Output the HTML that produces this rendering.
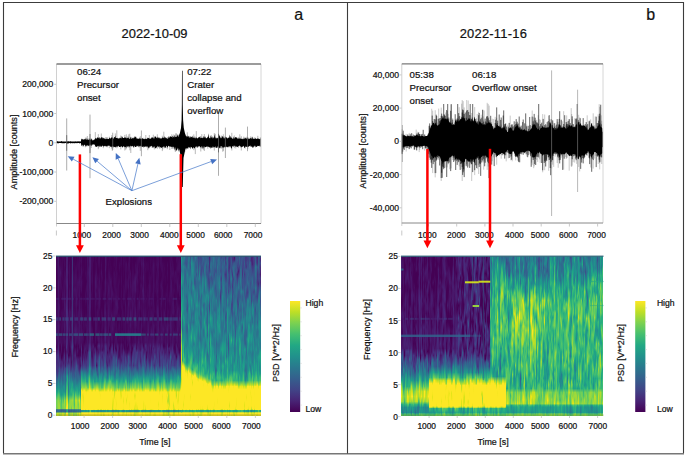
<!DOCTYPE html>
<html><head><meta charset="utf-8"><style>
html,body{margin:0;padding:0;background:#fff;overflow:hidden;width:685px;height:457px;position:relative}
.sp{position:absolute;display:flex}
.sp i{display:block;flex:1 1 0;height:100%}
svg{position:absolute;left:0;top:0;display:block}
text{font-family:"Liberation Sans",sans-serif;stroke:#111;stroke-width:0.22px;paint-order:stroke}
</style></head><body>
<div class="sp" style="left:56px;top:255.5px;width:205px;height:160.0px"><i style="background:linear-gradient(#46075a 0.0px,#450559 5.2px,#46075a 8.6px,#440256 13.2px,#440154 17.3px,#440154 20.9px,#440154 25.1px,#440154 30.4px,#440154 35.4px,#440256 38.4px,#450559 43.8px,#460a5d 47.8px,#460a5d 51.6px,#460a5d 56.6px,#471164 59.7px,#471164 64.4px,#471365 69.0px,#481769 73.8px,#481769 76.9px,#470e61 81.3px,#470e61 87.4px,#440154 90.9px,#471164 96.0px,#482979 99.5px,#472f7d 104.0px,#482878 105.8px,#46337f 109.9px,#46337f 113.2px,#404688 117.9px,#38598c 120.5px,#32648e 123.2px,#2d718e 127.9px,#1f978b 132.5px,#21a585 136.2px,#28ae80 138.9px,#6ece58 144.5px,#73d056 149.2px,#70cf57 152.8px,#34618d 153.7px,#375a8c 156.1px,#86d549 156.9px,#a2da37 160.0px)"></i><i style="background:linear-gradient(#460a5d 0.0px,#450457 4.1px,#46075a 9.0px,#450457 12.0px,#450457 17.0px,#440154 20.7px,#440154 25.8px,#440154 30.6px,#440154 33.6px,#440154 39.7px,#440154 42.4px,#450457 47.1px,#450559 51.7px,#460b5e 55.5px,#46085c 61.1px,#46075a 65.3px,#470d60 69.4px,#460b5e 73.4px,#471164 78.1px,#471164 81.9px,#450559 86.9px,#46075a 91.6px,#481a6c 95.7px,#472e7c 99.5px,#472a7a 102.7px,#472c7a 107.2px,#46337f 109.9px,#453581 113.1px,#453581 117.3px,#404688 120.5px,#2e6d8e 124.7px,#297a8e 127.9px,#238a8d 131.4px,#1fa287 136.0px,#3aba76 138.9px,#7fd34e 144.5px,#86d549 149.6px,#7fd34e 152.8px,#306a8e 153.7px,#2e6e8e 156.1px,#bade28 156.9px,#d2e21b 160.0px)"></i><i style="background:linear-gradient(#460b5e 0.0px,#471164 3.6px,#470d60 7.7px,#470d60 12.6px,#46085c 16.4px,#46085c 22.6px,#470e61 25.5px,#470e61 29.6px,#470e61 34.8px,#460a5d 39.8px,#46085c 44.0px,#470d60 48.3px,#470d60 51.3px,#471164 55.8px,#471063 59.7px,#46085c 65.3px,#470e61 68.9px,#470e61 73.9px,#470e61 76.9px,#471063 82.7px,#470e61 85.8px,#482374 91.8px,#482576 94.7px,#443b84 99.5px,#414287 102.9px,#46327e 107.1px,#46327e 109.9px,#3e4c8a 113.7px,#3e4c8a 116.1px,#31688e 120.5px,#26828e 125.1px,#20928c 127.9px,#1f978b 132.0px,#2eb37c 135.7px,#54c568 138.9px,#90d743 144.5px,#9dd93b 148.7px,#a0da39 152.8px,#2c728e 153.7px,#2f6b8e 156.1px,#b2dd2d 156.9px,#b5de2b 160.0px)"></i><i style="background:linear-gradient(#440154 0.0px,#450457 3.7px,#450457 9.0px,#470e61 12.6px,#471063 18.0px,#470d60 21.3px,#470d60 26.3px,#460a5d 30.4px,#46075a 33.9px,#46085c 39.3px,#46085c 44.2px,#460a5d 46.7px,#471164 52.1px,#460a5d 56.5px,#46085c 61.2px,#46075a 64.5px,#470e61 69.9px,#460b5e 74.0px,#46085c 77.3px,#460b5e 82.7px,#471164 86.4px,#450559 90.3px,#46075a 94.7px,#481467 99.5px,#482374 102.6px,#443983 106.9px,#443a83 109.9px,#3d4d8a 112.7px,#34608d 117.3px,#306a8e 120.5px,#2c728e 124.8px,#287d8e 127.9px,#20928c 131.6px,#24aa83 136.0px,#40bd72 138.9px,#7cd250 144.5px,#9bd93c 149.1px,#a5db36 152.8px,#2d718e 153.7px,#306a8e 156.1px,#b0dd2f 156.9px,#7ad151 160.0px)"></i><i style="background:linear-gradient(#440256 0.0px,#46075a 4.4px,#46085c 9.6px,#470d60 13.1px,#481668 16.6px,#470e61 21.1px,#470e61 26.6px,#460b5e 31.0px,#46075a 34.4px,#46075a 38.7px,#440256 42.7px,#440256 48.3px,#440256 52.9px,#450457 57.1px,#450457 60.5px,#450559 65.7px,#46085c 68.6px,#450457 72.7px,#450559 78.0px,#470d60 81.9px,#470e61 86.5px,#440256 90.0px,#440154 94.5px,#481467 99.5px,#482071 102.9px,#472a7a 106.4px,#482576 109.9px,#433e85 113.9px,#3d4e8a 117.4px,#39558c 120.5px,#31668e 124.0px,#297b8e 127.9px,#25838e 131.5px,#1f948c 134.8px,#1fa287 138.9px,#6ece58 144.5px,#67cc5c 148.0px,#75d054 152.8px,#33628d 153.7px,#2e6d8e 156.1px,#b8de29 156.9px,#a2da37 160.0px)"></i><i style="background:linear-gradient(#450457 0.0px,#450457 4.1px,#46075a 8.8px,#460a5d 14.0px,#460b5e 17.8px,#450559 22.3px,#46075a 26.6px,#460a5d 31.1px,#450559 35.4px,#440154 38.3px,#440154 42.9px,#440154 47.1px,#440154 52.5px,#46085c 56.2px,#450559 61.5px,#46085c 65.0px,#46075a 68.3px,#460a5d 73.0px,#460b5e 77.7px,#460b5e 81.5px,#470e61 86.6px,#481668 89.9px,#471365 94.7px,#440154 99.5px,#440154 102.0px,#482374 105.7px,#482475 109.9px,#424086 113.8px,#3d4e8a 117.0px,#33628d 120.5px,#297b8e 125.1px,#25838e 127.9px,#25848e 130.8px,#20928c 134.6px,#1f978b 138.9px,#3fbc73 144.5px,#4ec36b 147.8px,#58c765 152.8px,#39568c 153.7px,#33638d 156.1px,#9dd93b 156.9px,#b2dd2d 160.0px)"></i><i style="background:linear-gradient(#460b5e 0.0px,#46075a 3.7px,#46075a 8.2px,#46085c 12.8px,#450559 16.8px,#46075a 21.0px,#450457 25.7px,#440256 29.4px,#460a5d 35.3px,#470e61 39.1px,#460a5d 43.3px,#450559 47.5px,#450457 52.0px,#460a5d 57.2px,#460a5d 60.3px,#460a5d 65.0px,#460b5e 68.6px,#460b5e 73.3px,#46085c 77.1px,#460b5e 82.9px,#460b5e 86.9px,#440154 91.4px,#440154 95.7px,#440154 99.5px,#470d60 102.2px,#482677 106.7px,#472f7d 109.9px,#414487 112.7px,#3e4c8a 117.2px,#375a8c 120.5px,#34618d 123.5px,#2a768e 127.9px,#25838e 130.9px,#1f968b 134.5px,#1f9f88 138.9px,#65cb5e 144.5px,#7cd250 148.7px,#75d054 152.8px,#355f8d 153.7px,#2b748e 156.1px,#cde11d 156.9px,#e2e418 160.0px)"></i><i style="background:linear-gradient(#460b5e 0.0px,#450559 3.6px,#440154 8.4px,#440256 12.8px,#440154 18.3px,#450457 22.2px,#450559 26.1px,#46085c 30.7px,#46075a 33.6px,#460b5e 38.7px,#46085c 42.8px,#450457 47.9px,#450457 51.2px,#460b5e 57.1px,#460a5d 60.2px,#460b5e 65.6px,#460a5d 69.9px,#450559 73.5px,#46085c 76.9px,#470e61 81.4px,#460a5d 86.3px,#440256 91.3px,#440154 95.1px,#471063 99.5px,#482071 103.8px,#481a6c 107.2px,#482979 109.9px,#46337f 113.1px,#39558c 117.9px,#31678e 120.5px,#30698e 124.3px,#2a778e 127.9px,#218e8d 130.7px,#228c8d 134.3px,#22a785 138.9px,#4ec36b 144.5px,#7cd250 148.4px,#7cd250 152.8px,#33628d 153.7px,#2e6d8e 156.1px,#b8de29 156.9px,#e7e419 160.0px)"></i><i style="background:linear-gradient(#450559 0.0px,#46085c 4.2px,#460b5e 8.0px,#450559 13.8px,#460b5e 16.9px,#460a5d 22.2px,#470d60 25.4px,#460b5e 30.2px,#470e61 34.4px,#471164 39.5px,#471164 43.0px,#481769 47.0px,#481467 52.6px,#470d60 56.5px,#471063 59.9px,#471063 64.4px,#481668 68.4px,#481769 74.2px,#471063 77.7px,#471063 82.9px,#471365 86.7px,#46085c 91.4px,#481769 95.7px,#472d7b 99.5px,#46337f 102.9px,#482878 105.9px,#453781 109.9px,#3c508b 113.2px,#33638d 117.0px,#2c718e 120.5px,#2a778e 125.2px,#27808e 127.9px,#1f958b 131.1px,#1f998a 135.7px,#34b679 138.9px,#98d83e 144.5px,#a0da39 148.2px,#8bd646 152.8px,#31688e 153.7px,#31678e 156.1px,#a8db34 156.9px,#95d840 160.0px)"></i><i style="background:linear-gradient(#450457 0.0px,#440154 4.6px,#450457 9.1px,#440154 12.0px,#46075a 17.8px,#470d60 22.4px,#470d60 26.8px,#46085c 31.0px,#46075a 34.4px,#450559 38.2px,#46075a 42.9px,#470d60 48.3px,#471063 52.3px,#470e61 56.2px,#470e61 59.6px,#460b5e 64.0px,#470d60 69.3px,#460b5e 74.3px,#46075a 78.1px,#46085c 81.9px,#470e61 85.5px,#46085c 90.3px,#440256 95.4px,#46085c 99.5px,#470e61 102.6px,#481b6d 106.5px,#481a6c 109.9px,#433d84 112.5px,#3f4889 117.0px,#355f8d 120.5px,#32658e 124.1px,#2e6f8e 127.9px,#2a768e 130.6px,#26828e 135.9px,#1e9b8a 138.9px,#67cc5c 144.5px,#70cf57 149.2px,#84d44b 152.8px,#32658e 153.7px,#3a548c 156.1px,#7ad151 156.9px,#c0df25 160.0px)"></i><i style="background:linear-gradient(#481d6f 0.0px,#481b6d 3.6px,#481b6d 8.9px,#482173 13.7px,#481f70 17.3px,#481c6e 22.1px,#481f70 25.2px,#481c6e 29.4px,#48186a 34.1px,#481b6d 39.5px,#482173 42.8px,#482576 48.3px,#482878 51.0px,#472d7b 56.2px,#482878 60.4px,#482878 65.5px,#482173 69.6px,#481d6f 74.0px,#482173 78.1px,#482475 81.5px,#482878 87.0px,#463480 91.3px,#481a6c 95.6px,#482576 99.5px,#482979 102.9px,#46327e 106.3px,#404688 109.9px,#34608d 112.7px,#287c8e 117.6px,#218e8d 120.5px,#228c8d 124.1px,#27ad81 127.9px,#37b878 132.5px,#4cc26c 134.8px,#70cf57 138.9px,#d0e11c 144.5px,#dde318 148.6px,#fbe723 152.8px,#21908d 153.7px,#20938c 156.1px,#fde725 156.9px,#fde725 160.0px)"></i><i style="background:linear-gradient(#481a6c 0.0px,#481c6e 4.0px,#481a6c 8.9px,#481c6e 13.9px,#481f70 16.7px,#481b6d 21.4px,#482071 25.5px,#482475 29.5px,#481f70 33.7px,#482071 39.9px,#482173 42.9px,#481f70 48.0px,#482374 52.5px,#472a7a 56.5px,#472a7a 60.1px,#482677 65.2px,#482979 70.1px,#482878 73.5px,#481d6f 78.7px,#482576 82.9px,#482576 87.1px,#481a6c 91.2px,#48186a 96.1px,#46307e 99.5px,#423f85 103.0px,#46327e 107.3px,#404588 109.9px,#32648e 112.6px,#277e8e 117.4px,#20a486 120.5px,#28ae80 123.4px,#2db27d 127.9px,#42be71 131.3px,#50c46a 135.4px,#67cc5c 138.9px,#dae319 144.5px,#fde725 149.0px,#fde725 152.8px,#22a785 153.7px,#1fa287 156.1px,#fde725 156.9px,#fde725 160.0px)"></i><i style="background:linear-gradient(#440154 0.0px,#440154 4.7px,#440154 8.0px,#440256 12.2px,#450457 16.6px,#440154 21.9px,#440154 25.3px,#440154 31.1px,#440154 35.0px,#440256 38.5px,#440154 43.5px,#440154 46.7px,#440154 52.1px,#450559 55.5px,#470e61 60.8px,#471365 64.4px,#471164 69.3px,#471063 73.9px,#470d60 77.3px,#460a5d 81.3px,#46085c 85.8px,#460b5e 91.5px,#470d60 96.1px,#440154 99.5px,#481a6c 103.1px,#481b6d 105.6px,#423f85 109.9px,#3e4c8a 113.6px,#3c4f8a 116.6px,#31688e 120.5px,#2a768e 123.5px,#2a778e 127.9px,#2b748e 132.1px,#287d8e 136.0px,#228d8d 138.9px,#3bbb75 144.5px,#69cd5b 148.7px,#65cb5e 152.8px,#355f8d 153.7px,#3a548c 156.1px,#7ad151 156.9px,#81d34d 160.0px)"></i><i style="background:linear-gradient(#440154 0.0px,#450457 4.5px,#460a5d 9.5px,#460b5e 12.0px,#460b5e 18.0px,#460b5e 22.5px,#460a5d 26.7px,#450559 30.4px,#470e61 35.4px,#470e61 38.9px,#460b5e 43.0px,#470d60 47.6px,#470d60 51.0px,#481467 55.3px,#471063 60.6px,#471164 65.1px,#470e61 68.4px,#48186a 74.1px,#471365 77.2px,#471164 81.6px,#460a5d 86.5px,#440256 91.4px,#440154 95.2px,#450559 99.5px,#472f7d 103.8px,#472e7c 106.9px,#414487 109.9px,#375a8c 113.6px,#2c728e 117.7px,#277e8e 120.5px,#21918c 123.9px,#20938c 127.9px,#1fa187 131.7px,#1f9e89 135.5px,#28ae80 138.9px,#77d153 144.5px,#89d548 147.8px,#8bd646 152.8px,#31688e 153.7px,#3a548c 156.1px,#7ad151 156.9px,#77d153 160.0px)"></i><i style="background:linear-gradient(#450457 0.0px,#440256 3.9px,#440154 9.6px,#440154 12.6px,#440154 18.1px,#440154 20.7px,#440256 25.5px,#440154 29.7px,#440154 33.6px,#440256 39.4px,#450457 42.7px,#450457 47.8px,#450457 51.1px,#470e61 56.4px,#470d60 60.6px,#46085c 64.8px,#46075a 69.8px,#460a5d 73.2px,#450559 78.3px,#46075a 82.8px,#470e61 86.0px,#470e61 90.4px,#450457 95.4px,#470d60 99.5px,#481f70 102.3px,#482475 105.4px,#472e7c 109.9px,#443983 113.6px,#365d8d 117.4px,#2e6e8e 120.5px,#297a8e 123.4px,#1f968b 127.9px,#1f988b 131.7px,#23a983 135.2px,#28ae80 138.9px,#8ed645 144.5px,#95d840 148.7px,#98d83e 152.8px,#2f6b8e 153.7px,#33628d 156.1px,#9bd93c 156.9px,#aadc32 160.0px)"></i><i style="background:linear-gradient(#460a5d 0.0px,#440256 5.2px,#440256 7.7px,#450457 12.3px,#450457 16.5px,#46075a 21.9px,#460a5d 26.7px,#46085c 30.4px,#460a5d 33.7px,#470e61 38.9px,#470d60 42.5px,#46075a 46.8px,#470d60 51.5px,#471365 56.9px,#481769 61.0px,#471164 65.9px,#481769 69.2px,#471365 72.9px,#471164 77.6px,#460b5e 81.4px,#48186a 86.3px,#482979 91.1px,#481d6f 95.5px,#471164 99.5px,#471365 103.9px,#460a5d 106.2px,#481b6d 109.9px,#46327e 112.6px,#31678e 117.7px,#2d708e 120.5px,#25838e 123.5px,#1f998a 127.9px,#21a585 131.2px,#2cb17e 134.5px,#27ad81 138.9px,#98d83e 144.5px,#8ed645 149.1px,#6ccd5a 152.8px,#365d8d 153.7px,#33638d 156.1px,#9dd93b 156.9px,#b0dd2f 160.0px)"></i><i style="background:linear-gradient(#471063 0.0px,#471365 5.1px,#471164 8.1px,#471063 13.1px,#471063 16.4px,#48186a 22.0px,#481c6e 25.2px,#481d6f 29.9px,#48186a 34.7px,#481668 38.9px,#471063 43.8px,#471063 46.7px,#471164 51.3px,#481467 55.6px,#481c6e 60.3px,#481c6e 65.6px,#48186a 70.1px,#481b6d 74.5px,#48186a 77.2px,#481668 81.6px,#481f70 86.1px,#463480 91.0px,#482071 95.8px,#471063 99.5px,#481769 103.0px,#470e61 105.5px,#482374 109.9px,#3f4788 113.8px,#3a548c 117.2px,#34608d 120.5px,#2a768e 124.0px,#20a486 127.9px,#21a585 131.6px,#27ad81 134.7px,#40bd72 138.9px,#a5db36 144.5px,#95d840 148.2px,#a8db34 152.8px,#2e6f8e 153.7px,#2e6d8e 156.1px,#b8de29 156.9px,#c5e021 160.0px)"></i><i style="background:linear-gradient(#440154 0.0px,#440256 4.5px,#450457 8.4px,#440154 12.7px,#46085c 16.6px,#460a5d 22.4px,#470d60 26.0px,#46085c 31.0px,#470d60 34.8px,#460b5e 38.1px,#460a5d 42.3px,#46085c 46.9px,#46075a 51.7px,#460a5d 55.6px,#470d60 60.3px,#460b5e 65.7px,#46075a 68.3px,#46085c 72.7px,#471063 78.3px,#470d60 82.7px,#471063 86.0px,#481c6e 90.0px,#470e61 94.9px,#481769 99.5px,#48186a 103.4px,#482173 106.0px,#472a7a 109.9px,#423f85 113.4px,#3c508b 116.8px,#32648e 120.5px,#2a778e 125.0px,#25858e 127.9px,#1f958b 131.8px,#27ad81 134.9px,#54c568 138.9px,#7ad151 144.5px,#7fd34e 148.4px,#95d840 152.8px,#2e6e8e 153.7px,#375b8d 156.1px,#89d548 156.9px,#6ccd5a 160.0px)"></i><i style="background:linear-gradient(#440154 0.0px,#440154 3.6px,#450559 9.2px,#450457 12.4px,#450559 16.5px,#460b5e 21.3px,#460b5e 26.3px,#460a5d 30.3px,#471063 33.6px,#460b5e 39.1px,#450559 43.7px,#46075a 48.1px,#450559 51.3px,#46085c 55.4px,#471063 60.3px,#460b5e 64.3px,#470d60 70.1px,#481467 73.9px,#471164 77.5px,#460a5d 82.8px,#460a5d 86.7px,#440154 89.9px,#470d60 94.6px,#482071 99.5px,#481b6d 102.5px,#472a7a 107.3px,#46327e 109.9px,#423f85 113.7px,#3a538b 116.3px,#38588c 120.5px,#297a8e 124.9px,#277f8e 127.9px,#228c8d 131.3px,#21a685 136.2px,#24aa83 138.9px,#50c46a 144.5px,#46c06f 148.8px,#63cb5f 152.8px,#32648e 153.7px,#34608d 156.1px,#98d83e 156.9px,#81d34d 160.0px)"></i><i style="background:linear-gradient(#450457 0.0px,#440256 3.4px,#440256 8.5px,#46085c 13.3px,#460a5d 17.2px,#470e61 22.0px,#470e61 25.1px,#460a5d 29.3px,#471164 33.8px,#470d60 39.2px,#46085c 42.7px,#460b5e 48.2px,#46075a 52.5px,#46075a 55.5px,#46085c 59.7px,#460b5e 65.2px,#471164 69.6px,#481a6c 74.3px,#481769 77.6px,#471365 81.2px,#481467 87.0px,#450559 91.0px,#481c6e 96.1px,#482979 99.5px,#482576 102.6px,#472f7d 105.5px,#424086 109.9px,#3d4e8a 112.5px,#31678e 117.7px,#30698e 120.5px,#29798e 123.9px,#24868e 127.9px,#20938c 130.7px,#1f9f88 134.3px,#5ec962 138.9px,#bade28 144.5px,#a8db34 148.9px,#a2da37 152.8px,#2a768e 153.7px,#34618d 156.1px,#98d83e 156.9px,#93d741 160.0px)"></i><i style="background:linear-gradient(#440154 0.0px,#440154 4.0px,#450559 9.1px,#460a5d 13.2px,#46085c 16.8px,#470d60 21.8px,#460b5e 25.7px,#460b5e 30.6px,#470e61 34.1px,#471063 38.5px,#471365 42.6px,#471365 46.9px,#470e61 51.7px,#470d60 56.5px,#470e61 60.7px,#46075a 64.3px,#471063 69.0px,#481769 73.4px,#481668 77.3px,#471365 82.4px,#470d60 86.2px,#440154 90.0px,#46085c 95.5px,#460a5d 99.5px,#481f70 102.3px,#433d84 106.1px,#39568c 109.9px,#39568c 114.0px,#38588c 116.2px,#34618d 120.5px,#2d708e 124.3px,#277f8e 127.9px,#1f9f88 131.7px,#22a785 134.8px,#44bf70 138.9px,#c0df25 144.5px,#bade28 147.9px,#9bd93c 152.8px,#2c728e 153.7px,#32648e 156.1px,#a0da39 156.9px,#6ece58 160.0px)"></i><i style="background:linear-gradient(#46075a 0.0px,#450457 4.1px,#46075a 8.1px,#450559 12.7px,#440154 16.6px,#450559 21.4px,#470e61 26.8px,#470d60 29.3px,#470d60 34.8px,#46085c 38.8px,#46085c 44.0px,#46085c 48.1px,#440256 51.8px,#46075a 55.8px,#470d60 61.5px,#460b5e 65.5px,#460b5e 70.0px,#471063 72.7px,#471365 77.7px,#471063 82.1px,#460b5e 86.1px,#46085c 90.3px,#481467 94.8px,#46075a 99.5px,#48186a 102.3px,#482677 107.3px,#433d84 109.9px,#3b518b 114.2px,#365c8d 117.2px,#31688e 120.5px,#30698e 124.3px,#27808e 127.9px,#1fa088 132.5px,#27ad81 135.2px,#3aba76 138.9px,#90d743 144.5px,#90d743 149.2px,#9bd93c 152.8px,#2a788e 153.7px,#2c738e 156.1px,#cae11f 156.9px,#b5de2b 160.0px)"></i><i style="background:linear-gradient(#440256 0.0px,#450457 3.4px,#46085c 8.5px,#46085c 12.4px,#450559 16.5px,#46085c 22.3px,#471063 26.4px,#470d60 30.0px,#460a5d 33.9px,#460b5e 39.5px,#450559 43.0px,#46085c 48.2px,#450559 52.1px,#471063 56.7px,#471063 60.8px,#471164 65.8px,#460b5e 68.7px,#471164 74.3px,#481467 78.1px,#471164 82.6px,#470d60 87.5px,#440154 89.9px,#450559 94.7px,#440154 99.5px,#481d6f 103.4px,#481d6f 107.0px,#472a7a 109.9px,#46307e 112.9px,#39568c 116.9px,#31678e 120.5px,#2a778e 124.9px,#23888e 127.9px,#1f988b 132.5px,#20a386 136.2px,#31b57b 138.9px,#9dd93b 144.5px,#73d056 148.1px,#84d44b 152.8px,#2f6c8e 153.7px,#2f6c8e 156.1px,#b5de2b 156.9px,#93d741 160.0px)"></i><i style="background:linear-gradient(#470e61 0.0px,#46085c 4.1px,#460a5d 8.5px,#46085c 12.9px,#460a5d 18.0px,#470d60 21.6px,#471365 25.5px,#470d60 30.5px,#471063 35.2px,#471164 39.1px,#470e61 44.1px,#471164 48.5px,#471365 52.4px,#471164 57.0px,#471063 59.7px,#481467 65.1px,#481668 68.3px,#471365 73.1px,#481668 78.2px,#481769 82.6px,#471365 87.2px,#471164 91.5px,#440154 94.7px,#450559 99.5px,#481467 102.9px,#481769 107.0px,#481b6d 109.9px,#482374 112.9px,#3f4788 117.7px,#33638d 120.5px,#2b748e 123.3px,#21908d 127.9px,#1f9e89 131.3px,#1fa188 134.3px,#4ac16d 138.9px,#dfe318 144.5px,#bddf26 148.2px,#a8db34 152.8px,#297b8e 153.7px,#287c8e 156.1px,#e5e419 156.9px,#dde318 160.0px)"></i><i style="background:linear-gradient(#450457 0.0px,#46075a 5.0px,#440256 9.6px,#450559 12.8px,#450457 16.8px,#470d60 21.3px,#460b5e 26.6px,#470d60 29.7px,#450559 35.1px,#440256 38.6px,#450559 42.8px,#46085c 48.4px,#46085c 51.4px,#470d60 57.1px,#460b5e 60.5px,#450559 65.9px,#470d60 69.7px,#460b5e 74.2px,#471164 78.0px,#471063 83.1px,#470d60 87.0px,#470d60 90.7px,#440154 94.3px,#46075a 99.5px,#482071 102.3px,#48186a 107.2px,#471365 109.9px,#424186 114.3px,#3b518b 116.0px,#355f8d 120.5px,#2c738e 124.0px,#24878e 127.9px,#26828e 131.5px,#20928c 134.6px,#1fa187 138.9px,#6ccd5a 144.5px,#84d44b 147.7px,#8bd646 152.8px,#2e6e8e 153.7px,#31668e 156.1px,#a5db36 156.9px,#bade28 160.0px)"></i><i style="background:linear-gradient(#46085c 0.0px,#470d60 5.0px,#46085c 9.3px,#470e61 13.7px,#471063 16.9px,#460b5e 22.4px,#471164 26.9px,#470e61 30.9px,#470e61 34.3px,#440256 38.7px,#460a5d 43.3px,#460a5d 48.4px,#460b5e 51.9px,#471164 56.1px,#48186a 59.7px,#471164 64.5px,#470e61 68.6px,#471063 73.5px,#471164 77.8px,#471063 81.6px,#470e61 86.5px,#481769 89.0px,#472e7c 93.4px,#482475 96.5px,#482475 100.3px,#424086 105.5px,#443b84 109.5px,#365d8d 112.6px,#25858e 116.2px,#1f998a 118.5px,#27ad81 121.5px,#44bf70 125.5px,#7cd250 131.5px,#fde725 134.5px,#fde725 136.0px,#fde725 141.2px,#fde725 145.2px,#fde725 148.8px,#fde725 153.1px,#fde725 153.5px,#20928c 154.3px,#228c8d 155.9px,#dae319 156.7px,#f1e51d 160.0px)"></i><i style="background:linear-gradient(#440256 0.0px,#440256 4.0px,#440154 8.1px,#450457 13.1px,#450559 16.7px,#440154 21.3px,#450559 25.1px,#440256 30.6px,#440154 34.8px,#440154 39.3px,#440154 43.9px,#440154 47.7px,#440256 51.6px,#450457 55.7px,#46075a 60.6px,#46085c 64.7px,#450457 69.1px,#46075a 73.1px,#470e61 77.2px,#470e61 82.8px,#460a5d 86.5px,#440154 90.8px,#440154 93.5px,#440154 96.5px,#470e61 101.0px,#470e61 104.5px,#472e7c 109.5px,#3f4788 112.4px,#277f8e 116.4px,#21908d 118.5px,#22a785 122.9px,#34b679 125.5px,#95d840 131.5px,#dfe318 134.5px,#fde725 136.0px,#efe51c 139.4px,#fde725 145.2px,#fde725 148.3px,#fde725 153.1px,#f6e620 153.5px,#20928c 154.3px,#1f958b 155.9px,#fde725 156.7px,#f1e51d 160.0px)"></i><i style="background:linear-gradient(#440154 0.0px,#440256 5.2px,#440154 8.1px,#450559 13.5px,#440154 18.2px,#440154 20.7px,#440256 25.0px,#440154 30.3px,#440154 34.5px,#440154 39.8px,#450559 42.8px,#440154 46.6px,#440154 52.6px,#450457 56.4px,#450457 60.6px,#460b5e 65.1px,#460a5d 70.0px,#46075a 73.0px,#460a5d 77.4px,#460a5d 83.2px,#450559 86.5px,#46075a 89.9px,#450559 92.2px,#460b5e 96.5px,#481f70 101.4px,#443983 105.3px,#433e85 109.5px,#3e4c8a 111.6px,#2f6b8e 115.2px,#26828e 118.5px,#1e9d89 122.2px,#31b57b 125.5px,#89d548 131.5px,#f4e61e 134.5px,#fde725 136.0px,#e7e419 141.0px,#ece51b 144.9px,#f8e621 149.1px,#fde725 153.1px,#f8e621 153.5px,#1f948c 154.3px,#1f998a 155.9px,#fde725 156.7px,#efe51c 160.0px)"></i><i style="background:linear-gradient(#440154 0.0px,#440154 4.8px,#440154 8.5px,#440154 13.6px,#440154 17.7px,#440154 20.8px,#440154 26.4px,#440154 31.1px,#440154 35.5px,#440154 38.8px,#440154 42.5px,#440154 47.7px,#440154 51.1px,#440154 56.4px,#440256 61.0px,#46075a 65.1px,#46085c 69.6px,#46075a 74.0px,#440256 77.8px,#440154 81.7px,#440154 86.5px,#471063 90.4px,#48186a 93.2px,#481d6f 96.5px,#481769 101.2px,#482374 104.9px,#433e85 109.5px,#38598c 113.3px,#2e6d8e 115.3px,#218e8d 118.5px,#1f9f88 122.2px,#2fb47c 125.5px,#86d549 131.5px,#fbe723 134.5px,#fde725 136.0px,#fde725 140.5px,#fde725 144.6px,#fde725 149.4px,#fde725 153.1px,#fde725 153.5px,#1fa287 154.3px,#1fa287 155.9px,#fde725 156.7px,#fde725 160.0px)"></i><i style="background:linear-gradient(#440154 0.0px,#450559 3.9px,#450457 7.8px,#440256 12.3px,#46075a 17.2px,#440256 22.0px,#440154 25.3px,#440154 30.1px,#450559 34.9px,#460a5d 38.3px,#460b5e 43.5px,#450559 47.9px,#440154 51.4px,#450457 57.0px,#46075a 61.5px,#46085c 65.7px,#460b5e 68.7px,#450559 73.2px,#440154 77.9px,#440256 82.8px,#460a5d 86.5px,#470e61 88.9px,#48186a 92.7px,#470d60 96.5px,#482071 101.1px,#472a7a 104.6px,#443a83 109.5px,#3e4989 111.9px,#297a8e 116.5px,#228b8d 118.5px,#23a983 122.2px,#38b977 125.5px,#98d83e 131.5px,#dde318 134.5px,#fde725 136.0px,#fde725 140.7px,#fde725 143.7px,#fde725 148.4px,#fde725 153.1px,#efe51c 153.5px,#20928c 154.3px,#1f978b 155.9px,#fde725 156.7px,#fde725 160.0px)"></i><i style="background:linear-gradient(#440256 0.0px,#440154 3.6px,#440154 8.1px,#440256 12.2px,#450457 16.5px,#46075a 22.2px,#440256 25.5px,#460b5e 31.1px,#460b5e 33.6px,#450559 38.6px,#46085c 42.9px,#440256 47.4px,#440154 52.1px,#440154 56.2px,#450559 60.2px,#450559 64.6px,#470d60 69.6px,#460b5e 73.2px,#470d60 78.2px,#460b5e 82.2px,#460a5d 86.5px,#471365 89.3px,#471164 93.7px,#481467 96.5px,#481467 100.9px,#472f7d 105.4px,#463480 109.5px,#424086 111.7px,#33638d 115.4px,#297a8e 118.5px,#21908d 122.0px,#1fa188 125.5px,#93d741 131.5px,#c2df23 134.5px,#f8e621 136.0px,#fde725 140.1px,#fde725 144.3px,#fde725 148.1px,#fde725 153.1px,#fde725 153.5px,#1e9b8a 154.3px,#1e9b8a 155.9px,#fde725 156.7px,#fde725 160.0px)"></i><i style="background:linear-gradient(#46085c 0.0px,#46075a 4.3px,#450457 9.2px,#440256 13.1px,#46075a 16.9px,#450457 21.0px,#450457 25.7px,#46085c 29.9px,#46085c 34.0px,#450559 38.7px,#440256 43.0px,#450559 47.6px,#440256 52.6px,#440154 55.9px,#440256 60.9px,#46075a 64.2px,#440256 68.7px,#46085c 74.2px,#450559 78.3px,#460a5d 82.6px,#460a5d 86.5px,#460a5d 90.5px,#450457 94.0px,#481467 96.5px,#472e7c 101.7px,#443a83 105.6px,#414487 109.5px,#375b8d 113.4px,#365c8d 115.0px,#297b8e 118.5px,#1f978b 122.0px,#1e9b8a 125.5px,#65cb5e 131.5px,#dfe318 134.5px,#fde725 136.0px,#fde725 139.7px,#fde725 143.8px,#fde725 148.6px,#fde725 153.1px,#fde725 153.5px,#22a785 154.3px,#1fa088 155.9px,#fde725 156.7px,#fde725 160.0px)"></i><i style="background:linear-gradient(#460a5d 0.0px,#46085c 4.0px,#46085c 8.9px,#471063 12.8px,#471365 16.6px,#470d60 21.6px,#470e61 25.6px,#460b5e 30.8px,#470d60 35.0px,#460b5e 39.8px,#460a5d 44.2px,#46085c 47.7px,#470e61 51.4px,#460b5e 56.4px,#470d60 60.1px,#460b5e 64.9px,#470d60 69.7px,#470e61 74.0px,#46085c 77.8px,#46085c 81.8px,#470d60 86.5px,#481668 88.9px,#482374 93.9px,#443b84 96.5px,#423f85 101.5px,#414487 105.4px,#3e4a89 109.5px,#31678e 113.1px,#2d718e 114.9px,#20928c 118.5px,#2ab07f 122.3px,#3dbc74 125.5px,#69cd5b 131.5px,#efe51c 134.5px,#fde725 136.0px,#fde725 139.9px,#fde725 145.2px,#fde725 148.6px,#fde725 153.1px,#f4e61e 153.5px,#21908d 154.3px,#218f8d 155.9px,#efe51c 156.7px,#fde725 160.0px)"></i><i style="background:linear-gradient(#48186a 0.0px,#481c6e 4.3px,#48186a 8.4px,#481c6e 12.8px,#482071 18.0px,#481d6f 22.6px,#481c6e 25.5px,#481d6f 30.9px,#481769 35.5px,#481b6d 39.0px,#481a6c 43.4px,#481d6f 48.2px,#481d6f 52.2px,#481f70 56.3px,#481d6f 61.3px,#481d6f 65.0px,#481d6f 69.8px,#481f70 74.4px,#481b6d 77.5px,#48186a 82.8px,#481f70 86.5px,#472e7c 89.2px,#433e85 93.2px,#375a8c 96.5px,#32648e 101.1px,#31688e 105.9px,#277f8e 109.5px,#21908d 112.1px,#1e9c89 116.4px,#24aa83 118.5px,#54c568 122.5px,#75d054 125.5px,#d2e21b 131.5px,#fde725 134.5px,#fde725 136.0px,#fde725 141.1px,#fde725 144.1px,#fde725 148.9px,#fde725 153.1px,#fde725 153.5px,#2fb47c 154.3px,#2db27d 155.9px,#fde725 156.7px,#fde725 160.0px)"></i><i style="background:linear-gradient(#481a6c 0.0px,#481d6f 4.2px,#481c6e 9.6px,#481c6e 13.6px,#481b6d 16.6px,#481a6c 22.4px,#481a6c 25.7px,#481a6c 30.2px,#481a6c 33.7px,#481a6c 38.9px,#481b6d 44.1px,#481c6e 47.5px,#481d6f 51.0px,#481467 56.9px,#48186a 60.5px,#481b6d 64.1px,#481b6d 69.6px,#481b6d 72.9px,#481d6f 78.1px,#482071 82.0px,#481d6f 86.5px,#482878 89.3px,#453781 93.0px,#39568c 96.5px,#39568c 100.4px,#39568c 105.1px,#32648e 109.5px,#24878e 112.7px,#25838e 115.5px,#228b8d 118.5px,#1f9e89 121.1px,#37b878 125.5px,#a0da39 131.5px,#fde725 134.5px,#fde725 136.0px,#fde725 140.4px,#fde725 145.4px,#fde725 149.5px,#fde725 153.1px,#fde725 153.5px,#56c667 154.3px,#58c765 155.9px,#fde725 156.7px,#fde725 160.0px)"></i><i style="background:linear-gradient(#46075a 0.0px,#460a5d 4.2px,#460a5d 9.2px,#46085c 12.3px,#450457 17.7px,#46075a 21.0px,#46075a 25.1px,#440154 30.6px,#440154 34.3px,#46085c 39.0px,#450457 42.3px,#440256 47.0px,#440154 51.1px,#440154 57.1px,#440154 59.8px,#450559 65.7px,#46075a 68.3px,#470d60 72.9px,#470e61 78.3px,#470d60 82.4px,#460b5e 86.5px,#470d60 88.9px,#481668 92.8px,#470d60 96.5px,#481467 100.1px,#472c7a 104.8px,#433e85 109.5px,#375a8c 112.2px,#33628d 115.6px,#2a768e 118.5px,#20928c 122.5px,#25ab82 125.5px,#69cd5b 131.5px,#e2e418 134.5px,#fde725 136.0px,#fde725 139.3px,#fde725 144.9px,#fde725 149.7px,#fde725 153.1px,#fde725 153.5px,#1f998a 154.3px,#1f998a 155.9px,#fde725 156.7px,#fde725 160.0px)"></i><i style="background:linear-gradient(#46075a 0.0px,#46075a 4.0px,#46085c 9.0px,#46075a 12.9px,#46085c 16.9px,#460b5e 21.7px,#460b5e 25.1px,#46075a 30.6px,#46085c 34.7px,#450559 38.5px,#450559 42.3px,#450457 48.4px,#450457 52.2px,#440256 55.3px,#440154 61.1px,#440154 64.1px,#440154 69.1px,#46075a 72.8px,#470e61 78.7px,#471164 82.5px,#460a5d 86.5px,#481769 90.2px,#481668 92.9px,#470e61 96.5px,#470e61 100.5px,#481d6f 104.3px,#472c7a 109.5px,#3a548c 113.3px,#33628d 114.8px,#2e6e8e 118.5px,#21918c 122.2px,#22a785 125.5px,#4ac16d 131.5px,#cde11d 134.5px,#fde725 136.0px,#fde725 139.7px,#fde725 143.7px,#fde725 147.9px,#fde725 153.1px,#fde725 153.5px,#1f968b 154.3px,#1f958b 155.9px,#fde725 156.7px,#fde725 160.0px)"></i><i style="background:linear-gradient(#46075a 0.0px,#46075a 4.0px,#440154 7.9px,#440154 13.7px,#440154 17.5px,#440154 21.0px,#440154 25.0px,#440154 30.2px,#440154 35.3px,#440154 38.4px,#440154 43.4px,#440256 47.1px,#440154 52.8px,#440154 55.7px,#440154 60.0px,#450457 65.1px,#440154 68.8px,#440154 74.3px,#440154 78.4px,#440256 82.6px,#450559 86.5px,#481c6e 90.7px,#471365 93.0px,#48186a 96.5px,#482173 99.9px,#482878 104.8px,#463480 109.5px,#3c508b 112.0px,#2e6f8e 114.9px,#25858e 118.5px,#1f948c 121.8px,#2fb47c 125.5px,#67cc5c 131.5px,#fde725 134.5px,#fde725 136.0px,#fde725 139.4px,#fde725 143.6px,#fde725 148.9px,#fde725 153.1px,#f6e620 153.5px,#1f948c 154.3px,#1e9c89 155.9px,#fde725 156.7px,#fde725 160.0px)"></i><i style="background:linear-gradient(#440154 0.0px,#440154 3.6px,#440154 9.3px,#440154 12.2px,#440154 16.5px,#450457 21.8px,#450559 26.6px,#450457 30.8px,#450559 35.3px,#440256 38.9px,#440256 42.7px,#450457 46.6px,#450457 52.8px,#440154 56.4px,#440154 61.4px,#440256 65.6px,#440154 69.5px,#440154 74.1px,#440154 77.2px,#440154 83.0px,#440256 86.5px,#450559 90.5px,#481c6e 93.1px,#481769 96.5px,#46327e 100.7px,#404588 105.2px,#404588 109.5px,#365c8d 112.6px,#2f6c8e 114.8px,#228b8d 118.5px,#20928c 122.9px,#1e9c89 125.5px,#89d548 131.5px,#f8e621 134.5px,#fde725 136.0px,#fde725 140.0px,#fde725 143.6px,#fde725 149.0px,#fde725 153.1px,#f8e621 153.5px,#1f948c 154.3px,#20928c 155.9px,#f4e61e 156.7px,#e7e419 160.0px)"></i><i style="background:linear-gradient(#46085c 0.0px,#450559 3.6px,#450457 9.6px,#450559 13.8px,#460a5d 17.8px,#471164 20.8px,#48186a 26.6px,#481668 29.6px,#471063 34.9px,#481668 38.3px,#470e61 43.7px,#470e61 48.0px,#460a5d 51.6px,#46085c 55.7px,#46085c 61.2px,#471063 65.8px,#471164 68.5px,#471063 74.5px,#460b5e 78.0px,#470d60 81.8px,#460a5d 86.5px,#440154 89.8px,#481769 92.3px,#46327e 96.5px,#3d4e8a 100.9px,#3b518b 105.4px,#365c8d 109.5px,#2e6d8e 112.5px,#2a768e 114.6px,#228b8d 118.5px,#20928c 122.5px,#1fa187 125.5px,#89d548 131.5px,#e2e418 134.5px,#fde725 136.0px,#fde725 140.3px,#fde725 143.9px,#fde725 149.5px,#fde725 153.1px,#fde725 153.5px,#1fa287 154.3px,#1fa188 155.9px,#fde725 156.7px,#f4e61e 160.0px)"></i><i style="background:linear-gradient(#46085c 0.0px,#440154 4.6px,#46075a 7.7px,#46085c 12.8px,#470e61 17.8px,#470d60 21.9px,#471063 25.7px,#471063 30.9px,#46075a 34.5px,#470e61 38.2px,#460b5e 42.5px,#450559 48.4px,#440256 51.4px,#450559 56.4px,#450559 60.0px,#460b5e 64.5px,#471063 68.8px,#470e61 72.6px,#460b5e 76.9px,#450559 81.4px,#440154 86.5px,#440154 90.3px,#440154 92.7px,#481467 96.5px,#482576 100.7px,#472f7d 105.4px,#471365 109.5px,#414287 112.5px,#2f6b8e 116.3px,#27808e 118.5px,#1fa187 122.6px,#24aa83 125.5px,#a8db34 131.5px,#fde725 134.5px,#fde725 136.0px,#fde725 141.0px,#fde725 144.2px,#fde725 149.8px,#fde725 153.1px,#fde725 153.5px,#1f9a8a 154.3px,#1f998a 155.9px,#fde725 156.7px,#fde725 160.0px)"></i><i style="background:linear-gradient(#440154 0.0px,#440256 5.2px,#440154 9.0px,#440154 13.6px,#440154 16.7px,#460a5d 22.6px,#450559 25.3px,#460a5d 30.9px,#46075a 33.7px,#46085c 39.5px,#440256 43.4px,#46075a 47.4px,#450457 51.4px,#470d60 56.2px,#460b5e 60.1px,#460a5d 64.6px,#46085c 70.2px,#46075a 73.3px,#46085c 78.6px,#470d60 82.1px,#440256 86.5px,#481668 90.6px,#470d60 93.6px,#481a6c 96.5px,#482979 101.6px,#433e85 105.6px,#472e7c 109.5px,#404688 112.7px,#38588c 116.3px,#355e8d 118.5px,#218e8d 122.3px,#1fa287 125.5px,#aadc32 131.5px,#fde725 134.5px,#fde725 136.0px,#fde725 140.9px,#fde725 144.9px,#fde725 148.7px,#fde725 153.1px,#efe51c 153.5px,#218e8d 154.3px,#218e8d 155.9px,#f1e51d 156.7px,#f8e621 160.0px)"></i><i style="background:linear-gradient(#46085c 0.0px,#460a5d 3.9px,#46085c 8.3px,#440154 13.6px,#440154 16.8px,#450559 21.2px,#46075a 26.9px,#460a5d 30.6px,#470e61 34.3px,#460a5d 39.3px,#46085c 43.1px,#470e61 46.7px,#460a5d 52.7px,#460b5e 55.3px,#46075a 61.4px,#450457 64.7px,#450457 69.3px,#46075a 73.5px,#460a5d 77.8px,#481668 82.9px,#471063 86.5px,#482677 89.5px,#48186a 94.1px,#481668 96.5px,#453882 101.0px,#3c508b 105.8px,#38588c 109.5px,#2e6e8e 111.8px,#2d708e 114.9px,#2e6d8e 118.5px,#26818e 121.6px,#1fa188 125.5px,#7fd34e 131.5px,#eae51a 134.5px,#fde725 136.0px,#fde725 141.0px,#fde725 144.4px,#fde725 149.4px,#fde725 153.1px,#dfe318 153.5px,#228b8d 154.3px,#228c8d 155.9px,#efe51c 156.7px,#fde725 160.0px)"></i><i style="background:linear-gradient(#470d60 0.0px,#460b5e 4.7px,#46085c 8.0px,#450457 13.0px,#450559 16.6px,#460a5d 21.6px,#471063 25.3px,#460b5e 30.6px,#471365 34.5px,#481467 39.1px,#471365 43.1px,#471164 47.7px,#470d60 51.7px,#450457 55.8px,#46075a 61.5px,#450457 64.9px,#450457 68.5px,#450559 73.2px,#470d60 78.4px,#471063 82.3px,#471164 86.5px,#482878 89.8px,#481c6e 93.3px,#472a7a 96.5px,#3a538b 101.3px,#32648e 106.1px,#30698e 109.5px,#297a8e 111.8px,#26828e 116.4px,#228c8d 118.5px,#1fa188 121.9px,#22a785 125.5px,#5ec962 131.5px,#bade28 134.5px,#f8e621 136.0px,#fde725 140.5px,#fde725 144.4px,#fde725 148.7px,#fde725 153.1px,#fde725 153.5px,#1e9b8a 154.3px,#1f9f88 155.9px,#fde725 156.7px,#fde725 160.0px)"></i><i style="background:linear-gradient(#440154 0.0px,#440154 4.1px,#440154 9.2px,#440154 12.9px,#450457 17.8px,#440256 20.8px,#440256 25.0px,#46075a 29.8px,#460a5d 34.1px,#46085c 38.4px,#46085c 43.1px,#46075a 47.9px,#440256 52.7px,#440154 57.2px,#440154 60.8px,#46075a 65.7px,#440154 69.2px,#440154 74.0px,#440154 78.6px,#460b5e 82.6px,#460b5e 86.5px,#471164 89.6px,#481467 93.8px,#482374 96.5px,#453781 101.4px,#453581 106.1px,#433d84 109.5px,#3b518b 113.1px,#34618d 115.7px,#26828e 118.5px,#1f988b 121.5px,#29af7f 125.5px,#73d056 131.5px,#bade28 134.5px,#fde725 136.0px,#f8e621 139.3px,#fde725 144.0px,#fde725 149.2px,#fde725 153.1px,#dfe318 153.5px,#23898e 154.3px,#228c8d 155.9px,#efe51c 156.7px,#e5e419 160.0px)"></i><i style="background:linear-gradient(#440154 0.0px,#440256 3.6px,#460a5d 9.1px,#46085c 12.5px,#471063 16.6px,#46085c 22.4px,#46075a 25.2px,#46075a 31.0px,#450559 34.8px,#450559 38.5px,#440256 42.7px,#440154 47.8px,#440154 51.4px,#460a5d 56.4px,#46075a 60.8px,#450559 63.9px,#450457 68.7px,#46085c 74.0px,#450559 77.1px,#471164 82.7px,#481467 86.5px,#481d6f 90.4px,#481c6e 93.8px,#472d7b 96.5px,#46307e 101.6px,#404588 104.9px,#3d4d8a 109.5px,#32648e 113.4px,#30698e 114.6px,#23888e 118.5px,#1f988b 121.1px,#20a486 125.5px,#4ac16d 131.5px,#c8e020 134.5px,#fde725 136.0px,#fde725 140.5px,#fde725 143.7px,#fde725 148.9px,#fbe723 153.1px,#dae319 153.5px,#25858e 154.3px,#24878e 155.9px,#eae51a 156.7px,#cde11d 160.0px)"></i><i style="background:linear-gradient(#450559 0.0px,#440256 3.9px,#440154 9.0px,#440154 12.8px,#440256 17.0px,#46085c 21.9px,#440154 26.9px,#440154 29.7px,#440256 33.7px,#440256 38.2px,#440154 44.1px,#440154 48.0px,#440154 50.9px,#450457 55.6px,#460a5d 61.1px,#460b5e 64.2px,#460b5e 69.2px,#460a5d 72.9px,#450559 77.4px,#46085c 82.1px,#470e61 86.5px,#481a6c 89.8px,#460b5e 93.9px,#482979 96.5px,#482173 100.8px,#423f85 106.1px,#3e4989 109.5px,#32648e 112.5px,#32658e 115.4px,#277f8e 118.5px,#26828e 121.6px,#1f998a 125.5px,#4ec36b 131.5px,#d2e21b 134.5px,#fde725 136.0px,#fde725 140.1px,#fde725 145.5px,#fde725 148.9px,#fde725 153.1px,#fde725 153.5px,#1f968b 154.3px,#20928c 155.9px,#f4e61e 156.7px,#fde725 160.0px)"></i><i style="background:linear-gradient(#440154 0.0px,#440154 3.7px,#440154 7.9px,#440154 13.3px,#440154 17.4px,#440154 21.6px,#440154 26.2px,#440154 29.4px,#440154 33.7px,#46085c 38.5px,#450457 42.8px,#440154 48.0px,#440154 52.6px,#440154 56.4px,#440154 61.1px,#450559 65.5px,#46075a 69.0px,#440256 73.7px,#440154 78.5px,#46075a 83.1px,#46085c 86.5px,#470e61 90.4px,#471063 93.0px,#482576 96.5px,#453581 100.0px,#46327e 104.7px,#443b84 109.5px,#3b528b 112.6px,#30698e 114.9px,#2c718e 118.5px,#1f958b 122.5px,#22a884 125.5px,#73d056 131.5px,#d5e21a 134.5px,#fde725 136.0px,#fde725 139.8px,#fde725 144.4px,#fde725 148.6px,#fde725 153.1px,#f1e51d 153.5px,#218e8d 154.3px,#218e8d 155.9px,#eae51a 156.7px,#c0df25 160.0px)"></i><i style="background:linear-gradient(#440154 0.0px,#440154 5.3px,#440154 8.5px,#440256 13.3px,#440256 18.2px,#440154 22.1px,#46085c 26.4px,#46075a 30.9px,#46085c 34.4px,#470e61 38.4px,#460b5e 42.7px,#46075a 46.8px,#470e61 51.1px,#471365 57.0px,#471063 61.4px,#470d60 65.5px,#460b5e 68.6px,#470e61 72.6px,#471063 78.3px,#481467 82.3px,#471063 86.5px,#482071 90.0px,#481d6f 93.0px,#472a7a 96.5px,#433e85 101.0px,#3e4c8a 105.7px,#355e8d 109.5px,#34618d 112.5px,#2a788e 115.4px,#24868e 118.5px,#22a785 121.9px,#4ac16d 125.5px,#bddf26 131.5px,#f4e61e 134.5px,#fde725 136.0px,#fde725 139.4px,#fde725 144.3px,#fde725 148.6px,#fde725 153.1px,#f8e621 153.5px,#20928c 154.3px,#20928c 155.9px,#f8e621 156.7px,#d0e11c 160.0px)"></i><i style="background:linear-gradient(#471365 0.0px,#481668 3.8px,#471365 9.0px,#481769 13.6px,#471164 17.1px,#471365 22.1px,#481769 26.0px,#481467 29.9px,#471365 33.7px,#471063 38.5px,#450559 44.0px,#470e61 48.2px,#471164 52.8px,#481769 56.8px,#471365 60.8px,#481467 64.0px,#471365 68.3px,#481a6c 74.2px,#481c6e 77.1px,#482071 81.4px,#481b6d 86.5px,#453581 90.7px,#463480 93.0px,#453781 96.5px,#433d84 100.0px,#3d4d8a 104.6px,#355e8d 109.5px,#32658e 112.0px,#287c8e 115.5px,#20928c 118.5px,#1e9c89 121.2px,#46c06f 125.5px,#77d153 131.5px,#d5e21a 134.5px,#fde725 136.0px,#fde725 140.3px,#fde725 144.2px,#fde725 148.0px,#fde725 153.1px,#efe51c 153.5px,#21918c 154.3px,#20938c 155.9px,#fde725 156.7px,#fde725 160.0px)"></i><i style="background:linear-gradient(#460b5e 0.0px,#460a5d 4.2px,#460a5d 8.8px,#450559 12.6px,#440256 17.0px,#450457 21.3px,#460a5d 26.9px,#46075a 31.0px,#46075a 34.2px,#440154 39.4px,#450457 43.9px,#46075a 47.9px,#440256 52.3px,#450559 55.4px,#460a5d 61.2px,#460a5d 64.0px,#460b5e 70.2px,#470d60 72.9px,#460b5e 77.3px,#470d60 82.1px,#470d60 86.5px,#482173 89.6px,#482979 92.4px,#472a7a 96.5px,#482979 100.2px,#482374 106.1px,#453882 109.5px,#3f4889 111.9px,#33638d 114.6px,#26828e 118.5px,#24878e 121.6px,#22a785 125.5px,#73d056 131.5px,#d8e219 134.5px,#fde725 136.0px,#fde725 140.2px,#fde725 143.7px,#fde725 149.2px,#fde725 153.1px,#fde725 153.5px,#21a585 154.3px,#23a983 155.9px,#fde725 156.7px,#fde725 160.0px)"></i><i style="background:linear-gradient(#450457 0.0px,#440154 4.3px,#440154 9.3px,#440154 12.5px,#440154 16.4px,#440256 21.7px,#46085c 26.9px,#46085c 29.3px,#450559 35.1px,#460b5e 38.8px,#46085c 43.7px,#460b5e 47.3px,#46075a 52.6px,#460a5d 56.3px,#46085c 60.2px,#450559 64.5px,#450559 69.5px,#46075a 73.1px,#46085c 77.5px,#470d60 83.1px,#470e61 86.5px,#471365 89.3px,#481769 93.5px,#46085c 96.5px,#482374 100.2px,#472a7a 104.6px,#481d6f 109.5px,#433d84 112.9px,#3e4c8a 115.3px,#32648e 118.5px,#2a778e 121.9px,#22a884 125.5px,#8ed645 131.5px,#f1e51d 134.5px,#fde725 136.0px,#fde725 139.7px,#fde725 145.4px,#fde725 149.3px,#fde725 153.1px,#ece51b 153.5px,#228b8d 154.3px,#21908d 155.9px,#fde725 156.7px,#fde725 160.0px)"></i><i style="background:linear-gradient(#450457 0.0px,#440256 3.8px,#46075a 8.4px,#450559 12.5px,#460a5d 17.9px,#460a5d 21.9px,#46085c 25.6px,#471164 30.4px,#481467 35.1px,#471164 38.4px,#460a5d 43.0px,#470d60 47.4px,#471063 52.0px,#471365 55.3px,#481668 60.2px,#470e61 64.3px,#471063 68.5px,#471063 73.2px,#470e61 77.3px,#471063 82.5px,#48186a 86.5px,#481b6d 89.0px,#481f70 93.8px,#481c6e 96.5px,#482979 101.6px,#472e7c 106.1px,#443b84 109.5px,#39558c 111.7px,#32648e 114.6px,#297b8e 118.5px,#1f9a8a 122.9px,#38b977 125.5px,#bade28 131.5px,#fde725 134.5px,#fde725 136.0px,#fde725 139.5px,#fde725 143.8px,#fde725 148.2px,#fde725 153.1px,#f1e51d 153.5px,#20928c 154.3px,#1f958b 155.9px,#fde725 156.7px,#dfe318 160.0px)"></i><i style="background:linear-gradient(#46075a 0.0px,#450559 4.5px,#440256 9.2px,#450457 12.1px,#460a5d 17.0px,#470e61 21.4px,#470d60 26.8px,#470d60 30.5px,#471063 34.5px,#470d60 38.7px,#470d60 43.0px,#460b5e 47.1px,#470d60 52.3px,#470d60 55.5px,#460b5e 60.6px,#470d60 65.4px,#460b5e 69.2px,#440154 73.4px,#46085c 78.1px,#470e61 81.3px,#471063 86.5px,#481668 89.0px,#440154 92.4px,#481769 96.5px,#472f7d 100.4px,#482071 105.0px,#443a83 109.5px,#365d8d 112.1px,#29798e 115.2px,#1f948c 118.5px,#2eb37c 122.4px,#56c667 125.5px,#9dd93b 131.5px,#dfe318 134.5px,#fde725 136.0px,#fde725 140.9px,#fde725 145.0px,#fde725 149.2px,#fde725 153.1px,#fde725 153.5px,#1fa188 154.3px,#1fa287 155.9px,#fde725 156.7px,#fde725 160.0px)"></i><i style="background:linear-gradient(#450559 0.0px,#440256 3.4px,#450457 8.3px,#450457 12.8px,#450559 17.5px,#460a5d 21.5px,#471365 26.1px,#470d60 30.9px,#46085c 34.7px,#46075a 38.4px,#46085c 44.1px,#46085c 48.3px,#46075a 51.9px,#460b5e 56.7px,#46085c 59.7px,#46085c 65.1px,#460b5e 69.4px,#460a5d 74.4px,#460a5d 78.3px,#46085c 81.2px,#450457 86.5px,#440154 89.8px,#481467 94.1px,#482173 96.5px,#482878 100.1px,#46337f 105.5px,#423f85 109.5px,#3c4f8a 112.2px,#33638d 115.3px,#2a778e 118.5px,#21a585 122.8px,#58c765 125.5px,#7fd34e 131.5px,#eae51a 134.5px,#fde725 136.0px,#fde725 140.9px,#fde725 144.3px,#fde725 149.2px,#fde725 153.1px,#fde725 153.5px,#1fa088 154.3px,#1fa088 155.9px,#fde725 156.7px,#fde725 160.0px)"></i><i style="background:linear-gradient(#440256 0.0px,#440154 3.9px,#440154 8.8px,#450457 12.3px,#440256 17.9px,#450559 20.9px,#470d60 25.1px,#470d60 29.3px,#471063 35.3px,#471063 39.3px,#471063 43.6px,#46085c 48.4px,#450559 52.3px,#46085c 55.3px,#471164 59.7px,#470d60 64.0px,#470e61 68.4px,#470e61 72.7px,#470e61 77.4px,#471063 81.8px,#460a5d 86.5px,#481769 89.9px,#46307e 93.1px,#463480 96.5px,#482374 101.3px,#463480 105.0px,#3e4a89 109.5px,#33628d 113.5px,#297b8e 115.9px,#24868e 118.5px,#1fa188 121.0px,#35b779 125.5px,#98d83e 131.5px,#fde725 134.5px,#fde725 136.0px,#fde725 140.1px,#fde725 144.1px,#fde725 149.4px,#fde725 153.1px,#fbe723 153.5px,#1f948c 154.3px,#20938c 155.9px,#f6e620 156.7px,#eae51a 160.0px)"></i><i style="background:linear-gradient(#440154 0.0px,#440154 3.4px,#440154 9.4px,#440154 13.2px,#440154 18.0px,#450457 21.3px,#440154 26.8px,#440154 29.4px,#470d60 35.0px,#471164 38.1px,#450457 44.1px,#440154 47.2px,#440154 52.1px,#46075a 55.8px,#470d60 60.8px,#470e61 64.8px,#471063 68.7px,#481467 72.7px,#460a5d 78.7px,#470e61 82.1px,#460a5d 86.5px,#482173 89.5px,#472f7d 93.7px,#46337f 96.5px,#46337f 101.2px,#3f4788 105.8px,#3c4f8a 109.5px,#32648e 113.0px,#29798e 116.3px,#25848e 118.5px,#1fa187 122.6px,#22a785 125.5px,#8bd646 131.5px,#c8e020 134.5px,#f6e620 136.0px,#fde725 140.6px,#efe51c 145.1px,#dde318 149.6px,#d0e11c 153.1px,#addc30 153.5px,#287c8e 154.3px,#27808e 155.9px,#d0e11c 156.7px,#b2dd2d 160.0px)"></i><i style="background:linear-gradient(#440154 0.0px,#440154 3.7px,#450457 8.4px,#440256 12.9px,#46075a 17.7px,#450559 21.1px,#46075a 26.1px,#450457 30.0px,#440256 33.9px,#460a5d 38.4px,#460a5d 44.2px,#450457 47.0px,#450559 51.3px,#460a5d 56.0px,#460a5d 59.7px,#471164 64.5px,#470d60 70.0px,#470e61 73.3px,#460a5d 78.0px,#450559 82.2px,#440154 86.5px,#440154 90.5px,#440154 93.6px,#481a6c 96.5px,#3e4a89 101.2px,#3c4f8a 104.9px,#355e8d 109.5px,#2e6f8e 112.5px,#2a788e 114.6px,#277e8e 118.5px,#20938c 121.3px,#21a685 125.5px,#7fd34e 131.5px,#cde11d 134.5px,#fde725 136.0px,#f8e621 140.3px,#e7e419 145.2px,#ece51b 148.6px,#f8e621 153.1px,#d8e219 153.5px,#25848e 154.3px,#26828e 155.9px,#cde11d 156.7px,#e5e419 160.0px)"></i><i style="background:linear-gradient(#460b5e 0.0px,#450457 3.5px,#46075a 9.1px,#440154 12.7px,#460a5d 17.0px,#460b5e 22.4px,#460b5e 26.0px,#460a5d 31.2px,#450559 35.6px,#46075a 38.0px,#460a5d 43.7px,#46075a 47.6px,#46085c 51.0px,#470e61 56.6px,#470d60 60.4px,#460b5e 65.1px,#470d60 68.4px,#46075a 72.8px,#46085c 78.2px,#46075a 82.3px,#460a5d 86.5px,#481668 89.1px,#482979 93.4px,#482878 96.5px,#404688 101.2px,#3c508b 105.3px,#38588c 109.5px,#31688e 112.9px,#306a8e 114.7px,#31688e 118.5px,#24878e 122.9px,#1fa287 125.5px,#60ca60 131.5px,#90d743 134.5px,#c8e020 136.0px,#d2e21b 139.6px,#fde725 143.7px,#fde725 149.0px,#fde725 153.1px,#f1e51d 153.5px,#218f8d 154.3px,#21908d 155.9px,#f6e620 156.7px,#fde725 160.0px)"></i><i style="background:linear-gradient(#450559 0.0px,#450457 5.0px,#450457 9.3px,#46075a 12.9px,#450457 17.1px,#46085c 22.0px,#460a5d 25.2px,#46085c 30.6px,#460b5e 33.7px,#46085c 38.0px,#470e61 43.4px,#471063 47.7px,#470d60 51.7px,#470e61 55.7px,#460b5e 61.2px,#450457 65.1px,#46085c 68.7px,#450559 72.8px,#470d60 78.2px,#470e61 83.1px,#470d60 86.5px,#46075a 90.4px,#450457 92.6px,#482677 96.5px,#46337f 100.1px,#3d4e8a 105.4px,#3d4e8a 109.5px,#375b8d 111.7px,#34618d 116.1px,#2e6e8e 118.5px,#287c8e 121.2px,#1fa287 125.5px,#56c667 131.5px,#aadc32 134.5px,#efe51c 136.0px,#fde725 139.9px,#f8e621 143.7px,#fde725 147.9px,#f8e621 153.1px,#dae319 153.5px,#24878e 154.3px,#238a8d 155.9px,#efe51c 156.7px,#fde725 160.0px)"></i><i style="background:linear-gradient(#470d60 0.0px,#460a5d 3.8px,#460a5d 8.2px,#450559 13.4px,#460a5d 17.3px,#46075a 22.4px,#46075a 25.7px,#450559 30.3px,#460a5d 34.9px,#460b5e 38.9px,#471063 43.0px,#481668 48.1px,#470e61 52.5px,#471063 57.0px,#46085c 60.0px,#46075a 64.8px,#460a5d 69.1px,#460a5d 74.2px,#470e61 77.3px,#471164 81.7px,#470e61 86.5px,#471063 90.3px,#450457 93.9px,#481a6c 96.5px,#3f4889 101.5px,#365d8d 104.3px,#355e8d 109.5px,#2d718e 112.4px,#2a768e 115.2px,#228d8d 118.5px,#1f998a 122.5px,#3dbc74 125.5px,#75d054 131.5px,#c2df23 134.5px,#fde725 136.0px,#fde725 140.1px,#fbe723 144.0px,#f1e51d 147.9px,#fde725 153.1px,#e2e418 153.5px,#228b8d 154.3px,#218f8d 155.9px,#fde725 156.7px,#fde725 160.0px)"></i><i style="background:linear-gradient(#450559 0.0px,#440154 5.2px,#440154 9.4px,#440154 13.1px,#450559 17.6px,#450457 21.7px,#450457 25.7px,#450559 29.9px,#46075a 34.6px,#46075a 38.5px,#470d60 43.4px,#471365 47.5px,#471365 51.8px,#470d60 55.3px,#450559 61.1px,#440154 65.3px,#440154 69.9px,#450457 72.9px,#460a5d 77.8px,#450559 82.4px,#460b5e 86.5px,#481f70 90.3px,#482475 93.1px,#482878 96.5px,#472e7c 100.7px,#453581 106.1px,#424086 109.5px,#355f8d 112.4px,#297a8e 116.4px,#23888e 118.5px,#1f948c 121.9px,#31b57b 125.5px,#6ece58 131.5px,#f1e51d 134.5px,#fde725 136.0px,#fde725 139.8px,#fde725 144.3px,#fde725 149.3px,#fde725 153.1px,#f4e61e 153.5px,#21908d 154.3px,#218e8d 155.9px,#eae51a 156.7px,#fbe723 160.0px)"></i><i style="background:linear-gradient(#440256 0.0px,#440154 4.3px,#440256 9.2px,#440154 13.5px,#440154 17.3px,#450457 22.1px,#46075a 25.5px,#460a5d 29.7px,#46075a 35.2px,#46075a 38.1px,#46085c 42.4px,#440256 46.8px,#46085c 51.7px,#440154 55.4px,#46075a 59.9px,#440154 65.3px,#450559 68.5px,#46085c 73.4px,#440154 78.0px,#46085c 83.1px,#450457 86.5px,#471063 89.5px,#481668 92.4px,#470e61 96.5px,#471164 101.4px,#453781 104.5px,#39558c 109.5px,#2e6d8e 113.0px,#2a788e 114.8px,#26818e 118.5px,#228b8d 121.0px,#21a685 125.5px,#44bf70 131.5px,#c5e021 134.5px,#fde725 136.0px,#fde725 141.0px,#fde725 144.9px,#fde725 148.0px,#fde725 153.1px,#f1e51d 153.5px,#238a8d 154.3px,#26828e 155.9px,#bddf26 156.7px,#f1e51d 160.0px)"></i><i style="background:linear-gradient(#440154 0.0px,#440154 3.8px,#46085c 9.2px,#46085c 12.2px,#440154 18.1px,#450457 20.8px,#46075a 26.0px,#440256 29.6px,#440256 34.7px,#440154 38.3px,#440154 42.5px,#440256 47.3px,#440256 52.3px,#440256 56.3px,#46075a 60.7px,#450457 64.9px,#460b5e 69.3px,#46085c 72.8px,#450559 77.7px,#46085c 81.3px,#450457 86.5px,#46075a 89.0px,#440154 92.6px,#460a5d 96.5px,#460a5d 99.9px,#472f7d 104.5px,#404588 109.5px,#3e4a89 112.3px,#34618d 114.5px,#2e6e8e 118.5px,#218f8d 123.0px,#1f9a8a 125.5px,#67cc5c 131.5px,#e2e418 134.5px,#fde725 136.0px,#fde725 141.0px,#fde725 145.0px,#fde725 148.3px,#fde725 153.1px,#fde725 153.5px,#1e9d89 154.3px,#1f998a 155.9px,#fde725 156.7px,#eae51a 160.0px)"></i><i style="background:linear-gradient(#450457 0.0px,#450559 4.6px,#46075a 8.0px,#440154 14.0px,#440154 17.7px,#440154 21.4px,#440154 25.9px,#440154 30.1px,#440154 35.3px,#440256 39.2px,#440256 42.5px,#450457 46.8px,#440154 52.5px,#440256 55.8px,#440154 60.4px,#440154 65.1px,#440256 68.8px,#450457 74.0px,#440256 78.3px,#460a5d 81.3px,#450457 86.5px,#471063 90.0px,#471365 94.0px,#481467 96.5px,#481a6c 101.2px,#482374 104.6px,#443983 109.5px,#3e4989 112.0px,#355f8d 116.2px,#2d708e 118.5px,#20928c 122.6px,#24aa83 125.5px,#60ca60 131.5px,#aadc32 134.5px,#dfe318 136.0px,#ece51b 139.8px,#fde725 144.6px,#fde725 148.5px,#fde725 153.1px,#fde725 153.5px,#25ac82 154.3px,#28ae80 155.9px,#fde725 156.7px,#fde725 160.0px)"></i><i style="background:linear-gradient(#460a5d 0.0px,#46085c 5.0px,#46085c 7.8px,#450457 12.0px,#450559 18.3px,#46085c 21.1px,#460b5e 25.4px,#450559 31.0px,#460a5d 35.4px,#46085c 39.1px,#46075a 42.6px,#46085c 47.1px,#460a5d 51.3px,#440256 55.2px,#450559 59.6px,#46085c 64.8px,#46075a 69.4px,#450559 72.8px,#46085c 76.9px,#460a5d 81.5px,#460a5d 86.5px,#481769 89.0px,#481467 92.3px,#481a6c 96.5px,#472a7a 100.3px,#482173 104.7px,#3c4f8a 109.5px,#375b8d 111.7px,#2e6d8e 114.7px,#277e8e 118.5px,#228b8d 121.1px,#26ad81 125.5px,#5cc863 131.5px,#b8de29 134.5px,#ece51b 136.0px,#e2e418 140.2px,#fde725 143.7px,#fde725 149.1px,#fde725 153.1px,#fde725 153.5px,#1fa287 154.3px,#1fa287 155.9px,#fde725 156.7px,#fde725 160.0px)"></i><i style="background:linear-gradient(#440154 0.0px,#440154 5.1px,#440154 8.1px,#440154 12.4px,#440154 17.8px,#440154 21.7px,#440154 25.1px,#440256 31.1px,#440154 33.7px,#440154 39.0px,#440154 42.7px,#450559 48.1px,#46085c 51.2px,#460b5e 56.3px,#460a5d 60.5px,#450559 64.7px,#450457 69.1px,#440256 73.4px,#460b5e 77.4px,#46075a 82.1px,#440256 86.5px,#460a5d 89.1px,#46085c 92.4px,#481668 96.5px,#472e7c 101.0px,#453781 105.1px,#404688 109.5px,#3c4f8a 112.7px,#2f6b8e 115.6px,#297b8e 118.5px,#1f988b 122.2px,#22a884 125.5px,#56c667 131.5px,#bade28 134.5px,#fde725 136.0px,#fde725 139.8px,#fde725 145.5px,#fde725 148.3px,#fde725 153.1px,#f1e51d 153.5px,#218f8d 154.3px,#228d8d 155.9px,#eae51a 156.7px,#efe51c 160.0px)"></i><i style="background:linear-gradient(#46075a 0.0px,#46075a 3.8px,#46085c 8.2px,#450457 12.0px,#450559 18.3px,#450457 22.3px,#440256 26.9px,#46075a 30.2px,#46085c 35.3px,#460b5e 39.5px,#460a5d 42.7px,#450559 47.7px,#440154 51.0px,#46075a 56.8px,#46085c 60.3px,#46085c 65.5px,#46085c 69.4px,#46085c 73.7px,#46075a 77.4px,#460a5d 82.7px,#450457 86.5px,#460a5d 89.3px,#481668 92.4px,#472e7c 96.5px,#463480 100.5px,#433e85 105.5px,#3e4989 109.5px,#38588c 112.9px,#34608d 114.7px,#25848e 118.5px,#218e8d 122.8px,#1fa188 125.5px,#6ccd5a 131.5px,#e2e418 134.5px,#fde725 136.0px,#fde725 139.7px,#e7e419 145.3px,#fbe723 148.9px,#f8e621 153.1px,#d8e219 153.5px,#24868e 154.3px,#24868e 155.9px,#d8e219 156.7px,#fde725 160.0px)"></i><i style="background:linear-gradient(#440256 0.0px,#46075a 5.3px,#450559 7.8px,#450457 13.1px,#440154 17.3px,#440154 21.0px,#450457 26.4px,#450559 30.2px,#460b5e 35.3px,#460a5d 39.6px,#46085c 42.7px,#450559 47.2px,#440154 51.4px,#450457 56.7px,#450559 61.2px,#450559 65.5px,#460a5d 68.2px,#46075a 73.7px,#450559 76.9px,#450457 83.2px,#450559 86.5px,#440154 90.6px,#440256 92.9px,#481d6f 96.5px,#482878 100.5px,#472d7b 104.4px,#414287 109.5px,#39568c 112.6px,#2e6e8e 115.8px,#26828e 118.5px,#1f9a8a 122.5px,#22a785 125.5px,#8bd646 131.5px,#fbe723 134.5px,#fde725 136.0px,#fde725 139.6px,#fde725 144.6px,#fde725 149.2px,#fde725 153.1px,#f6e620 153.5px,#218f8d 154.3px,#218e8d 155.9px,#ece51b 156.7px,#fde725 160.0px)"></i><i style="background:linear-gradient(#450559 0.0px,#450559 5.0px,#46085c 7.7px,#460a5d 12.9px,#460a5d 16.9px,#460b5e 21.7px,#470d60 26.0px,#470e61 30.1px,#46085c 35.5px,#450559 39.2px,#450559 42.9px,#471063 48.5px,#470e61 51.6px,#460b5e 56.8px,#460b5e 61.0px,#470e61 64.1px,#460b5e 68.9px,#460b5e 73.0px,#460b5e 78.8px,#46075a 82.0px,#460b5e 86.5px,#460a5d 90.6px,#460a5d 93.4px,#481467 96.5px,#423f85 101.4px,#3f4889 104.6px,#3e4a89 109.5px,#34618d 112.3px,#2a778e 116.1px,#277f8e 118.5px,#1fa287 122.4px,#48c16e 125.5px,#5cc863 131.5px,#bddf26 134.5px,#f6e620 136.0px,#fde725 141.1px,#fde725 145.1px,#fde725 149.2px,#fde725 153.1px,#fde725 153.5px,#26ad81 154.3px,#25ab82 155.9px,#fde725 156.7px,#f4e61e 160.0px)"></i><i style="background:linear-gradient(#440154 0.0px,#450457 4.7px,#470d60 8.2px,#460a5d 12.3px,#450559 17.5px,#46075a 21.8px,#460b5e 26.7px,#460b5e 29.8px,#46075a 34.1px,#440154 39.8px,#440154 43.2px,#440154 47.5px,#450457 52.2px,#450559 55.2px,#450457 59.9px,#460a5d 65.7px,#450559 68.5px,#450559 74.4px,#46075a 78.7px,#46085c 81.3px,#440154 86.5px,#440154 89.9px,#450559 92.8px,#470e61 96.5px,#482374 101.2px,#443b84 106.0px,#433d84 109.5px,#3a538b 112.1px,#32648e 114.8px,#2a788e 118.5px,#1fa187 122.9px,#3dbc74 125.5px,#93d741 131.5px,#d5e21a 134.5px,#fde725 136.0px,#fde725 140.8px,#dfe318 144.3px,#fde725 149.5px,#fde725 153.1px,#fde725 153.5px,#1f958b 154.3px,#228d8d 155.9px,#dfe318 156.7px,#dde318 160.0px)"></i><i style="background:linear-gradient(#440256 0.0px,#440154 4.4px,#440154 7.9px,#450559 12.7px,#450457 17.8px,#440256 21.3px,#460a5d 26.2px,#46085c 29.6px,#440154 35.2px,#440256 38.3px,#450457 42.9px,#450457 48.1px,#46085c 51.3px,#460b5e 56.1px,#471063 61.2px,#471365 65.2px,#46085c 68.4px,#46075a 72.7px,#460b5e 78.4px,#470e61 81.3px,#46085c 86.5px,#470e61 89.1px,#440154 92.3px,#460a5d 96.5px,#482979 100.2px,#46327e 105.4px,#3d4d8a 109.5px,#375b8d 112.1px,#34608d 114.6px,#2a778e 118.5px,#25848e 122.3px,#21918c 125.5px,#56c667 131.5px,#aadc32 134.5px,#fde725 136.0px,#f4e61e 140.4px,#fde725 144.6px,#fde725 149.0px,#fde725 153.1px,#fde725 153.5px,#1e9b8a 154.3px,#1f948c 155.9px,#f8e621 156.7px,#fde725 160.0px)"></i><i style="background:linear-gradient(#450559 0.0px,#450559 4.6px,#470d60 8.0px,#460b5e 12.0px,#46075a 17.1px,#470d60 20.7px,#470d60 25.8px,#471365 30.9px,#460b5e 33.8px,#460a5d 39.3px,#470e61 43.5px,#481668 48.3px,#470e61 52.0px,#471063 56.6px,#471063 61.1px,#470e61 65.1px,#460a5d 68.6px,#470d60 74.4px,#471063 77.8px,#470e61 81.6px,#460b5e 86.5px,#440154 90.5px,#46075a 93.4px,#481a6c 96.5px,#3d4e8a 100.6px,#3a548c 105.6px,#355e8d 109.5px,#2c738e 112.4px,#297b8e 115.8px,#297a8e 118.5px,#1f948c 122.8px,#23a983 125.5px,#65cb5e 131.5px,#b8de29 134.5px,#fde725 136.0px,#fde725 139.3px,#fde725 145.1px,#fde725 149.7px,#fde725 153.1px,#fde725 153.5px,#1f988b 154.3px,#20938c 155.9px,#f6e620 156.7px,#f1e51d 160.0px)"></i><i style="background:linear-gradient(#471063 0.0px,#460b5e 5.0px,#470d60 9.6px,#460b5e 12.8px,#460a5d 16.8px,#460b5e 21.3px,#450559 25.0px,#450457 30.6px,#450559 33.9px,#46085c 39.6px,#470d60 44.2px,#470d60 47.4px,#46085c 52.4px,#46085c 55.8px,#46085c 61.5px,#46075a 65.7px,#460b5e 69.5px,#46085c 73.6px,#470e61 76.9px,#481467 83.1px,#470e61 86.5px,#471164 88.8px,#471164 94.0px,#481f70 96.5px,#443a83 100.8px,#3f4889 106.2px,#433e85 109.5px,#34618d 112.3px,#355f8d 115.2px,#306a8e 118.5px,#26828e 122.3px,#21918c 125.5px,#4ac16d 131.5px,#c2df23 134.5px,#fde725 136.0px,#fde725 140.7px,#fde725 144.7px,#f1e51d 147.9px,#fde725 153.1px,#e7e419 153.5px,#228b8d 154.3px,#228d8d 155.9px,#f8e621 156.7px,#fde725 160.0px)"></i><i style="background:linear-gradient(#450559 0.0px,#450457 3.7px,#440154 8.5px,#440154 12.6px,#470e61 17.6px,#460a5d 22.5px,#470e61 26.2px,#470e61 30.4px,#460a5d 33.7px,#460a5d 38.5px,#470e61 43.9px,#460a5d 48.2px,#460a5d 51.2px,#481467 56.6px,#481668 61.3px,#471063 65.7px,#481668 69.1px,#470d60 73.3px,#470d60 77.0px,#460b5e 81.7px,#46085c 86.5px,#471164 89.0px,#481f70 93.2px,#481b6d 96.5px,#482677 100.3px,#453882 105.9px,#443a83 109.5px,#3b518b 111.8px,#31678e 114.6px,#26828e 118.5px,#20938c 122.8px,#1fa088 125.5px,#86d549 131.5px,#f6e620 134.5px,#fde725 136.0px,#fde725 140.5px,#fde725 144.8px,#fde725 149.1px,#fde725 153.1px,#fde725 153.5px,#218f8d 154.3px,#228b8d 155.9px,#eae51a 156.7px,#f1e51d 160.0px)"></i><i style="background:linear-gradient(#440154 0.0px,#440154 3.4px,#440154 7.8px,#440154 12.6px,#440154 17.2px,#450457 21.6px,#450559 26.4px,#460a5d 30.5px,#460a5d 34.6px,#450559 39.5px,#470e61 43.4px,#460a5d 46.7px,#46075a 51.9px,#470e61 56.0px,#471063 60.3px,#460b5e 64.3px,#460b5e 69.6px,#460a5d 73.0px,#46075a 77.1px,#440154 82.5px,#450457 86.5px,#46085c 90.4px,#46085c 94.0px,#440154 96.5px,#471063 100.3px,#481d6f 104.2px,#46327e 109.5px,#3f4889 112.6px,#32658e 116.5px,#2c718e 118.5px,#25848e 121.5px,#1e9c89 125.5px,#6ece58 131.5px,#d2e21b 134.5px,#fde725 136.0px,#fde725 140.0px,#fde725 145.3px,#fde725 149.1px,#fbe723 153.1px,#dae319 153.5px,#238a8d 154.3px,#218e8d 155.9px,#f6e620 156.7px,#dfe318 160.0px)"></i><i style="background:linear-gradient(#46085c 0.0px,#440256 4.5px,#450457 9.1px,#450559 12.3px,#46085c 17.2px,#460b5e 21.1px,#470e61 26.2px,#471063 30.6px,#471164 34.6px,#470e61 39.4px,#470e61 42.6px,#471063 47.5px,#471063 50.9px,#471063 55.7px,#470e61 59.7px,#470e61 64.5px,#46075a 70.0px,#460b5e 74.3px,#470d60 77.4px,#46075a 82.3px,#450559 86.5px,#471063 89.4px,#440154 92.7px,#481b6d 96.5px,#443b84 100.8px,#3d4d8a 106.0px,#3f4889 109.5px,#39558c 113.3px,#31688e 116.3px,#2b758e 118.5px,#1f968b 122.9px,#2db27d 125.5px,#8ed645 131.5px,#e2e418 134.5px,#fde725 136.0px,#fde725 141.0px,#fde725 143.9px,#fde725 147.9px,#fde725 153.1px,#f1e51d 153.5px,#20928c 154.3px,#20938c 155.9px,#fde725 156.7px,#fde725 160.0px)"></i><i style="background:linear-gradient(#440154 0.0px,#440154 4.0px,#440154 7.8px,#450457 12.4px,#46075a 16.7px,#46085c 21.6px,#471164 26.8px,#471063 30.6px,#470e61 35.0px,#460b5e 38.9px,#46085c 44.0px,#470d60 47.9px,#46085c 52.8px,#46075a 55.3px,#46085c 60.2px,#46085c 65.2px,#46075a 68.9px,#46075a 73.3px,#46085c 77.6px,#450559 82.8px,#460a5d 86.5px,#471365 89.3px,#482677 93.6px,#453581 96.5px,#453882 100.2px,#424086 105.4px,#472d7b 109.5px,#3a548c 112.7px,#32658e 114.9px,#2e6e8e 118.5px,#1f978b 122.2px,#26ad81 125.5px,#7ad151 131.5px,#fde725 134.5px,#fde725 136.0px,#fde725 139.6px,#fde725 144.7px,#fde725 149.2px,#fde725 153.1px,#e5e419 153.5px,#21918c 154.3px,#20928c 155.9px,#f6e620 156.7px,#dfe318 160.0px)"></i><i style="background:linear-gradient(#440154 0.0px,#440154 3.9px,#440154 8.1px,#440256 12.5px,#440154 16.4px,#470e61 21.7px,#481668 26.2px,#471164 31.1px,#471063 33.8px,#460b5e 38.6px,#471164 44.2px,#460b5e 47.7px,#470d60 51.9px,#470d60 56.1px,#471164 60.6px,#471164 65.4px,#471063 68.3px,#460a5d 73.5px,#470e61 77.0px,#460a5d 81.4px,#460a5d 86.5px,#481f70 89.6px,#453581 92.5px,#472f7d 96.5px,#463480 100.2px,#433e85 105.1px,#424186 109.5px,#34618d 113.2px,#2d718e 116.4px,#277f8e 118.5px,#1e9d89 122.0px,#2eb37c 125.5px,#86d549 131.5px,#d8e219 134.5px,#fde725 136.0px,#dfe318 139.8px,#fde725 144.6px,#fbe723 148.5px,#dfe318 153.1px,#bddf26 153.5px,#277f8e 154.3px,#26828e 155.9px,#c8e020 156.7px,#a5db36 160.0px)"></i><i style="background:linear-gradient(#450457 0.0px,#440154 5.0px,#460b5e 9.6px,#460a5d 12.0px,#46075a 16.4px,#481668 22.0px,#481769 26.9px,#481769 29.8px,#481467 34.9px,#460b5e 38.0px,#46085c 43.7px,#46075a 47.6px,#471063 52.9px,#481668 57.1px,#481668 59.8px,#481668 64.3px,#471365 69.4px,#470e61 72.8px,#471164 78.1px,#470d60 82.7px,#471063 86.5px,#482677 89.9px,#472c7a 93.1px,#463480 96.5px,#424086 101.8px,#3c508b 105.9px,#3f4788 109.5px,#31678e 113.0px,#2e6f8e 115.8px,#25838e 118.5px,#1f958b 121.3px,#3fbc73 125.5px,#93d741 131.5px,#c2df23 134.5px,#fde725 136.0px,#e5e419 139.7px,#fde725 144.8px,#eae51a 149.3px,#efe51c 153.1px,#cde11d 153.5px,#25838e 154.3px,#25838e 155.9px,#d0e11c 156.7px,#d8e219 160.0px)"></i><i style="background:linear-gradient(#450559 0.0px,#450457 4.0px,#46075a 8.7px,#460b5e 12.6px,#470e61 18.0px,#471164 21.6px,#460a5d 25.5px,#46075a 30.9px,#46085c 34.4px,#440256 39.4px,#440256 42.7px,#440154 47.8px,#440256 51.7px,#450559 55.6px,#460a5d 60.9px,#470d60 65.4px,#470e61 69.4px,#450559 73.5px,#460b5e 78.3px,#450559 81.4px,#460a5d 86.5px,#460b5e 88.9px,#460b5e 92.6px,#453781 96.5px,#404588 101.3px,#424086 105.3px,#433d84 109.5px,#3e4a89 112.1px,#2d708e 115.9px,#25858e 118.5px,#1e9c89 121.7px,#29af7f 125.5px,#70cf57 131.5px,#d5e21a 134.5px,#fde725 136.0px,#fde725 140.0px,#fde725 145.1px,#f1e51d 149.8px,#efe51c 153.1px,#cde11d 153.5px,#25848e 154.3px,#26828e 155.9px,#c8e020 156.7px,#fbe723 160.0px)"></i><i style="background:linear-gradient(#46075a 0.0px,#46085c 5.3px,#460a5d 8.2px,#470d60 13.2px,#471063 16.7px,#460b5e 21.0px,#470d60 25.4px,#450559 30.7px,#46075a 35.1px,#46075a 38.8px,#450559 42.9px,#46075a 47.2px,#460b5e 51.6px,#460b5e 56.8px,#460b5e 60.3px,#46085c 64.3px,#460a5d 69.9px,#460b5e 72.8px,#450559 78.7px,#450559 82.0px,#460b5e 86.5px,#481a6c 90.4px,#482374 93.2px,#443b84 96.5px,#463480 101.2px,#472f7d 105.5px,#46327e 109.5px,#424186 112.7px,#2c738e 116.4px,#23888e 118.5px,#21a685 122.1px,#28ae80 125.5px,#77d153 131.5px,#ece51b 134.5px,#fde725 136.0px,#fde725 140.4px,#fde725 145.1px,#fbe723 148.7px,#e5e419 153.1px,#c2df23 153.5px,#27808e 154.3px,#26828e 155.9px,#d5e21a 156.7px,#fbe723 160.0px)"></i><i style="background:linear-gradient(#460a5d 0.0px,#460b5e 4.1px,#46075a 8.9px,#440256 12.9px,#450559 16.7px,#440154 21.8px,#450457 25.6px,#440256 30.3px,#450559 35.3px,#440154 39.9px,#460a5d 44.2px,#470d60 46.8px,#470d60 52.7px,#460a5d 57.2px,#46075a 60.4px,#470d60 64.6px,#470d60 69.1px,#470d60 72.7px,#46085c 78.2px,#470e61 81.7px,#48186a 86.5px,#481668 89.2px,#482071 93.1px,#482979 96.5px,#46337f 101.5px,#443b84 104.3px,#3d4d8a 109.5px,#3d4e8a 112.6px,#306a8e 116.4px,#297a8e 118.5px,#1f9f88 122.7px,#31b57b 125.5px,#a5db36 131.5px,#fde725 134.5px,#fde725 136.0px,#fde725 139.6px,#fde725 144.1px,#fde725 147.9px,#fde725 153.1px,#e7e419 153.5px,#238a8d 154.3px,#228b8d 155.9px,#e7e419 156.7px,#fde725 160.0px)"></i><i style="background:linear-gradient(#471365 0.0px,#460a5d 4.9px,#450559 7.8px,#46075a 13.2px,#450457 18.0px,#450457 22.0px,#440154 26.6px,#440154 30.5px,#440154 33.7px,#450559 38.3px,#470e61 44.0px,#481467 46.8px,#471063 51.6px,#46085c 56.1px,#470d60 61.0px,#460b5e 65.9px,#46075a 69.7px,#46085c 72.8px,#46085c 77.0px,#460b5e 82.1px,#471063 86.5px,#481467 89.1px,#48186a 93.0px,#482979 96.5px,#463480 101.1px,#414487 105.2px,#38588c 109.5px,#33628d 112.2px,#2e6d8e 115.3px,#26828e 118.5px,#1f9e89 123.0px,#25ac82 125.5px,#70cf57 131.5px,#d8e219 134.5px,#fde725 136.0px,#fde725 140.8px,#fde725 143.8px,#fde725 148.8px,#fde725 153.1px,#fde725 153.5px,#1f9f88 154.3px,#1fa187 155.9px,#fde725 156.7px,#fde725 160.0px)"></i><i style="background:linear-gradient(#460a5d 0.0px,#46075a 4.8px,#440154 9.6px,#440154 12.6px,#440154 17.9px,#46075a 22.1px,#440256 25.2px,#460a5d 29.3px,#46075a 33.7px,#46075a 38.1px,#450457 43.6px,#450559 46.7px,#46075a 52.4px,#440154 56.4px,#440154 61.4px,#440154 64.5px,#450559 70.0px,#460a5d 74.4px,#460a5d 77.8px,#470e61 82.0px,#46085c 86.5px,#481467 89.9px,#471365 93.8px,#482475 96.5px,#482475 101.6px,#482173 105.4px,#414287 109.5px,#39558c 111.9px,#33638d 114.5px,#2a778e 118.5px,#1f9f88 122.6px,#26ad81 125.5px,#90d743 131.5px,#e5e419 134.5px,#fde725 136.0px,#fde725 140.9px,#fde725 144.2px,#fde725 148.4px,#fde725 153.1px,#fde725 153.5px,#31b57b 154.3px,#32b67a 155.9px,#fde725 156.7px,#fde725 160.0px)"></i><i style="background:linear-gradient(#46085c 0.0px,#470e61 5.0px,#471164 8.4px,#46085c 12.3px,#460b5e 17.6px,#460b5e 22.6px,#46075a 26.2px,#470d60 29.4px,#46075a 34.0px,#46075a 38.6px,#46085c 44.2px,#46075a 47.0px,#460a5d 51.5px,#460b5e 55.3px,#46075a 60.2px,#460b5e 65.6px,#471365 68.8px,#471063 74.0px,#471365 78.8px,#471365 81.4px,#471164 86.5px,#481c6e 89.4px,#482475 92.9px,#453882 96.5px,#423f85 99.9px,#453581 104.2px,#433e85 109.5px,#34618d 113.3px,#2c718e 116.5px,#297b8e 118.5px,#1f968b 121.9px,#20a486 125.5px,#6ece58 131.5px,#e7e419 134.5px,#fde725 136.0px,#fde725 141.1px,#fde725 144.0px,#fde725 148.6px,#fde725 153.1px,#f8e621 153.5px,#20928c 154.3px,#1f958b 155.9px,#fde725 156.7px,#eae51a 160.0px)"></i><i style="background:linear-gradient(#450559 0.0px,#460b5e 4.7px,#470d60 8.2px,#460a5d 13.3px,#450559 17.5px,#46085c 22.6px,#450559 26.6px,#46085c 30.0px,#481668 34.8px,#470e61 38.9px,#460a5d 43.3px,#46075a 47.7px,#46075a 51.8px,#46085c 55.3px,#46085c 59.8px,#450457 64.4px,#46085c 70.1px,#440154 74.4px,#46085c 78.2px,#46085c 83.0px,#460b5e 86.5px,#482071 90.4px,#46337f 93.4px,#463480 96.5px,#453882 100.4px,#3f4889 104.5px,#375a8c 109.5px,#306a8e 111.6px,#29798e 116.4px,#25858e 118.5px,#20928c 121.7px,#1f988b 125.5px,#3fbc73 131.5px,#b0dd2f 134.5px,#fde725 136.0px,#fde725 141.2px,#fde725 143.6px,#fde725 148.9px,#fde725 153.1px,#e7e419 153.5px,#23898e 154.3px,#228c8d 155.9px,#efe51c 156.7px,#eae51a 160.0px)"></i><i style="background:linear-gradient(#460b5e 0.0px,#471164 5.2px,#481668 7.8px,#471063 14.0px,#471063 17.8px,#48186a 21.2px,#471063 26.9px,#471365 30.9px,#48186a 34.2px,#48186a 39.8px,#481467 42.7px,#460a5d 48.3px,#460b5e 52.6px,#471063 56.6px,#471063 60.6px,#470d60 64.5px,#460b5e 68.5px,#450559 73.4px,#460a5d 77.1px,#460b5e 82.2px,#460b5e 86.5px,#440256 90.0px,#482071 93.6px,#482173 96.5px,#46337f 100.6px,#414487 105.0px,#375b8d 109.5px,#2a778e 113.0px,#25858e 115.2px,#1f948c 118.5px,#20a486 121.2px,#48c16e 125.5px,#81d34d 131.5px,#d0e11c 134.5px,#fde725 136.0px,#fde725 141.0px,#fde725 143.9px,#efe51c 147.9px,#ece51b 153.1px,#cae11f 153.5px,#228b8d 154.3px,#1f948c 155.9px,#fde725 156.7px,#fde725 160.0px)"></i><i style="background:linear-gradient(#450559 0.0px,#440256 3.8px,#46085c 9.3px,#450559 13.5px,#46075a 16.5px,#46075a 21.9px,#46075a 26.7px,#450457 31.1px,#450559 34.7px,#460a5d 39.7px,#46085c 43.0px,#460a5d 46.6px,#46075a 51.2px,#460a5d 55.8px,#470d60 59.6px,#470e61 65.8px,#460a5d 70.2px,#46075a 74.3px,#46085c 77.9px,#471063 82.0px,#470e61 86.5px,#481668 89.5px,#481467 93.3px,#482576 96.5px,#3e4989 100.1px,#38598c 105.7px,#3b528b 109.5px,#33638d 112.2px,#2d718e 116.1px,#25858e 118.5px,#1f998a 121.2px,#32b67a 125.5px,#7fd34e 131.5px,#dfe318 134.5px,#fde725 136.0px,#fde725 139.8px,#fde725 145.2px,#f8e621 149.4px,#fde725 153.1px,#e7e419 153.5px,#1f948c 154.3px,#1f978b 155.9px,#fde725 156.7px,#fde725 160.0px)"></i><i style="background:linear-gradient(#440256 0.0px,#450457 4.6px,#450559 8.8px,#46085c 13.9px,#450457 17.6px,#450559 21.3px,#450559 25.3px,#46075a 30.1px,#46075a 35.5px,#450559 38.3px,#460a5d 44.0px,#46075a 48.1px,#46085c 51.2px,#460b5e 55.3px,#470e61 59.7px,#460a5d 64.9px,#46085c 68.7px,#46085c 74.0px,#46085c 78.0px,#481467 81.9px,#471365 86.5px,#472f7d 89.9px,#481d6f 93.6px,#482878 96.5px,#46327e 101.3px,#463480 104.4px,#3a538b 109.5px,#3c4f8a 112.0px,#3a548c 114.9px,#2a768e 118.5px,#1f978b 122.2px,#26ad81 125.5px,#98d83e 131.5px,#fde725 134.5px,#fde725 136.0px,#fde725 141.2px,#fde725 144.5px,#fde725 147.9px,#e5e419 153.1px,#c2df23 153.5px,#25838e 154.3px,#238a8d 155.9px,#efe51c 156.7px,#e5e419 160.0px)"></i><i style="background:linear-gradient(#440154 0.0px,#440154 4.1px,#46075a 8.2px,#450457 12.9px,#440154 18.2px,#440154 22.6px,#440154 26.1px,#440256 30.7px,#450457 33.6px,#440256 39.1px,#46075a 43.5px,#450457 48.3px,#450559 51.8px,#46075a 56.1px,#450559 61.3px,#450457 64.1px,#46075a 70.1px,#46075a 73.9px,#470d60 78.6px,#471164 82.9px,#471164 86.5px,#482173 89.6px,#482374 94.0px,#470d60 96.5px,#46085c 101.3px,#482878 105.4px,#46327e 109.5px,#414487 111.8px,#31678e 115.5px,#2a788e 118.5px,#20a386 122.1px,#2db27d 125.5px,#84d44b 131.5px,#f4e61e 134.5px,#fde725 136.0px,#fde725 139.6px,#fde725 144.2px,#fde725 148.8px,#fde725 153.1px,#f6e620 153.5px,#1f988b 154.3px,#1f9e89 155.9px,#fde725 156.7px,#e2e418 160.0px)"></i><i style="background:linear-gradient(#440154 0.0px,#440154 3.8px,#450559 8.1px,#450559 12.8px,#440154 16.6px,#440154 21.2px,#440154 25.7px,#440154 29.8px,#450559 34.0px,#46085c 38.8px,#450559 43.6px,#46075a 46.7px,#46075a 51.6px,#450457 55.8px,#450559 60.7px,#460b5e 64.1px,#470d60 68.4px,#470e61 74.4px,#471063 77.9px,#471365 82.4px,#471164 86.5px,#471365 89.2px,#48186a 92.2px,#481769 96.5px,#482677 100.0px,#443a83 104.3px,#3b518b 109.5px,#34608d 112.2px,#30698e 115.0px,#24878e 118.5px,#21a585 122.9px,#32b67a 125.5px,#98d83e 131.5px,#f4e61e 134.5px,#fde725 136.0px,#fde725 139.4px,#fde725 143.6px,#fde725 148.0px,#fde725 153.1px,#fde725 153.5px,#1f998a 154.3px,#1f978b 155.9px,#fde725 156.7px,#dde318 160.0px)"></i><i style="background:linear-gradient(#440256 0.0px,#440256 3.3px,#450559 8.6px,#450559 12.8px,#440256 16.9px,#450457 22.5px,#440154 26.4px,#46075a 29.7px,#450559 33.8px,#46085c 39.7px,#460b5e 44.0px,#460b5e 46.7px,#450457 52.6px,#460a5d 56.4px,#460a5d 61.1px,#460b5e 65.3px,#471164 68.8px,#481668 74.2px,#481467 76.9px,#470d60 83.0px,#470e61 86.5px,#481668 88.9px,#482071 93.5px,#482071 96.5px,#482173 100.8px,#46337f 105.4px,#3c4f8a 109.5px,#30698e 113.4px,#2d718e 116.0px,#297b8e 118.5px,#1fa088 122.0px,#37b878 125.5px,#90d743 131.5px,#f6e620 134.5px,#fde725 136.0px,#fde725 140.6px,#fde725 144.3px,#fde725 148.1px,#fde725 153.1px,#fbe723 153.5px,#1f958b 154.3px,#1f998a 155.9px,#fde725 156.7px,#ece51b 160.0px)"></i><i style="background:linear-gradient(#440154 0.0px,#440256 3.6px,#440154 8.2px,#440256 13.8px,#450559 17.2px,#46075a 22.0px,#460a5d 25.6px,#470e61 30.9px,#470e61 34.9px,#470d60 38.4px,#470d60 42.4px,#470d60 48.1px,#46085c 51.3px,#46085c 56.7px,#46075a 59.8px,#460b5e 65.5px,#46085c 69.6px,#46075a 72.9px,#460a5d 77.7px,#470d60 82.5px,#471164 86.5px,#481769 89.2px,#471365 92.6px,#481467 96.5px,#482071 100.2px,#481d6f 104.3px,#453581 109.5px,#3a548c 113.4px,#34618d 114.9px,#24878e 118.5px,#1f988b 122.1px,#22a785 125.5px,#73d056 131.5px,#c5e021 134.5px,#fde725 136.0px,#fde725 139.6px,#fde725 144.1px,#fde725 149.6px,#fde725 153.1px,#f8e621 153.5px,#21908d 154.3px,#218f8d 155.9px,#efe51c 156.7px,#e2e418 160.0px)"></i><i style="background:linear-gradient(#440154 0.0px,#46075a 3.7px,#46075a 7.8px,#450559 13.7px,#440256 17.3px,#46085c 21.5px,#46075a 26.8px,#460a5d 30.0px,#460a5d 35.2px,#46075a 38.7px,#450457 43.1px,#46085c 48.0px,#46075a 51.7px,#460a5d 55.3px,#460b5e 60.1px,#460b5e 65.6px,#450559 68.8px,#460b5e 73.7px,#470d60 78.1px,#470e61 82.8px,#471164 86.5px,#482374 89.6px,#481f70 93.5px,#481a6c 96.5px,#481d6f 100.6px,#482374 104.7px,#443b84 109.5px,#3b528b 111.6px,#2c738e 116.1px,#287d8e 118.5px,#21918c 121.2px,#20938c 125.5px,#52c569 131.5px,#bade28 134.5px,#fde725 136.0px,#fde725 140.0px,#fbe723 144.8px,#fde725 148.4px,#fde725 153.1px,#e7e419 153.5px,#24868e 154.3px,#25838e 155.9px,#d0e11c 156.7px,#eae51a 160.0px)"></i><i style="background:linear-gradient(#450457 0.0px,#450559 4.3px,#440256 9.3px,#450559 13.5px,#450559 17.0px,#46075a 22.4px,#450457 26.7px,#450457 30.9px,#450559 34.0px,#450457 38.7px,#46085c 44.2px,#470d60 47.8px,#450457 51.4px,#470d60 56.1px,#470d60 60.3px,#46075a 65.0px,#450559 68.8px,#471365 74.4px,#48186a 77.8px,#470e61 82.2px,#470e61 86.5px,#471164 88.9px,#46085c 92.6px,#471365 96.5px,#482374 100.2px,#3e4a89 105.0px,#34618d 109.5px,#2e6f8e 111.6px,#2b758e 115.1px,#26828e 118.5px,#1f988b 122.7px,#23a983 125.5px,#75d054 131.5px,#eae51a 134.5px,#fde725 136.0px,#fde725 140.3px,#fde725 145.3px,#fde725 148.6px,#fde725 153.1px,#e2e418 153.5px,#24878e 154.3px,#228b8d 155.9px,#fbe723 156.7px,#fde725 160.0px)"></i><i style="background:linear-gradient(#440154 0.0px,#450559 4.5px,#46075a 9.4px,#460a5d 12.7px,#46075a 17.2px,#450559 21.5px,#440256 26.0px,#450457 29.8px,#450457 35.0px,#460a5d 38.4px,#46085c 42.4px,#46085c 46.8px,#46075a 51.2px,#460b5e 56.2px,#471063 61.1px,#470d60 64.7px,#470d60 68.5px,#470d60 72.7px,#481467 78.4px,#470e61 82.0px,#471365 86.5px,#481769 88.9px,#482878 93.5px,#482173 96.5px,#472c7a 101.5px,#423f85 106.1px,#3e4a89 109.5px,#34618d 113.2px,#31688e 114.6px,#287c8e 118.5px,#1f948c 122.4px,#2fb47c 125.5px,#8ed645 131.5px,#f4e61e 134.5px,#fde725 136.0px,#fde725 140.4px,#fde725 144.3px,#fde725 148.0px,#fde725 153.1px,#efe51c 153.5px,#20938c 154.3px,#1e9b8a 155.9px,#fde725 156.7px,#fde725 160.0px)"></i><i style="background:linear-gradient(#450457 0.0px,#46075a 3.6px,#471164 9.2px,#471063 12.6px,#470d60 17.6px,#470d60 21.8px,#470e61 26.4px,#470e61 30.7px,#470e61 34.4px,#470e61 38.2px,#471063 43.3px,#470e61 47.1px,#460b5e 52.4px,#460a5d 56.3px,#470e61 60.7px,#46085c 65.3px,#471365 69.6px,#481467 73.5px,#481769 78.5px,#471365 82.7px,#481769 86.5px,#482878 90.4px,#481b6d 92.4px,#472a7a 96.5px,#482878 101.4px,#424186 105.3px,#423f85 109.5px,#33638d 112.4px,#2a788e 116.0px,#23898e 118.5px,#21a685 122.8px,#42be71 125.5px,#77d153 131.5px,#cde11d 134.5px,#fde725 136.0px,#fde725 140.9px,#fde725 143.7px,#fde725 149.6px,#fde725 153.1px,#f8e621 153.5px,#20928c 154.3px,#1f948c 155.9px,#fde725 156.7px,#e5e419 160.0px)"></i><i style="background:linear-gradient(#440154 0.0px,#450457 3.7px,#460a5d 8.8px,#46085c 13.8px,#46075a 16.7px,#46075a 22.0px,#46075a 25.6px,#460a5d 29.6px,#450559 35.3px,#440256 39.5px,#440154 44.1px,#440256 46.7px,#46075a 51.3px,#46085c 55.4px,#440154 59.7px,#450559 64.9px,#470d60 69.8px,#46075a 74.2px,#460a5d 76.9px,#460a5d 81.8px,#470d60 86.5px,#481769 89.5px,#472d7b 94.1px,#482979 96.5px,#3f4788 100.4px,#424186 105.7px,#472d7b 109.5px,#443a83 111.8px,#355f8d 114.9px,#2a778e 118.5px,#228b8d 122.3px,#1f9a8a 125.5px,#60ca60 131.5px,#dde318 134.5px,#fde725 136.0px,#fde725 140.4px,#fde725 144.7px,#fde725 148.1px,#fde725 153.1px,#fde725 153.5px,#1f988b 154.3px,#1f958b 155.9px,#f1e51d 156.7px,#cde11d 160.0px)"></i><i style="background:linear-gradient(#440154 0.0px,#450457 5.0px,#450457 9.3px,#450457 12.5px,#440256 17.4px,#440154 21.3px,#440256 25.3px,#450559 31.2px,#46075a 34.7px,#440154 38.1px,#440154 43.1px,#440154 47.1px,#440154 52.9px,#450457 55.8px,#440154 60.5px,#450559 64.5px,#46085c 68.4px,#440256 74.3px,#440256 78.3px,#450457 83.0px,#460a5d 86.5px,#481a6c 90.6px,#482173 93.4px,#482173 96.5px,#433d84 101.0px,#453581 105.6px,#424086 109.5px,#39568c 112.3px,#30698e 116.0px,#297b8e 118.5px,#25848e 121.3px,#24aa83 125.5px,#56c667 131.5px,#a2da37 134.5px,#fde725 136.0px,#fde725 140.4px,#fde725 145.0px,#fde725 148.1px,#fde725 153.1px,#fde725 153.5px,#1f988b 154.3px,#1f948c 155.9px,#f6e620 156.7px,#d5e21a 160.0px)"></i><i style="background:linear-gradient(#46075a 0.0px,#46075a 3.4px,#460a5d 8.5px,#440256 13.5px,#46075a 16.9px,#46085c 21.0px,#470e61 26.4px,#460b5e 30.7px,#460a5d 34.2px,#46085c 38.3px,#440154 43.1px,#46075a 46.9px,#46085c 50.9px,#460b5e 56.9px,#450559 60.6px,#46075a 64.2px,#470d60 68.8px,#460a5d 73.2px,#460b5e 77.7px,#460b5e 83.0px,#471365 86.5px,#481c6e 90.4px,#481d6f 92.4px,#482173 96.5px,#472c7a 101.3px,#404588 105.1px,#3e4c8a 109.5px,#30698e 112.0px,#287c8e 114.6px,#21918c 118.5px,#1f9f88 122.2px,#35b779 125.5px,#7fd34e 131.5px,#c8e020 134.5px,#fde725 136.0px,#fde725 141.2px,#fde725 143.6px,#fde725 149.6px,#fde725 153.1px,#fde725 153.5px,#1e9d89 154.3px,#1e9c89 155.9px,#fde725 156.7px,#fde725 160.0px)"></i><i style="background:linear-gradient(#460a5d 0.0px,#460a5d 5.0px,#470d60 8.3px,#470d60 13.4px,#46085c 17.7px,#460a5d 22.0px,#470d60 26.2px,#460a5d 30.9px,#471063 35.3px,#460b5e 38.4px,#470d60 43.3px,#460a5d 48.4px,#471164 51.1px,#481769 56.3px,#481467 61.1px,#471063 65.7px,#470e61 69.5px,#471164 73.6px,#471365 77.8px,#471164 81.7px,#481769 86.5px,#482173 89.5px,#472e7c 93.5px,#453781 96.5px,#453581 101.6px,#433e85 106.1px,#3c508b 109.5px,#38598c 113.4px,#32648e 115.0px,#228d8d 118.5px,#22a785 121.5px,#46c06f 125.5px,#b0dd2f 131.5px,#eae51a 134.5px,#fde725 136.0px,#fde725 139.4px,#fde725 145.3px,#fde725 148.9px,#fde725 153.1px,#fde725 153.5px,#1f978b 154.3px,#1f998a 155.9px,#fde725 156.7px,#fde725 160.0px)"></i><i style="background:linear-gradient(#46085c 0.0px,#460b5e 4.0px,#471063 8.9px,#460a5d 13.6px,#470d60 17.8px,#460b5e 21.0px,#450559 26.1px,#46085c 29.3px,#46075a 34.2px,#450457 39.1px,#46075a 43.5px,#46075a 47.0px,#470e61 52.3px,#471164 55.9px,#481668 59.7px,#471365 65.8px,#471365 69.3px,#481668 73.7px,#471164 77.2px,#481668 82.7px,#471365 86.5px,#481a6c 89.0px,#472d7b 92.5px,#472d7b 96.5px,#443a83 101.5px,#423f85 105.7px,#3d4d8a 109.5px,#365d8d 112.4px,#31688e 114.8px,#24878e 118.5px,#27ad81 122.0px,#40bd72 125.5px,#bddf26 131.5px,#f6e620 134.5px,#fde725 136.0px,#fde725 139.8px,#fde725 144.3px,#eae51a 148.2px,#fde725 153.1px,#dfe318 153.5px,#228d8d 154.3px,#1f958b 155.9px,#fde725 156.7px,#fde725 160.0px)"></i><i style="background:linear-gradient(#440154 0.0px,#450457 5.1px,#440154 9.3px,#440154 13.9px,#440154 17.0px,#440154 21.5px,#440154 26.3px,#440154 31.1px,#440154 33.9px,#440154 38.2px,#440154 42.4px,#440154 46.7px,#440154 51.3px,#440154 55.8px,#440154 60.4px,#46085c 65.2px,#450457 69.7px,#46085c 74.3px,#470e61 78.4px,#471063 81.8px,#470e61 86.5px,#482475 90.8px,#482576 92.9px,#482071 96.5px,#481a6c 100.1px,#482071 106.0px,#482677 109.5px,#365d8d 113.3px,#33638d 115.4px,#2c728e 118.5px,#218e8d 121.4px,#1e9c89 125.5px,#84d44b 131.5px,#c2df23 134.5px,#efe51c 136.0px,#fde725 139.9px,#fde725 145.4px,#fde725 148.0px,#fde725 153.1px,#fde725 153.5px,#1f958b 154.3px,#1f948c 155.9px,#f6e620 156.7px,#f6e620 160.0px)"></i><i style="background:linear-gradient(#470e61 0.0px,#460a5d 4.8px,#460b5e 7.7px,#440256 13.3px,#450457 17.9px,#440154 21.8px,#440256 25.0px,#460a5d 29.4px,#450559 34.6px,#440256 39.4px,#440154 42.5px,#46085c 47.3px,#46075a 52.8px,#450559 55.2px,#440256 61.5px,#450559 64.3px,#460b5e 68.6px,#460b5e 74.2px,#460b5e 78.8px,#470e61 82.7px,#470e61 86.5px,#470e61 88.8px,#481c6e 92.5px,#472f7d 96.5px,#443b84 101.8px,#453781 105.3px,#443b84 109.5px,#355e8d 113.1px,#31688e 116.1px,#2e6e8e 118.5px,#21908d 122.1px,#1f9e89 125.5px,#5ac864 131.5px,#c0df25 134.5px,#fde725 136.0px,#fde725 139.7px,#fde725 144.2px,#fde725 149.6px,#fde725 153.1px,#fde725 153.5px,#1fa187 154.3px,#20a486 155.9px,#fde725 156.7px,#fde725 160.0px)"></i><i style="background:linear-gradient(#460b5e 0.0px,#46085c 5.3px,#460a5d 8.1px,#46085c 13.3px,#440256 17.9px,#440256 21.0px,#460a5d 26.1px,#471063 30.6px,#460a5d 34.4px,#460b5e 38.7px,#471063 42.9px,#471063 48.1px,#46075a 52.7px,#470d60 56.4px,#470e61 59.7px,#471164 65.3px,#471164 69.0px,#470e61 74.4px,#481467 77.8px,#481769 82.4px,#471365 86.5px,#482374 90.0px,#482979 94.0px,#482979 96.5px,#423f85 101.2px,#424086 105.3px,#3d4d8a 109.5px,#33638d 112.7px,#2d718e 115.7px,#2a788e 118.5px,#1e9c89 122.4px,#2ab07f 125.5px,#a2da37 131.5px,#f1e51d 134.5px,#fde725 136.0px,#fde725 141.1px,#fde725 144.4px,#fde725 148.8px,#fde725 153.1px,#fde725 153.5px,#32b67a 154.3px,#2fb47c 155.9px,#fde725 156.7px,#fde725 160.0px)"></i><i style="background:linear-gradient(#440154 0.0px,#440256 4.8px,#46085c 9.4px,#460a5d 13.6px,#46075a 17.7px,#46075a 21.8px,#46085c 25.2px,#46075a 29.4px,#470e61 33.8px,#470d60 39.4px,#460a5d 42.4px,#450457 47.0px,#450457 52.2px,#450457 56.0px,#450457 59.6px,#46075a 65.8px,#470e61 69.9px,#471164 72.5px,#470e61 78.0px,#471365 83.0px,#471164 86.5px,#481769 89.1px,#482677 93.1px,#481f70 96.5px,#443983 100.6px,#443b84 106.2px,#443983 109.5px,#424186 111.6px,#375b8d 114.6px,#2e6f8e 118.5px,#1e9b8a 121.9px,#2cb17e 125.5px,#69cd5b 131.5px,#c8e020 134.5px,#fde725 136.0px,#efe51c 140.2px,#f8e621 144.3px,#fde725 149.0px,#fde725 153.1px,#fde725 153.5px,#1fa088 154.3px,#1f9e89 155.9px,#fde725 156.7px,#e7e419 160.0px)"></i><i style="background:linear-gradient(#440154 0.0px,#440154 3.9px,#450559 9.1px,#450457 12.8px,#46075a 18.3px,#46075a 20.8px,#440256 26.2px,#440154 29.7px,#450457 34.8px,#450457 39.0px,#46085c 42.8px,#450457 47.4px,#450559 51.9px,#460a5d 56.5px,#460b5e 61.4px,#450559 65.0px,#470d60 70.0px,#481467 73.7px,#470e61 78.0px,#470e61 81.5px,#46085c 86.5px,#440154 90.2px,#482173 94.2px,#472d7b 96.5px,#453781 100.3px,#404688 105.8px,#39558c 109.5px,#2d718e 112.7px,#277f8e 114.7px,#1f988b 118.5px,#25ab82 121.5px,#44bf70 125.5px,#9dd93b 131.5px,#e5e419 134.5px,#fde725 136.0px,#fde725 140.2px,#fde725 143.8px,#fde725 148.0px,#fde725 153.1px,#f8e621 153.5px,#21918c 154.3px,#23898e 155.9px,#c5e021 156.7px,#c0df25 160.0px)"></i><i style="background:linear-gradient(#440154 0.0px,#440154 4.1px,#450457 9.6px,#46075a 12.5px,#450457 18.2px,#450457 21.0px,#440256 25.7px,#440154 31.0px,#440154 34.4px,#450457 39.7px,#440256 43.4px,#450457 47.7px,#450457 52.5px,#471063 56.8px,#471063 59.8px,#470e61 65.0px,#460b5e 70.1px,#470d60 73.1px,#46085c 77.2px,#460a5d 83.0px,#46085c 86.5px,#440256 90.1px,#481769 93.7px,#481b6d 96.5px,#472d7b 101.1px,#423f85 104.4px,#3d4d8a 109.5px,#2d708e 113.3px,#2b758e 114.9px,#1f958b 118.5px,#2ab07f 122.7px,#52c569 125.5px,#a0da39 131.5px,#f8e621 134.5px,#fde725 136.0px,#fde725 140.3px,#fde725 144.3px,#fde725 148.3px,#fde725 153.1px,#fde725 153.5px,#20928c 154.3px,#218e8d 155.9px,#dfe318 156.7px,#cde11d 160.0px)"></i><i style="background:linear-gradient(#440154 0.0px,#440154 5.1px,#440256 9.3px,#440256 12.3px,#440154 18.2px,#450559 21.0px,#450457 26.9px,#440154 30.5px,#440256 34.6px,#450559 39.4px,#46085c 43.9px,#470d60 47.4px,#460a5d 52.6px,#450559 57.0px,#46085c 60.4px,#460a5d 65.4px,#470e61 69.5px,#460b5e 73.7px,#460a5d 78.0px,#470d60 81.5px,#471063 86.5px,#470e61 90.5px,#481a6c 93.5px,#481a6c 96.5px,#463480 100.0px,#414287 105.2px,#3f4788 109.5px,#375b8d 111.9px,#2e6e8e 115.4px,#277f8e 118.5px,#1f958b 122.5px,#28ae80 125.5px,#7ad151 131.5px,#ece51b 134.5px,#fde725 136.0px,#fde725 139.4px,#fde725 145.0px,#fde725 148.6px,#fde725 153.1px,#fde725 153.5px,#1e9b8a 154.3px,#1f948c 155.9px,#efe51c 156.7px,#e5e419 160.0px)"></i><i style="background:linear-gradient(#440154 0.0px,#440154 3.5px,#440154 7.9px,#440154 13.9px,#440256 17.1px,#440154 21.2px,#440154 26.5px,#440154 29.3px,#450559 35.5px,#46085c 39.0px,#450559 42.4px,#440154 47.7px,#440154 52.6px,#440154 56.3px,#440154 59.6px,#440154 64.6px,#460a5d 68.5px,#471063 72.5px,#470d60 78.3px,#460a5d 82.6px,#460b5e 86.5px,#470d60 89.0px,#471365 93.0px,#481f70 96.5px,#472f7d 101.3px,#472f7d 104.6px,#3e4a89 109.5px,#404688 112.6px,#3c508b 114.8px,#297b8e 118.5px,#24878e 121.2px,#218f8d 125.5px,#5ec962 131.5px,#c5e021 134.5px,#fde725 136.0px,#f6e620 140.7px,#fde725 144.2px,#fde725 149.1px,#fde725 153.1px,#e7e419 153.5px,#228b8d 154.3px,#23898e 155.9px,#d8e219 156.7px,#d8e219 160.0px)"></i><i style="background:linear-gradient(#440154 0.0px,#440154 4.6px,#460a5d 9.3px,#450559 12.2px,#460a5d 17.3px,#46075a 20.7px,#440256 26.5px,#46085c 30.2px,#46075a 35.0px,#46085c 39.7px,#46085c 43.6px,#450559 46.9px,#450559 51.6px,#46085c 56.8px,#460b5e 60.2px,#470d60 65.1px,#471365 69.1px,#481a6c 73.9px,#471365 78.4px,#471063 82.5px,#471365 86.5px,#482677 90.6px,#472d7b 92.5px,#482979 96.5px,#472d7b 101.5px,#423f85 104.6px,#365d8d 109.5px,#31688e 112.7px,#2c738e 116.2px,#297a8e 118.5px,#20928c 122.4px,#21a585 125.5px,#4ac16d 131.5px,#89d548 134.5px,#dfe318 136.0px,#fbe723 139.4px,#bddf26 145.2px,#f4e61e 148.5px,#fde725 153.1px,#e2e418 153.5px,#25858e 154.3px,#26828e 155.9px,#d2e21b 156.7px,#d2e21b 160.0px)"></i><i style="background:linear-gradient(#440154 0.0px,#440154 3.6px,#440154 9.6px,#440154 12.7px,#440154 16.6px,#440154 22.3px,#440154 26.2px,#440154 29.5px,#440154 33.7px,#440256 39.8px,#46075a 44.2px,#440256 48.4px,#440256 52.5px,#46085c 55.3px,#450457 61.4px,#450457 64.5px,#471063 69.0px,#470d60 72.9px,#460b5e 77.4px,#460a5d 81.2px,#460a5d 86.5px,#450559 90.7px,#481769 92.3px,#48186a 96.5px,#472d7b 101.8px,#443a83 104.3px,#453882 109.5px,#423f85 112.0px,#39558c 114.7px,#2e6d8e 118.5px,#25858e 122.9px,#1f988b 125.5px,#5ac864 131.5px,#90d743 134.5px,#d8e219 136.0px,#bade28 139.6px,#b0dd2f 145.0px,#f4e61e 149.4px,#dde318 153.1px,#bade28 153.5px,#297a8e 154.3px,#2b758e 155.9px,#9dd93b 156.7px,#b8de29 160.0px)"></i><i style="background:linear-gradient(#440154 0.0px,#450457 4.8px,#440256 8.0px,#440154 13.6px,#440154 16.9px,#440154 22.4px,#440154 25.1px,#440154 29.4px,#440256 33.8px,#46085c 38.3px,#470d60 44.1px,#46085c 47.1px,#450457 50.9px,#450457 56.3px,#450457 60.6px,#46075a 64.3px,#470d60 69.6px,#46085c 73.4px,#450559 76.9px,#460b5e 81.9px,#46075a 86.5px,#450457 89.6px,#482173 92.7px,#470d60 96.5px,#482475 100.2px,#414287 105.1px,#3e4989 109.5px,#39558c 113.3px,#33638d 114.9px,#2b758e 118.5px,#24878e 122.8px,#1e9b8a 125.5px,#6ccd5a 131.5px,#c5e021 134.5px,#f6e620 136.0px,#e7e419 139.4px,#dae319 144.8px,#c8e020 148.1px,#fde725 153.1px,#eae51a 153.5px,#218e8d 154.3px,#238a8d 155.9px,#d5e21a 156.7px,#d8e219 160.0px)"></i><i style="background:linear-gradient(#46085c 0.0px,#46085c 4.6px,#470d60 8.2px,#470d60 13.4px,#460b5e 18.0px,#470e61 21.2px,#460b5e 26.6px,#470e61 29.7px,#470d60 34.5px,#470d60 38.1px,#460a5d 43.1px,#46075a 48.5px,#450457 51.2px,#46085c 56.2px,#460b5e 59.7px,#481769 65.3px,#481a6c 68.7px,#481668 74.0px,#471365 78.1px,#471164 83.1px,#470e61 86.5px,#471365 89.3px,#482071 93.6px,#46337f 96.5px,#34608d 101.1px,#39558c 104.3px,#3f4788 109.5px,#3e4a89 112.5px,#2b748e 116.4px,#26828e 118.5px,#1fa187 122.7px,#40bd72 125.5px,#98d83e 131.5px,#f8e621 134.5px,#fde725 136.0px,#fde725 140.0px,#fde725 144.8px,#fde725 148.5px,#fde725 153.1px,#fde725 153.5px,#1f9f88 154.3px,#1e9d89 155.9px,#fde725 156.7px,#e7e419 160.0px)"></i><i style="background:linear-gradient(#460b5e 0.0px,#46085c 4.9px,#450559 9.1px,#460b5e 12.3px,#470d60 17.9px,#460a5d 22.5px,#471164 26.2px,#471164 30.9px,#471164 34.3px,#470d60 38.1px,#460a5d 43.7px,#46085c 48.1px,#460a5d 52.1px,#460b5e 57.0px,#470e61 59.9px,#471063 64.9px,#471063 68.4px,#481467 74.1px,#471063 77.3px,#460a5d 81.4px,#460b5e 86.5px,#481668 90.5px,#481d6f 93.2px,#472e7c 96.5px,#424086 101.2px,#472d7b 105.8px,#423f85 109.5px,#365d8d 113.0px,#2b758e 116.5px,#23888e 118.5px,#1fa287 122.6px,#42be71 125.5px,#8ed645 131.5px,#d0e11c 134.5px,#fde725 136.0px,#fde725 141.1px,#fde725 143.9px,#fde725 148.0px,#fde725 153.1px,#f4e61e 153.5px,#1f958b 154.3px,#1f988b 155.9px,#fde725 156.7px,#fde725 160.0px)"></i><i style="background:linear-gradient(#440256 0.0px,#46075a 5.1px,#460a5d 8.5px,#460a5d 13.7px,#470e61 18.0px,#46085c 22.1px,#450457 25.8px,#46075a 30.6px,#46085c 34.7px,#460a5d 39.3px,#46085c 42.4px,#471063 47.2px,#470d60 52.0px,#471063 56.5px,#46075a 60.2px,#470d60 64.5px,#460b5e 68.4px,#460a5d 74.3px,#470d60 78.7px,#471063 81.7px,#471365 86.5px,#481a6c 89.4px,#482878 92.4px,#46307e 96.5px,#472a7a 101.2px,#424186 105.5px,#414487 109.5px,#31668e 112.3px,#306a8e 116.1px,#2a788e 118.5px,#20928c 122.6px,#28ae80 125.5px,#63cb5f 131.5px,#d0e11c 134.5px,#fde725 136.0px,#fde725 139.4px,#fde725 143.7px,#fde725 149.2px,#fde725 153.1px,#fde725 153.5px,#1fa187 154.3px,#1fa187 155.9px,#fde725 156.7px,#ece51b 160.0px)"></i><i style="background:linear-gradient(#440154 0.0px,#440154 4.0px,#450559 9.4px,#46085c 12.3px,#470d60 16.9px,#46085c 20.9px,#450457 26.7px,#450559 31.0px,#460a5d 34.9px,#46075a 39.9px,#470d60 43.6px,#471164 47.0px,#471164 51.6px,#471164 56.9px,#460a5d 60.2px,#460a5d 64.5px,#460a5d 69.6px,#460b5e 74.2px,#481769 78.7px,#471063 82.5px,#470e61 86.5px,#471164 89.1px,#470d60 92.6px,#482374 96.5px,#472f7d 101.5px,#443a83 104.8px,#424086 109.5px,#2f6b8e 113.0px,#2b748e 114.7px,#2a778e 118.5px,#228d8d 121.8px,#22a785 125.5px,#89d548 131.5px,#f8e621 134.5px,#fde725 136.0px,#fde725 140.8px,#fde725 144.9px,#d2e21b 149.4px,#e2e418 153.1px,#c0df25 153.5px,#287d8e 154.3px,#287c8e 155.9px,#c0df25 156.7px,#cae11f 160.0px)"></i><i style="background:linear-gradient(#440154 0.0px,#440154 4.8px,#440154 8.9px,#440154 13.9px,#46075a 17.6px,#460a5d 21.2px,#46085c 26.3px,#450559 30.1px,#46085c 34.3px,#440154 39.4px,#440154 43.6px,#440154 46.7px,#46075a 52.8px,#460b5e 55.4px,#450457 61.0px,#440256 64.4px,#46075a 69.4px,#450457 73.7px,#471164 77.7px,#460a5d 82.6px,#460a5d 86.5px,#440154 90.6px,#450457 93.3px,#470d60 96.5px,#46327e 100.1px,#46307e 105.3px,#453581 109.5px,#31668e 113.4px,#2c718e 115.3px,#24878e 118.5px,#20928c 121.0px,#25ac82 125.5px,#70cf57 131.5px,#cae11f 134.5px,#fde725 136.0px,#fde725 140.1px,#fde725 144.1px,#fde725 148.9px,#e2e418 153.1px,#c0df25 153.5px,#277f8e 154.3px,#277f8e 155.9px,#cae11f 156.7px,#d8e219 160.0px)"></i><i style="background:linear-gradient(#440154 0.0px,#440154 3.6px,#440256 9.6px,#440256 13.7px,#470d60 16.4px,#46085c 22.5px,#460a5d 25.1px,#440256 29.3px,#450457 35.3px,#450457 38.0px,#440256 43.6px,#440256 47.5px,#46075a 51.4px,#440256 55.9px,#46085c 59.9px,#450457 64.1px,#440154 69.0px,#46075a 73.4px,#460b5e 77.2px,#460b5e 81.2px,#450559 86.5px,#46085c 89.1px,#450559 93.6px,#460a5d 96.5px,#482475 101.7px,#46337f 106.1px,#443b84 109.5px,#3b518b 111.9px,#2a778e 115.4px,#25858e 118.5px,#1f998a 122.9px,#24aa83 125.5px,#4ec36b 131.5px,#b8de29 134.5px,#f1e51d 136.0px,#f6e620 139.6px,#fde725 145.3px,#fde725 148.0px,#fde725 153.1px,#e7e419 153.5px,#228d8d 154.3px,#218e8d 155.9px,#f8e621 156.7px,#fde725 160.0px)"></i><i style="background:linear-gradient(#46085c 0.0px,#460b5e 4.2px,#450457 8.3px,#46085c 13.5px,#460a5d 18.3px,#460a5d 21.6px,#460a5d 26.8px,#450457 31.1px,#450559 35.2px,#450559 38.6px,#46085c 42.3px,#460b5e 48.1px,#46075a 51.2px,#460a5d 56.2px,#470d60 60.9px,#46085c 64.0px,#46085c 69.4px,#46075a 74.4px,#471063 78.2px,#471063 83.1px,#460b5e 86.5px,#481d6f 90.4px,#481c6e 92.8px,#481c6e 96.5px,#450559 100.7px,#463480 105.4px,#424186 109.5px,#3d4d8a 112.4px,#30698e 116.3px,#277f8e 118.5px,#1f9f88 122.9px,#20a486 125.5px,#7cd250 131.5px,#a8db34 134.5px,#d0e11c 136.0px,#c2df23 139.8px,#fde725 143.6px,#fde725 149.2px,#fde725 153.1px,#fde725 153.5px,#1f958b 154.3px,#20928c 155.9px,#f8e621 156.7px,#fde725 160.0px)"></i><i style="background:linear-gradient(#470d60 0.0px,#46085c 4.7px,#460a5d 9.3px,#470d60 12.7px,#46075a 18.0px,#46085c 21.4px,#471063 26.5px,#471365 30.7px,#460b5e 35.2px,#450457 39.1px,#450457 43.4px,#460b5e 48.3px,#470e61 51.8px,#481467 56.0px,#471063 59.9px,#471164 64.1px,#471164 69.7px,#481668 73.9px,#470e61 77.2px,#471164 81.8px,#470e61 86.5px,#46075a 90.1px,#48186a 92.8px,#482071 96.5px,#482979 100.7px,#3e4c8a 105.1px,#38588c 109.5px,#33638d 112.4px,#29798e 114.9px,#228d8d 118.5px,#22a785 121.7px,#31b57b 125.5px,#6ccd5a 131.5px,#b8de29 134.5px,#fde725 136.0px,#fde725 140.8px,#eae51a 145.1px,#fde725 149.6px,#fde725 153.1px,#fde725 153.5px,#1f968b 154.3px,#1f998a 155.9px,#fde725 156.7px,#fde725 160.0px)"></i><i style="background:linear-gradient(#450559 0.0px,#460a5d 4.7px,#470d60 9.5px,#470d60 13.8px,#450559 18.2px,#460a5d 21.6px,#46085c 26.6px,#460a5d 30.6px,#460a5d 34.4px,#440154 38.6px,#440256 43.2px,#450457 47.9px,#470d60 52.4px,#460a5d 55.8px,#46075a 59.9px,#471063 64.7px,#470e61 69.0px,#470e61 73.3px,#46085c 78.6px,#460b5e 82.9px,#46085c 86.5px,#470d60 88.9px,#460a5d 92.9px,#481668 96.5px,#443983 100.4px,#3e4989 106.0px,#3d4e8a 109.5px,#31678e 113.5px,#2d708e 115.6px,#24878e 118.5px,#29af7f 121.2px,#2cb17e 125.5px,#65cb5e 131.5px,#aadc32 134.5px,#eae51a 136.0px,#e5e419 139.4px,#e7e419 144.5px,#fde725 149.0px,#f8e621 153.1px,#d8e219 153.5px,#24878e 154.3px,#25848e 155.9px,#d2e21b 156.7px,#fde725 160.0px)"></i><i style="background:linear-gradient(#460b5e 0.0px,#460b5e 3.5px,#470e61 9.0px,#470e61 12.0px,#46075a 17.9px,#450559 20.7px,#450457 26.4px,#470e61 30.8px,#460b5e 34.1px,#470e61 38.4px,#440256 43.3px,#440154 46.7px,#460a5d 51.8px,#470d60 56.7px,#481467 61.3px,#471063 64.7px,#471164 68.5px,#460b5e 72.8px,#460b5e 77.3px,#470d60 81.7px,#460b5e 86.5px,#460a5d 90.8px,#440154 94.1px,#46075a 96.5px,#482677 100.8px,#453581 106.0px,#414287 109.5px,#31668e 113.4px,#2e6e8e 114.9px,#27808e 118.5px,#1e9b8a 121.4px,#2eb37c 125.5px,#58c765 131.5px,#bade28 134.5px,#f6e620 136.0px,#fde725 140.9px,#fde725 144.1px,#fde725 148.4px,#fde725 153.1px,#fde725 153.5px,#1fa187 154.3px,#21a585 155.9px,#fde725 156.7px,#fde725 160.0px)"></i><i style="background:linear-gradient(#46085c 0.0px,#450559 4.2px,#46085c 8.3px,#460a5d 12.5px,#450559 16.4px,#450457 21.9px,#46085c 26.2px,#470d60 30.2px,#460b5e 34.5px,#460a5d 38.6px,#440154 44.1px,#440154 46.9px,#450457 51.2px,#46085c 57.1px,#460b5e 60.1px,#470d60 64.5px,#460b5e 69.0px,#470e61 74.0px,#470d60 78.3px,#481467 83.0px,#471365 86.5px,#481769 89.2px,#471063 93.8px,#481f70 96.5px,#482475 99.9px,#482374 106.1px,#424086 109.5px,#365c8d 113.1px,#2c718e 116.3px,#26828e 118.5px,#1e9d89 121.7px,#32b67a 125.5px,#9dd93b 131.5px,#f4e61e 134.5px,#fde725 136.0px,#fde725 139.8px,#fde725 144.1px,#fde725 148.4px,#fde725 153.1px,#fde725 153.5px,#1f9e89 154.3px,#1fa287 155.9px,#fde725 156.7px,#fde725 160.0px)"></i><i style="background:linear-gradient(#1fa088 0.0px,#1f9a8a 4.9px,#228c8d 8.9px,#2a778e 14.1px,#21908d 17.4px,#1fa188 21.3px,#25ac82 25.8px,#1f968b 31.8px,#1f9f88 35.8px,#1fa188 40.8px,#1fa088 44.5px,#25ac82 48.3px,#22a785 53.1px,#40bd72 58.3px,#35b779 62.3px,#34b679 67.1px,#32b67a 71.8px,#56c667 75.0px,#81d34d 79.3px,#70cf57 84.5px,#a8db34 89.6px,#b2dd2d 93.2px,#c2df23 98.2px,#d5e21a 103.1px,#bddf26 106.5px,#bddf26 110.0px,#d8e219 114.6px,#d8e219 120.3px,#c5e021 123.3px,#eae51a 128.7px,#fde725 132.4px,#fde725 136.7px,#fde725 139.8px,#fde725 144.1px,#fde725 149.7px,#fbe723 153.5px,#1fa187 154.3px,#2ab07f 156.1px,#fde725 156.9px,#fde725 160.0px)"></i><i style="background:linear-gradient(#2e6d8e 0.0px,#27808e 4.2px,#287c8e 7.0px,#277e8e 11.5px,#287c8e 15.6px,#26828e 18.5px,#238a8d 22.1px,#228d8d 27.1px,#2c718e 32.4px,#287d8e 35.2px,#277f8e 40.0px,#1f978b 45.1px,#1f988b 49.8px,#1fa187 54.0px,#1f958b 56.8px,#24868e 62.0px,#2c718e 66.5px,#2b758e 69.8px,#31668e 73.6px,#25858e 78.2px,#228d8d 82.1px,#1f9f88 86.9px,#24aa83 90.4px,#24aa83 94.3px,#25ab82 97.2px,#23a983 101.1px,#1fa287 104.3px,#d2e21b 108.8px,#fde725 110.3px,#fde725 113.3px,#fde725 117.4px,#fde725 121.8px,#fde725 127.0px,#fde725 130.3px,#fde725 134.5px,#fde725 138.8px,#fde725 143.9px,#fde725 148.6px,#fbe723 153.1px,#d5e21a 153.5px,#1f998a 154.3px,#1fa088 155.9px,#f8e621 156.7px,#fde725 160.0px)"></i><i style="background:linear-gradient(#2a788e 0.0px,#297b8e 4.7px,#2c718e 8.3px,#25838e 10.4px,#297b8e 15.2px,#25858e 18.5px,#20928c 21.9px,#277f8e 27.6px,#25858e 32.6px,#24878e 36.2px,#21908d 40.7px,#218f8d 45.0px,#238a8d 48.1px,#21908d 53.0px,#228b8d 57.7px,#1fa188 62.2px,#20928c 66.5px,#24878e 70.8px,#25848e 75.2px,#23888e 78.9px,#1f958b 82.7px,#24aa83 87.8px,#2db27d 90.6px,#32b67a 95.7px,#48c16e 98.2px,#4ac16d 102.3px,#52c569 105.7px,#f4e61e 110.2px,#fde725 111.7px,#fde725 114.7px,#fde725 118.7px,#fde725 122.8px,#fde725 127.1px,#fde725 132.4px,#fde725 136.3px,#fde725 139.3px,#fbe723 144.1px,#e5e419 148.7px,#fde725 153.1px,#f6e620 153.5px,#25ab82 154.3px,#27ad81 155.9px,#fde725 156.7px,#fde725 160.0px)"></i><i style="background:linear-gradient(#24868e 0.0px,#29798e 3.2px,#34618d 7.2px,#29798e 11.1px,#306a8e 14.0px,#306a8e 18.5px,#31688e 22.6px,#31688e 27.2px,#2b758e 31.5px,#29798e 36.2px,#2b748e 40.0px,#277f8e 44.4px,#27808e 48.9px,#25838e 54.0px,#27808e 58.6px,#21918c 62.2px,#1e9d89 66.5px,#24878e 71.4px,#23888e 75.1px,#21908d 79.9px,#1f958b 83.8px,#21918c 88.2px,#26818e 92.9px,#20928c 96.9px,#21a585 101.0px,#3fbc73 103.2px,#35b779 106.9px,#e7e419 111.4px,#fde725 112.9px,#fde725 115.9px,#fde725 120.9px,#fde725 124.3px,#fde725 127.3px,#fde725 132.3px,#fde725 137.5px,#f6e620 140.1px,#fde725 145.3px,#fde725 149.6px,#fde725 153.1px,#fde725 153.5px,#2fb47c 154.3px,#32b67a 155.9px,#fde725 156.7px,#fde725 160.0px)"></i><i style="background:linear-gradient(#33638d 0.0px,#365d8d 4.0px,#39568c 7.5px,#2c738e 12.0px,#2f6b8e 13.9px,#33638d 18.5px,#31678e 22.6px,#2b758e 28.2px,#297a8e 32.5px,#287d8e 35.0px,#2b758e 40.2px,#277e8e 44.7px,#2a778e 48.3px,#26828e 52.6px,#287d8e 57.0px,#26828e 61.3px,#277f8e 66.5px,#297b8e 70.3px,#287c8e 75.0px,#24878e 80.6px,#228c8d 83.8px,#25848e 89.3px,#1e9c89 94.0px,#1f9f88 97.9px,#25ac82 102.1px,#29af7f 104.0px,#2db27d 107.9px,#98d83e 112.4px,#c5e021 113.9px,#f6e620 116.9px,#fde725 121.2px,#fde725 124.1px,#fde725 128.2px,#fde725 133.6px,#fde725 137.7px,#fde725 142.0px,#fde725 146.0px,#fde725 148.7px,#fde725 153.1px,#f8e621 153.5px,#1fa287 154.3px,#23a983 155.9px,#fde725 156.7px,#e5e419 160.0px)"></i><i style="background:linear-gradient(#34608d 0.0px,#375b8d 3.8px,#3b528b 8.4px,#34608d 11.5px,#2d718e 14.3px,#2a788e 18.5px,#2b758e 22.3px,#31668e 27.2px,#2b748e 31.4px,#29798e 36.7px,#33628d 40.5px,#2b758e 44.8px,#2e6d8e 48.6px,#32648e 53.6px,#277e8e 57.8px,#2a788e 62.0px,#2a788e 66.5px,#31668e 70.3px,#31668e 74.7px,#2a778e 78.6px,#27808e 81.7px,#23898e 86.1px,#27808e 89.9px,#20928c 94.7px,#20928c 98.8px,#1f948c 103.1px,#1f968b 106.4px,#26ad81 108.8px,#8ed645 113.3px,#dae319 114.8px,#fde725 117.8px,#fde725 122.1px,#fde725 127.6px,#fde725 130.5px,#fde725 135.2px,#fde725 140.7px,#fde725 144.3px,#fde725 148.2px,#fde725 153.1px,#f1e51d 153.5px,#22a785 154.3px,#26ad81 155.9px,#fde725 156.7px,#f8e621 160.0px)"></i><i style="background:linear-gradient(#39568c 0.0px,#355e8d 3.9px,#365d8d 6.8px,#31688e 11.2px,#2e6e8e 14.5px,#25848e 18.5px,#287c8e 22.4px,#26828e 26.5px,#297a8e 31.7px,#2a778e 36.4px,#2e6e8e 40.8px,#355f8d 44.1px,#355e8d 48.7px,#3b518b 52.9px,#2f6c8e 58.2px,#2c728e 63.1px,#29798e 66.5px,#33628d 71.0px,#355f8d 75.2px,#2d718e 78.3px,#2b748e 83.0px,#277f8e 87.1px,#20938c 91.9px,#20928c 94.6px,#23888e 99.7px,#238a8d 103.2px,#21918c 106.4px,#2ab07f 109.7px,#8ed645 114.2px,#d5e21a 115.7px,#efe51c 118.7px,#fde725 123.4px,#fde725 127.8px,#fde725 130.9px,#fde725 135.8px,#fde725 140.8px,#fde725 144.3px,#fde725 147.8px,#fde725 153.1px,#fde725 153.5px,#27ad81 154.3px,#25ab82 155.9px,#fde725 156.7px,#f8e621 160.0px)"></i><i style="background:linear-gradient(#2f6c8e 0.0px,#29798e 4.6px,#2b758e 6.8px,#287d8e 11.2px,#2e6d8e 14.0px,#2d718e 18.5px,#297a8e 23.5px,#2a788e 26.8px,#30698e 30.7px,#26818e 36.0px,#26828e 39.8px,#228c8d 44.6px,#2a788e 50.0px,#26828e 52.6px,#26828e 57.0px,#26828e 62.0px,#228c8d 66.5px,#20a386 70.2px,#238a8d 75.8px,#228b8d 78.4px,#228c8d 84.3px,#228b8d 86.9px,#218f8d 91.5px,#1fa187 95.3px,#25ab82 100.5px,#1fa287 103.1px,#27ad81 107.0px,#52c569 110.5px,#fde725 115.0px,#fde725 116.5px,#fde725 119.5px,#fde725 123.5px,#fde725 127.2px,#fde725 131.5px,#fde725 136.1px,#fde725 139.6px,#fde725 145.6px,#fde725 149.5px,#fde725 153.1px,#fde725 153.5px,#2cb17e 154.3px,#26ad81 155.9px,#f8e621 156.7px,#f8e621 160.0px)"></i><i style="background:linear-gradient(#306a8e 0.0px,#2b758e 2.8px,#32658e 7.0px,#306a8e 10.6px,#2f6b8e 15.2px,#306a8e 18.5px,#25838e 23.4px,#26828e 26.3px,#24868e 31.9px,#297a8e 35.0px,#228c8d 39.5px,#228d8d 44.7px,#23898e 48.3px,#1f988b 52.7px,#24868e 58.5px,#26828e 62.6px,#29798e 66.5px,#228b8d 71.4px,#24878e 74.4px,#218f8d 79.6px,#1e9c89 82.9px,#1f978b 89.0px,#20928c 92.8px,#1f9a8a 96.9px,#24aa83 101.3px,#25ab82 104.3px,#3bbb75 108.2px,#69cd5b 111.3px,#cde11d 115.8px,#fde725 117.3px,#fde725 120.3px,#fde725 123.6px,#fde725 129.1px,#fde725 133.5px,#fde725 137.3px,#fde725 139.8px,#fde725 145.5px,#fde725 149.9px,#fde725 153.1px,#e2e418 153.5px,#1f9f88 154.3px,#1fa187 155.9px,#f1e51d 156.7px,#eae51a 160.0px)"></i><i style="background:linear-gradient(#404688 0.0px,#38598c 4.6px,#34608d 6.5px,#39558c 10.4px,#32658e 14.7px,#2e6e8e 18.5px,#26818e 22.5px,#26828e 26.6px,#2b758e 32.0px,#29798e 35.5px,#24878e 40.2px,#25838e 45.1px,#297a8e 49.6px,#277e8e 54.3px,#25848e 56.9px,#25858e 61.7px,#2e6f8e 66.5px,#2e6d8e 71.7px,#277f8e 74.7px,#1f998a 80.4px,#1f978b 83.9px,#228d8d 89.5px,#1f958b 93.1px,#1fa188 98.4px,#2db27d 102.1px,#4ac16d 105.8px,#52c569 107.9px,#58c765 112.1px,#d5e21a 116.6px,#fde725 118.1px,#fde725 121.1px,#fde725 124.7px,#fde725 128.7px,#fde725 133.1px,#fde725 137.1px,#ece51b 140.6px,#fde725 145.3px,#fde725 148.4px,#fde725 153.1px,#f8e621 153.5px,#21a685 154.3px,#23a983 155.9px,#fde725 156.7px,#b8de29 160.0px)"></i><i style="background:linear-gradient(#2f6c8e 0.0px,#25858e 4.5px,#20928c 7.8px,#228b8d 10.6px,#25848e 14.1px,#27808e 18.5px,#2a778e 23.2px,#32658e 27.2px,#2e6e8e 32.2px,#31668e 36.8px,#29798e 39.5px,#1f9a8a 44.1px,#1f948c 49.0px,#287d8e 53.1px,#30698e 58.8px,#2f6c8e 61.9px,#2b758e 66.5px,#228c8d 70.8px,#228c8d 73.6px,#27ad81 79.4px,#2fb47c 81.8px,#1f978b 87.0px,#228d8d 90.4px,#1f998a 94.2px,#2ab07f 99.3px,#3fbc73 102.8px,#4cc26c 106.9px,#38b977 109.1px,#32b67a 112.8px,#a5db36 117.3px,#d8e219 118.8px,#f4e61e 121.8px,#fde725 125.9px,#fde725 130.1px,#fde725 134.9px,#fde725 139.7px,#fde725 144.1px,#fde725 147.9px,#fde725 153.1px,#fde725 153.5px,#24aa83 154.3px,#23a983 155.9px,#fde725 156.7px,#ece51b 160.0px)"></i><i style="background:linear-gradient(#32648e 0.0px,#2c738e 3.0px,#24878e 7.6px,#24878e 10.4px,#21908d 15.6px,#23888e 18.5px,#25848e 23.5px,#297b8e 27.3px,#23888e 31.0px,#2a778e 36.3px,#2a768e 40.4px,#25858e 44.5px,#26818e 49.5px,#277e8e 53.0px,#2e6f8e 58.0px,#25858e 62.9px,#2a768e 66.5px,#228b8d 70.1px,#1f9e89 73.7px,#20928c 79.0px,#218f8d 82.4px,#23898e 86.2px,#25838e 90.8px,#20928c 95.2px,#22a785 99.0px,#24aa83 103.5px,#20a386 106.7px,#28ae80 111.0px,#20a486 113.5px,#9dd93b 118.0px,#f4e61e 119.5px,#fde725 122.5px,#dfe318 126.6px,#fde725 130.7px,#fde725 134.8px,#fde725 139.0px,#fde725 145.1px,#fde725 149.2px,#fde725 153.1px,#efe51c 153.5px,#1f9e89 154.3px,#1e9c89 155.9px,#dde318 156.7px,#e2e418 160.0px)"></i><i style="background:linear-gradient(#3e4c8a 0.0px,#355f8d 3.2px,#287c8e 7.2px,#25858e 12.0px,#25858e 14.5px,#26818e 18.5px,#26828e 22.2px,#25848e 27.5px,#1f988b 32.6px,#287c8e 35.8px,#2a788e 41.0px,#2b748e 45.1px,#27808e 49.3px,#24878e 52.8px,#30698e 57.0px,#2a778e 62.5px,#306a8e 66.5px,#26828e 71.0px,#228c8d 75.7px,#218f8d 78.4px,#21908d 82.7px,#2a778e 88.3px,#228c8d 91.3px,#25858e 96.2px,#228b8d 100.8px,#297b8e 104.2px,#1fa088 107.6px,#2fb47c 109.8px,#40bd72 114.2px,#bade28 118.7px,#fde725 120.2px,#fde725 123.2px,#fde725 128.1px,#fde725 132.6px,#fde725 136.4px,#fde725 139.9px,#fde725 144.4px,#fde725 148.5px,#fde725 153.1px,#fde725 153.5px,#26ad81 154.3px,#1fa187 155.9px,#d0e11c 156.7px,#d0e11c 160.0px)"></i><i style="background:linear-gradient(#32648e 0.0px,#32648e 3.1px,#2c728e 7.5px,#2d708e 11.8px,#2d708e 14.9px,#2c728e 18.5px,#38598c 23.5px,#3a548c 27.2px,#2a778e 30.8px,#25848e 35.2px,#218e8d 39.5px,#26828e 45.2px,#2d718e 48.9px,#2e6d8e 53.1px,#297a8e 58.6px,#297a8e 62.3px,#29798e 66.5px,#24868e 70.8px,#23898e 74.2px,#1f9e89 79.9px,#22a884 82.8px,#26828e 88.1px,#21908d 91.7px,#1f978b 96.1px,#228b8d 101.0px,#218f8d 104.8px,#24aa83 108.8px,#32b67a 110.7px,#63cb5f 114.8px,#fde725 119.3px,#fde725 120.8px,#fde725 123.8px,#fde725 128.3px,#fde725 132.3px,#fde725 136.5px,#fde725 140.1px,#fde725 145.2px,#fde725 149.7px,#fde725 153.1px,#fde725 153.5px,#2db27d 154.3px,#22a785 155.9px,#eae51a 156.7px,#f1e51d 160.0px)"></i><i style="background:linear-gradient(#23888e 0.0px,#2e6f8e 3.8px,#34618d 6.5px,#34618d 12.0px,#31678e 15.3px,#2e6f8e 18.5px,#33628d 22.2px,#38588c 27.0px,#31668e 32.1px,#26818e 36.2px,#25848e 40.0px,#25838e 44.6px,#25848e 49.9px,#287d8e 53.8px,#21918c 58.1px,#1f958b 62.0px,#23898e 66.5px,#24868e 69.9px,#228b8d 74.6px,#218f8d 79.5px,#1f9a8a 83.2px,#20928c 88.3px,#228b8d 93.4px,#1f948c 97.0px,#218e8d 101.2px,#1f9f88 105.4px,#2ab07f 109.0px,#4ac16d 112.0px,#69cd5b 115.4px,#fde725 119.9px,#fde725 121.4px,#fde725 124.4px,#fde725 128.2px,#fde725 133.0px,#fde725 136.6px,#fde725 140.0px,#fde725 144.2px,#fde725 148.8px,#fde725 153.1px,#fde725 153.5px,#31b57b 154.3px,#3bbb75 155.9px,#fde725 156.7px,#fde725 160.0px)"></i><i style="background:linear-gradient(#2c718e 0.0px,#34608d 4.2px,#32648e 6.5px,#375a8c 11.4px,#31688e 15.5px,#3a538b 18.5px,#2d718e 22.1px,#30698e 27.8px,#2e6d8e 31.9px,#297a8e 36.5px,#29798e 39.4px,#25838e 44.4px,#1f9a8a 49.5px,#27808e 52.8px,#228c8d 57.8px,#25848e 62.4px,#20938c 66.5px,#23888e 70.8px,#1f948c 75.3px,#20938c 78.7px,#24878e 83.3px,#27808e 88.3px,#24868e 92.5px,#26828e 97.2px,#228c8d 101.9px,#1e9c89 106.0px,#2db27d 109.9px,#4ec36b 112.2px,#3dbc74 116.0px,#c0df25 120.5px,#fde725 122.0px,#fde725 125.0px,#fde725 129.6px,#fde725 134.0px,#fde725 136.3px,#fde725 141.7px,#fde725 144.5px,#fde725 148.1px,#fde725 153.1px,#e5e419 153.5px,#1fa187 154.3px,#21a585 155.9px,#fde725 156.7px,#fde725 160.0px)"></i><i style="background:linear-gradient(#375a8c 0.0px,#365d8d 3.6px,#31688e 8.3px,#2e6f8e 11.9px,#2a778e 14.6px,#2e6f8e 18.5px,#2f6c8e 22.2px,#31688e 27.0px,#2c718e 32.1px,#297a8e 35.1px,#228d8d 40.2px,#25858e 44.0px,#20938c 49.4px,#26828e 53.6px,#218e8d 58.3px,#218f8d 61.6px,#228c8d 66.5px,#228b8d 70.9px,#238a8d 74.5px,#297b8e 80.3px,#26828e 84.1px,#297a8e 88.2px,#228c8d 92.9px,#23888e 98.5px,#218e8d 101.5px,#1f948c 106.6px,#3fbc73 110.0px,#3fbc73 112.7px,#3bbb75 116.6px,#95d840 121.1px,#eae51a 122.6px,#fde725 125.6px,#fde725 130.5px,#fde725 132.7px,#fde725 136.4px,#fde725 140.6px,#fde725 146.2px,#fde725 148.9px,#fde725 153.1px,#f8e621 153.5px,#22a884 154.3px,#21a585 155.9px,#eae51a 156.7px,#ece51b 160.0px)"></i><i style="background:linear-gradient(#443b84 0.0px,#3c4f8a 4.3px,#3d4d8a 6.6px,#3c4f8a 10.6px,#375a8c 15.5px,#375a8c 18.5px,#2a788e 22.7px,#30698e 26.5px,#30698e 32.1px,#31668e 36.6px,#32648e 40.8px,#31678e 44.3px,#25858e 49.8px,#2a788e 52.5px,#26818e 58.2px,#297a8e 62.4px,#218f8d 66.5px,#26818e 70.5px,#2a788e 74.6px,#2d708e 79.0px,#2c738e 83.4px,#277e8e 87.2px,#26828e 91.8px,#2a788e 95.7px,#287d8e 99.7px,#26828e 104.0px,#20928c 107.2px,#1f9a8a 109.7px,#23a983 114.4px,#31b57b 117.2px,#7ad151 121.7px,#e7e419 123.2px,#fde725 126.2px,#fde725 130.8px,#fde725 136.1px,#fde725 139.2px,#fde725 144.5px,#fde725 148.8px,#fde725 153.1px,#dae319 153.5px,#20a486 154.3px,#25ab82 155.9px,#fde725 156.7px,#d5e21a 160.0px)"></i><i style="background:linear-gradient(#3c4f8a 0.0px,#3c4f8a 3.4px,#365d8d 8.0px,#2e6d8e 11.8px,#2a788e 15.3px,#228b8d 18.5px,#26818e 23.2px,#2f6b8e 26.4px,#297b8e 31.5px,#2c728e 36.3px,#31668e 40.8px,#297a8e 45.5px,#24878e 48.1px,#23888e 53.2px,#24868e 58.5px,#2c728e 62.1px,#287c8e 66.5px,#228c8d 69.9px,#1f958b 73.9px,#25838e 79.2px,#2a768e 82.3px,#1f948c 87.0px,#1f978b 91.1px,#25838e 95.2px,#218e8d 99.4px,#1e9c89 103.8px,#26ad81 107.8px,#28ae80 111.6px,#38b977 115.2px,#5ec962 117.8px,#cae11f 122.3px,#fde725 123.8px,#fde725 126.8px,#fde725 131.2px,#fde725 136.4px,#fde725 139.0px,#fde725 143.5px,#fde725 147.8px,#fde725 153.1px,#fde725 153.5px,#23a983 154.3px,#24aa83 155.9px,#fde725 156.7px,#d5e21a 160.0px)"></i><i style="background:linear-gradient(#424186 0.0px,#3e4c8a 3.2px,#3a538b 7.4px,#33628d 12.0px,#365c8d 14.4px,#3a548c 18.5px,#2f6c8e 22.1px,#2d708e 26.6px,#277f8e 30.8px,#25858e 35.3px,#26818e 39.8px,#30698e 44.1px,#2e6f8e 49.0px,#2f6b8e 52.5px,#31678e 57.2px,#2a768e 61.1px,#32648e 66.5px,#2c718e 71.1px,#2d718e 75.4px,#306a8e 80.0px,#31688e 83.9px,#26828e 88.1px,#24878e 91.1px,#21908d 96.5px,#24878e 99.6px,#21918c 104.5px,#1f988b 108.3px,#1fa187 111.5px,#23a983 115.1px,#40bd72 118.3px,#d8e219 122.8px,#fde725 124.3px,#fde725 127.3px,#fde725 132.3px,#fde725 135.2px,#fde725 141.0px,#fde725 144.7px,#fde725 148.0px,#f8e621 153.1px,#d2e21b 153.5px,#1f998a 154.3px,#1f998a 155.9px,#d2e21b 156.7px,#cde11d 160.0px)"></i><i style="background:linear-gradient(#3d4d8a 0.0px,#3e4a89 3.7px,#3a548c 8.3px,#3c4f8a 10.3px,#404688 13.8px,#3b528b 18.5px,#365d8d 22.0px,#306a8e 27.8px,#2a768e 31.1px,#27808e 35.8px,#33628d 40.3px,#2f6b8e 44.4px,#2e6f8e 48.4px,#287d8e 53.4px,#31688e 58.0px,#2d708e 61.7px,#2e6f8e 66.5px,#2f6c8e 71.4px,#26828e 75.0px,#26828e 78.5px,#2b758e 83.8px,#297a8e 87.4px,#24868e 92.2px,#1f9a8a 96.7px,#1e9b8a 99.5px,#25ac82 104.5px,#2fb47c 108.9px,#26ad81 112.0px,#35b779 115.0px,#5ac864 118.9px,#eae51a 123.4px,#fde725 124.9px,#fde725 127.9px,#fde725 131.5px,#fde725 135.9px,#fde725 139.8px,#fde725 143.8px,#fde725 148.4px,#fde725 153.1px,#d8e219 153.5px,#1f998a 154.3px,#1f958b 155.9px,#c2df23 156.7px,#d5e21a 160.0px)"></i><i style="background:linear-gradient(#33628d 0.0px,#365c8d 3.3px,#355f8d 7.7px,#3e4c8a 11.4px,#38588c 14.5px,#32658e 18.5px,#277f8e 23.1px,#23898e 26.7px,#23888e 31.5px,#228c8d 35.6px,#287c8e 39.5px,#25838e 44.4px,#27808e 49.7px,#1f998a 53.8px,#228c8d 57.1px,#25858e 62.9px,#24878e 66.5px,#23898e 71.2px,#277e8e 76.0px,#27808e 78.8px,#27808e 83.8px,#228c8d 88.3px,#21918c 91.3px,#24aa83 96.4px,#28ae80 101.4px,#42be71 105.8px,#1fa188 109.4px,#2ab07f 111.9px,#2eb37c 115.7px,#4ac16d 119.4px,#cae11f 123.9px,#fde725 125.4px,#fde725 128.4px,#fde725 131.9px,#fde725 136.8px,#fde725 140.1px,#fde725 145.5px,#fde725 149.2px,#f4e61e 153.1px,#cae11f 153.5px,#1f978b 154.3px,#1e9b8a 155.9px,#e7e419 156.7px,#f6e620 160.0px)"></i><i style="background:linear-gradient(#33638d 0.0px,#31688e 3.1px,#3c508b 7.9px,#39568c 10.4px,#3c4f8a 15.4px,#32648e 18.5px,#287c8e 22.3px,#277e8e 27.2px,#26818e 30.6px,#2a778e 35.6px,#277f8e 39.8px,#27808e 45.6px,#32648e 49.5px,#297a8e 54.1px,#297b8e 58.3px,#25838e 61.3px,#24878e 66.5px,#24868e 71.0px,#2e6d8e 74.8px,#2c718e 79.3px,#23898e 83.1px,#23898e 88.7px,#1f948c 92.2px,#1f968b 96.3px,#1f968b 100.3px,#22a785 106.1px,#1fa287 109.9px,#38b977 114.0px,#3dbc74 115.8px,#3fbc73 119.9px,#e7e419 124.4px,#fde725 125.9px,#f8e621 128.9px,#fde725 132.5px,#fde725 137.0px,#fde725 141.4px,#fde725 145.0px,#fde725 149.6px,#fde725 153.1px,#dfe318 153.5px,#1e9b8a 154.3px,#1f9f88 155.9px,#f8e621 156.7px,#fbe723 160.0px)"></i><i style="background:linear-gradient(#3a548c 0.0px,#375b8d 4.3px,#365d8d 7.3px,#2d708e 11.5px,#297a8e 15.3px,#306a8e 18.5px,#2c718e 22.1px,#2b748e 27.3px,#31678e 31.2px,#31688e 35.5px,#26828e 41.1px,#26828e 45.5px,#306a8e 48.3px,#2c728e 54.1px,#2b748e 58.3px,#228c8d 61.9px,#21a585 66.5px,#20938c 70.6px,#26818e 75.0px,#287c8e 80.5px,#238a8d 83.9px,#277f8e 88.5px,#277e8e 93.1px,#27808e 96.5px,#21918c 100.7px,#23a983 106.5px,#1fa187 110.4px,#23a983 113.6px,#25ac82 117.7px,#46c06f 120.4px,#f8e621 124.9px,#fde725 126.4px,#fde725 129.4px,#fde725 134.1px,#fde725 136.5px,#fde725 140.8px,#fde725 144.9px,#fde725 149.9px,#fde725 153.1px,#fde725 153.5px,#26ad81 154.3px,#29af7f 155.9px,#fde725 156.7px,#f1e51d 160.0px)"></i><i style="background:linear-gradient(#31668e 0.0px,#375b8d 3.2px,#2f6c8e 7.3px,#2d708e 11.4px,#31688e 15.7px,#2d718e 18.5px,#26828e 22.6px,#21918c 28.2px,#238a8d 32.2px,#2a788e 36.6px,#27808e 40.2px,#21908d 45.1px,#26818e 48.2px,#25848e 53.7px,#218e8d 57.5px,#228d8d 61.6px,#23898e 66.5px,#1fa287 71.7px,#20a386 74.5px,#1f9a8a 79.6px,#26818e 84.3px,#2d718e 89.7px,#24868e 93.4px,#1f958b 96.9px,#32b67a 102.2px,#2ab07f 107.1px,#28ae80 110.9px,#20a386 114.7px,#1fa287 117.7px,#3fbc73 120.9px,#f4e61e 125.4px,#fde725 126.9px,#fde725 129.9px,#fde725 133.4px,#fde725 137.5px,#fde725 142.3px,#fde725 144.5px,#fde725 149.3px,#fde725 153.1px,#fde725 153.5px,#23a983 154.3px,#24aa83 155.9px,#fde725 156.7px,#f4e61e 160.0px)"></i><i style="background:linear-gradient(#355f8d 0.0px,#33628d 3.2px,#31668e 6.8px,#3d4d8a 10.5px,#38598c 14.2px,#3a538b 18.5px,#2c728e 23.6px,#297a8e 28.2px,#277e8e 32.2px,#297b8e 36.9px,#21918c 39.6px,#26818e 45.6px,#277f8e 48.5px,#2c728e 52.8px,#23888e 57.4px,#2a788e 62.0px,#2f6b8e 66.5px,#238a8d 71.7px,#20938c 76.1px,#238a8d 79.3px,#21908d 85.1px,#25838e 89.2px,#21908d 94.4px,#24878e 98.3px,#218e8d 102.3px,#1f9f88 106.9px,#20a386 111.4px,#1fa287 115.6px,#21a685 117.2px,#4ec36b 121.4px,#c0df25 125.9px,#fde725 127.4px,#fde725 130.4px,#fde725 135.1px,#fde725 137.9px,#fde725 141.0px,#fde725 146.3px,#fde725 150.0px,#fde725 153.1px,#e2e418 153.5px,#1fa187 154.3px,#21a685 155.9px,#fde725 156.7px,#fde725 160.0px)"></i><i style="background:linear-gradient(#3d4d8a 0.0px,#365c8d 3.3px,#34618d 7.3px,#355e8d 10.7px,#365c8d 14.5px,#3c508b 18.5px,#39558c 23.2px,#34608d 27.9px,#31688e 31.0px,#277e8e 35.3px,#24878e 39.7px,#29798e 45.3px,#2c718e 48.3px,#31678e 53.3px,#355f8d 57.1px,#355e8d 61.8px,#32658e 66.5px,#355f8d 69.8px,#2f6c8e 74.2px,#34608d 79.5px,#25848e 83.3px,#1f948c 87.4px,#228d8d 91.0px,#287c8e 95.0px,#31688e 98.6px,#2a778e 103.4px,#228d8d 108.5px,#23898e 111.9px,#1f988b 114.8px,#2cb17e 118.0px,#65cb5e 121.9px,#b2dd2d 126.4px,#f1e51d 127.9px,#fde725 130.9px,#fde725 134.4px,#fde725 140.3px,#fde725 143.5px,#fde725 148.0px,#e2e418 153.1px,#bade28 153.5px,#20928c 154.3px,#1f978b 155.9px,#dae319 156.7px,#eae51a 160.0px)"></i><i style="background:linear-gradient(#3a538b 0.0px,#3a548c 2.8px,#31688e 7.6px,#38588c 10.4px,#3b518b 15.1px,#3b518b 18.5px,#414487 23.1px,#3e4c8a 28.1px,#365d8d 31.3px,#2c718e 36.0px,#20928c 41.2px,#218e8d 44.9px,#2a788e 49.5px,#25848e 52.7px,#23888e 58.6px,#21908d 62.0px,#218e8d 66.5px,#25ab82 71.0px,#1fa188 75.4px,#1f9a8a 78.7px,#1fa287 84.2px,#20a486 87.3px,#1fa188 92.1px,#20a386 95.6px,#297a8e 99.9px,#25838e 104.2px,#228c8d 108.0px,#1f9f88 112.4px,#2cb17e 115.6px,#26ad81 118.2px,#38b977 122.4px,#d0e11c 126.9px,#fde725 128.4px,#fde725 131.4px,#fde725 136.3px,#fde725 140.8px,#fde725 145.3px,#fde725 147.8px,#fde725 153.1px,#e2e418 153.5px,#1e9b8a 154.3px,#1f958b 155.9px,#bddf26 156.7px,#efe51c 160.0px)"></i><i style="background:linear-gradient(#482475 0.0px,#472f7d 4.0px,#46307e 6.5px,#46337f 11.4px,#404588 15.7px,#365d8d 18.5px,#3c508b 22.9px,#3f4788 26.5px,#3c508b 31.8px,#2d718e 36.7px,#2d718e 40.5px,#33638d 44.9px,#3e4c8a 49.0px,#404688 52.8px,#2f6c8e 57.7px,#25838e 62.5px,#297b8e 66.5px,#238a8d 69.7px,#287d8e 74.2px,#2b748e 79.8px,#27808e 82.9px,#2f6c8e 87.3px,#297a8e 91.0px,#287c8e 95.3px,#25838e 100.4px,#287d8e 104.5px,#26818e 108.5px,#21908d 112.9px,#20928c 116.4px,#20a386 118.8px,#35b779 122.9px,#f6e620 127.4px,#fde725 128.9px,#fde725 131.9px,#fde725 136.2px,#fde725 139.6px,#fde725 144.1px,#fde725 148.6px,#fde725 153.1px,#fde725 153.5px,#27ad81 154.3px,#21a585 155.9px,#eae51a 156.7px,#d2e21b 160.0px)"></i><i style="background:linear-gradient(#3f4788 0.0px,#3f4889 3.2px,#32658e 7.1px,#2d708e 11.0px,#38598c 15.1px,#2c718e 18.5px,#38598c 22.1px,#31668e 27.5px,#2d708e 31.3px,#23898e 35.4px,#287d8e 39.6px,#297a8e 44.6px,#24868e 48.1px,#24878e 52.8px,#21918c 57.4px,#21a685 63.1px,#1f968b 66.5px,#24868e 70.7px,#25838e 75.0px,#1fa088 80.0px,#25ac82 83.7px,#28ae80 88.1px,#22a884 91.8px,#1fa287 95.6px,#20a486 100.0px,#35b779 104.0px,#1f9e89 109.2px,#22a785 113.4px,#23a983 115.9px,#58c765 119.9px,#63cb5f 123.4px,#fde725 127.9px,#fde725 129.4px,#fde725 132.4px,#fde725 136.0px,#fde725 139.7px,#fde725 145.2px,#fde725 148.0px,#fde725 153.1px,#ece51b 153.5px,#1f9e89 154.3px,#1e9c89 155.9px,#d8e219 156.7px,#cde11d 160.0px)"></i><i style="background:linear-gradient(#34618d 0.0px,#34618d 3.8px,#2e6e8e 7.2px,#2e6f8e 11.8px,#31688e 14.6px,#33628d 18.5px,#3d4e8a 22.1px,#34618d 27.0px,#306a8e 31.5px,#26828e 35.1px,#297a8e 39.8px,#2e6e8e 44.1px,#2c728e 48.5px,#2a778e 54.0px,#287d8e 57.4px,#1f9a8a 62.5px,#1f948c 66.5px,#20938c 69.8px,#2c718e 76.1px,#24868e 80.1px,#218e8d 83.6px,#23888e 87.2px,#1fa187 92.3px,#20a386 97.0px,#1fa188 100.5px,#1fa088 104.2px,#1fa088 109.1px,#21a585 113.8px,#26ad81 117.4px,#31b57b 119.7px,#35b779 123.8px,#a0da39 128.3px,#e2e418 129.8px,#fde725 132.8px,#fde725 136.9px,#fde725 141.5px,#fde725 145.3px,#fde725 149.6px,#fde725 153.1px,#fde725 153.5px,#27ad81 154.3px,#25ac82 155.9px,#fde725 156.7px,#f8e621 160.0px)"></i><i style="background:linear-gradient(#32658e 0.0px,#33628d 4.2px,#30698e 8.1px,#33628d 10.9px,#34618d 15.1px,#31678e 18.5px,#39558c 23.8px,#38598c 27.6px,#26828e 32.6px,#297b8e 36.9px,#2c728e 40.0px,#27808e 44.0px,#277e8e 48.6px,#26818e 52.6px,#2b748e 57.0px,#228c8d 62.0px,#228c8d 66.5px,#23888e 71.7px,#2b748e 76.1px,#2c728e 79.8px,#25838e 84.8px,#277e8e 87.8px,#20938c 91.9px,#20928c 97.7px,#1f9a8a 102.0px,#1fa287 105.2px,#1f9e89 110.4px,#22a785 114.3px,#2cb17e 116.9px,#4ac16d 121.8px,#2ab07f 124.3px,#67cc5c 128.8px,#b2dd2d 130.3px,#eae51a 133.3px,#fde725 136.8px,#fde725 140.6px,#fde725 146.1px,#fde725 148.2px,#fde725 153.1px,#f8e621 153.5px,#23a983 154.3px,#24aa83 155.9px,#fde725 156.7px,#f4e61e 160.0px)"></i><i style="background:linear-gradient(#2e6f8e 0.0px,#29798e 3.2px,#2e6e8e 8.4px,#31688e 11.0px,#33638d 14.6px,#375b8d 18.5px,#355e8d 23.1px,#31688e 26.3px,#2c738e 30.6px,#29798e 35.7px,#26828e 41.1px,#297a8e 45.5px,#2c728e 49.7px,#2d708e 54.1px,#2a788e 57.7px,#2c738e 62.7px,#2a778e 66.5px,#26828e 71.1px,#2b758e 74.6px,#27808e 78.7px,#297b8e 84.4px,#297b8e 88.2px,#228d8d 93.5px,#1e9b8a 98.0px,#1f9e89 101.4px,#1f998a 105.0px,#1e9b8a 109.8px,#1e9c89 114.5px,#35b779 117.8px,#2db27d 120.7px,#2fb47c 124.5px,#7ad151 129.0px,#b8de29 130.5px,#f6e620 133.5px,#fde725 137.2px,#fde725 141.7px,#fde725 145.7px,#fde725 149.6px,#f4e61e 153.1px,#cde11d 153.5px,#1f988b 154.3px,#1e9c89 155.9px,#e5e419 156.7px,#fde725 160.0px)"></i><i style="background:linear-gradient(#32658e 0.0px,#2f6b8e 3.0px,#33638d 8.3px,#33628d 11.0px,#39568c 13.8px,#3c4f8a 18.5px,#32648e 23.5px,#2a778e 26.8px,#31668e 32.6px,#32658e 35.3px,#2a788e 41.1px,#29798e 45.2px,#2a788e 48.2px,#31678e 53.8px,#277f8e 56.9px,#25838e 61.4px,#25858e 66.5px,#25848e 70.5px,#2a778e 75.7px,#24878e 79.5px,#29798e 83.1px,#2a768e 89.1px,#277e8e 92.4px,#297a8e 96.2px,#228c8d 101.2px,#218e8d 106.5px,#25858e 110.2px,#1f988b 114.5px,#28ae80 118.5px,#2db27d 121.9px,#42be71 124.5px,#b5de2b 129.0px,#fbe723 130.5px,#fde725 133.5px,#fde725 137.8px,#fde725 140.6px,#fde725 144.8px,#f8e621 148.5px,#fde725 153.1px,#dfe318 153.5px,#1f9e89 154.3px,#1fa187 155.9px,#fde725 156.7px,#fde725 160.0px)"></i><i style="background:linear-gradient(#38598c 0.0px,#365d8d 3.8px,#31678e 6.8px,#306a8e 10.5px,#3d4e8a 14.9px,#31678e 18.5px,#33638d 22.8px,#31668e 27.3px,#3a538b 31.9px,#33628d 36.6px,#32658e 39.6px,#2a778e 44.7px,#2d718e 48.5px,#31688e 54.3px,#277e8e 58.6px,#287c8e 61.8px,#287d8e 66.5px,#228b8d 71.8px,#228c8d 76.0px,#238a8d 80.2px,#26828e 83.1px,#27808e 87.8px,#287d8e 93.0px,#26828e 96.6px,#228b8d 100.9px,#24878e 104.8px,#277e8e 109.3px,#30698e 114.5px,#287c8e 118.7px,#20928c 120.7px,#26ad81 124.5px,#90d743 129.0px,#dfe318 130.5px,#fde725 133.5px,#fde725 136.8px,#fde725 141.3px,#fde725 145.6px,#fde725 149.6px,#fde725 153.1px,#fde725 153.5px,#2db27d 154.3px,#2ab07f 155.9px,#fde725 156.7px,#fde725 160.0px)"></i><i style="background:linear-gradient(#32648e 0.0px,#375a8c 4.3px,#39568c 7.2px,#3a548c 12.1px,#3b528b 15.2px,#355e8d 18.5px,#31678e 22.2px,#306a8e 27.7px,#32658e 32.0px,#365c8d 36.3px,#365d8d 40.0px,#25848e 44.5px,#2a778e 49.1px,#2e6d8e 53.2px,#2d718e 58.5px,#2c728e 61.3px,#297b8e 66.5px,#29798e 70.1px,#277f8e 76.0px,#287c8e 80.5px,#2a768e 83.0px,#32648e 87.9px,#2e6f8e 93.1px,#2c718e 97.3px,#34608d 100.8px,#29798e 106.1px,#25848e 110.3px,#2e6e8e 114.5px,#228c8d 117.2px,#25ab82 121.6px,#21a585 124.5px,#d0e11c 129.0px,#fde725 130.5px,#fde725 133.5px,#fde725 138.2px,#fde725 142.1px,#fde725 145.7px,#fde725 149.4px,#fde725 153.1px,#fde725 153.5px,#2eb37c 154.3px,#2ab07f 155.9px,#fde725 156.7px,#fde725 160.0px)"></i><i style="background:linear-gradient(#3a538b 0.0px,#33638d 4.7px,#33638d 6.8px,#2a788e 11.3px,#306a8e 14.7px,#30698e 18.5px,#2b748e 21.9px,#2c718e 26.6px,#2c718e 31.8px,#306a8e 35.2px,#2c728e 40.6px,#32658e 43.7px,#2c738e 49.7px,#26818e 53.0px,#24878e 58.3px,#23898e 62.4px,#1e9c89 66.5px,#1f958b 70.5px,#238a8d 74.7px,#25858e 80.4px,#24878e 83.2px,#2c738e 88.6px,#287c8e 92.0px,#25858e 97.3px,#1f948c 101.4px,#25838e 105.7px,#1e9c89 111.1px,#1e9d89 114.5px,#32b67a 117.1px,#3dbc74 122.0px,#32b67a 124.5px,#b2dd2d 129.0px,#fde725 130.5px,#fde725 133.5px,#fde725 136.5px,#fde725 140.4px,#f6e620 146.0px,#fde725 148.9px,#fde725 153.1px,#fde725 153.5px,#23a983 154.3px,#23a983 155.9px,#fbe723 156.7px,#e7e419 160.0px)"></i><i style="background:linear-gradient(#365d8d 0.0px,#2c718e 3.7px,#2e6e8e 6.6px,#31678e 11.4px,#33638d 13.9px,#31668e 18.5px,#2c718e 22.7px,#287d8e 26.7px,#2c738e 32.5px,#31688e 36.8px,#31688e 40.4px,#2e6d8e 44.5px,#2c728e 50.0px,#228d8d 54.2px,#25838e 57.9px,#21908d 61.2px,#20938c 66.5px,#1f9a8a 70.4px,#21918c 75.6px,#25858e 80.2px,#277e8e 84.6px,#2d718e 89.2px,#2a788e 92.1px,#26828e 97.8px,#218e8d 101.2px,#228d8d 105.8px,#1f978b 109.2px,#21a685 114.5px,#23a983 117.8px,#3aba76 121.3px,#37b878 124.5px,#75d054 129.0px,#bddf26 130.5px,#fde725 133.5px,#fde725 137.7px,#fde725 141.3px,#fde725 144.6px,#fde725 150.0px,#fde725 153.1px,#fde725 153.5px,#25ac82 154.3px,#27ad81 155.9px,#fde725 156.7px,#fde725 160.0px)"></i><i style="background:linear-gradient(#34618d 0.0px,#30698e 3.0px,#2f6c8e 8.3px,#32658e 10.7px,#31678e 15.3px,#31668e 18.5px,#287d8e 22.4px,#26828e 27.8px,#23888e 31.4px,#2a788e 35.2px,#2f6b8e 40.4px,#2a768e 43.8px,#228b8d 49.6px,#21908d 52.8px,#20938c 58.6px,#1f958b 61.6px,#21918c 66.5px,#1f9e89 70.1px,#1f988b 75.6px,#297b8e 79.1px,#2a778e 84.1px,#2b748e 89.2px,#287d8e 92.6px,#238a8d 98.0px,#1f948c 101.7px,#23a983 106.1px,#1fa188 109.2px,#21a685 114.5px,#31b57b 118.6px,#3dbc74 121.9px,#3fbc73 124.5px,#b5de2b 129.0px,#fde725 130.5px,#fde725 133.5px,#fde725 136.5px,#fde725 141.7px,#fde725 144.5px,#fde725 150.0px,#fde725 153.1px,#fde725 153.5px,#27ad81 154.3px,#26ad81 155.9px,#fde725 156.7px,#fde725 160.0px)"></i><i style="background:linear-gradient(#3d4d8a 0.0px,#39558c 4.2px,#355f8d 6.4px,#375b8d 11.7px,#3b518b 15.0px,#31678e 18.5px,#39568c 23.1px,#32658e 26.5px,#31678e 32.5px,#3f4788 36.1px,#453581 40.8px,#3e4989 44.6px,#32648e 49.2px,#2c718e 53.3px,#2f6c8e 56.8px,#2a778e 61.8px,#25838e 66.5px,#26818e 71.8px,#20928c 75.5px,#24878e 78.6px,#2a778e 84.9px,#26828e 88.8px,#1f958b 93.0px,#218f8d 96.4px,#297a8e 102.2px,#25858e 105.1px,#228d8d 111.1px,#218f8d 114.5px,#1f978b 116.9px,#37b878 121.5px,#2eb37c 124.5px,#d2e21b 129.0px,#fde725 130.5px,#fde725 133.5px,#fde725 137.0px,#fde725 141.7px,#fde725 146.0px,#fde725 149.2px,#fde725 153.1px,#f1e51d 153.5px,#1fa187 154.3px,#1fa287 155.9px,#f8e621 156.7px,#f4e61e 160.0px)"></i><i style="background:linear-gradient(#453882 0.0px,#365d8d 4.1px,#3a538b 6.9px,#38588c 11.8px,#3b528b 13.9px,#39558c 18.5px,#433e85 22.9px,#3b528b 26.6px,#3e4989 31.0px,#3b518b 35.2px,#34618d 39.9px,#31678e 44.0px,#306a8e 48.3px,#2b748e 54.1px,#2b748e 57.7px,#287c8e 62.9px,#2e6f8e 66.5px,#2e6f8e 71.4px,#2c738e 74.6px,#2a788e 80.1px,#297a8e 84.6px,#25858e 87.5px,#1fa187 93.6px,#228b8d 96.2px,#27808e 101.9px,#25848e 106.4px,#20938c 110.4px,#26818e 114.5px,#1f978b 118.1px,#22a785 121.5px,#21a685 124.5px,#89d548 129.0px,#e2e418 130.5px,#fde725 133.5px,#fde725 138.2px,#fde725 141.3px,#fde725 144.8px,#fde725 148.8px,#fbe723 153.1px,#d2e21b 153.5px,#1f978b 154.3px,#1f968b 155.9px,#cde11d 156.7px,#cde11d 160.0px)"></i><i style="background:linear-gradient(#3d4e8a 0.0px,#375b8d 2.9px,#355f8d 6.5px,#30698e 10.6px,#33628d 14.8px,#31678e 18.5px,#2a778e 23.7px,#2c738e 27.5px,#2b748e 32.2px,#2c718e 36.4px,#23898e 40.4px,#24878e 44.4px,#26818e 48.3px,#297b8e 52.8px,#24878e 57.6px,#228b8d 62.5px,#2a778e 66.5px,#2e6f8e 71.9px,#2e6f8e 75.4px,#2b758e 78.8px,#23888e 84.8px,#1e9b8a 88.0px,#20a386 92.1px,#21a685 96.2px,#21918c 102.1px,#20938c 105.7px,#26ad81 109.6px,#22a884 114.5px,#27ad81 117.4px,#32b67a 121.8px,#28ae80 124.5px,#aadc32 129.0px,#f8e621 130.5px,#fde725 133.5px,#fde725 138.1px,#fde725 142.2px,#fde725 145.0px,#fde725 149.0px,#fbe723 153.1px,#d2e21b 153.5px,#1f958b 154.3px,#21918c 155.9px,#b8de29 156.7px,#e2e418 160.0px)"></i><i style="background:linear-gradient(#3a548c 0.0px,#3e4c8a 2.9px,#365d8d 7.0px,#33638d 11.9px,#33628d 15.5px,#2f6c8e 18.5px,#2e6e8e 23.5px,#2a778e 27.9px,#27808e 31.6px,#277f8e 35.6px,#297b8e 39.4px,#2a778e 45.2px,#29798e 49.4px,#34608d 54.0px,#2d718e 58.0px,#29798e 63.0px,#2d718e 66.5px,#2c738e 71.7px,#26818e 74.7px,#25858e 80.5px,#228c8d 84.3px,#1f978b 88.3px,#1fa088 93.4px,#1f968b 97.6px,#26828e 101.7px,#218e8d 105.9px,#25ac82 110.4px,#1f9e89 114.5px,#1e9b8a 118.0px,#25ab82 120.3px,#3bbb75 124.5px,#98d83e 129.0px,#cae11f 130.5px,#fbe723 133.5px,#fde725 137.3px,#fde725 141.9px,#fde725 144.3px,#fde725 148.6px,#fde725 153.1px,#fde725 153.5px,#22a884 154.3px,#20a386 155.9px,#f6e620 156.7px,#fde725 160.0px)"></i><i style="background:linear-gradient(#3e4a89 0.0px,#33638d 4.4px,#2e6e8e 6.8px,#365c8d 10.2px,#34608d 14.5px,#3e4c8a 18.5px,#34608d 22.1px,#2e6e8e 26.4px,#2d708e 32.5px,#2c728e 36.2px,#2b758e 41.0px,#2e6d8e 43.8px,#2c738e 49.4px,#2d708e 52.5px,#2b758e 56.8px,#25848e 61.2px,#26828e 66.5px,#218e8d 70.4px,#2e6d8e 75.8px,#277f8e 79.2px,#25838e 84.3px,#1f978b 87.8px,#1e9d89 92.1px,#21908d 96.5px,#228c8d 101.0px,#23888e 106.3px,#218f8d 110.8px,#228b8d 114.5px,#1f968b 117.3px,#20a386 121.8px,#2db27d 124.5px,#98d83e 129.0px,#d8e219 130.5px,#fde725 133.5px,#fde725 136.8px,#fde725 142.2px,#fde725 144.6px,#fde725 149.9px,#fde725 153.1px,#efe51c 153.5px,#22a785 154.3px,#26ad81 155.9px,#fde725 156.7px,#f8e621 160.0px)"></i><i style="background:linear-gradient(#463480 0.0px,#424186 4.6px,#424086 6.8px,#39558c 11.1px,#3e4989 15.1px,#463480 18.5px,#3f4788 22.8px,#355f8d 28.2px,#38598c 30.6px,#365c8d 35.8px,#30698e 41.2px,#2c728e 44.4px,#2c738e 49.5px,#2e6e8e 52.4px,#32648e 57.8px,#3c508b 61.3px,#32658e 66.5px,#306a8e 70.8px,#31688e 74.5px,#238a8d 79.6px,#218e8d 83.3px,#1f978b 88.8px,#1f9a8a 92.7px,#1e9c89 97.4px,#1fa187 101.8px,#2db27d 105.6px,#1e9c89 109.2px,#20928c 114.5px,#20938c 118.3px,#1f9e89 120.9px,#42be71 124.5px,#84d44b 129.0px,#cde11d 130.5px,#fde725 133.5px,#fde725 137.4px,#fde725 141.5px,#fde725 146.2px,#fde725 149.8px,#fde725 153.1px,#fbe723 153.5px,#23a983 154.3px,#24aa83 155.9px,#fde725 156.7px,#eae51a 160.0px)"></i><i style="background:linear-gradient(#3e4989 0.0px,#33638d 4.4px,#3d4e8a 7.4px,#375b8d 11.3px,#3e4989 14.5px,#443b84 18.5px,#414487 22.7px,#34608d 27.7px,#365c8d 31.5px,#3c508b 36.6px,#365c8d 40.5px,#355f8d 45.2px,#33638d 49.3px,#287d8e 53.7px,#375a8c 57.7px,#32648e 62.7px,#2d718e 66.5px,#30698e 70.3px,#2e6e8e 76.0px,#287d8e 79.0px,#2e6d8e 83.8px,#2a778e 88.5px,#277f8e 92.2px,#2b748e 97.9px,#2f6b8e 100.4px,#1e9d89 105.4px,#21908d 110.3px,#1f988b 114.5px,#1f9f88 117.7px,#21a685 121.2px,#44bf70 124.5px,#b8de29 129.0px,#fde725 130.5px,#fde725 133.5px,#fde725 138.4px,#fde725 140.9px,#fde725 144.8px,#fde725 148.8px,#fde725 153.1px,#fde725 153.5px,#2eb37c 154.3px,#31b57b 155.9px,#fde725 156.7px,#fde725 160.0px)"></i><i style="background:linear-gradient(#38598c 0.0px,#33638d 3.2px,#2f6c8e 7.2px,#2e6d8e 10.9px,#31678e 15.2px,#2f6b8e 18.5px,#33628d 23.3px,#32658e 26.8px,#2f6b8e 32.6px,#2b748e 35.5px,#2e6f8e 41.0px,#20928c 44.7px,#277f8e 49.8px,#238a8d 52.9px,#1e9d89 57.5px,#1e9b8a 61.7px,#1e9b8a 66.5px,#1f9a8a 71.5px,#21918c 76.0px,#228b8d 79.0px,#238a8d 84.1px,#287c8e 87.4px,#218f8d 93.2px,#21908d 96.6px,#20938c 100.6px,#2cb17e 106.8px,#25ab82 110.6px,#35b779 114.5px,#2fb47c 117.3px,#48c16e 121.8px,#56c667 124.5px,#e2e418 129.0px,#fde725 130.5px,#fde725 133.5px,#fde725 136.5px,#fde725 141.1px,#fde725 144.6px,#fde725 149.3px,#fde725 153.1px,#e2e418 153.5px,#1fa088 154.3px,#1fa188 155.9px,#e7e419 156.7px,#e5e419 160.0px)"></i><i style="background:linear-gradient(#3d4d8a 0.0px,#423f85 3.8px,#404588 7.9px,#443b84 12.0px,#443a83 14.5px,#3b528b 18.5px,#39568c 22.0px,#3f4889 27.1px,#3b528b 32.0px,#3e4989 35.9px,#2f6c8e 39.8px,#2b758e 44.9px,#2f6b8e 49.1px,#25858e 53.6px,#25848e 58.7px,#277e8e 62.9px,#287d8e 66.5px,#277e8e 70.1px,#26828e 75.7px,#2f6b8e 79.3px,#365d8d 84.2px,#3a548c 88.1px,#375a8c 93.6px,#31688e 97.6px,#27808e 101.8px,#218f8d 105.3px,#1f978b 109.4px,#1f978b 114.5px,#1fa088 117.1px,#21a585 121.3px,#42be71 124.5px,#c2df23 129.0px,#f6e620 130.5px,#f6e620 133.5px,#fde725 137.2px,#fde725 142.3px,#fde725 145.1px,#fde725 148.6px,#fde725 153.1px,#fde725 153.5px,#27ad81 154.3px,#26ad81 155.9px,#fde725 156.7px,#fde725 160.0px)"></i><i style="background:linear-gradient(#463480 0.0px,#453781 4.6px,#46337f 7.4px,#472e7c 11.7px,#443b84 14.3px,#3f4788 18.5px,#433d84 23.0px,#414487 27.7px,#375b8d 32.6px,#365d8d 35.1px,#2d718e 40.4px,#306a8e 45.3px,#2f6c8e 48.6px,#287d8e 53.2px,#26828e 57.3px,#2e6f8e 61.5px,#287d8e 66.5px,#27808e 70.5px,#26828e 75.6px,#1f9f88 79.0px,#1f948c 84.6px,#228c8d 87.7px,#25848e 92.5px,#23898e 97.9px,#1f9a8a 102.0px,#1f988b 106.6px,#1e9b8a 109.2px,#228c8d 114.5px,#1e9b8a 117.5px,#32b67a 120.6px,#65cb5e 124.5px,#c2df23 129.0px,#efe51c 130.5px,#fde725 133.5px,#fde725 138.1px,#fde725 140.4px,#fde725 144.8px,#dde318 149.8px,#fde725 153.1px,#ece51b 153.5px,#1fa287 154.3px,#1fa188 155.9px,#dde318 156.7px,#e2e418 160.0px)"></i><i style="background:linear-gradient(#3f4889 0.0px,#404688 3.4px,#404588 7.0px,#3d4d8a 10.7px,#33638d 14.5px,#32648e 18.5px,#2f6c8e 23.2px,#355e8d 26.9px,#3c4f8a 31.3px,#2f6b8e 36.6px,#287c8e 40.3px,#2b758e 45.4px,#297a8e 48.7px,#2b748e 52.8px,#2f6c8e 58.4px,#2f6c8e 61.8px,#26828e 66.5px,#2c718e 70.5px,#297a8e 74.5px,#20938c 80.3px,#1fa088 84.8px,#1f9a8a 88.4px,#238a8d 91.8px,#20928c 96.3px,#1f968b 102.3px,#20928c 105.6px,#228c8d 110.2px,#1f948c 114.5px,#22a785 117.9px,#4ec36b 121.5px,#50c46a 124.5px,#e5e419 129.0px,#fde725 130.5px,#fde725 133.5px,#fde725 137.4px,#fde725 142.3px,#fde725 145.7px,#fde725 148.7px,#fde725 153.1px,#fde725 153.5px,#22a884 154.3px,#22a884 155.9px,#fde725 156.7px,#fbe723 160.0px)"></i><i style="background:linear-gradient(#423f85 0.0px,#375a8c 4.2px,#375b8d 7.1px,#3b528b 10.2px,#3e4a89 14.9px,#33628d 18.5px,#277e8e 23.0px,#33628d 28.2px,#31668e 30.6px,#2d718e 35.6px,#26828e 40.8px,#2e6e8e 44.2px,#3f4889 48.4px,#3e4989 53.1px,#31688e 58.7px,#277f8e 62.2px,#26828e 66.5px,#26828e 71.8px,#23898e 76.2px,#1f978b 79.7px,#34b679 84.5px,#1f978b 88.3px,#228b8d 92.8px,#21908d 97.9px,#22a785 102.1px,#20a386 106.3px,#228c8d 109.5px,#1f978b 114.5px,#22a785 117.1px,#4cc26c 121.6px,#6ccd5a 124.5px,#e5e419 129.0px,#fde725 130.5px,#fde725 133.5px,#fde725 136.7px,#fde725 140.8px,#fde725 145.1px,#fde725 148.8px,#fde725 153.1px,#fde725 153.5px,#2fb47c 154.3px,#2fb47c 155.9px,#fde725 156.7px,#e5e419 160.0px)"></i><i style="background:linear-gradient(#46307e 0.0px,#46307e 3.5px,#3e4a89 7.9px,#34608d 11.7px,#3d4e8a 15.1px,#453581 18.5px,#3c4f8a 23.0px,#3f4788 26.5px,#443983 30.7px,#3b518b 35.0px,#3e4a89 40.0px,#3d4d8a 44.8px,#414487 48.6px,#3a548c 53.9px,#3b528b 57.5px,#32648e 62.4px,#2e6f8e 66.5px,#2a778e 71.5px,#2b748e 75.4px,#2a778e 78.9px,#218e8d 84.6px,#24868e 88.0px,#228d8d 93.6px,#1f958b 97.3px,#23898e 102.3px,#23888e 106.2px,#26828e 110.0px,#26828e 114.5px,#1f988b 117.4px,#38b977 121.7px,#46c06f 124.5px,#c8e020 129.0px,#fde725 130.5px,#fde725 133.5px,#fde725 137.2px,#fde725 141.0px,#fde725 145.5px,#fde725 148.2px,#fde725 153.1px,#fde725 153.5px,#26ad81 154.3px,#23a983 155.9px,#f8e621 156.7px,#f4e61e 160.0px)"></i><i style="background:linear-gradient(#46337f 0.0px,#472a7a 3.7px,#39568c 7.6px,#306a8e 11.7px,#2f6c8e 14.5px,#2f6c8e 18.5px,#414487 23.3px,#3a548c 26.9px,#355e8d 30.6px,#3a548c 36.2px,#306a8e 40.1px,#32658e 44.7px,#2e6d8e 48.7px,#297a8e 53.9px,#31668e 57.2px,#2a768e 62.6px,#2a778e 66.5px,#218e8d 70.9px,#287d8e 75.9px,#277e8e 79.1px,#1f998a 83.4px,#1f9e89 87.3px,#24878e 92.0px,#1f988b 97.8px,#228b8d 102.4px,#23888e 105.0px,#1f958b 109.7px,#1f988b 114.5px,#31b57b 117.8px,#37b878 121.2px,#2eb37c 124.5px,#c2df23 129.0px,#f6e620 130.5px,#fde725 133.5px,#fde725 137.9px,#fde725 141.3px,#fde725 144.3px,#fde725 149.3px,#fde725 153.1px,#fde725 153.5px,#20a486 154.3px,#1f9a8a 155.9px,#cde11d 156.7px,#dfe318 160.0px)"></i><i style="background:linear-gradient(#471365 0.0px,#48186a 3.0px,#38598c 7.0px,#32658e 10.7px,#34608d 15.2px,#2f6c8e 18.5px,#33628d 23.0px,#2e6d8e 27.7px,#32658e 32.2px,#31688e 36.0px,#33628d 39.9px,#306a8e 44.8px,#297b8e 50.0px,#2e6e8e 54.0px,#355f8d 56.9px,#306a8e 62.9px,#33628d 66.5px,#2e6f8e 70.6px,#287d8e 76.0px,#277f8e 80.0px,#25838e 83.2px,#2a768e 88.6px,#2c728e 92.9px,#2c738e 96.6px,#26828e 101.7px,#297b8e 104.8px,#21a685 110.1px,#20a386 114.5px,#3fbc73 118.1px,#35b779 120.4px,#2eb37c 124.5px,#e7e419 129.0px,#fde725 130.5px,#fde725 133.5px,#fde725 138.0px,#fde725 141.9px,#fde725 146.1px,#fde725 150.1px,#fde725 153.1px,#f6e620 153.5px,#1fa287 154.3px,#1fa187 155.9px,#e2e418 156.7px,#a0da39 160.0px)"></i><i style="background:linear-gradient(#414287 0.0px,#404588 3.3px,#39558c 6.5px,#355e8d 10.3px,#3b528b 14.0px,#38598c 18.5px,#31668e 22.4px,#38588c 27.1px,#34618d 31.3px,#2e6d8e 36.8px,#31678e 40.9px,#2b748e 43.9px,#287c8e 48.1px,#2a778e 53.5px,#297b8e 58.4px,#31668e 61.4px,#365d8d 66.5px,#34618d 71.4px,#39558c 74.9px,#34618d 80.1px,#2e6e8e 83.0px,#27808e 87.8px,#2a788e 93.2px,#277e8e 96.3px,#228b8d 102.4px,#1f988b 104.9px,#1f9a8a 109.3px,#1f968b 114.5px,#24aa83 117.7px,#28ae80 122.0px,#34b679 124.5px,#c2df23 129.0px,#fde725 130.5px,#fde725 133.5px,#fde725 137.1px,#fde725 140.6px,#fde725 144.5px,#fde725 149.3px,#ece51b 153.1px,#c5e021 153.5px,#1e9b8a 154.3px,#1fa188 155.9px,#efe51c 156.7px,#fbe723 160.0px)"></i><i style="background:linear-gradient(#39558c 0.0px,#39558c 2.9px,#39568c 8.1px,#38598c 11.7px,#365c8d 15.4px,#414487 18.5px,#3c508b 22.5px,#365d8d 27.0px,#2e6e8e 32.1px,#2a768e 36.4px,#2e6e8e 40.1px,#2e6f8e 45.2px,#277e8e 49.9px,#24878e 54.0px,#297a8e 58.4px,#2f6c8e 62.4px,#297a8e 66.5px,#31688e 70.6px,#26828e 75.6px,#228b8d 78.9px,#1fa088 84.8px,#1f9e89 88.7px,#20928c 92.1px,#1e9b8a 96.2px,#1fa188 100.7px,#1f9f88 106.7px,#1f978b 110.7px,#1e9b8a 114.5px,#38b977 118.6px,#42be71 120.9px,#31b57b 124.5px,#b5de2b 129.0px,#fde725 130.5px,#fde725 133.5px,#fde725 137.0px,#fde725 140.7px,#f8e621 144.9px,#f4e61e 148.2px,#fde725 153.1px,#d8e219 153.5px,#1f9a8a 154.3px,#1f998a 155.9px,#d5e21a 156.7px,#fde725 160.0px)"></i><i style="background:linear-gradient(#3e4a89 0.0px,#365d8d 3.9px,#3d4e8a 7.2px,#433e85 11.7px,#414487 14.6px,#482374 18.5px,#433d84 22.9px,#3e4c8a 26.8px,#31688e 32.0px,#31678e 35.6px,#375a8c 40.2px,#414287 45.3px,#3a538b 49.6px,#38588c 54.0px,#365d8d 57.9px,#2c728e 61.4px,#297a8e 66.5px,#2a788e 70.0px,#25848e 76.0px,#24878e 80.5px,#228b8d 84.2px,#27808e 87.8px,#27808e 92.1px,#24878e 96.5px,#24878e 102.2px,#277e8e 105.5px,#228d8d 110.6px,#1f988b 114.5px,#27ad81 118.7px,#2db27d 122.0px,#2eb37c 124.5px,#c2df23 129.0px,#f6e620 130.5px,#fde725 133.5px,#fde725 138.2px,#fde725 141.0px,#fde725 144.8px,#fde725 149.6px,#fde725 153.1px,#fde725 153.5px,#22a884 154.3px,#20a486 155.9px,#f4e61e 156.7px,#fde725 160.0px)"></i><i style="background:linear-gradient(#3c4f8a 0.0px,#3c508b 2.9px,#3f4889 7.0px,#3e4989 10.7px,#481f70 15.5px,#453581 18.5px,#33628d 23.9px,#2c738e 27.6px,#297a8e 31.9px,#375a8c 35.4px,#3b528b 40.1px,#3a538b 44.8px,#404588 48.4px,#33628d 54.0px,#30698e 57.8px,#375b8d 62.9px,#2e6f8e 66.5px,#23888e 71.8px,#228d8d 74.6px,#228c8d 79.8px,#228c8d 84.4px,#23888e 87.7px,#27808e 92.6px,#26818e 97.4px,#26828e 100.7px,#218e8d 105.0px,#1f968b 110.1px,#20928c 114.5px,#20a386 117.7px,#1f968b 121.8px,#21a585 124.5px,#77d153 129.0px,#b5de2b 130.5px,#fde725 133.5px,#fde725 136.7px,#fde725 140.8px,#fde725 145.3px,#fde725 149.8px,#fde725 153.1px,#fde725 153.5px,#37b878 154.3px,#31b57b 155.9px,#fde725 156.7px,#fde725 160.0px)"></i><i style="background:linear-gradient(#2e6d8e 0.0px,#33638d 3.7px,#365d8d 7.7px,#414287 10.6px,#443a83 14.8px,#3d4d8a 18.5px,#31668e 22.6px,#33628d 28.1px,#306a8e 31.8px,#38598c 36.0px,#375b8d 41.2px,#31668e 44.0px,#297a8e 48.8px,#32658e 54.3px,#2b748e 58.7px,#297b8e 61.8px,#287c8e 66.5px,#1f978b 71.5px,#25848e 76.2px,#228b8d 79.3px,#21a685 83.1px,#1fa088 87.8px,#29af7f 93.7px,#22a785 97.7px,#20928c 100.6px,#24878e 106.5px,#25848e 109.7px,#218f8d 114.5px,#1f998a 117.4px,#32b67a 121.5px,#32b67a 124.5px,#7fd34e 129.0px,#cde11d 130.5px,#fde725 133.5px,#fde725 136.9px,#fde725 141.2px,#fde725 144.5px,#fde725 148.7px,#fde725 153.1px,#fde725 153.5px,#37b878 154.3px,#31b57b 155.9px,#fde725 156.7px,#fde725 160.0px)"></i><i style="background:linear-gradient(#3e4a89 0.0px,#3c4f8a 3.4px,#3c508b 8.2px,#365c8d 10.5px,#2f6c8e 13.8px,#2f6c8e 18.5px,#287c8e 23.8px,#297a8e 26.7px,#31668e 31.4px,#2e6f8e 35.7px,#365d8d 40.6px,#2e6f8e 45.5px,#30698e 49.1px,#34608d 54.1px,#2e6e8e 57.3px,#32658e 62.2px,#2a768e 66.5px,#25838e 71.0px,#26828e 74.6px,#238a8d 80.5px,#218f8d 83.1px,#23a983 88.2px,#23a983 92.7px,#1fa287 98.0px,#20a486 102.0px,#20a486 105.4px,#1f9f88 109.6px,#1f9a8a 114.5px,#1f9a8a 117.9px,#20a486 121.2px,#26ad81 124.5px,#a5db36 129.0px,#eae51a 130.5px,#fde725 133.5px,#fde725 138.2px,#fde725 140.6px,#fde725 146.1px,#fde725 149.2px,#fde725 153.1px,#fde725 153.5px,#2eb37c 154.3px,#2cb17e 155.9px,#fde725 156.7px,#fde725 160.0px)"></i><i style="background:linear-gradient(#3e4a89 0.0px,#39558c 3.3px,#34608d 6.7px,#375a8c 10.5px,#33638d 14.4px,#2f6b8e 18.5px,#32658e 23.6px,#31678e 27.6px,#2d718e 31.7px,#26828e 35.8px,#306a8e 39.7px,#31688e 44.1px,#2d708e 48.2px,#33638d 53.4px,#306a8e 57.8px,#31668e 61.4px,#24878e 66.5px,#2c718e 70.1px,#2f6c8e 74.7px,#228b8d 79.7px,#277f8e 84.4px,#26828e 88.4px,#277f8e 92.4px,#26828e 96.8px,#25858e 102.0px,#20928c 105.8px,#21908d 110.5px,#1e9b8a 114.5px,#1f9a8a 117.2px,#1e9c89 120.8px,#24aa83 124.5px,#b5de2b 129.0px,#e5e419 130.5px,#fde725 133.5px,#fde725 137.0px,#fde725 140.8px,#fde725 146.2px,#fde725 148.8px,#fde725 153.1px,#fde725 153.5px,#40bd72 154.3px,#44bf70 155.9px,#fde725 156.7px,#fde725 160.0px)"></i><i style="background:linear-gradient(#34608d 0.0px,#3c508b 4.4px,#3d4e8a 6.6px,#3f4889 10.3px,#453882 15.6px,#46337f 18.5px,#3c4f8a 23.7px,#3c508b 27.7px,#3e4989 31.9px,#2d718e 35.3px,#375b8d 40.6px,#365d8d 44.1px,#25838e 49.2px,#297a8e 53.9px,#26818e 57.1px,#26828e 62.4px,#26828e 66.5px,#355e8d 71.3px,#2e6f8e 74.9px,#26828e 79.2px,#2a788e 84.1px,#25848e 88.7px,#238a8d 93.7px,#238a8d 97.4px,#2a768e 100.9px,#24868e 106.3px,#1f988b 109.1px,#20938c 114.5px,#1fa088 117.1px,#26ad81 121.4px,#32b67a 124.5px,#addc30 129.0px,#ece51b 130.5px,#fde725 133.5px,#fde725 138.1px,#fde725 140.6px,#fde725 144.9px,#fde725 148.4px,#fde725 153.1px,#fde725 153.5px,#3fbc73 154.3px,#44bf70 155.9px,#fde725 156.7px,#fde725 160.0px)"></i><i style="background:linear-gradient(#39568c 0.0px,#3d4e8a 3.1px,#404588 6.9px,#3f4889 11.7px,#3a538b 15.2px,#355f8d 18.5px,#3a538b 22.9px,#3a548c 27.6px,#375b8d 32.1px,#2c718e 36.3px,#2f6b8e 39.9px,#31688e 44.0px,#30698e 50.0px,#34608d 52.7px,#2f6b8e 58.7px,#2d708e 61.8px,#20938c 66.5px,#1f948c 69.9px,#1f958b 75.0px,#25838e 79.0px,#287d8e 84.4px,#26828e 89.0px,#24878e 92.7px,#228d8d 96.7px,#23888e 102.0px,#1f998a 105.3px,#1fa188 110.0px,#20a386 114.5px,#31b57b 118.6px,#46c06f 121.9px,#46c06f 124.5px,#98d83e 129.0px,#c8e020 130.5px,#fde725 133.5px,#fde725 138.4px,#fde725 141.8px,#fde725 144.8px,#fde725 150.1px,#fde725 153.1px,#fbe723 153.5px,#24aa83 154.3px,#2eb37c 155.9px,#fde725 156.7px,#fde725 160.0px)"></i><i style="background:linear-gradient(#3e4c8a 0.0px,#3b518b 3.5px,#34618d 7.8px,#3b528b 11.5px,#3c508b 14.3px,#443983 18.5px,#3e4c8a 22.6px,#3d4e8a 27.0px,#39558c 32.0px,#39568c 36.9px,#34618d 40.3px,#2c728e 43.7px,#2c728e 49.1px,#31668e 52.5px,#2e6d8e 58.1px,#26818e 62.9px,#26818e 66.5px,#25858e 71.0px,#2c738e 75.4px,#34608d 80.3px,#33628d 84.1px,#2e6d8e 87.7px,#1e9b8a 93.5px,#218f8d 96.5px,#1f968b 101.9px,#20928c 105.0px,#1f988b 110.3px,#27808e 114.5px,#1f948c 117.2px,#1f9a8a 121.2px,#23a983 124.5px,#93d741 129.0px,#dfe318 130.5px,#fde725 133.5px,#fde725 137.4px,#fde725 141.8px,#fde725 144.6px,#e2e418 149.8px,#f4e61e 153.1px,#cae11f 153.5px,#1f948c 154.3px,#1f948c 155.9px,#d0e11c 156.7px,#fde725 160.0px)"></i><i style="background:linear-gradient(#463480 0.0px,#443a83 3.4px,#433e85 8.1px,#414487 11.6px,#38598c 13.9px,#3d4e8a 18.5px,#3a538b 23.8px,#3b518b 27.9px,#30698e 31.4px,#31678e 35.8px,#3c4f8a 41.0px,#3a548c 44.0px,#31688e 48.1px,#2d708e 53.9px,#34618d 58.7px,#2c738e 61.6px,#2a768e 66.5px,#2e6f8e 70.1px,#32658e 75.8px,#33638d 78.8px,#32658e 83.2px,#365d8d 87.9px,#20928c 93.3px,#238a8d 97.3px,#29798e 102.1px,#23888e 105.9px,#29798e 109.6px,#2e6e8e 114.5px,#26828e 118.1px,#297a8e 121.1px,#25838e 124.5px,#75d054 129.0px,#bade28 130.5px,#fde725 133.5px,#fde725 136.7px,#fde725 142.1px,#fde725 146.0px,#fde725 149.5px,#fde725 153.1px,#fde725 153.5px,#29af7f 154.3px,#24aa83 155.9px,#f4e61e 156.7px,#f1e51d 160.0px)"></i><i style="background:linear-gradient(#453781 0.0px,#433d84 3.8px,#404588 7.2px,#453581 11.0px,#365d8d 14.1px,#38588c 18.5px,#375b8d 23.6px,#355f8d 27.8px,#33638d 31.1px,#3f4788 36.3px,#3f4788 39.4px,#365d8d 44.6px,#306a8e 49.5px,#277e8e 54.1px,#25838e 58.4px,#20928c 61.9px,#25838e 66.5px,#287c8e 71.6px,#31678e 75.0px,#33628d 79.4px,#29798e 83.1px,#2e6d8e 87.7px,#2d708e 92.7px,#2f6c8e 97.1px,#2a778e 102.1px,#23888e 106.3px,#287c8e 109.5px,#2c728e 114.5px,#2b758e 118.8px,#287c8e 120.3px,#1e9d89 124.5px,#81d34d 129.0px,#c2df23 130.5px,#fde725 133.5px,#fde725 137.3px,#f1e51d 141.4px,#fde725 145.3px,#fde725 148.4px,#fde725 153.1px,#fde725 153.5px,#22a785 154.3px,#1fa287 155.9px,#e2e418 156.7px,#fde725 160.0px)"></i><i style="background:linear-gradient(#404688 0.0px,#433e85 3.1px,#3b518b 6.5px,#3c4f8a 10.2px,#365d8d 15.0px,#365d8d 18.5px,#31668e 22.6px,#2f6c8e 26.7px,#3c508b 30.7px,#433e85 36.9px,#3b518b 41.0px,#25838e 44.1px,#26828e 48.2px,#24868e 52.5px,#23888e 57.2px,#24878e 62.0px,#26828e 66.5px,#2b758e 71.4px,#277e8e 75.4px,#26818e 80.1px,#1f9a8a 83.1px,#228c8d 88.1px,#1f9a8a 92.8px,#228d8d 98.0px,#26828e 102.0px,#24868e 106.7px,#25858e 110.4px,#24878e 114.5px,#20928c 117.9px,#21908d 121.6px,#1fa187 124.5px,#c5e021 129.0px,#fde725 130.5px,#fde725 133.5px,#fde725 137.8px,#fde725 140.7px,#fde725 145.4px,#fde725 149.1px,#fde725 153.1px,#dfe318 153.5px,#1e9d89 154.3px,#1f9a8a 155.9px,#d0e11c 156.7px,#f4e61e 160.0px)"></i><i style="background:linear-gradient(#3e4c8a 0.0px,#404688 3.0px,#3e4a89 7.5px,#3a548c 12.0px,#38588c 14.2px,#34618d 18.5px,#3a548c 23.0px,#2f6b8e 27.6px,#34608d 31.6px,#3a538b 36.4px,#32648e 40.6px,#24878e 45.0px,#287c8e 48.6px,#25848e 54.0px,#297b8e 57.4px,#228b8d 62.9px,#26828e 66.5px,#1e9b8a 69.9px,#1f968b 75.7px,#1f9e89 80.3px,#26ad81 84.9px,#1f9e89 88.0px,#228d8d 93.4px,#26828e 97.5px,#1f948c 101.9px,#21908d 106.6px,#1f958b 110.4px,#20928c 114.5px,#26ad81 118.0px,#32b67a 121.8px,#38b977 124.5px,#cae11f 129.0px,#fde725 130.5px,#fde725 133.5px,#fde725 137.9px,#fde725 140.5px,#fde725 146.2px,#fde725 150.1px,#ece51b 153.1px,#c2df23 153.5px,#21908d 154.3px,#21918c 155.9px,#c8e020 156.7px,#f4e61e 160.0px)"></i><i style="background:linear-gradient(#365d8d 0.0px,#3b518b 3.0px,#32658e 8.2px,#34618d 11.0px,#39558c 14.4px,#39558c 18.5px,#375b8d 23.8px,#355f8d 27.7px,#355f8d 31.9px,#2e6e8e 35.8px,#297b8e 41.1px,#2b748e 45.0px,#2c718e 49.0px,#24878e 53.6px,#228b8d 56.9px,#228d8d 61.9px,#25838e 66.5px,#1f978b 71.4px,#21908d 74.3px,#20a386 79.9px,#1f988b 83.3px,#24868e 88.7px,#26828e 93.6px,#26818e 96.9px,#238a8d 102.2px,#238a8d 106.6px,#27808e 109.4px,#22a884 114.5px,#38b977 117.2px,#35b779 120.3px,#4ec36b 124.5px,#b0dd2f 129.0px,#f6e620 130.5px,#fde725 133.5px,#fde725 138.2px,#fde725 140.8px,#fde725 145.3px,#fde725 148.7px,#fde725 153.1px,#fde725 153.5px,#32b67a 154.3px,#32b67a 155.9px,#fde725 156.7px,#fde725 160.0px)"></i><i style="background:linear-gradient(#3c508b 0.0px,#433e85 4.6px,#375a8c 6.5px,#365c8d 11.8px,#3a548c 14.7px,#38588c 18.5px,#365c8d 23.4px,#3c508b 27.3px,#39558c 31.1px,#32648e 36.6px,#2f6c8e 39.8px,#2b758e 43.8px,#2a768e 48.6px,#26818e 53.1px,#25848e 56.9px,#218e8d 61.9px,#2b748e 66.5px,#2c738e 69.9px,#25858e 76.1px,#20938c 79.2px,#20928c 83.9px,#26828e 88.9px,#228c8d 93.4px,#277e8e 96.2px,#23898e 101.1px,#1f998a 106.6px,#297a8e 110.7px,#26828e 114.5px,#27ad81 118.7px,#2db27d 120.2px,#44bf70 124.5px,#cae11f 129.0px,#fde725 130.5px,#fde725 133.5px,#f4e61e 136.6px,#fde725 142.1px,#fde725 145.9px,#fde725 148.9px,#fde725 153.1px,#ece51b 153.5px,#1f9e89 154.3px,#1f9f88 155.9px,#f6e620 156.7px,#fde725 160.0px)"></i><i style="background:linear-gradient(#46307e 0.0px,#482071 2.7px,#46337f 7.1px,#404588 11.3px,#3b518b 14.2px,#3b528b 18.5px,#355f8d 22.4px,#38598c 27.3px,#33628d 30.7px,#39558c 36.2px,#3e4989 41.0px,#3e4989 45.3px,#31678e 49.7px,#29798e 53.1px,#2a768e 58.7px,#2b748e 63.1px,#2a778e 66.5px,#277e8e 70.5px,#26828e 75.1px,#1f978b 79.6px,#1e9b8a 84.2px,#23888e 88.1px,#1f948c 93.4px,#287c8e 98.0px,#277e8e 101.0px,#238a8d 106.7px,#218e8d 111.1px,#228b8d 114.5px,#25858e 117.8px,#1fa287 121.2px,#42be71 124.5px,#b0dd2f 129.0px,#e7e419 130.5px,#fde725 133.5px,#fde725 138.2px,#f4e61e 141.4px,#fbe723 146.0px,#fbe723 150.0px,#c5e021 153.1px,#9dd93b 153.5px,#25838e 154.3px,#23898e 155.9px,#bddf26 156.7px,#e5e419 160.0px)"></i><i style="background:linear-gradient(#482576 0.0px,#482979 2.8px,#482374 8.3px,#453581 10.6px,#423f85 14.0px,#3a538b 18.5px,#31678e 23.1px,#2c728e 26.4px,#34618d 31.3px,#39558c 36.4px,#375b8d 40.2px,#34618d 44.3px,#23898e 48.5px,#228d8d 54.0px,#20928c 57.6px,#2f6b8e 62.2px,#2e6d8e 66.5px,#1f978b 70.1px,#228c8d 74.6px,#1f958b 78.8px,#238a8d 84.7px,#27808e 88.8px,#277f8e 93.3px,#2b748e 98.0px,#287d8e 101.9px,#287c8e 106.4px,#1f968b 110.8px,#24aa83 114.5px,#2ab07f 118.4px,#56c667 122.1px,#58c765 124.5px,#bade28 129.0px,#fde725 130.5px,#fde725 133.5px,#fde725 138.2px,#fde725 141.2px,#fde725 146.2px,#fde725 150.0px,#fde725 153.1px,#d5e21a 153.5px,#1e9c89 154.3px,#1f9f88 155.9px,#efe51c 156.7px,#cde11d 160.0px)"></i><i style="background:linear-gradient(#453882 0.0px,#443b84 3.7px,#463480 7.9px,#423f85 11.8px,#3e4a89 15.6px,#3b528b 18.5px,#39558c 22.7px,#39558c 26.5px,#34618d 31.9px,#3f4788 36.2px,#32658e 40.4px,#355e8d 45.0px,#2e6e8e 49.2px,#218e8d 53.6px,#24868e 58.1px,#25858e 62.9px,#277f8e 66.5px,#23888e 69.9px,#25848e 74.4px,#297a8e 79.1px,#218f8d 83.6px,#21918c 87.6px,#21918c 92.3px,#297a8e 96.8px,#25838e 101.7px,#24868e 105.7px,#228d8d 110.5px,#20928c 114.5px,#1f998a 117.4px,#26ad81 120.7px,#29af7f 124.5px,#95d840 129.0px,#d8e219 130.5px,#fde725 133.5px,#fde725 136.7px,#fde725 141.0px,#fde725 146.2px,#fde725 148.8px,#fde725 153.1px,#fde725 153.5px,#20a386 154.3px,#1fa088 155.9px,#e5e419 156.7px,#ece51b 160.0px)"></i><i style="background:linear-gradient(#3a538b 0.0px,#423f85 4.2px,#424086 7.3px,#3b518b 11.6px,#3a548c 14.4px,#39568c 18.5px,#3c508b 22.7px,#3b518b 26.2px,#365c8d 31.8px,#404688 35.2px,#355e8d 40.2px,#365d8d 43.9px,#2d708e 49.5px,#32648e 54.0px,#31678e 58.6px,#2e6d8e 62.7px,#2e6d8e 66.5px,#2d718e 69.9px,#277e8e 75.8px,#287c8e 79.2px,#2c738e 83.5px,#297b8e 87.7px,#26828e 92.4px,#218f8d 96.6px,#20928c 100.6px,#21a585 106.1px,#1fa188 110.5px,#1f998a 114.5px,#1fa187 118.4px,#29af7f 120.9px,#46c06f 124.5px,#d8e219 129.0px,#fde725 130.5px,#fde725 133.5px,#fbe723 137.2px,#fde725 142.0px,#fde725 146.1px,#fde725 148.4px,#f4e61e 153.1px,#cde11d 153.5px,#20928c 154.3px,#21908d 155.9px,#c2df23 156.7px,#fde725 160.0px)"></i><i style="background:linear-gradient(#38588c 0.0px,#365c8d 4.2px,#31678e 8.1px,#2a788e 11.2px,#2f6b8e 15.3px,#2c718e 18.5px,#34618d 23.4px,#32648e 28.1px,#297b8e 32.3px,#32658e 36.7px,#39558c 40.7px,#355f8d 44.4px,#2e6d8e 48.3px,#3a538b 53.3px,#365d8d 57.2px,#2e6e8e 61.7px,#2b758e 66.5px,#277e8e 70.4px,#297b8e 74.2px,#27808e 79.3px,#25838e 84.5px,#297b8e 88.2px,#238a8d 93.1px,#25848e 97.4px,#25838e 101.9px,#23888e 104.9px,#1f948c 110.1px,#1f998a 114.5px,#2ab07f 118.4px,#3dbc74 121.6px,#50c46a 124.5px,#b2dd2d 129.0px,#fde725 130.5px,#fde725 133.5px,#fde725 137.9px,#fde725 142.3px,#fde725 144.4px,#fde725 149.1px,#fde725 153.1px,#fde725 153.5px,#26ad81 154.3px,#26ad81 155.9px,#fde725 156.7px,#fde725 160.0px)"></i><i style="background:linear-gradient(#46337f 0.0px,#433e85 3.5px,#424086 6.8px,#2f6b8e 10.5px,#32658e 14.1px,#34608d 18.5px,#365d8d 22.5px,#3d4d8a 26.3px,#31688e 32.0px,#38598c 36.8px,#3e4a89 40.3px,#365c8d 44.1px,#2c718e 48.8px,#297a8e 53.1px,#2e6d8e 57.3px,#287d8e 62.9px,#287c8e 66.5px,#228b8d 71.7px,#2a768e 76.1px,#2b748e 79.1px,#24868e 84.6px,#25838e 88.7px,#1f968b 93.6px,#25848e 96.5px,#218e8d 100.9px,#228d8d 105.5px,#1f9e89 109.2px,#21a585 114.5px,#35b779 118.5px,#56c667 121.4px,#52c569 124.5px,#e5e419 129.0px,#fde725 130.5px,#fde725 133.5px,#fde725 136.9px,#fde725 141.4px,#fde725 144.9px,#fde725 149.4px,#fde725 153.1px,#fde725 153.5px,#23a983 154.3px,#25ab82 155.9px,#fde725 156.7px,#e2e418 160.0px)"></i><i style="background:linear-gradient(#482475 0.0px,#472e7c 4.0px,#46307e 6.9px,#3a538b 11.2px,#414287 14.7px,#453781 18.5px,#443a83 22.9px,#463480 26.6px,#414487 31.1px,#3f4788 36.5px,#424086 40.9px,#3b528b 44.3px,#2c718e 48.6px,#2c728e 52.6px,#30698e 58.2px,#2f6c8e 62.7px,#33638d 66.5px,#29798e 70.8px,#2e6f8e 75.0px,#2d718e 78.8px,#26818e 83.6px,#277e8e 88.4px,#277f8e 93.5px,#26828e 98.0px,#21918c 101.5px,#23898e 105.8px,#228c8d 110.1px,#20928c 114.5px,#1f968b 116.9px,#23a983 120.9px,#3bbb75 124.5px,#f8e621 129.0px,#fde725 130.5px,#fde725 133.5px,#fde725 137.4px,#fde725 140.7px,#fde725 145.0px,#fde725 148.8px,#fde725 153.1px,#fde725 153.5px,#29af7f 154.3px,#23a983 155.9px,#f4e61e 156.7px,#dae319 160.0px)"></i><i style="background:linear-gradient(#33638d 0.0px,#365d8d 2.7px,#34608d 8.4px,#31678e 11.2px,#3a538b 15.0px,#3f4788 18.5px,#3e4a89 22.9px,#472a7a 28.0px,#404588 31.8px,#3c4f8a 35.7px,#2e6d8e 39.9px,#26818e 44.1px,#277f8e 49.3px,#2a778e 54.2px,#277e8e 58.4px,#287c8e 61.3px,#25848e 66.5px,#228d8d 71.8px,#29798e 75.6px,#287d8e 79.2px,#24878e 83.7px,#21918c 88.6px,#26828e 93.1px,#26828e 96.4px,#1f9e89 100.8px,#1e9d89 106.2px,#1fa187 109.6px,#1fa187 114.5px,#22a785 117.6px,#22a785 121.0px,#2db27d 124.5px,#90d743 129.0px,#e5e419 130.5px,#fde725 133.5px,#fde725 138.1px,#fde725 141.4px,#fde725 145.3px,#fde725 148.8px,#fde725 153.1px,#fde725 153.5px,#5ec962 154.3px,#52c569 155.9px,#fde725 156.7px,#fde725 160.0px)"></i><i style="background:linear-gradient(#375b8d 0.0px,#3d4d8a 3.9px,#3a548c 7.8px,#3e4989 11.0px,#3b518b 14.8px,#414287 18.5px,#3d4e8a 22.7px,#404588 26.7px,#365c8d 32.5px,#2a768e 36.4px,#287d8e 41.0px,#25848e 44.9px,#29798e 48.6px,#287d8e 52.4px,#238a8d 58.7px,#24878e 63.1px,#1f958b 66.5px,#1f978b 70.3px,#228d8d 75.4px,#21908d 79.0px,#26818e 83.8px,#25838e 88.3px,#238a8d 92.8px,#1f978b 96.7px,#20a486 100.6px,#21908d 106.4px,#23888e 111.1px,#228b8d 114.5px,#1e9d89 118.2px,#31b57b 121.2px,#42be71 124.5px,#b2dd2d 129.0px,#fde725 130.5px,#fde725 133.5px,#fde725 136.9px,#fde725 141.9px,#fde725 145.3px,#fde725 149.4px,#fde725 153.1px,#fde725 153.5px,#2eb37c 154.3px,#2fb47c 155.9px,#fde725 156.7px,#fde725 160.0px)"></i><i style="background:linear-gradient(#414287 0.0px,#482979 2.9px,#3f4889 7.4px,#472d7b 11.5px,#482979 15.2px,#481c6e 18.5px,#453882 22.1px,#472a7a 26.7px,#3e4c8a 31.6px,#32648e 36.4px,#355e8d 40.5px,#3a548c 45.7px,#355f8d 49.1px,#2e6f8e 54.4px,#30698e 57.2px,#277f8e 62.5px,#23888e 66.5px,#218f8d 70.2px,#25858e 74.6px,#23888e 80.4px,#26828e 84.7px,#297a8e 87.4px,#277e8e 92.1px,#1fa287 96.4px,#22a785 100.6px,#1f9e89 106.6px,#1f968b 110.4px,#20938c 114.5px,#1f998a 117.5px,#3bbb75 121.4px,#48c16e 124.5px,#d0e11c 129.0px,#fde725 130.5px,#fde725 133.5px,#fde725 138.4px,#fde725 141.9px,#fde725 145.8px,#fde725 148.3px,#fde725 153.1px,#f6e620 153.5px,#21a585 154.3px,#21a685 155.9px,#fde725 156.7px,#fde725 160.0px)"></i></div><div class="sp" style="left:401px;top:255.5px;width:202.5px;height:160.3px"><i style="background:linear-gradient(#481769 0.0px,#481a6c 4.7px,#482071 9.0px,#481f70 13.5px,#482071 17.8px,#481f70 22.7px,#481a6c 27.1px,#471365 30.4px,#481467 36.2px,#470d60 40.0px,#440256 43.1px,#440256 48.3px,#46085c 53.1px,#48186a 57.8px,#481668 61.2px,#460b5e 65.8px,#471365 69.8px,#470e61 74.3px,#470e61 79.9px,#481467 83.4px,#481467 88.6px,#481c6e 92.5px,#472c7a 96.9px,#3a548c 99.5px,#3b528b 104.2px,#3a538b 107.7px,#31678e 110.5px,#365c8d 113.6px,#2c728e 118.5px,#1fa287 124.5px,#a2da37 130.5px,#d0e11c 135.5px,#ece51b 140.5px,#b2dd2d 145.5px,#22a785 148.5px,#228c8d 151.5px,#1f978b 157.0px,#52c569 157.8px,#5ec962 160.3px)"></i><i style="background:linear-gradient(#46075a 0.0px,#470e61 4.9px,#471164 9.7px,#46075a 13.8px,#46075a 18.0px,#46075a 21.8px,#450559 26.2px,#440154 30.4px,#46075a 35.7px,#440154 38.7px,#440154 43.1px,#440154 48.4px,#460a5d 52.4px,#481a6c 57.0px,#481467 61.9px,#470d60 65.6px,#471164 70.4px,#450559 74.9px,#440154 78.4px,#471063 84.6px,#471365 88.7px,#481b6d 92.5px,#414287 95.2px,#365d8d 99.5px,#2f6b8e 102.9px,#3f4788 107.3px,#3d4d8a 110.5px,#38598c 114.8px,#2d708e 118.5px,#20a486 124.5px,#4ec36b 130.5px,#a2da37 135.5px,#a5db36 140.5px,#93d741 145.5px,#26ad81 148.5px,#24868e 151.5px,#2a788e 157.0px,#22a884 157.8px,#3fbc73 160.3px)"></i><i style="background:linear-gradient(#470d60 0.0px,#460a5d 3.5px,#470e61 8.0px,#470d60 13.3px,#471365 16.7px,#471164 22.3px,#481467 27.1px,#470d60 31.6px,#460a5d 35.8px,#460a5d 38.7px,#460a5d 43.5px,#471063 48.2px,#471063 53.7px,#481769 57.8px,#482173 61.7px,#481f70 65.4px,#481b6d 70.6px,#481a6c 74.5px,#481668 79.0px,#481b6d 84.6px,#481d6f 87.7px,#481a6c 92.5px,#472f7d 95.9px,#453581 99.5px,#443b84 102.9px,#375a8c 106.2px,#2e6e8e 110.5px,#20928c 113.6px,#27808e 118.5px,#1f9a8a 124.5px,#1e9c89 130.5px,#3dbc74 135.5px,#7fd34e 140.5px,#84d44b 145.5px,#31b57b 148.5px,#1e9b8a 151.5px,#287d8e 157.0px,#26ad81 157.8px,#25ac82 160.3px)"></i><i style="background:linear-gradient(#470e61 0.0px,#450457 3.9px,#440154 8.2px,#440154 12.6px,#460a5d 17.0px,#440154 22.4px,#450457 26.2px,#440154 30.6px,#440256 34.3px,#450457 38.7px,#460b5e 45.0px,#471164 49.2px,#450457 53.6px,#481467 57.2px,#470d60 62.3px,#471164 66.4px,#481a6c 69.8px,#481769 75.0px,#481668 79.4px,#481d6f 83.2px,#482374 88.3px,#481b6d 92.5px,#440154 96.2px,#440154 99.5px,#482475 102.5px,#3e4a89 106.1px,#355e8d 110.5px,#297a8e 114.8px,#277e8e 118.5px,#23898e 124.5px,#1fa187 130.5px,#58c765 135.5px,#6ccd5a 140.5px,#38b977 145.5px,#27ad81 148.5px,#25848e 151.5px,#20928c 157.0px,#46c06f 157.8px,#42be71 160.3px)"></i><i style="background:linear-gradient(#470e61 0.0px,#471063 4.9px,#450457 9.1px,#450559 13.4px,#470d60 17.9px,#481467 22.1px,#481769 26.2px,#450559 30.1px,#46075a 35.3px,#481668 40.6px,#481c6e 44.5px,#481c6e 47.7px,#481467 53.1px,#481b6d 56.6px,#481c6e 61.9px,#481c6e 67.0px,#481c6e 71.4px,#482071 74.8px,#481668 78.4px,#482173 83.3px,#481f70 87.8px,#481d6f 92.5px,#472d7b 95.9px,#472d7b 99.5px,#3b518b 102.8px,#2e6d8e 107.6px,#32648e 110.5px,#2e6d8e 114.8px,#21918c 118.5px,#2db27d 124.5px,#50c46a 130.5px,#7ad151 135.5px,#8bd646 140.5px,#6ccd5a 145.5px,#31b57b 148.5px,#218e8d 151.5px,#1f958b 157.0px,#50c46a 157.8px,#2db27d 160.3px)"></i><i style="background:linear-gradient(#481467 0.0px,#460a5d 5.4px,#470d60 8.8px,#470d60 12.8px,#471365 18.0px,#48186a 22.1px,#470d60 27.0px,#46085c 30.2px,#46085c 35.2px,#471164 40.6px,#471164 43.3px,#470e61 47.8px,#460b5e 52.3px,#470d60 57.5px,#470e61 62.1px,#460a5d 66.2px,#471365 70.1px,#482878 75.7px,#482173 78.5px,#481668 83.3px,#482374 87.7px,#481b6d 92.5px,#433e85 95.5px,#453581 99.5px,#3e4a89 102.5px,#3c508b 107.8px,#2e6e8e 110.5px,#297a8e 115.4px,#1f988b 118.5px,#21a585 124.5px,#25ac82 130.5px,#7fd34e 135.5px,#98d83e 140.5px,#9bd93c 145.5px,#31b57b 148.5px,#228b8d 151.5px,#277e8e 157.0px,#27ad81 157.8px,#34b679 160.3px)"></i><i style="background:linear-gradient(#471063 0.0px,#450559 4.6px,#460b5e 9.6px,#471063 12.8px,#481c6e 18.4px,#481467 22.5px,#46085c 27.0px,#46075a 31.2px,#440256 34.3px,#471164 40.1px,#471063 43.8px,#48186a 48.7px,#481668 52.3px,#481467 58.1px,#481467 62.5px,#481b6d 66.5px,#470e61 71.3px,#470e61 75.1px,#48186a 79.1px,#481f70 84.5px,#482173 88.8px,#481c6e 92.5px,#443b84 95.4px,#472f7d 99.5px,#443983 103.3px,#3e4a89 105.9px,#365d8d 110.5px,#306a8e 113.5px,#2b758e 118.5px,#1e9b8a 124.5px,#28ae80 130.5px,#c5e021 135.5px,#f1e51d 140.5px,#dde318 145.5px,#50c46a 148.5px,#21a585 151.5px,#218e8d 157.0px,#3fbc73 157.8px,#3bbb75 160.3px)"></i><i style="background:linear-gradient(#46075a 0.0px,#470d60 3.7px,#460a5d 9.5px,#470d60 12.6px,#471164 16.8px,#481668 22.8px,#471365 25.6px,#46085c 30.8px,#460a5d 35.1px,#471063 39.7px,#460a5d 43.3px,#460b5e 48.4px,#471063 52.1px,#440256 57.0px,#46085c 62.1px,#471365 65.4px,#471365 69.5px,#460b5e 75.2px,#481668 80.0px,#481b6d 83.0px,#481b6d 87.2px,#482677 92.5px,#424186 95.4px,#46337f 99.5px,#463480 102.4px,#404588 106.9px,#38588c 110.5px,#277f8e 115.5px,#23888e 118.5px,#22a884 124.5px,#2eb37c 130.5px,#6ccd5a 135.5px,#dae319 140.5px,#d0e11c 145.5px,#56c667 148.5px,#1f968b 151.5px,#218e8d 157.0px,#3fbc73 157.8px,#25ab82 160.3px)"></i><i style="background:linear-gradient(#450457 0.0px,#460a5d 4.5px,#440154 8.0px,#46085c 12.7px,#46075a 18.2px,#46085c 22.1px,#471365 26.4px,#460b5e 31.4px,#440154 35.0px,#440154 39.0px,#440154 43.3px,#440154 48.5px,#470e61 53.8px,#460a5d 57.5px,#481467 62.2px,#471365 66.5px,#460a5d 70.9px,#471164 74.0px,#471164 79.1px,#481a6c 84.1px,#481f70 87.2px,#481b6d 92.5px,#482979 95.0px,#453882 99.5px,#306a8e 103.3px,#3d4d8a 106.2px,#38588c 110.5px,#2c718e 114.6px,#297b8e 118.5px,#27ad81 124.5px,#29af7f 130.5px,#addc30 135.5px,#c5e021 140.5px,#93d741 145.5px,#1fa187 148.5px,#228d8d 151.5px,#20928c 157.0px,#48c16e 157.8px,#27ad81 160.3px)"></i><i style="background:linear-gradient(#471164 0.0px,#481769 3.4px,#460b5e 7.9px,#471365 12.2px,#481668 17.8px,#471365 22.3px,#470e61 26.5px,#460a5d 31.6px,#440154 34.8px,#440154 39.2px,#440256 44.7px,#440256 48.6px,#481769 52.5px,#481668 57.0px,#46075a 61.3px,#470d60 66.1px,#48186a 70.1px,#481467 74.6px,#471063 79.6px,#470e61 83.8px,#481c6e 88.1px,#481f70 92.5px,#443983 95.0px,#3c4f8a 99.5px,#38588c 103.3px,#3b518b 106.6px,#365d8d 110.5px,#34608d 114.0px,#34618d 118.5px,#1e9c89 124.5px,#56c667 130.5px,#b5de2b 135.5px,#d0e11c 140.5px,#aadc32 145.5px,#26ad81 148.5px,#1fa088 151.5px,#23898e 157.0px,#38b977 157.8px,#3aba76 160.3px)"></i><i style="background:linear-gradient(#440154 0.0px,#46085c 5.0px,#470d60 9.2px,#470d60 14.0px,#450559 16.8px,#481769 21.8px,#481467 26.9px,#481668 30.2px,#471365 34.6px,#481d6f 39.3px,#481a6c 43.1px,#471365 48.8px,#471365 53.4px,#481a6c 56.6px,#481769 60.9px,#482071 66.4px,#482374 71.3px,#481f70 75.8px,#481d6f 79.4px,#481769 83.8px,#481b6d 89.1px,#472a7a 92.5px,#404588 95.1px,#3c508b 99.5px,#365d8d 102.9px,#424186 107.2px,#32648e 110.5px,#2d718e 115.2px,#287d8e 118.5px,#1fa188 124.5px,#b0dd2f 130.5px,#dae319 135.5px,#f8e621 140.5px,#95d840 145.5px,#38b977 148.5px,#20938c 151.5px,#2d708e 157.0px,#1fa088 157.8px,#1f998a 160.3px)"></i><i style="background:linear-gradient(#440256 0.0px,#440154 4.8px,#470d60 8.8px,#460b5e 13.2px,#46085c 18.4px,#46075a 22.5px,#460b5e 25.8px,#470d60 31.7px,#48186a 35.9px,#481a6c 39.9px,#481a6c 44.7px,#471063 48.9px,#460a5d 52.5px,#470e61 57.7px,#460a5d 61.4px,#471063 65.1px,#471063 70.2px,#471365 75.0px,#471365 79.8px,#470e61 83.8px,#471063 87.3px,#481668 92.5px,#481a6c 95.8px,#472d7b 99.5px,#472f7d 103.7px,#3e4a89 106.5px,#38588c 110.5px,#34608d 114.9px,#2c718e 118.5px,#1f9a8a 124.5px,#63cb5f 130.5px,#c5e021 135.5px,#fde725 140.5px,#aadc32 145.5px,#37b878 148.5px,#1fa188 151.5px,#1e9c89 157.0px,#5cc863 157.8px,#20a386 160.3px)"></i><i style="background:linear-gradient(#440154 0.0px,#440154 4.0px,#440154 8.2px,#450457 14.0px,#440256 16.8px,#440154 22.6px,#450457 26.7px,#46075a 29.9px,#450559 34.3px,#481467 39.1px,#460a5d 44.4px,#440154 49.0px,#440154 52.6px,#440256 58.0px,#440154 60.9px,#440154 66.6px,#440154 70.9px,#46075a 74.6px,#450559 80.3px,#46085c 83.4px,#440154 87.6px,#46075a 92.5px,#471164 96.3px,#453781 99.5px,#453882 103.3px,#463480 106.2px,#463480 110.5px,#34608d 114.2px,#2f6c8e 118.5px,#1f998a 124.5px,#44bf70 130.5px,#65cb5e 135.5px,#95d840 140.5px,#8ed645 145.5px,#48c16e 148.5px,#1f958b 151.5px,#228c8d 157.0px,#3dbc74 157.8px,#2ab07f 160.3px)"></i><i style="background:linear-gradient(#450559 0.0px,#440154 5.0px,#46085c 8.5px,#440154 13.8px,#440256 17.8px,#440154 22.6px,#440154 25.9px,#470d60 31.6px,#46085c 34.5px,#471063 39.8px,#471365 45.0px,#460a5d 47.7px,#481467 52.1px,#470e61 56.7px,#471063 60.7px,#46075a 66.4px,#440154 70.5px,#471063 74.4px,#460a5d 79.7px,#450559 83.7px,#450457 87.7px,#460b5e 92.5px,#471063 95.4px,#472d7b 99.5px,#482173 102.8px,#453882 107.5px,#46337f 110.5px,#404688 115.5px,#33638d 118.5px,#26828e 124.5px,#38b977 130.5px,#7cd250 135.5px,#b5de2b 140.5px,#93d741 145.5px,#2ab07f 148.5px,#218f8d 151.5px,#26818e 157.0px,#2ab07f 157.8px,#29af7f 160.3px)"></i><i style="background:linear-gradient(#440154 0.0px,#440154 4.1px,#450559 9.0px,#46085c 13.7px,#440154 17.1px,#440154 22.4px,#440154 26.3px,#440154 31.7px,#450457 34.6px,#450457 38.8px,#46085c 43.1px,#460a5d 48.3px,#471365 52.7px,#471365 56.6px,#460b5e 62.3px,#46075a 66.6px,#470e61 70.8px,#440154 75.2px,#450559 79.7px,#460b5e 84.2px,#440154 88.0px,#46085c 92.5px,#481668 95.5px,#482173 99.5px,#46337f 102.5px,#463480 106.5px,#3e4a89 110.5px,#424086 114.6px,#32648e 118.5px,#228d8d 124.5px,#35b779 130.5px,#95d840 135.5px,#c0df25 140.5px,#bade28 145.5px,#2eb37c 148.5px,#24878e 151.5px,#31668e 157.0px,#1f968b 157.8px,#20a386 160.3px)"></i><i style="background:linear-gradient(#471164 0.0px,#470d60 5.3px,#471063 9.5px,#481467 13.3px,#440154 16.8px,#440154 21.3px,#440154 25.9px,#440154 30.1px,#46085c 35.0px,#471063 40.0px,#471164 43.1px,#471365 47.9px,#481668 53.7px,#481668 57.2px,#471365 61.7px,#460a5d 66.2px,#481a6c 70.8px,#481d6f 74.3px,#481467 79.6px,#481467 82.9px,#481769 88.7px,#470d60 92.5px,#481467 96.6px,#471365 99.5px,#46327e 102.8px,#39568c 107.4px,#2d708e 110.5px,#2a788e 113.8px,#25838e 118.5px,#22a785 124.5px,#81d34d 130.5px,#b8de29 135.5px,#ece51b 140.5px,#c8e020 145.5px,#31b57b 148.5px,#20928c 151.5px,#25838e 157.0px,#2eb37c 157.8px,#54c568 160.3px)"></i><i style="background:linear-gradient(#481467 0.0px,#440256 5.1px,#440256 8.8px,#46075a 13.2px,#440154 17.0px,#440154 22.6px,#450559 26.4px,#440154 30.4px,#450559 34.7px,#46085c 39.8px,#46085c 43.1px,#46085c 48.2px,#450457 52.0px,#470d60 58.0px,#450559 61.4px,#471063 65.2px,#471063 70.5px,#481769 74.3px,#481b6d 79.5px,#48186a 84.3px,#481f70 88.2px,#482374 92.5px,#433d84 96.7px,#414287 99.5px,#33628d 103.4px,#34618d 107.4px,#3a538b 110.5px,#30698e 114.3px,#26828e 118.5px,#218f8d 124.5px,#5cc863 130.5px,#b0dd2f 135.5px,#c8e020 140.5px,#bade28 145.5px,#26ad81 148.5px,#2a788e 151.5px,#29798e 157.0px,#23a983 157.8px,#3fbc73 160.3px)"></i><i style="background:linear-gradient(#46075a 0.0px,#46085c 4.8px,#471164 8.5px,#460b5e 13.7px,#450457 18.4px,#470d60 21.6px,#470d60 26.4px,#46085c 30.7px,#481467 34.5px,#48186a 39.3px,#481d6f 43.8px,#471164 49.2px,#471365 53.3px,#470d60 56.5px,#46075a 61.0px,#460a5d 65.6px,#460a5d 70.7px,#460a5d 74.3px,#470d60 78.6px,#460a5d 84.0px,#46085c 87.8px,#460b5e 92.5px,#471063 96.0px,#482173 99.5px,#3a538b 103.8px,#38598c 107.7px,#32658e 110.5px,#355f8d 114.9px,#24878e 118.5px,#1e9d89 124.5px,#5cc863 130.5px,#b2dd2d 135.5px,#a0da39 140.5px,#46c06f 145.5px,#20928c 148.5px,#2a788e 151.5px,#287c8e 157.0px,#25ac82 157.8px,#23a983 160.3px)"></i><i style="background:linear-gradient(#48186a 0.0px,#481b6d 4.8px,#481b6d 9.0px,#481d6f 13.3px,#481d6f 16.9px,#481d6f 22.1px,#481769 25.8px,#481b6d 30.2px,#481d6f 34.9px,#482576 39.6px,#482878 44.8px,#472c7a 47.7px,#482677 52.6px,#482475 56.6px,#481f70 62.3px,#48186a 65.5px,#481d6f 70.4px,#481d6f 74.7px,#472c7a 79.5px,#472a7a 82.9px,#482071 88.4px,#481d6f 92.5px,#482475 96.4px,#463480 99.5px,#31668e 102.7px,#2c718e 107.8px,#25848e 110.5px,#20938c 114.9px,#20a486 118.5px,#56c667 124.5px,#c2df23 130.5px,#e2e418 135.5px,#c8e020 140.5px,#63cb5f 145.5px,#25ab82 148.5px,#24868e 151.5px,#1fa187 157.0px,#6ccd5a 157.8px,#34b679 160.3px)"></i><i style="background:linear-gradient(#470e61 0.0px,#460a5d 3.7px,#471365 8.5px,#471365 12.5px,#470d60 17.4px,#46085c 21.1px,#440154 26.8px,#450457 31.8px,#470e61 36.1px,#470e61 39.0px,#481d6f 44.0px,#481c6e 48.7px,#481b6d 52.9px,#48186a 57.4px,#481a6c 60.8px,#481668 66.1px,#481b6d 70.6px,#482576 75.0px,#482374 80.2px,#481b6d 83.8px,#481668 88.2px,#471063 92.5px,#471063 96.2px,#440154 99.5px,#440154 102.3px,#3e4c8a 107.0px,#32648e 110.5px,#297b8e 114.7px,#20938c 118.5px,#40bd72 124.5px,#73d056 130.5px,#aadc32 135.5px,#cde11d 140.5px,#c2df23 145.5px,#4cc26c 148.5px,#1fa187 151.5px,#1f958b 157.0px,#4ec36b 157.8px,#3bbb75 160.3px)"></i><i style="background:linear-gradient(#482071 0.0px,#481c6e 5.0px,#481a6c 8.6px,#471365 13.7px,#481b6d 17.4px,#481467 21.3px,#48186a 26.1px,#481668 31.8px,#482071 35.3px,#482576 39.9px,#482475 43.1px,#481f70 49.2px,#481769 53.0px,#481b6d 56.9px,#482374 62.4px,#482878 66.5px,#481a6c 69.5px,#472c7a 74.6px,#482475 79.5px,#482979 83.1px,#482374 88.5px,#482878 92.5px,#433e85 95.2px,#482979 99.5px,#414287 103.6px,#30698e 107.5px,#30698e 110.5px,#277f8e 114.4px,#23898e 118.5px,#22a785 124.5px,#5ec962 130.5px,#d0e11c 135.5px,#efe51c 140.5px,#7ad151 145.5px,#2ab07f 148.5px,#20928c 151.5px,#1e9b8a 157.0px,#5ac864 157.8px,#63cb5f 160.3px)"></i><i style="background:linear-gradient(#471063 0.0px,#470d60 3.7px,#440154 8.9px,#46075a 13.5px,#450457 17.6px,#46075a 22.6px,#440154 27.4px,#440154 30.9px,#46085c 35.8px,#471164 40.6px,#46075a 44.9px,#471164 47.6px,#46085c 53.2px,#46075a 57.4px,#440154 61.1px,#450457 66.5px,#471365 70.1px,#471164 74.0px,#471365 79.8px,#440154 84.0px,#440256 87.3px,#471365 92.5px,#482979 95.6px,#472a7a 99.5px,#404688 102.8px,#39558c 106.6px,#38598c 110.5px,#33628d 113.6px,#287c8e 118.5px,#23898e 124.5px,#37b878 130.5px,#b2dd2d 135.5px,#c0df25 140.5px,#8ed645 145.5px,#4ec36b 148.5px,#1e9b8a 151.5px,#20938c 157.0px,#4ac16d 157.8px,#58c765 160.3px)"></i><i style="background:linear-gradient(#470d60 0.0px,#471063 3.8px,#460b5e 9.8px,#481769 13.7px,#471164 18.3px,#481a6c 22.9px,#470e61 26.3px,#481769 30.6px,#471164 35.5px,#471164 38.9px,#471365 44.0px,#460b5e 49.2px,#450559 52.7px,#460b5e 56.3px,#46085c 61.0px,#460a5d 66.5px,#482173 71.4px,#481c6e 74.5px,#481c6e 79.6px,#481c6e 84.7px,#48186a 88.6px,#481b6d 92.5px,#471164 95.0px,#472d7b 99.5px,#46337f 102.3px,#2d708e 107.1px,#297a8e 110.5px,#2a788e 114.6px,#2a788e 118.5px,#1f948c 124.5px,#7ad151 130.5px,#c5e021 135.5px,#d0e11c 140.5px,#c0df25 145.5px,#3aba76 148.5px,#23888e 151.5px,#20928c 157.0px,#4ac16d 157.8px,#37b878 160.3px)"></i><i style="background:linear-gradient(#440154 0.0px,#440154 4.6px,#440154 7.9px,#450559 13.1px,#471164 17.7px,#470d60 21.6px,#450559 26.4px,#450457 30.8px,#440154 35.1px,#450457 39.0px,#481467 44.9px,#46085c 49.3px,#460a5d 52.7px,#46075a 57.0px,#440154 62.1px,#460a5d 66.5px,#481b6d 71.1px,#471365 74.2px,#470d60 79.0px,#481769 84.4px,#470e61 88.0px,#470d60 92.5px,#440154 95.7px,#460b5e 99.5px,#472a7a 103.5px,#3d4d8a 107.2px,#375a8c 110.5px,#26818e 113.9px,#24868e 118.5px,#20a486 124.5px,#4cc26c 130.5px,#fde725 135.5px,#fde725 140.5px,#93d741 145.5px,#20a486 148.5px,#218f8d 151.5px,#20928c 157.0px,#4ac16d 157.8px,#25ab82 160.3px)"></i><i style="background:linear-gradient(#450457 0.0px,#460a5d 3.7px,#450559 8.0px,#471063 12.4px,#481b6d 16.9px,#470d60 22.0px,#46085c 25.7px,#481668 30.0px,#470e61 36.1px,#470e61 39.2px,#481769 43.7px,#48186a 47.6px,#481668 52.8px,#471063 57.5px,#482576 62.2px,#481b6d 66.8px,#481d6f 71.1px,#482071 74.0px,#481d6f 78.5px,#481b6d 83.5px,#481a6c 88.4px,#481c6e 92.5px,#481a6c 96.9px,#470e61 99.5px,#3d4e8a 104.1px,#39568c 107.7px,#32648e 110.5px,#26818e 115.1px,#23888e 118.5px,#2eb37c 124.5px,#69cd5b 130.5px,#d0e11c 135.5px,#cae11f 140.5px,#90d743 145.5px,#1fa187 148.5px,#26818e 151.5px,#23888e 157.0px,#35b779 157.8px,#25ac82 160.3px)"></i><i style="background:linear-gradient(#46085c 0.0px,#440256 4.5px,#46075a 8.0px,#481769 13.9px,#481769 16.7px,#471164 22.3px,#46075a 26.9px,#450457 30.9px,#471365 35.3px,#470d60 40.2px,#450457 43.5px,#481769 49.2px,#481668 53.3px,#450559 57.6px,#471365 62.6px,#481c6e 66.5px,#471365 71.1px,#481d6f 74.6px,#481a6c 78.7px,#481769 82.8px,#470e61 88.8px,#471365 92.5px,#481467 96.8px,#453781 99.5px,#3a538b 103.2px,#3e4a89 107.7px,#39558c 110.5px,#34608d 114.1px,#2a778e 118.5px,#1e9c89 124.5px,#54c568 130.5px,#a0da39 135.5px,#c0df25 140.5px,#b2dd2d 145.5px,#27ad81 148.5px,#228b8d 151.5px,#23898e 157.0px,#37b878 157.8px,#37b878 160.3px)"></i><i style="background:linear-gradient(#481467 0.0px,#481467 5.3px,#481b6d 8.7px,#481a6c 13.2px,#481668 16.8px,#481467 21.2px,#46085c 27.1px,#481467 30.3px,#482071 34.4px,#481769 38.9px,#48186a 44.9px,#481a6c 48.9px,#481c6e 52.4px,#471063 57.1px,#470e61 61.4px,#481d6f 66.7px,#481b6d 71.4px,#481d6f 74.2px,#482173 78.5px,#481a6c 83.3px,#48186a 88.9px,#471164 92.5px,#440154 95.5px,#463480 99.5px,#3a538b 102.9px,#2d708e 107.2px,#2c718e 110.5px,#33638d 115.3px,#277e8e 118.5px,#1f998a 124.5px,#52c569 130.5px,#cae11f 135.5px,#dfe318 140.5px,#c0df25 145.5px,#38b977 148.5px,#23888e 151.5px,#228d8d 157.0px,#3dbc74 157.8px,#58c765 160.3px)"></i><i style="background:linear-gradient(#440154 0.0px,#440154 3.8px,#450457 8.3px,#440256 13.6px,#460a5d 18.5px,#460b5e 22.3px,#481b6d 26.1px,#481467 31.5px,#460b5e 35.8px,#440154 39.0px,#470e61 43.9px,#460b5e 47.7px,#471063 53.0px,#440256 57.3px,#46085c 61.9px,#460a5d 67.0px,#471365 70.2px,#481668 75.5px,#471365 78.6px,#450457 82.9px,#460a5d 89.0px,#46075a 92.5px,#440154 95.0px,#481467 99.5px,#482475 103.4px,#424086 107.8px,#3f4788 110.5px,#433e85 114.3px,#2c728e 118.5px,#22a884 124.5px,#63cb5f 130.5px,#d8e219 135.5px,#fde725 140.5px,#a2da37 145.5px,#3dbc74 148.5px,#20928c 151.5px,#228d8d 157.0px,#3dbc74 157.8px,#28ae80 160.3px)"></i><i style="background:linear-gradient(#450457 0.0px,#450559 3.8px,#450559 7.9px,#440154 12.6px,#46085c 17.3px,#460b5e 22.3px,#481467 26.4px,#460a5d 29.8px,#440154 34.7px,#440154 40.3px,#450559 44.6px,#470e61 48.4px,#471365 52.2px,#481668 56.3px,#460b5e 61.1px,#48186a 66.1px,#481769 70.3px,#481668 74.1px,#471365 79.5px,#46075a 84.1px,#440256 88.2px,#460b5e 92.5px,#460b5e 96.4px,#481d6f 99.5px,#472f7d 102.7px,#424086 107.0px,#3b518b 110.5px,#277e8e 116.5px,#29af7f 121.5px,#bade28 124.5px,#fde725 127.5px,#fde725 129.5px,#fde725 134.3px,#fde725 136.9px,#fde725 142.4px,#fde725 145.0px,#fde725 150.0px,#fde725 151.1px,#46c06f 152.5px,#1f948c 157.0px,#32b67a 157.8px,#37b878 160.3px)"></i><i style="background:linear-gradient(#46085c 0.0px,#470e61 3.5px,#481467 8.9px,#470d60 13.3px,#470d60 17.4px,#471365 22.6px,#46085c 26.2px,#471365 30.4px,#470e61 34.8px,#470e61 38.7px,#471164 44.2px,#481668 48.9px,#471164 53.0px,#470e61 57.1px,#470e61 62.1px,#471063 65.8px,#481467 71.4px,#48186a 74.7px,#48186a 78.6px,#481d6f 84.5px,#471365 88.6px,#481668 92.5px,#481a6c 96.1px,#481769 99.5px,#482979 102.4px,#482475 107.5px,#3f4788 110.5px,#218f8d 116.5px,#3dbc74 121.5px,#9dd93b 124.5px,#fbe723 127.5px,#fde725 129.5px,#fde725 133.3px,#fde725 137.2px,#fde725 142.3px,#fde725 146.7px,#fde725 150.0px,#fde725 151.1px,#38b977 152.5px,#20938c 157.0px,#31b57b 157.8px,#31b57b 160.3px)"></i><i style="background:linear-gradient(#460a5d 0.0px,#46085c 5.2px,#470e61 8.4px,#481467 14.2px,#450457 18.3px,#440154 21.5px,#440154 27.4px,#440154 30.3px,#471164 35.9px,#481c6e 39.6px,#481b6d 43.6px,#481c6e 48.3px,#481668 51.9px,#471164 58.1px,#470e61 61.0px,#440154 65.6px,#450559 70.8px,#470e61 75.2px,#471365 80.1px,#481668 83.9px,#470e61 88.7px,#470d60 92.5px,#470d60 96.0px,#46327e 99.5px,#423f85 102.4px,#30698e 107.5px,#2f6c8e 110.5px,#1e9b8a 116.5px,#27ad81 121.5px,#81d34d 124.5px,#fde725 127.5px,#fde725 129.5px,#fde725 133.0px,#fde725 138.2px,#fde725 141.6px,#fde725 145.1px,#fde725 150.0px,#f8e621 151.1px,#28ae80 152.5px,#1f948c 157.0px,#32b67a 157.8px,#38b977 160.3px)"></i><i style="background:linear-gradient(#46075a 0.0px,#440256 4.6px,#440154 8.6px,#440154 12.9px,#440154 17.5px,#440154 22.5px,#460a5d 26.7px,#440154 31.3px,#471063 35.2px,#481668 39.6px,#481b6d 44.4px,#471365 49.2px,#471063 52.7px,#471365 58.2px,#471063 60.9px,#481668 66.4px,#470d60 70.9px,#481b6d 74.6px,#481769 78.3px,#471365 83.8px,#481467 87.8px,#481c6e 92.5px,#482374 96.6px,#472e7c 99.5px,#31668e 103.4px,#297a8e 107.0px,#287d8e 110.5px,#1fa287 116.5px,#3dbc74 121.5px,#67cc5c 124.5px,#e5e419 127.5px,#fde725 129.5px,#fde725 132.9px,#f6e620 138.1px,#e5e419 141.2px,#fde725 146.2px,#fde725 150.0px,#d5e21a 151.1px,#27ad81 152.5px,#1f998a 157.0px,#3aba76 157.8px,#38b977 160.3px)"></i><i style="background:linear-gradient(#440256 0.0px,#440154 4.5px,#440154 8.0px,#440154 14.1px,#440154 18.2px,#440154 22.0px,#470e61 26.3px,#440154 30.6px,#440154 34.4px,#460b5e 39.1px,#460a5d 43.6px,#471063 49.4px,#450457 52.6px,#471063 56.9px,#471365 62.1px,#481769 65.2px,#481467 70.6px,#481b6d 75.2px,#481668 79.8px,#481467 83.2px,#471365 87.8px,#482173 92.5px,#46307e 96.3px,#481a6c 99.5px,#3b528b 103.4px,#31668e 107.2px,#2c718e 110.5px,#27ad81 116.5px,#77d153 121.5px,#dae319 124.5px,#fde725 127.5px,#fde725 129.5px,#fde725 133.8px,#fde725 136.9px,#fde725 141.8px,#fde725 145.0px,#fde725 150.0px,#a2da37 151.1px,#1f968b 152.5px,#1f948c 157.0px,#32b67a 157.8px,#2db27d 160.3px)"></i><i style="background:linear-gradient(#440154 0.0px,#440154 3.8px,#450559 9.6px,#440154 13.0px,#450457 17.3px,#460a5d 23.0px,#440154 26.8px,#440154 30.3px,#450457 34.9px,#460a5d 40.0px,#450559 43.3px,#450457 49.4px,#440154 53.5px,#440154 56.8px,#460b5e 60.9px,#481467 67.1px,#481a6c 70.9px,#482173 75.5px,#482173 78.6px,#481b6d 84.4px,#481c6e 87.5px,#471365 92.5px,#482979 96.4px,#472c7a 99.5px,#433e85 103.9px,#38598c 106.5px,#365d8d 110.5px,#1fa088 116.5px,#70cf57 121.5px,#fde725 124.5px,#fde725 127.5px,#fde725 129.5px,#fde725 134.5px,#fde725 137.5px,#fde725 141.4px,#fde725 146.5px,#fde725 150.0px,#e7e419 151.1px,#2ab07f 152.5px,#228d8d 157.0px,#28ae80 157.8px,#26ad81 160.3px)"></i><i style="background:linear-gradient(#481467 0.0px,#450457 4.6px,#470d60 8.8px,#440154 12.5px,#440154 18.5px,#46075a 22.5px,#460b5e 25.5px,#46075a 30.8px,#46085c 35.0px,#46075a 39.8px,#46075a 43.5px,#470d60 48.3px,#470d60 53.0px,#470e61 58.1px,#48186a 61.8px,#481769 65.6px,#481d6f 71.4px,#481a6c 74.1px,#481c6e 78.3px,#471164 83.6px,#470d60 88.1px,#481769 92.5px,#472c7a 96.5px,#443b84 99.5px,#414287 102.5px,#38588c 106.8px,#375a8c 110.5px,#21918c 116.5px,#5cc863 121.5px,#e2e418 124.5px,#fde725 127.5px,#fde725 129.5px,#fde725 134.2px,#fde725 137.2px,#fde725 142.4px,#fde725 146.8px,#fde725 150.0px,#eae51a 151.1px,#38b977 152.5px,#1f988b 157.0px,#38b977 157.8px,#65cb5e 160.3px)"></i><i style="background:linear-gradient(#470e61 0.0px,#440154 5.2px,#440154 9.0px,#440154 13.9px,#440154 17.3px,#440154 22.9px,#440154 27.3px,#440154 29.9px,#440154 34.8px,#450457 39.3px,#440256 44.3px,#460b5e 49.4px,#471164 53.8px,#481769 56.6px,#471365 62.2px,#46075a 65.4px,#450457 70.9px,#470d60 75.3px,#481467 78.7px,#471164 83.7px,#481a6c 88.5px,#481c6e 92.5px,#482475 96.6px,#481a6c 99.5px,#3c508b 104.0px,#3a548c 106.7px,#3b528b 110.5px,#21918c 116.5px,#4ac16d 121.5px,#cae11f 124.5px,#fde725 127.5px,#fde725 129.5px,#fde725 134.6px,#fde725 138.7px,#fde725 141.7px,#fde725 146.0px,#f4e61e 150.0px,#9dd93b 151.1px,#1f9a8a 152.5px,#25ac82 157.0px,#60ca60 157.8px,#73d056 160.3px)"></i><i style="background:linear-gradient(#481668 0.0px,#46085c 4.3px,#440154 8.0px,#46085c 13.1px,#450559 17.3px,#440154 21.1px,#450559 25.6px,#470e61 30.8px,#481769 36.0px,#481467 39.9px,#481c6e 44.1px,#48186a 47.7px,#482475 53.7px,#481f70 56.5px,#472e7c 62.5px,#482071 66.7px,#481c6e 70.9px,#482071 74.5px,#482475 80.2px,#472c7a 83.8px,#482878 88.5px,#482374 92.5px,#433d84 95.6px,#3a538b 99.5px,#2d718e 103.2px,#2d708e 106.3px,#2a778e 110.5px,#1f988b 116.5px,#56c667 121.5px,#b8de29 124.5px,#f8e621 127.5px,#fde725 129.5px,#fde725 133.0px,#fde725 137.8px,#fde725 141.7px,#fde725 145.5px,#fde725 150.0px,#c5e021 151.1px,#22a785 152.5px,#1fa187 157.0px,#4ac16d 157.8px,#4cc26c 160.3px)"></i><i style="background:linear-gradient(#481668 0.0px,#470d60 3.4px,#46075a 8.5px,#481b6d 13.6px,#481769 16.8px,#481d6f 21.9px,#481a6c 26.6px,#481467 30.7px,#481b6d 34.3px,#482576 40.2px,#481d6f 44.2px,#481769 49.2px,#482677 53.6px,#472a7a 58.2px,#482979 60.8px,#471164 66.3px,#460a5d 71.4px,#471365 74.5px,#481b6d 80.1px,#482374 83.3px,#482173 88.0px,#482374 92.5px,#443983 96.4px,#3e4c8a 99.5px,#39558c 103.8px,#38598c 107.3px,#34618d 110.5px,#21a685 116.5px,#50c46a 121.5px,#bddf26 124.5px,#fde725 127.5px,#fde725 129.5px,#fde725 132.7px,#fde725 138.0px,#fde725 142.4px,#fde725 145.5px,#fde725 150.0px,#fde725 151.1px,#35b779 152.5px,#1fa088 157.0px,#46c06f 157.8px,#54c568 160.3px)"></i><i style="background:linear-gradient(#481467 0.0px,#460b5e 3.9px,#440256 9.8px,#46075a 14.1px,#450559 18.0px,#46085c 22.6px,#481467 27.3px,#460b5e 29.8px,#481668 36.1px,#470e61 40.2px,#470d60 43.8px,#440154 47.6px,#470d60 53.0px,#470e61 57.3px,#481467 62.1px,#450559 66.6px,#460b5e 71.4px,#460a5d 74.4px,#471365 78.5px,#460b5e 83.0px,#481b6d 88.5px,#481668 92.5px,#414287 96.9px,#453781 99.5px,#46327e 103.4px,#3a548c 106.0px,#3b528b 110.5px,#20938c 116.5px,#29af7f 121.5px,#a8db34 124.5px,#d0e11c 127.5px,#fde725 129.5px,#fde725 133.6px,#fde725 138.0px,#fde725 141.4px,#fde725 145.7px,#fde725 150.0px,#fde725 151.1px,#40bd72 152.5px,#1e9d89 157.0px,#40bd72 157.8px,#6ece58 160.3px)"></i><i style="background:linear-gradient(#460b5e 0.0px,#440154 5.0px,#440154 8.3px,#450559 12.7px,#46085c 16.7px,#440154 21.1px,#481769 26.4px,#471063 29.9px,#481467 34.8px,#460b5e 40.2px,#450559 45.0px,#481668 48.9px,#471063 51.9px,#46075a 58.0px,#46075a 62.4px,#471365 65.7px,#471063 70.8px,#481467 75.0px,#481769 78.7px,#481d6f 83.3px,#472c7a 87.7px,#481769 92.5px,#482173 96.9px,#481467 99.5px,#482173 103.1px,#443983 107.6px,#3c4f8a 110.5px,#25838e 116.5px,#3dbc74 121.5px,#c5e021 124.5px,#ece51b 127.5px,#fde725 129.5px,#fde725 134.6px,#fde725 137.0px,#fde725 141.9px,#fde725 146.5px,#fde725 150.0px,#f1e51d 151.1px,#31b57b 152.5px,#21a585 157.0px,#52c569 157.8px,#58c765 160.3px)"></i><i style="background:linear-gradient(#440154 0.0px,#440154 4.6px,#440256 8.2px,#440154 13.7px,#440256 18.1px,#440154 21.9px,#450457 25.6px,#471164 30.0px,#460a5d 34.5px,#450457 39.1px,#46075a 44.7px,#470e61 49.0px,#46085c 52.3px,#440256 57.9px,#440154 61.9px,#470e61 66.5px,#481769 70.6px,#481b6d 75.2px,#48186a 79.1px,#481c6e 83.6px,#481a6c 88.9px,#481b6d 92.5px,#463480 96.7px,#481b6d 99.5px,#472a7a 103.1px,#424186 107.7px,#34608d 110.5px,#21918c 116.5px,#2fb47c 121.5px,#bade28 124.5px,#ece51b 127.5px,#fde725 129.5px,#fde725 133.7px,#fde725 138.3px,#fde725 140.8px,#ece51b 145.4px,#fde725 150.0px,#cde11d 151.1px,#28ae80 152.5px,#21908d 157.0px,#2ab07f 157.8px,#31b57b 160.3px)"></i><i style="background:linear-gradient(#450559 0.0px,#481668 4.1px,#471063 8.9px,#471063 13.8px,#471365 16.8px,#460b5e 21.9px,#471063 25.7px,#481c6e 31.0px,#470e61 34.3px,#481b6d 39.7px,#481668 43.7px,#481d6f 48.2px,#471365 53.3px,#481668 57.1px,#481769 61.1px,#481f70 65.7px,#481f70 70.1px,#481f70 75.4px,#471164 78.8px,#460a5d 84.6px,#470d60 88.3px,#46075a 92.5px,#482878 96.8px,#472c7a 99.5px,#443b84 103.1px,#424086 106.7px,#2e6e8e 110.5px,#1f9e89 116.5px,#3bbb75 121.5px,#b8de29 124.5px,#fde725 127.5px,#fde725 129.5px,#fde725 133.9px,#fde725 138.5px,#fde725 142.5px,#fde725 145.5px,#fde725 150.0px,#fde725 151.1px,#77d153 152.5px,#29af7f 157.0px,#69cd5b 157.8px,#35b779 160.3px)"></i><i style="background:linear-gradient(#481c6e 0.0px,#481668 3.6px,#481d6f 8.3px,#481769 12.2px,#470e61 18.4px,#471063 23.0px,#481668 27.2px,#482071 31.8px,#481a6c 35.2px,#482173 39.9px,#481b6d 45.0px,#482173 48.4px,#482475 53.8px,#482173 57.1px,#481d6f 61.5px,#472c7a 65.2px,#471365 70.1px,#450457 74.1px,#470d60 80.1px,#450559 83.1px,#481a6c 88.2px,#46075a 92.5px,#471164 95.8px,#46337f 99.5px,#38598c 103.5px,#38598c 107.1px,#31678e 110.5px,#20938c 116.5px,#34b679 121.5px,#d8e219 124.5px,#fde725 127.5px,#fde725 129.5px,#fde725 133.3px,#fde725 136.8px,#fde725 141.1px,#fde725 145.0px,#fde725 150.0px,#fde725 151.1px,#58c765 152.5px,#2fb47c 157.0px,#75d054 157.8px,#7fd34e 160.3px)"></i><i style="background:linear-gradient(#482173 0.0px,#481c6e 3.7px,#481d6f 8.3px,#482173 12.7px,#481b6d 18.2px,#481769 22.5px,#48186a 26.1px,#481b6d 31.0px,#482173 34.3px,#482878 40.1px,#482374 44.8px,#481769 47.8px,#482374 53.1px,#472a7a 57.0px,#482677 62.1px,#481f70 65.4px,#471365 71.1px,#471164 75.3px,#481b6d 80.2px,#482576 83.6px,#482173 87.9px,#481b6d 92.5px,#482979 95.5px,#404688 99.5px,#3b528b 103.1px,#34608d 106.2px,#297a8e 110.5px,#2ab07f 116.5px,#4ac16d 121.5px,#bddf26 124.5px,#fde725 127.5px,#fde725 129.5px,#fde725 134.1px,#fde725 138.6px,#fde725 142.3px,#fde725 145.8px,#fde725 150.0px,#fde725 151.1px,#4ec36b 152.5px,#48c16e 157.0px,#98d83e 157.8px,#77d153 160.3px)"></i><i style="background:linear-gradient(#481a6c 0.0px,#470d60 4.5px,#481467 9.1px,#481769 12.9px,#482374 17.6px,#471063 22.7px,#46085c 26.2px,#470e61 30.0px,#481c6e 35.5px,#481c6e 39.0px,#481f70 44.0px,#470d60 48.6px,#470d60 52.0px,#481d6f 57.9px,#481f70 61.2px,#481668 67.0px,#481769 69.5px,#48186a 74.3px,#48186a 79.4px,#481f70 83.8px,#481f70 87.1px,#481d6f 92.5px,#3d4e8a 96.1px,#34608d 99.5px,#30698e 103.6px,#30698e 107.0px,#2a788e 110.5px,#1f9e89 116.5px,#44bf70 121.5px,#90d743 124.5px,#bddf26 127.5px,#fde725 129.5px,#f8e621 133.2px,#fde725 137.3px,#ece51b 140.9px,#fde725 145.5px,#fde725 150.0px,#fde725 151.1px,#58c765 152.5px,#20a386 157.0px,#4ec36b 157.8px,#63cb5f 160.3px)"></i><i style="background:linear-gradient(#460a5d 0.0px,#46085c 3.9px,#460b5e 9.5px,#46075a 12.8px,#481467 18.2px,#46075a 21.9px,#470d60 26.4px,#46085c 30.8px,#440256 34.7px,#440154 39.0px,#440154 44.0px,#440154 48.0px,#440154 53.8px,#440154 56.6px,#460a5d 61.7px,#440154 66.4px,#46085c 70.8px,#471365 75.5px,#481b6d 78.6px,#471164 83.6px,#440154 87.6px,#440256 92.5px,#440154 95.0px,#472a7a 99.5px,#3a538b 103.9px,#375a8c 107.7px,#2e6d8e 110.5px,#24868e 116.5px,#1f978b 121.5px,#69cd5b 124.5px,#8bd646 127.5px,#efe51c 129.5px,#fde725 134.5px,#fde725 137.6px,#fde725 141.3px,#fde725 146.4px,#fde725 150.0px,#fde725 151.1px,#50c46a 152.5px,#1f968b 157.0px,#35b779 157.8px,#3fbc73 160.3px)"></i><i style="background:linear-gradient(#460b5e 0.0px,#440154 4.0px,#46075a 9.5px,#46085c 14.1px,#471365 16.8px,#470d60 21.7px,#46075a 27.0px,#440154 31.1px,#440154 34.9px,#440154 40.3px,#440256 43.1px,#481a6c 49.4px,#460a5d 53.1px,#450457 56.5px,#440154 61.9px,#440154 65.3px,#460b5e 71.1px,#471365 75.2px,#481a6c 79.8px,#470e61 84.0px,#481769 89.1px,#481769 92.5px,#482173 95.8px,#414287 99.5px,#443b84 103.9px,#3b518b 106.5px,#32658e 110.5px,#20928c 116.5px,#34b679 121.5px,#dae319 124.5px,#fde725 127.5px,#fde725 129.5px,#fde725 133.4px,#fde725 137.5px,#f8e621 141.4px,#fde725 145.7px,#fde725 150.0px,#f8e621 151.1px,#40bd72 152.5px,#1e9d89 157.0px,#40bd72 157.8px,#44bf70 160.3px)"></i><i style="background:linear-gradient(#450559 0.0px,#440154 4.5px,#440154 8.8px,#471063 14.2px,#471164 17.7px,#471164 22.7px,#46085c 26.0px,#450559 30.4px,#440256 34.6px,#46075a 39.7px,#470d60 44.6px,#471365 48.4px,#46085c 53.3px,#440154 56.4px,#440154 61.3px,#440256 67.0px,#470e61 71.1px,#481b6d 74.5px,#481769 80.0px,#481f70 84.2px,#481d6f 88.9px,#482071 92.5px,#443983 96.0px,#423f85 99.5px,#404588 103.4px,#38588c 106.0px,#365d8d 110.5px,#1f948c 116.5px,#65cb5e 121.5px,#ece51b 124.5px,#fde725 127.5px,#fde725 129.5px,#fde725 133.0px,#f1e51d 138.2px,#f1e51d 142.3px,#eae51a 145.1px,#f6e620 150.0px,#b5de2b 151.1px,#22a884 152.5px,#1fa088 157.0px,#46c06f 157.8px,#48c16e 160.3px)"></i><i style="background:linear-gradient(#46085c 0.0px,#450457 3.5px,#440154 8.9px,#460b5e 13.1px,#481769 18.0px,#48186a 21.1px,#481c6e 25.9px,#470e61 30.2px,#481668 35.2px,#471063 40.0px,#481668 44.8px,#481668 47.7px,#481668 51.9px,#450559 58.1px,#440256 60.7px,#440154 66.5px,#450457 69.6px,#481c6e 75.4px,#481b6d 79.8px,#482475 83.9px,#481467 88.0px,#482071 92.5px,#471365 96.2px,#471164 99.5px,#443a83 102.3px,#38588c 106.8px,#32648e 110.5px,#1fa187 116.5px,#56c667 121.5px,#e2e418 124.5px,#fde725 127.5px,#fde725 129.5px,#fde725 134.5px,#ece51b 137.7px,#fde725 141.5px,#fbe723 146.0px,#f8e621 150.0px,#a8db34 151.1px,#1fa188 152.5px,#1f988b 157.0px,#37b878 157.8px,#44bf70 160.3px)"></i><i style="background:linear-gradient(#450559 0.0px,#440154 3.6px,#440154 8.2px,#440154 13.3px,#46085c 17.9px,#471365 21.7px,#48186a 26.7px,#471063 31.2px,#481467 35.2px,#481467 39.2px,#481769 43.5px,#46085c 47.7px,#46085c 52.1px,#440154 56.8px,#440154 62.5px,#440154 66.3px,#440154 70.6px,#460a5d 74.9px,#440154 78.4px,#440256 82.7px,#460b5e 87.8px,#450559 92.5px,#440154 96.0px,#481f70 99.5px,#472e7c 103.1px,#3e4a89 107.5px,#3a548c 110.5px,#1f988b 116.5px,#4ac16d 121.5px,#d2e21b 124.5px,#fde725 127.5px,#fde725 129.5px,#fde725 134.6px,#fde725 137.6px,#fde725 141.4px,#fde725 146.5px,#fde725 150.0px,#efe51c 151.1px,#29af7f 152.5px,#21908d 157.0px,#2ab07f 157.8px,#3dbc74 160.3px)"></i><i style="background:linear-gradient(#440154 0.0px,#440154 4.3px,#440154 8.3px,#440154 12.4px,#440154 16.7px,#46075a 22.6px,#471365 27.0px,#460b5e 31.5px,#460b5e 35.3px,#471365 40.2px,#460a5d 43.8px,#481467 48.8px,#460b5e 52.6px,#470e61 58.2px,#450457 61.0px,#450457 65.3px,#440256 71.2px,#460a5d 75.5px,#440154 79.1px,#440154 83.9px,#440154 87.6px,#470d60 92.5px,#440154 95.3px,#481d6f 99.5px,#472a7a 103.0px,#453581 107.3px,#414487 110.5px,#2a778e 116.5px,#25ac82 121.5px,#7ad151 124.5px,#c8e020 127.5px,#fde725 129.5px,#fde725 134.2px,#e2e418 137.0px,#efe51c 142.8px,#fde725 145.2px,#fde725 150.0px,#ece51b 151.1px,#38b977 152.5px,#1f958b 157.0px,#34b679 157.8px,#24aa83 160.3px)"></i><i style="background:linear-gradient(#440154 0.0px,#440154 3.5px,#450457 9.5px,#470d60 13.4px,#471365 18.0px,#481f70 22.1px,#481a6c 25.7px,#481d6f 31.7px,#481467 34.4px,#481769 39.6px,#481d6f 43.6px,#481c6e 47.5px,#460a5d 52.6px,#460b5e 58.0px,#470d60 62.6px,#46085c 66.9px,#440154 70.0px,#470e61 75.3px,#470e61 80.2px,#481769 83.5px,#481b6d 88.4px,#482173 92.5px,#463480 95.8px,#424086 99.5px,#472f7d 103.2px,#414487 106.5px,#2e6d8e 110.5px,#1f968b 116.5px,#44bf70 121.5px,#77d153 124.5px,#e7e419 127.5px,#fde725 129.5px,#fde725 134.5px,#fde725 137.5px,#f8e621 142.1px,#fde725 146.1px,#fde725 150.0px,#b8de29 151.1px,#1e9d89 152.5px,#277f8e 157.0px,#1fa188 157.8px,#1f958b 160.3px)"></i><i style="background:linear-gradient(#46075a 0.0px,#481769 3.7px,#471365 8.4px,#481f70 13.0px,#482475 17.1px,#482475 22.6px,#48186a 26.4px,#481f70 31.1px,#48186a 36.1px,#48186a 40.4px,#48186a 43.2px,#482173 49.4px,#482979 52.8px,#481f70 57.1px,#482677 62.3px,#482173 66.6px,#48186a 70.6px,#482071 75.3px,#481d6f 78.4px,#482475 84.4px,#472e7c 87.9px,#481d6f 92.5px,#453882 95.6px,#443983 99.5px,#424086 102.3px,#355f8d 106.4px,#20938c 110.5px,#1fa287 116.5px,#77d153 121.5px,#fde725 124.5px,#fde725 127.5px,#fde725 129.5px,#fde725 133.1px,#fde725 138.4px,#fde725 142.3px,#fde725 146.7px,#fde725 150.0px,#98d83e 151.1px,#20938c 152.5px,#218f8d 157.0px,#2ab07f 157.8px,#1fa187 160.3px)"></i><i style="background:linear-gradient(#440154 0.0px,#440154 4.6px,#440154 9.8px,#440256 13.8px,#46075a 17.0px,#46085c 21.5px,#46075a 27.1px,#470e61 29.9px,#481769 35.5px,#471164 39.5px,#471063 44.7px,#46075a 49.1px,#460a5d 52.2px,#471164 58.2px,#481b6d 61.9px,#481668 65.5px,#481467 70.0px,#471063 74.0px,#481467 79.3px,#481b6d 84.7px,#481a6c 89.0px,#481a6c 92.5px,#482677 96.6px,#443983 99.5px,#3c4f8a 104.0px,#365d8d 106.4px,#2b758e 110.5px,#1e9b8a 116.5px,#86d549 121.5px,#efe51c 124.5px,#fde725 127.5px,#fde725 129.5px,#fde725 134.0px,#fde725 137.5px,#fde725 142.7px,#fde725 144.9px,#fde725 150.0px,#fde725 151.1px,#42be71 152.5px,#1f9a8a 157.0px,#3bbb75 157.8px,#2ab07f 160.3px)"></i><i style="background:linear-gradient(#481467 0.0px,#440154 4.5px,#46075a 8.0px,#460a5d 12.5px,#450559 16.7px,#471365 22.3px,#471164 25.8px,#481769 30.0px,#481b6d 35.2px,#481c6e 40.4px,#481769 43.9px,#481467 47.9px,#470d60 52.9px,#471164 56.3px,#481a6c 62.0px,#481a6c 66.4px,#481d6f 70.4px,#481f70 75.3px,#481b6d 79.4px,#481a6c 84.3px,#481b6d 88.5px,#481a6c 92.5px,#482374 97.0px,#414487 99.5px,#32648e 104.0px,#2c728e 106.3px,#228c8d 110.5px,#27ad81 116.5px,#54c568 121.5px,#63cb5f 124.5px,#a2da37 127.5px,#dae319 129.5px,#f6e620 134.0px,#fde725 137.3px,#fde725 141.4px,#fde725 146.2px,#fde725 150.0px,#fde725 151.1px,#84d44b 152.5px,#1fa187 157.0px,#4ac16d 157.8px,#5ac864 160.3px)"></i><i style="background:linear-gradient(#471365 0.0px,#482374 5.3px,#481a6c 9.6px,#470e61 12.8px,#440154 18.0px,#460b5e 22.5px,#481769 27.0px,#481f70 30.9px,#481d6f 35.9px,#482173 39.2px,#481c6e 44.7px,#46085c 49.3px,#46085c 52.5px,#470d60 56.4px,#482475 62.1px,#481c6e 65.2px,#481b6d 70.5px,#472d7b 75.7px,#472c7a 79.8px,#482374 84.7px,#482979 87.3px,#482576 92.5px,#46307e 96.1px,#443a83 99.5px,#375a8c 103.6px,#32648e 106.1px,#297a8e 110.5px,#25ab82 116.5px,#4cc26c 121.5px,#73d056 124.5px,#a0da39 127.5px,#f1e51d 129.5px,#fde725 133.0px,#fde725 138.2px,#fde725 141.4px,#fde725 145.2px,#fde725 150.0px,#fde725 151.1px,#52c569 152.5px,#27ad81 157.0px,#65cb5e 157.8px,#58c765 160.3px)"></i><i style="background:linear-gradient(#471164 0.0px,#481668 4.9px,#481b6d 8.0px,#471365 12.5px,#470d60 16.7px,#481769 22.9px,#470e61 26.0px,#471365 30.1px,#460b5e 35.8px,#48186a 40.2px,#481769 43.1px,#450559 47.6px,#440154 53.6px,#470e61 56.3px,#481c6e 62.5px,#481668 66.8px,#482374 70.3px,#482878 74.1px,#482173 79.2px,#482677 83.9px,#472a7a 88.6px,#482173 92.5px,#482979 95.5px,#481c6e 99.5px,#453581 104.0px,#3b528b 107.8px,#2b758e 110.5px,#1e9d89 116.5px,#58c765 121.5px,#addc30 124.5px,#fde725 127.5px,#fde725 129.5px,#fde725 134.0px,#fde725 137.8px,#fde725 141.7px,#fde725 146.6px,#fde725 150.0px,#fde725 151.1px,#56c667 152.5px,#25ac82 157.0px,#60ca60 157.8px,#4cc26c 160.3px)"></i><i style="background:linear-gradient(#482878 0.0px,#482979 5.2px,#482878 8.3px,#481c6e 12.5px,#481769 16.8px,#482374 21.8px,#481b6d 26.2px,#482374 31.0px,#440256 35.0px,#470e61 39.9px,#46337f 43.6px,#440154 49.3px,#471164 53.0px,#481c6e 57.5px,#3f4889 62.3px,#482173 66.4px,#433e85 70.2px,#482576 74.3px,#453581 78.4px,#433e85 83.3px,#423f85 87.2px,#443a83 92.5px,#472e7c 96.1px,#472f7d 99.5px,#482475 102.4px,#414487 107.6px,#2b748e 110.5px,#228c8d 116.5px,#5cc863 121.5px,#b5de2b 124.5px,#f6e620 127.5px,#fde725 129.5px,#fde725 132.7px,#fde725 138.5px,#fde725 141.3px,#fde725 146.4px,#fde725 150.0px,#eae51a 151.1px,#35b779 152.5px,#21a585 157.0px,#52c569 157.8px,#4cc26c 160.3px)"></i><i style="background:linear-gradient(#482173 0.0px,#481668 4.0px,#472f7d 9.2px,#472c7a 13.4px,#482071 16.7px,#482576 22.5px,#46085c 26.8px,#46075a 31.1px,#482475 35.1px,#482677 40.1px,#481c6e 44.8px,#46075a 49.0px,#470e61 52.3px,#450457 57.5px,#481d6f 61.5px,#482677 65.2px,#472a7a 70.0px,#481d6f 74.1px,#433e85 79.7px,#414287 83.0px,#46307e 88.3px,#481a6c 92.5px,#471365 95.4px,#481a6c 99.5px,#3f4889 103.0px,#365c8d 107.6px,#297a8e 110.5px,#218e8d 116.5px,#37b878 121.5px,#77d153 124.5px,#f8e621 127.5px,#fde725 129.5px,#fde725 134.5px,#fde725 138.3px,#fde725 142.5px,#fde725 145.8px,#fde725 150.0px,#c8e020 151.1px,#1fa088 152.5px,#24aa83 157.0px,#5cc863 157.8px,#5ac864 160.3px)"></i><i style="background:linear-gradient(#481d6f 0.0px,#482677 4.4px,#472e7c 9.4px,#482071 13.7px,#46307e 17.6px,#440154 21.8px,#470d60 26.2px,#481769 31.8px,#472e7c 35.7px,#482576 38.9px,#482475 43.5px,#481467 47.6px,#482677 53.6px,#482475 58.2px,#471063 61.8px,#482878 65.6px,#482374 70.0px,#472a7a 74.8px,#482173 78.3px,#453781 83.5px,#481b6d 88.8px,#481467 92.5px,#470e61 95.5px,#450457 99.5px,#46307e 102.4px,#3a538b 106.2px,#33628d 110.5px,#2a778e 116.5px,#20a486 121.5px,#4cc26c 124.5px,#a5db36 127.5px,#fde725 129.5px,#fde725 132.7px,#fde725 137.2px,#fde725 141.7px,#fde725 146.4px,#fde725 150.0px,#bddf26 151.1px,#21a585 152.5px,#1f998a 157.0px,#3aba76 157.8px,#4cc26c 160.3px)"></i><i style="background:linear-gradient(#481769 0.0px,#482173 4.3px,#481a6c 8.0px,#481769 13.9px,#481769 18.4px,#481668 22.3px,#471063 26.8px,#450457 30.7px,#46075a 35.9px,#470e61 39.5px,#481a6c 43.7px,#470d60 47.7px,#460a5d 52.4px,#471164 56.4px,#440154 61.8px,#472e7c 66.5px,#453581 71.0px,#481d6f 74.1px,#471365 78.8px,#46327e 84.4px,#48186a 88.9px,#482374 92.5px,#482071 96.7px,#472e7c 99.5px,#365d8d 102.9px,#39558c 106.6px,#2a768e 110.5px,#218e8d 116.5px,#21a585 121.5px,#56c667 124.5px,#98d83e 127.5px,#b0dd2f 129.5px,#cae11f 133.3px,#fde725 137.4px,#fde725 141.6px,#e2e418 145.0px,#d2e21b 150.0px,#7fd34e 151.1px,#21918c 152.5px,#1f9a8a 157.0px,#3bbb75 157.8px,#46c06f 160.3px)"></i><i style="background:linear-gradient(#440154 0.0px,#470e61 4.2px,#471063 8.8px,#450457 13.8px,#440154 18.1px,#481467 21.7px,#440154 26.6px,#440256 31.1px,#481f70 36.2px,#471164 39.5px,#450559 44.3px,#450457 48.8px,#46075a 53.1px,#46075a 56.7px,#482475 61.9px,#481c6e 66.5px,#440154 70.4px,#440154 74.4px,#440154 80.1px,#440154 83.7px,#481769 87.6px,#453581 92.5px,#375a8c 96.5px,#3a538b 99.5px,#46307e 103.1px,#3e4a89 107.8px,#3b528b 110.5px,#2d708e 116.5px,#228d8d 121.5px,#48c16e 124.5px,#a8db34 127.5px,#f1e51d 129.5px,#f8e621 132.8px,#fbe723 137.6px,#fde725 142.2px,#fde725 146.9px,#fde725 150.0px,#eae51a 151.1px,#31b57b 152.5px,#20928c 157.0px,#2fb47c 157.8px,#2cb17e 160.3px)"></i><i style="background:linear-gradient(#481668 0.0px,#482677 4.5px,#481d6f 8.9px,#481b6d 13.6px,#470e61 16.7px,#440154 21.0px,#440154 26.1px,#440154 30.5px,#450457 34.5px,#471365 40.3px,#460a5d 44.8px,#440154 48.3px,#440256 52.6px,#470d60 57.2px,#482173 62.3px,#46327e 65.7px,#440154 70.6px,#440154 75.5px,#440154 79.7px,#440256 82.9px,#481668 88.1px,#471164 92.5px,#453581 96.8px,#463480 99.5px,#433d84 103.9px,#3e4c8a 106.0px,#31668e 110.5px,#287c8e 116.5px,#28ae80 121.5px,#56c667 124.5px,#bddf26 127.5px,#fde725 129.5px,#fde725 133.7px,#f6e620 138.3px,#e7e419 141.6px,#dfe318 146.2px,#e7e419 150.0px,#90d743 151.1px,#20938c 152.5px,#24868e 157.0px,#22a884 157.8px,#31b57b 160.3px)"></i><i style="background:linear-gradient(#482677 0.0px,#482576 4.7px,#472d7b 7.9px,#472e7c 13.7px,#482677 17.7px,#48186a 21.9px,#482173 25.9px,#482878 31.0px,#453581 36.0px,#424186 38.7px,#482374 44.3px,#481668 48.4px,#481f70 52.2px,#463480 56.8px,#46337f 60.7px,#471164 66.4px,#482576 71.0px,#482374 75.5px,#481f70 78.9px,#481b6d 83.8px,#481d6f 88.3px,#470e61 92.5px,#450559 95.5px,#481769 99.5px,#423f85 103.5px,#375a8c 106.9px,#2c718e 110.5px,#1f988b 116.5px,#3aba76 121.5px,#a5db36 124.5px,#c0df25 127.5px,#fde725 129.5px,#fde725 134.3px,#eae51a 138.5px,#d5e21a 140.9px,#d5e21a 146.1px,#fde725 150.0px,#a8db34 151.1px,#1e9d89 152.5px,#21908d 157.0px,#2cb17e 157.8px,#4cc26c 160.3px)"></i><i style="background:linear-gradient(#482071 0.0px,#471063 5.1px,#482374 8.0px,#482576 12.8px,#482374 16.7px,#482374 22.1px,#482475 25.6px,#482677 30.9px,#482475 34.3px,#463480 39.0px,#482071 43.8px,#482576 48.5px,#472f7d 52.9px,#482475 57.2px,#460a5d 61.1px,#440154 66.7px,#482173 70.4px,#482071 74.5px,#424186 79.0px,#482979 84.7px,#48186a 88.7px,#460a5d 92.5px,#481f70 96.7px,#472d7b 99.5px,#423f85 103.8px,#34618d 105.8px,#2a778e 110.5px,#1f958b 116.5px,#23a983 121.5px,#6ece58 124.5px,#a8db34 127.5px,#efe51c 129.5px,#fde725 133.0px,#fde725 137.9px,#fde725 140.9px,#fde725 145.2px,#fde725 150.0px,#fde725 151.1px,#3bbb75 152.5px,#1fa187 157.0px,#4ac16d 157.8px,#4ec36b 160.3px)"></i><i style="background:linear-gradient(#460a5d 0.0px,#481769 3.9px,#482677 8.9px,#481b6d 12.7px,#482576 16.8px,#482173 22.3px,#46327e 26.6px,#443983 31.1px,#472d7b 34.5px,#481f70 39.6px,#482979 44.3px,#472a7a 48.0px,#482576 52.2px,#453581 56.4px,#470d60 61.8px,#460b5e 66.2px,#470e61 70.4px,#440154 75.8px,#460a5d 78.6px,#472a7a 83.8px,#472a7a 87.7px,#471063 92.5px,#481769 96.3px,#471164 99.5px,#482071 102.4px,#38598c 106.7px,#2d718e 110.5px,#1e9c89 116.5px,#5ec962 121.5px,#a8db34 124.5px,#d8e219 127.5px,#fde725 129.5px,#fde725 134.5px,#fde725 137.6px,#fde725 142.1px,#fde725 146.7px,#fde725 150.0px,#fde725 151.1px,#3aba76 152.5px,#20a486 157.0px,#50c46a 157.8px,#35b779 160.3px)"></i><i style="background:linear-gradient(#481668 0.0px,#482374 4.1px,#481a6c 9.6px,#460b5e 13.7px,#482173 18.0px,#46327e 21.5px,#424086 26.5px,#46327e 31.4px,#46337f 34.4px,#481f70 39.2px,#472c7a 44.4px,#424186 48.9px,#424086 52.5px,#482878 56.7px,#481c6e 62.0px,#453882 65.3px,#482979 71.2px,#472f7d 75.4px,#482475 79.9px,#433e85 84.3px,#433e85 88.4px,#3d4d8a 92.5px,#443a83 95.7px,#46327e 99.5px,#3d4e8a 102.3px,#31668e 107.1px,#2e6f8e 110.5px,#1e9b8a 116.5px,#77d153 121.5px,#b5de2b 124.5px,#fde725 127.5px,#fde725 129.5px,#fde725 134.4px,#fde725 136.8px,#fde725 142.8px,#f1e51d 146.2px,#fde725 150.0px,#b2dd2d 151.1px,#1f9f88 152.5px,#218f8d 157.0px,#29af7f 157.8px,#3fbc73 160.3px)"></i><i style="background:linear-gradient(#481b6d 0.0px,#481467 3.4px,#460b5e 8.0px,#471063 12.5px,#440154 17.5px,#46085c 22.4px,#481f70 26.6px,#481c6e 30.2px,#481668 34.9px,#471365 40.5px,#481668 43.4px,#453781 48.5px,#482979 52.2px,#482475 57.0px,#482071 60.8px,#3a548c 67.0px,#3d4e8a 69.7px,#482878 74.3px,#481b6d 79.9px,#472c7a 82.8px,#482878 88.4px,#481668 92.5px,#424086 96.4px,#433d84 99.5px,#453882 102.3px,#34608d 107.5px,#306a8e 110.5px,#25838e 116.5px,#50c46a 121.5px,#70cf57 124.5px,#b5de2b 127.5px,#f1e51d 129.5px,#fde725 133.9px,#fde725 137.2px,#fde725 142.7px,#e2e418 145.9px,#fde725 150.0px,#a0da39 151.1px,#1f9a8a 152.5px,#1f9e89 157.0px,#42be71 157.8px,#4cc26c 160.3px)"></i><i style="background:linear-gradient(#482576 0.0px,#46075a 3.7px,#470e61 8.8px,#440154 12.4px,#440154 17.7px,#440154 22.2px,#440154 26.9px,#46085c 30.9px,#481f70 35.7px,#48186a 39.4px,#482071 43.1px,#482071 48.1px,#453882 52.8px,#481b6d 56.3px,#482475 61.4px,#481b6d 66.5px,#48186a 71.2px,#482475 74.9px,#472a7a 79.2px,#481a6c 84.3px,#440154 87.4px,#482576 92.5px,#472e7c 96.0px,#443983 99.5px,#3c4f8a 103.7px,#30698e 106.6px,#31678e 110.5px,#218e8d 116.5px,#63cb5f 121.5px,#a2da37 124.5px,#c0df25 127.5px,#e7e419 129.5px,#fde725 133.9px,#f6e620 137.6px,#fde725 142.7px,#fde725 146.1px,#fde725 150.0px,#e2e418 151.1px,#3dbc74 152.5px,#35b779 157.0px,#7fd34e 157.8px,#65cb5e 160.3px)"></i><i style="background:linear-gradient(#472d7b 0.0px,#482677 3.7px,#470d60 9.4px,#471063 12.5px,#440154 17.5px,#440154 22.4px,#46075a 26.2px,#440154 31.6px,#471164 34.7px,#481769 39.7px,#482677 44.9px,#482878 49.2px,#48186a 52.1px,#450457 57.6px,#440154 61.8px,#440154 66.3px,#440154 70.7px,#471365 75.5px,#470e61 79.3px,#440154 82.9px,#481769 87.6px,#472f7d 92.5px,#46337f 96.9px,#46337f 99.5px,#414487 102.3px,#38598c 105.9px,#30698e 110.5px,#1fa088 116.5px,#6ccd5a 121.5px,#fde725 124.5px,#fde725 127.5px,#fde725 129.5px,#fde725 133.4px,#fde725 137.9px,#fde725 142.3px,#fde725 146.5px,#fde725 150.0px,#ece51b 151.1px,#2db27d 152.5px,#20a486 157.0px,#50c46a 157.8px,#67cc5c 160.3px)"></i><i style="background:linear-gradient(#472e7c 0.0px,#472f7d 4.9px,#482576 9.7px,#471063 13.9px,#481769 17.4px,#440154 21.3px,#440154 26.1px,#440256 30.0px,#472d7b 35.5px,#424086 40.1px,#424186 44.4px,#482173 48.7px,#481a6c 52.6px,#482475 57.8px,#471365 62.3px,#440154 65.9px,#481c6e 69.6px,#482878 74.8px,#470e61 79.4px,#46075a 84.6px,#481668 87.1px,#472f7d 92.5px,#482677 96.4px,#3d4d8a 99.5px,#355f8d 102.4px,#2e6d8e 106.7px,#2f6c8e 110.5px,#20928c 116.5px,#60ca60 121.5px,#c2df23 124.5px,#fde725 127.5px,#fde725 129.5px,#fde725 133.1px,#fde725 136.9px,#fde725 142.6px,#fde725 146.3px,#fde725 150.0px,#d5e21a 151.1px,#28ae80 152.5px,#20a486 157.0px,#50c46a 157.8px,#4ec36b 160.3px)"></i><i style="background:linear-gradient(#48186a 0.0px,#481f70 4.9px,#472f7d 8.0px,#481668 13.4px,#450559 17.5px,#450559 21.8px,#471164 26.6px,#482576 30.0px,#470e61 35.3px,#481467 40.2px,#481c6e 44.0px,#481769 48.3px,#460b5e 53.8px,#472a7a 57.4px,#460a5d 62.2px,#440154 65.3px,#450457 70.4px,#481b6d 74.7px,#440154 78.7px,#481d6f 83.4px,#482071 88.4px,#482475 92.5px,#481d6f 96.5px,#472f7d 99.5px,#414287 102.7px,#375b8d 106.1px,#365d8d 110.5px,#2e6d8e 116.5px,#25ac82 121.5px,#93d741 124.5px,#fde725 127.5px,#fde725 129.5px,#fde725 133.4px,#fde725 138.5px,#fde725 141.8px,#fde725 146.7px,#e7e419 150.0px,#8ed645 151.1px,#1f958b 152.5px,#21918c 157.0px,#2db27d 157.8px,#40bd72 160.3px)"></i><i style="background:linear-gradient(#46085c 0.0px,#440154 3.7px,#471164 9.5px,#471365 12.5px,#482677 18.2px,#481b6d 21.2px,#481769 26.8px,#482475 30.9px,#472d7b 34.4px,#481a6c 39.9px,#470e61 43.4px,#460a5d 49.0px,#440154 52.9px,#46085c 57.7px,#481769 62.5px,#440256 65.8px,#471164 70.0px,#440154 75.6px,#482475 79.1px,#481b6d 82.7px,#471164 88.6px,#440154 92.5px,#450457 95.2px,#453882 99.5px,#3b528b 103.2px,#375a8c 106.7px,#2a768e 110.5px,#1f968b 116.5px,#31b57b 121.5px,#c2df23 124.5px,#efe51c 127.5px,#fde725 129.5px,#f8e621 133.2px,#fde725 138.2px,#fde725 141.0px,#fde725 146.0px,#fde725 150.0px,#fde725 151.1px,#63cb5f 152.5px,#26ad81 157.0px,#63cb5f 157.8px,#35b779 160.3px)"></i><i style="background:linear-gradient(#481769 0.0px,#482576 5.1px,#482071 9.3px,#453882 13.6px,#443a83 16.9px,#3f4889 21.1px,#443983 26.9px,#433d84 31.6px,#46327e 34.4px,#460b5e 39.2px,#450457 45.0px,#481769 47.8px,#482475 52.4px,#481f70 56.9px,#482576 61.4px,#482071 66.8px,#481f70 70.7px,#472d7b 74.2px,#423f85 79.1px,#472e7c 84.4px,#453882 87.9px,#481769 92.5px,#443a83 96.0px,#3c4f8a 99.5px,#375a8c 103.4px,#2a768e 107.5px,#2a768e 110.5px,#1fa088 116.5px,#50c46a 121.5px,#a5db36 124.5px,#eae51a 127.5px,#fde725 129.5px,#fde725 133.7px,#fde725 138.0px,#fde725 141.7px,#fde725 145.7px,#fde725 150.0px,#fde725 151.1px,#38b977 152.5px,#27ad81 157.0px,#65cb5e 157.8px,#44bf70 160.3px)"></i><i style="background:linear-gradient(#3f4788 0.0px,#3f4788 4.6px,#453581 8.6px,#46327e 12.5px,#481c6e 17.7px,#48186a 21.7px,#453581 27.0px,#453882 30.9px,#433d84 35.5px,#481f70 39.0px,#48186a 44.2px,#46337f 49.0px,#472a7a 52.7px,#482374 57.0px,#472d7b 61.2px,#481f70 66.1px,#440154 70.1px,#460a5d 73.9px,#3c508b 79.0px,#443983 84.4px,#3e4c8a 88.5px,#46307e 92.5px,#46327e 95.8px,#3e4c8a 99.5px,#3a548c 102.5px,#2c728e 107.5px,#228d8d 110.5px,#20928c 116.5px,#7fd34e 121.5px,#98d83e 124.5px,#c5e021 127.5px,#fde725 129.5px,#fde725 134.1px,#fde725 138.2px,#fde725 142.6px,#fde725 145.7px,#fde725 150.0px,#fde725 151.1px,#52c569 152.5px,#3aba76 157.0px,#84d44b 157.8px,#9bd93c 160.3px)"></i><i style="background:linear-gradient(#3f4889 0.0px,#443983 3.4px,#482576 9.8px,#481769 13.2px,#440154 17.5px,#48186a 22.3px,#481f70 25.8px,#46327e 31.3px,#3d4e8a 35.7px,#453581 39.9px,#443983 44.5px,#3f4788 48.6px,#433d84 52.2px,#48186a 58.2px,#472f7d 61.9px,#3f4889 66.1px,#472a7a 71.4px,#472a7a 75.1px,#46307e 78.4px,#443a83 84.3px,#463480 87.1px,#481c6e 92.5px,#472f7d 95.2px,#472a7a 99.5px,#443b84 102.7px,#414287 106.3px,#38588c 110.5px,#297a8e 116.5px,#48c16e 121.5px,#63cb5f 124.5px,#98d83e 127.5px,#fde725 129.5px,#fde725 134.0px,#fde725 138.6px,#fde725 142.1px,#fde725 146.2px,#fde725 150.0px,#fde725 151.1px,#48c16e 152.5px,#42be71 157.0px,#93d741 157.8px,#b8de29 160.3px)"></i><i style="background:linear-gradient(#46075a 0.0px,#440154 4.5px,#440256 8.3px,#481668 13.3px,#450559 16.8px,#46085c 21.9px,#481769 26.3px,#472d7b 31.4px,#46327e 35.6px,#453882 38.7px,#414287 43.6px,#443a83 48.6px,#48186a 52.8px,#471365 56.5px,#481467 60.7px,#481b6d 66.4px,#472c7a 70.4px,#472a7a 74.5px,#481c6e 79.4px,#470d60 83.6px,#450457 88.6px,#470d60 92.5px,#472c7a 96.1px,#482071 99.5px,#414487 102.6px,#453882 107.0px,#453581 110.5px,#228c8d 116.5px,#63cb5f 121.5px,#d5e21a 124.5px,#fde725 127.5px,#fde725 129.5px,#fde725 133.1px,#fde725 138.2px,#fde725 141.0px,#fde725 146.6px,#fde725 150.0px,#ece51b 151.1px,#2eb37c 152.5px,#20a386 157.0px,#4ec36b 157.8px,#3bbb75 160.3px)"></i><i style="background:linear-gradient(#443b84 0.0px,#481467 5.0px,#482374 9.5px,#481a6c 12.2px,#481f70 18.3px,#472a7a 22.7px,#453882 26.0px,#453882 31.3px,#46337f 36.1px,#472e7c 39.8px,#472d7b 45.0px,#481d6f 47.6px,#46327e 52.8px,#440154 57.7px,#440154 62.0px,#440154 65.6px,#471164 69.9px,#470e61 75.2px,#460b5e 79.3px,#472f7d 83.0px,#463480 87.8px,#482475 92.5px,#481c6e 95.8px,#471365 99.5px,#433e85 102.3px,#433e85 107.0px,#433d84 110.5px,#34608d 116.5px,#4ec36b 121.5px,#d8e219 124.5px,#fde725 127.5px,#fde725 129.5px,#fde725 132.7px,#fde725 138.0px,#fde725 140.8px,#fde725 145.5px,#fde725 150.0px,#cde11d 151.1px,#24aa83 152.5px,#26ad81 157.0px,#63cb5f 157.8px,#98d83e 160.3px)"></i><i style="background:linear-gradient(#481a6c 0.0px,#482374 3.7px,#433e85 8.7px,#46307e 13.1px,#472a7a 17.2px,#471164 22.0px,#481d6f 26.0px,#482475 31.6px,#472e7c 35.1px,#482878 38.8px,#3b528b 43.9px,#424186 48.4px,#481467 52.7px,#471365 57.2px,#471063 61.8px,#48186a 66.0px,#440154 71.4px,#440154 74.1px,#453882 80.2px,#433e85 82.8px,#482677 87.9px,#46085c 92.5px,#46075a 96.3px,#482677 99.5px,#443a83 102.3px,#39558c 106.5px,#31688e 110.5px,#228c8d 116.5px,#54c568 121.5px,#9bd93c 124.5px,#f6e620 127.5px,#fde725 129.5px,#fde725 132.7px,#fde725 136.9px,#fde725 141.0px,#fde725 146.6px,#fde725 150.0px,#f4e61e 151.1px,#35b779 152.5px,#1f968b 157.0px,#35b779 157.8px,#3fbc73 160.3px)"></i><i style="background:linear-gradient(#482878 0.0px,#453882 5.4px,#482878 8.3px,#482173 13.5px,#440154 18.1px,#440154 22.4px,#440154 26.4px,#471365 30.8px,#471063 35.4px,#481668 40.3px,#460a5d 43.7px,#440154 49.3px,#482576 53.1px,#46327e 58.2px,#482475 62.5px,#472a7a 66.9px,#481467 70.8px,#470e61 74.3px,#440154 80.0px,#440154 83.5px,#440154 89.0px,#482173 92.5px,#463480 96.6px,#424186 99.5px,#3c508b 102.7px,#39568c 107.7px,#32648e 110.5px,#1f948c 116.5px,#42be71 121.5px,#c5e021 124.5px,#fde725 127.5px,#fde725 129.5px,#fde725 132.8px,#fde725 138.1px,#fde725 141.8px,#fde725 145.4px,#fde725 150.0px,#dfe318 151.1px,#2eb37c 152.5px,#2db27d 157.0px,#6ece58 157.8px,#67cc5c 160.3px)"></i><i style="background:linear-gradient(#481f70 0.0px,#482475 4.6px,#481668 9.5px,#450457 12.7px,#471164 17.4px,#482173 21.8px,#460a5d 26.7px,#471063 31.8px,#470d60 34.8px,#440154 38.9px,#440154 43.3px,#440154 49.3px,#481c6e 53.5px,#443a83 58.0px,#424186 61.3px,#443a83 65.3px,#471164 70.5px,#440154 74.9px,#471164 79.3px,#48186a 83.1px,#453581 88.9px,#482677 92.5px,#460b5e 95.8px,#453781 99.5px,#355e8d 103.5px,#306a8e 107.1px,#2b748e 110.5px,#21908d 116.5px,#5ec962 121.5px,#cae11f 124.5px,#fde725 127.5px,#fde725 129.5px,#fde725 134.4px,#d2e21b 138.4px,#f6e620 141.0px,#fde725 145.3px,#fde725 150.0px,#dfe318 151.1px,#2fb47c 152.5px,#38b977 157.0px,#84d44b 157.8px,#5ac864 160.3px)"></i><i style="background:linear-gradient(#470e61 0.0px,#481467 4.7px,#440154 8.8px,#482071 14.0px,#46337f 17.0px,#414287 21.8px,#46337f 26.9px,#482374 30.2px,#470d60 35.4px,#471365 38.8px,#440154 44.0px,#450559 48.6px,#440154 52.7px,#440154 56.7px,#460b5e 62.5px,#482475 67.0px,#48186a 69.8px,#481668 74.3px,#46075a 78.8px,#470d60 83.6px,#46337f 88.5px,#482071 92.5px,#481b6d 95.9px,#481d6f 99.5px,#3e4c8a 103.5px,#3f4889 106.2px,#33638d 110.5px,#1e9d89 116.5px,#2eb37c 121.5px,#9bd93c 124.5px,#e2e418 127.5px,#fde725 129.5px,#fde725 134.4px,#dde318 137.5px,#a2da37 142.5px,#bade28 146.5px,#efe51c 150.0px,#a2da37 151.1px,#1f998a 152.5px,#1e9b8a 157.0px,#3dbc74 157.8px,#35b779 160.3px)"></i><i style="background:linear-gradient(#450559 0.0px,#470d60 4.2px,#481c6e 9.4px,#482979 13.6px,#482878 17.5px,#482677 21.2px,#471365 25.9px,#481c6e 30.1px,#481a6c 35.4px,#460b5e 39.6px,#440154 44.5px,#46075a 49.3px,#440154 52.4px,#440154 56.5px,#440154 62.2px,#440154 65.4px,#440154 69.8px,#481b6d 75.6px,#440154 79.1px,#450559 83.7px,#440154 88.3px,#460b5e 92.5px,#482173 96.7px,#472c7a 99.5px,#453882 102.9px,#3e4c8a 107.7px,#3a548c 110.5px,#277f8e 116.5px,#21a685 121.5px,#6ece58 124.5px,#e5e419 127.5px,#fde725 129.5px,#fde725 133.6px,#fde725 137.8px,#fbe723 141.8px,#fde725 145.7px,#e2e418 150.0px,#8bd646 151.1px,#20938c 152.5px,#228b8d 157.0px,#26ad81 157.8px,#2fb47c 160.3px)"></i><i style="background:linear-gradient(#460b5e 0.0px,#482475 4.6px,#481d6f 8.3px,#482979 12.4px,#470e61 17.5px,#481668 22.7px,#440154 26.8px,#46085c 30.4px,#460a5d 34.5px,#482071 39.2px,#481a6c 43.6px,#450457 47.6px,#440154 52.7px,#481f70 57.5px,#48186a 61.6px,#472a7a 65.1px,#472d7b 69.8px,#440154 74.7px,#481467 79.3px,#450559 83.5px,#471365 87.8px,#482576 92.5px,#472e7c 96.5px,#471365 99.5px,#481a6c 103.2px,#3b528b 107.5px,#2c718e 110.5px,#1e9d89 116.5px,#2ab07f 121.5px,#84d44b 124.5px,#e2e418 127.5px,#fde725 129.5px,#fde725 134.6px,#fde725 137.7px,#fde725 142.1px,#fde725 146.6px,#d5e21a 150.0px,#75d054 151.1px,#238a8d 152.5px,#228d8d 157.0px,#28ae80 157.8px,#2db27d 160.3px)"></i><i style="background:linear-gradient(#472a7a 0.0px,#481f70 4.9px,#482173 8.1px,#481f70 12.9px,#440256 17.6px,#481668 21.6px,#46075a 26.3px,#450559 31.7px,#440154 35.7px,#470d60 39.4px,#482979 43.9px,#460b5e 49.2px,#440154 52.3px,#440154 57.7px,#440154 62.1px,#440154 65.5px,#3e4989 70.2px,#46327e 74.9px,#433d84 78.9px,#472e7c 84.5px,#46337f 88.3px,#48186a 92.5px,#482374 95.2px,#440154 99.5px,#440154 103.0px,#424086 106.1px,#355e8d 110.5px,#1f988b 116.5px,#34b679 121.5px,#4ec36b 124.5px,#d0e11c 127.5px,#fde725 129.5px,#fde725 133.5px,#fde725 138.2px,#fde725 141.6px,#fde725 146.2px,#fde725 150.0px,#f1e51d 151.1px,#31b57b 152.5px,#1f998a 157.0px,#3aba76 157.8px,#58c765 160.3px)"></i><i style="background:linear-gradient(#440154 0.0px,#440154 4.0px,#481b6d 8.1px,#481a6c 12.8px,#440154 18.2px,#471063 21.4px,#481f70 26.3px,#482173 31.2px,#481668 35.3px,#460b5e 39.0px,#440154 44.0px,#440256 49.3px,#471063 52.7px,#482475 56.6px,#481f70 61.8px,#482071 66.2px,#482878 71.1px,#482576 75.3px,#482173 79.8px,#472c7a 83.8px,#481f70 87.9px,#470d60 92.5px,#471063 96.4px,#481769 99.5px,#414487 104.0px,#33628d 106.2px,#306a8e 110.5px,#21908d 116.5px,#26ad81 121.5px,#3dbc74 124.5px,#90d743 127.5px,#f8e621 129.5px,#fde725 134.6px,#fde725 138.2px,#fde725 142.6px,#fbe723 145.9px,#fde725 150.0px,#fde725 151.1px,#3aba76 152.5px,#1f958b 157.0px,#34b679 157.8px,#34b679 160.3px)"></i><i style="background:linear-gradient(#471365 0.0px,#481a6c 3.7px,#482475 8.3px,#482374 13.4px,#482576 17.0px,#470e61 22.8px,#482677 25.9px,#481668 31.2px,#481c6e 35.5px,#470e61 39.2px,#470e61 43.4px,#482576 47.5px,#472c7a 52.6px,#481467 58.1px,#440154 61.8px,#440154 65.8px,#482173 70.8px,#424186 75.2px,#472f7d 79.8px,#443b84 83.9px,#482071 88.8px,#472e7c 92.5px,#472e7c 95.7px,#472a7a 99.5px,#472f7d 102.6px,#31688e 106.7px,#2d718e 110.5px,#1e9c89 116.5px,#40bd72 121.5px,#5ec962 124.5px,#e7e419 127.5px,#fde725 129.5px,#fde725 134.6px,#fde725 138.0px,#fde725 142.1px,#fde725 145.1px,#fde725 150.0px,#ece51b 151.1px,#35b779 152.5px,#29af7f 157.0px,#67cc5c 157.8px,#46c06f 160.3px)"></i><i style="background:linear-gradient(#472d7b 0.0px,#481b6d 4.2px,#481467 9.1px,#460b5e 12.8px,#482475 17.1px,#46085c 22.7px,#481467 26.3px,#481769 30.5px,#453781 35.4px,#481b6d 39.4px,#481467 44.9px,#481d6f 47.9px,#482576 53.3px,#481b6d 57.0px,#440154 61.2px,#440154 65.7px,#440154 70.6px,#472a7a 75.4px,#472a7a 79.0px,#472e7c 84.1px,#471164 89.1px,#482576 92.5px,#482475 96.3px,#481c6e 99.5px,#482878 103.7px,#355e8d 107.5px,#355e8d 110.5px,#1e9d89 116.5px,#32b67a 121.5px,#9bd93c 124.5px,#fde725 127.5px,#fde725 129.5px,#fde725 133.5px,#fde725 137.2px,#fde725 142.7px,#fde725 145.3px,#fde725 150.0px,#fde725 151.1px,#63cb5f 152.5px,#2eb37c 157.0px,#73d056 157.8px,#73d056 160.3px)"></i><i style="background:linear-gradient(#48186a 0.0px,#472a7a 5.1px,#481b6d 8.5px,#440154 12.6px,#440154 18.2px,#440154 22.9px,#440154 25.8px,#471164 30.2px,#482173 34.9px,#482979 39.1px,#471063 44.3px,#471164 47.5px,#440154 52.6px,#440154 57.2px,#440154 62.2px,#440154 66.2px,#482071 70.4px,#481a6c 75.7px,#482576 80.0px,#471365 83.9px,#481467 88.3px,#423f85 92.5px,#46327e 95.8px,#481b6d 99.5px,#463480 104.0px,#453882 107.0px,#433e85 110.5px,#1f9a8a 116.5px,#42be71 121.5px,#c8e020 124.5px,#efe51c 127.5px,#fde725 129.5px,#fde725 133.0px,#fde725 137.4px,#fde725 142.6px,#fde725 146.5px,#fde725 150.0px,#f8e621 151.1px,#4ac16d 152.5px,#28ae80 157.0px,#65cb5e 157.8px,#5ec962 160.3px)"></i><i style="background:linear-gradient(#228c8d 0.0px,#27808e 4.5px,#228c8d 8.7px,#25858e 13.0px,#26828e 15.4px,#27808e 20.8px,#25838e 24.5px,#21908d 28.8px,#23a983 33.0px,#3aba76 36.2px,#34b679 39.9px,#21a685 44.5px,#21a685 49.0px,#48c16e 53.9px,#54c568 58.2px,#58c765 60.7px,#21a685 65.6px,#24aa83 70.9px,#22a785 74.5px,#2eb37c 78.0px,#21908d 83.6px,#22a884 88.2px,#228c8d 92.1px,#23888e 96.7px,#2a768e 99.2px,#218e8d 104.5px,#25838e 107.6px,#1fa187 113.1px,#24aa83 116.4px,#38b977 120.5px,#c2df23 125.0px,#f4e61e 127.5px,#fde725 129.5px,#fde725 133.8px,#fde725 137.5px,#fde725 140.9px,#fde725 145.1px,#fde725 150.0px,#c8e020 151.1px,#20a486 152.5px,#20a386 157.0px,#42be71 157.8px,#5ac864 160.3px)"></i><i style="background:linear-gradient(#24868e 0.0px,#287d8e 3.7px,#33628d 7.2px,#29798e 11.4px,#238a8d 15.6px,#287d8e 20.0px,#26828e 24.5px,#25838e 29.4px,#2c738e 33.5px,#26828e 36.5px,#24878e 39.9px,#21908d 44.5px,#20938c 49.0px,#2db27d 52.2px,#25ac82 58.2px,#24aa83 60.7px,#32b67a 66.2px,#3bbb75 69.3px,#54c568 74.5px,#4cc26c 78.0px,#26ad81 83.2px,#28ae80 87.7px,#26ad81 91.2px,#42be71 95.0px,#1fa187 100.2px,#25ab82 104.5px,#24aa83 108.6px,#1fa188 112.0px,#32b67a 117.3px,#5cc863 120.5px,#f4e61e 125.0px,#fde725 127.5px,#fde725 129.5px,#fde725 132.9px,#fde725 137.4px,#fde725 142.6px,#fde725 145.8px,#fde725 150.0px,#d5e21a 151.1px,#24aa83 152.5px,#20a486 157.0px,#46c06f 157.8px,#5cc863 160.3px)"></i><i style="background:linear-gradient(#21a685 0.0px,#25ab82 3.9px,#1f968b 8.5px,#20928c 12.4px,#25ac82 17.2px,#2cb17e 20.7px,#2eb37c 24.5px,#25ac82 29.0px,#1fa088 31.9px,#1fa287 36.8px,#35b779 40.4px,#5cc863 44.5px,#42be71 49.5px,#29af7f 53.3px,#28ae80 57.0px,#34b679 61.1px,#29af7f 66.3px,#2eb37c 69.7px,#32b67a 74.5px,#3dbc74 79.0px,#48c16e 83.9px,#42be71 88.2px,#42be71 90.9px,#7ad151 95.1px,#60ca60 100.5px,#70cf57 104.5px,#50c46a 108.8px,#20a486 112.3px,#1f9e89 116.7px,#2db27d 120.5px,#efe51c 125.0px,#fde725 127.5px,#fde725 129.5px,#fde725 133.7px,#fde725 138.5px,#fde725 141.2px,#fde725 146.4px,#fde725 150.0px,#f1e51d 151.1px,#37b878 152.5px,#28ae80 157.0px,#5ac864 157.8px,#58c765 160.3px)"></i><i style="background:linear-gradient(#287c8e 0.0px,#238a8d 4.3px,#26828e 7.8px,#238a8d 11.7px,#228c8d 16.3px,#218e8d 20.9px,#20a386 24.5px,#21a585 28.9px,#3bbb75 32.2px,#2fb47c 37.5px,#2eb37c 41.4px,#38b977 44.5px,#29af7f 49.7px,#21a685 52.5px,#2ab07f 57.5px,#29af7f 61.5px,#2cb17e 65.3px,#2fb47c 70.8px,#34b679 74.5px,#5ac864 79.7px,#a0da39 82.5px,#75d054 87.5px,#44bf70 92.1px,#67cc5c 96.9px,#5ac864 100.8px,#32b67a 104.5px,#1e9c89 109.0px,#1e9b8a 111.7px,#228d8d 116.9px,#1f9f88 120.5px,#efe51c 125.0px,#fde725 127.5px,#fde725 129.5px,#fde725 134.5px,#fde725 137.2px,#fde725 141.4px,#fde725 145.3px,#fde725 150.0px,#eae51a 151.1px,#32b67a 152.5px,#1f978b 157.0px,#2eb37c 157.8px,#29af7f 160.3px)"></i><i style="background:linear-gradient(#23898e 0.0px,#27808e 3.3px,#277f8e 8.1px,#218f8d 12.8px,#26828e 16.8px,#1f9a8a 20.2px,#1fa088 24.5px,#1f9f88 28.7px,#21a685 32.1px,#21918c 36.1px,#20938c 40.2px,#24aa83 44.5px,#22a884 49.2px,#25ab82 53.8px,#25ab82 57.1px,#26ad81 62.3px,#38b977 66.5px,#1f9f88 70.9px,#2cb17e 74.5px,#25ab82 79.1px,#3bbb75 82.8px,#2cb17e 88.2px,#2cb17e 91.5px,#40bd72 96.2px,#3aba76 99.3px,#29af7f 104.5px,#37b878 108.0px,#24868e 112.2px,#1e9c89 117.2px,#1fa287 120.5px,#8ed645 125.0px,#f6e620 127.5px,#fde725 129.5px,#fde725 134.6px,#fde725 136.9px,#fde725 141.2px,#fde725 146.5px,#fde725 150.0px,#fde725 151.1px,#37b878 152.5px,#29af7f 157.0px,#5cc863 157.8px,#58c765 160.3px)"></i><i style="background:linear-gradient(#297b8e 0.0px,#23888e 4.4px,#1e9b8a 7.6px,#1f9a8a 11.8px,#27ad81 15.5px,#2cb17e 21.4px,#34b679 24.5px,#56c667 29.0px,#3bbb75 31.6px,#35b779 37.4px,#26ad81 40.1px,#5ec962 44.5px,#4ac16d 48.5px,#3dbc74 53.3px,#4ac16d 58.1px,#60ca60 61.1px,#46c06f 66.3px,#24aa83 69.3px,#2cb17e 74.5px,#1fa188 79.4px,#3fbc73 83.6px,#58c765 86.4px,#34b679 90.7px,#4ac16d 96.2px,#35b779 100.2px,#20a486 104.5px,#1f978b 109.5px,#23a983 113.3px,#1e9c89 116.1px,#1fa187 120.5px,#addc30 125.0px,#e7e419 127.5px,#fde725 129.5px,#fde725 133.5px,#fde725 137.3px,#fde725 141.6px,#fde725 146.5px,#fde725 150.0px,#d8e219 151.1px,#28ae80 152.5px,#1f9f88 157.0px,#3bbb75 157.8px,#4cc26c 160.3px)"></i><i style="background:linear-gradient(#31688e 0.0px,#20928c 4.3px,#238a8d 8.4px,#1f948c 11.5px,#1fa287 16.2px,#2ab07f 19.4px,#54c568 24.5px,#5cc863 28.1px,#26ad81 32.8px,#28ae80 36.7px,#31b57b 39.8px,#42be71 44.5px,#58c765 48.7px,#40bd72 52.4px,#42be71 57.1px,#35b779 62.3px,#65cb5e 66.9px,#56c667 70.4px,#52c569 74.5px,#35b779 79.8px,#42be71 82.9px,#48c16e 86.8px,#22a884 90.8px,#1fa287 96.0px,#25ac82 99.3px,#1fa287 104.5px,#21a685 107.8px,#22a785 113.4px,#23898e 117.0px,#238a8d 120.5px,#6ccd5a 125.0px,#9dd93b 127.5px,#cde11d 129.5px,#fde725 133.3px,#fde725 137.9px,#fde725 142.0px,#fde725 145.2px,#fde725 150.0px,#d0e11c 151.1px,#22a785 152.5px,#21908d 157.0px,#26ad81 157.8px,#32b67a 160.3px)"></i><i style="background:linear-gradient(#228d8d 0.0px,#21a685 4.8px,#42be71 9.1px,#37b878 12.0px,#21a685 17.0px,#1f998a 21.4px,#1fa287 24.5px,#34b679 28.7px,#2ab07f 33.3px,#4cc26c 36.4px,#81d34d 41.0px,#75d054 44.5px,#31b57b 48.8px,#5ec962 52.1px,#9bd93c 56.9px,#a8db34 61.6px,#b2dd2d 65.4px,#58c765 70.9px,#9bd93c 74.5px,#67cc5c 79.7px,#70cf57 82.5px,#7ad151 86.9px,#54c568 91.6px,#58c765 96.6px,#56c667 99.8px,#3bbb75 104.5px,#28ae80 108.7px,#27ad81 111.7px,#24868e 115.7px,#23888e 120.5px,#b8de29 125.0px,#fde725 127.5px,#fde725 129.5px,#fde725 133.2px,#f8e621 136.9px,#fde725 142.3px,#fde725 146.8px,#fde725 150.0px,#fde725 151.1px,#42be71 152.5px,#22a884 157.0px,#4ec36b 157.8px,#54c568 160.3px)"></i><i style="background:linear-gradient(#21918c 0.0px,#228c8d 3.8px,#1e9b8a 8.9px,#1fa287 12.4px,#1fa187 15.6px,#1fa187 20.6px,#20a386 24.5px,#1f9f88 29.2px,#1e9c89 32.0px,#1f978b 36.4px,#1e9c89 40.1px,#26ad81 44.5px,#20a486 49.1px,#1fa088 52.7px,#31b57b 57.2px,#2fb47c 61.6px,#4ec36b 66.3px,#3bbb75 71.1px,#4ac16d 74.5px,#50c46a 79.6px,#60ca60 82.8px,#48c16e 87.3px,#31b57b 90.7px,#35b779 95.7px,#31b57b 100.0px,#1f9f88 104.5px,#1f9f88 109.0px,#4ac16d 113.0px,#46c06f 117.3px,#25ab82 120.5px,#a5db36 125.0px,#e7e419 127.5px,#fde725 129.5px,#fde725 134.2px,#fde725 137.0px,#fde725 141.8px,#fde725 146.1px,#fde725 150.0px,#fde725 151.1px,#52c569 152.5px,#44bf70 157.0px,#86d549 157.8px,#73d056 160.3px)"></i><i style="background:linear-gradient(#31678e 0.0px,#2e6f8e 3.5px,#238a8d 8.7px,#228c8d 12.9px,#238a8d 16.9px,#228c8d 20.1px,#218f8d 24.5px,#21918c 28.0px,#20928c 31.7px,#287c8e 35.5px,#1e9c89 39.7px,#22a785 44.5px,#24aa83 47.9px,#20938c 53.9px,#1e9b8a 57.7px,#21a585 62.0px,#21a685 66.7px,#1f9a8a 69.5px,#1e9d89 74.5px,#28ae80 79.6px,#5ac864 83.9px,#35b779 86.7px,#4ac16d 90.9px,#2db27d 96.4px,#1fa287 100.3px,#25848e 104.5px,#228c8d 107.9px,#26828e 112.9px,#218f8d 115.7px,#1e9c89 120.5px,#7cd250 125.0px,#c2df23 127.5px,#f4e61e 129.5px,#fde725 134.5px,#fde725 137.1px,#fde725 141.2px,#fde725 146.1px,#fde725 150.0px,#f1e51d 151.1px,#35b779 152.5px,#23a983 157.0px,#50c46a 157.8px,#3fbc73 160.3px)"></i><i style="background:linear-gradient(#2c738e 0.0px,#27808e 4.3px,#238a8d 8.4px,#20928c 12.5px,#21908d 16.2px,#27ad81 20.4px,#38b977 24.5px,#2db27d 29.2px,#4cc26c 32.0px,#3dbc74 36.2px,#73d056 40.4px,#70cf57 44.5px,#98d83e 48.1px,#86d549 52.8px,#69cd5b 57.6px,#44bf70 61.9px,#69cd5b 66.9px,#6ccd5a 70.0px,#84d44b 74.5px,#4ec36b 78.9px,#73d056 83.5px,#38b977 88.0px,#1f978b 92.5px,#1fa287 95.4px,#29798e 99.3px,#287d8e 104.5px,#2f6b8e 109.5px,#32648e 112.3px,#25858e 115.8px,#1f9f88 120.5px,#86d549 125.0px,#c2df23 127.5px,#fde725 129.5px,#fde725 134.0px,#fde725 138.3px,#fde725 141.5px,#fde725 146.5px,#fde725 150.0px,#e2e418 151.1px,#2ab07f 152.5px,#1f978b 157.0px,#2fb47c 157.8px,#2fb47c 160.3px)"></i><i style="background:linear-gradient(#34608d 0.0px,#2c728e 3.7px,#24868e 7.7px,#32b67a 12.9px,#40bd72 16.8px,#42be71 20.6px,#48c16e 24.5px,#4ac16d 27.9px,#84d44b 32.2px,#c0df25 37.0px,#addc30 40.9px,#9bd93c 44.5px,#65cb5e 49.2px,#5cc863 53.3px,#42be71 56.7px,#3bbb75 61.2px,#60ca60 65.1px,#bddf26 71.0px,#8ed645 74.5px,#48c16e 79.2px,#46c06f 82.8px,#4ac16d 86.6px,#1f978b 92.6px,#26ad81 95.1px,#1fa188 100.2px,#2cb17e 104.5px,#26ad81 109.3px,#20a386 112.3px,#2db27d 115.8px,#1fa188 120.5px,#73d056 125.0px,#bade28 127.5px,#fde725 129.5px,#fde725 133.0px,#fde725 136.8px,#fde725 141.7px,#fde725 146.1px,#fde725 150.0px,#b5de2b 151.1px,#1fa287 152.5px,#1fa187 157.0px,#40bd72 157.8px,#2db27d 160.3px)"></i><i style="background:linear-gradient(#375b8d 0.0px,#2c718e 3.7px,#20938c 8.1px,#25ab82 12.4px,#40bd72 16.5px,#42be71 20.3px,#40bd72 24.5px,#70cf57 29.0px,#7cd250 32.0px,#c0df25 37.3px,#a2da37 40.7px,#6ece58 44.5px,#35b779 48.1px,#5ac864 52.9px,#56c667 56.9px,#35b779 61.5px,#25ac82 65.2px,#56c667 69.8px,#54c568 74.5px,#42be71 78.0px,#20a386 83.2px,#20a486 87.8px,#46c06f 91.0px,#3bbb75 96.9px,#37b878 99.8px,#32b67a 104.5px,#1f9f88 109.2px,#2eb37c 112.0px,#46c06f 115.6px,#27ad81 120.5px,#d0e11c 125.0px,#fde725 127.5px,#fde725 129.5px,#fde725 132.7px,#fde725 136.8px,#fde725 142.6px,#fde725 145.9px,#fde725 150.0px,#d5e21a 151.1px,#23a983 152.5px,#23a983 157.0px,#50c46a 157.8px,#27ad81 160.3px)"></i><i style="background:linear-gradient(#2a778e 0.0px,#2a788e 4.7px,#25858e 8.3px,#228d8d 11.3px,#228d8d 16.6px,#20a486 21.0px,#32b67a 24.5px,#5ec962 28.4px,#63cb5f 33.0px,#5ac864 35.9px,#73d056 41.4px,#3fbc73 44.5px,#5ec962 49.7px,#65cb5e 54.0px,#4cc26c 57.1px,#89d548 62.3px,#5ec962 66.2px,#52c569 69.8px,#5cc863 74.5px,#58c765 78.4px,#52c569 82.2px,#35b779 88.2px,#2ab07f 91.1px,#34b679 96.9px,#2cb17e 99.9px,#20928c 104.5px,#20a386 108.1px,#2db27d 113.2px,#25ac82 117.0px,#1fa088 120.5px,#d0e11c 125.0px,#fde725 127.5px,#fde725 129.5px,#fde725 132.7px,#fde725 137.7px,#fde725 141.6px,#fde725 145.2px,#fde725 150.0px,#eae51a 151.1px,#32b67a 152.5px,#21a685 157.0px,#48c16e 157.8px,#40bd72 160.3px)"></i><i style="background:linear-gradient(#34618d 0.0px,#297b8e 4.1px,#1fa088 9.1px,#1f998a 12.7px,#21918c 16.9px,#1f948c 20.4px,#1fa188 24.5px,#37b878 27.7px,#2db27d 31.6px,#35b779 35.6px,#1f948c 41.3px,#21918c 44.5px,#22a884 49.4px,#2ab07f 52.9px,#46c06f 56.8px,#77d153 62.3px,#60ca60 66.0px,#3dbc74 70.3px,#3fbc73 74.5px,#37b878 79.8px,#1fa188 82.8px,#27ad81 86.4px,#2ab07f 92.6px,#21a685 96.4px,#20a386 99.5px,#228b8d 104.5px,#1e9c89 108.5px,#29af7f 111.8px,#1fa187 116.8px,#21a585 120.5px,#a2da37 125.0px,#ece51b 127.5px,#fde725 129.5px,#fde725 134.3px,#fde725 138.2px,#fde725 141.5px,#fde725 145.0px,#fde725 150.0px,#f6e620 151.1px,#32b67a 152.5px,#21a585 157.0px,#46c06f 157.8px,#3aba76 160.3px)"></i><i style="background:linear-gradient(#34618d 0.0px,#2b758e 3.9px,#287c8e 8.5px,#2a788e 12.6px,#1f9f88 17.3px,#35b779 20.3px,#52c569 24.5px,#4ac16d 29.1px,#28ae80 32.8px,#38b977 37.0px,#1f968b 40.4px,#27ad81 44.5px,#1f998a 49.7px,#20a486 52.3px,#3dbc74 57.3px,#56c667 61.8px,#56c667 66.7px,#2cb17e 70.6px,#67cc5c 74.5px,#58c765 78.6px,#46c06f 82.6px,#3bbb75 87.5px,#5ec962 92.5px,#38b977 96.2px,#23a983 99.6px,#1f998a 104.5px,#2eb37c 109.1px,#44bf70 112.0px,#3bbb75 115.9px,#35b779 120.5px,#addc30 125.0px,#f8e621 127.5px,#fde725 129.5px,#fde725 133.5px,#fde725 138.0px,#fde725 142.5px,#fde725 145.2px,#fde725 150.0px,#cae11f 151.1px,#24aa83 152.5px,#1fa188 157.0px,#3fbc73 157.8px,#31b57b 160.3px)"></i><i style="background:linear-gradient(#2d718e 0.0px,#3b528b 3.5px,#3e4a89 7.0px,#34618d 11.0px,#30698e 16.5px,#2c738e 19.5px,#1fa188 23.9px,#20a486 27.1px,#2db27d 32.7px,#31b57b 35.3px,#25ab82 39.4px,#29af7f 44.5px,#2cb17e 49.5px,#32b67a 53.3px,#2fb47c 57.7px,#4ac16d 61.5px,#27ad81 65.0px,#58c765 69.6px,#5ac864 74.5px,#40bd72 79.5px,#20a486 82.3px,#40bd72 87.3px,#4cc26c 92.4px,#60ca60 95.5px,#3aba76 100.2px,#25ac82 105.2px,#2cb17e 110.2px,#50c46a 113.6px,#69cd5b 118.5px,#70cf57 122.5px,#69cd5b 125.9px,#40bd72 129.6px,#22a884 132.5px,#77d153 136.5px,#a2da37 140.1px,#b0dd2f 143.9px,#b5de2b 147.5px,#3fbc73 149.5px,#21a685 151.0px,#1f9f88 157.0px,#70cf57 157.8px,#6ece58 160.3px)"></i><i style="background:linear-gradient(#2c728e 0.0px,#355f8d 4.3px,#3c508b 7.3px,#2e6f8e 12.7px,#2c738e 14.7px,#1f978b 19.5px,#1fa188 23.6px,#2eb37c 27.1px,#34b679 32.3px,#5ec962 35.5px,#73d056 40.7px,#4ec36b 44.5px,#3bbb75 47.9px,#1f9e89 52.3px,#1fa188 56.5px,#2eb37c 61.8px,#5ac864 65.6px,#50c46a 69.3px,#70cf57 74.5px,#32b67a 78.8px,#22a884 83.4px,#21a685 87.6px,#1fa188 92.3px,#3fbc73 96.8px,#3aba76 101.2px,#54c568 105.6px,#32b67a 110.0px,#58c765 112.8px,#4ec36b 117.8px,#58c765 122.5px,#44bf70 126.1px,#31b57b 128.9px,#22a884 132.5px,#addc30 136.5px,#c0df25 140.5px,#c5e021 144.6px,#e7e419 147.5px,#46c06f 149.5px,#1fa188 151.0px,#1f948c 157.0px,#56c667 157.8px,#4cc26c 160.3px)"></i><i style="background:linear-gradient(#2f6b8e 0.0px,#33638d 4.9px,#39568c 7.1px,#355e8d 12.4px,#355e8d 16.4px,#34608d 19.5px,#238a8d 23.5px,#23888e 27.3px,#1f9f88 33.0px,#46c06f 35.4px,#2cb17e 41.0px,#1f9f88 44.5px,#1f9f88 48.4px,#1f998a 53.9px,#26828e 58.0px,#297a8e 62.2px,#21918c 66.3px,#1f988b 70.7px,#1fa187 74.5px,#3dbc74 78.6px,#22a884 84.0px,#26ad81 87.5px,#238a8d 91.4px,#228b8d 96.1px,#1f998a 99.7px,#25ab82 104.8px,#44bf70 108.7px,#4cc26c 113.9px,#50c46a 118.6px,#4ec36b 122.5px,#4ac16d 125.1px,#5cc863 130.0px,#50c46a 132.5px,#89d548 136.5px,#90d743 139.9px,#addc30 143.0px,#c5e021 147.5px,#48c16e 149.5px,#24aa83 151.0px,#20928c 157.0px,#54c568 157.8px,#65cb5e 160.3px)"></i><i style="background:linear-gradient(#2d718e 0.0px,#277e8e 3.2px,#355e8d 8.5px,#38588c 12.6px,#39558c 15.1px,#3b528b 19.5px,#26828e 23.3px,#1f988b 26.8px,#21a685 32.0px,#2eb37c 35.9px,#56c667 39.7px,#37b878 44.5px,#1f9f88 49.2px,#21a685 52.4px,#1f988b 56.7px,#1e9c89 61.7px,#1fa088 65.7px,#2fb47c 69.4px,#35b779 74.5px,#21a685 78.8px,#1e9b8a 82.4px,#2eb37c 87.8px,#2cb17e 91.6px,#1f988b 95.5px,#1e9d89 99.8px,#1f9e89 106.0px,#1fa287 109.2px,#26ad81 112.9px,#52c569 118.9px,#54c568 122.5px,#3bbb75 125.8px,#40bd72 129.5px,#42be71 132.5px,#63cb5f 136.5px,#7ad151 140.2px,#89d548 143.3px,#86d549 147.5px,#40bd72 149.5px,#2cb17e 151.0px,#1fa188 157.0px,#73d056 157.8px,#77d153 160.3px)"></i><i style="background:linear-gradient(#2c718e 0.0px,#297a8e 4.1px,#2a768e 7.9px,#287d8e 10.9px,#2e6f8e 14.7px,#20928c 19.5px,#1f9f88 23.3px,#26ad81 26.9px,#1e9c89 32.2px,#27ad81 36.2px,#20a486 40.6px,#20a486 44.5px,#20a486 48.4px,#22a884 53.7px,#2ab07f 58.0px,#1e9c89 61.6px,#2eb37c 66.2px,#40bd72 70.5px,#35b779 74.5px,#1e9c89 79.2px,#28ae80 83.5px,#44bf70 87.2px,#37b878 91.8px,#6ece58 95.5px,#23a983 101.3px,#22a884 104.4px,#22a884 109.7px,#50c46a 113.2px,#38b977 118.0px,#1fa187 122.5px,#1f958b 126.8px,#1e9c89 128.5px,#25ac82 132.5px,#5ec962 136.5px,#32b67a 139.2px,#5ec962 144.3px,#67cc5c 147.5px,#23a983 149.5px,#1fa187 151.0px,#1fa187 157.0px,#75d054 157.8px,#7fd34e 160.3px)"></i><i style="background:linear-gradient(#25848e 0.0px,#2c738e 3.2px,#25858e 7.1px,#26828e 11.0px,#228d8d 16.2px,#22a785 19.5px,#3aba76 24.2px,#20a486 28.6px,#20928c 31.2px,#44bf70 36.5px,#4ac16d 40.0px,#52c569 44.5px,#34b679 48.2px,#1f9e89 53.6px,#1e9b8a 57.8px,#37b878 62.0px,#4cc26c 65.9px,#63cb5f 70.5px,#6ece58 74.5px,#52c569 78.2px,#84d44b 84.1px,#90d743 88.1px,#5ac864 91.7px,#63cb5f 95.9px,#54c568 100.3px,#38b977 105.8px,#48c16e 109.3px,#24aa83 114.6px,#1fa188 118.4px,#1f9f88 122.5px,#1fa188 125.3px,#26ad81 128.7px,#34b679 132.5px,#98d83e 136.5px,#7ad151 140.8px,#9dd93b 143.9px,#a8db34 147.5px,#1e9c89 149.5px,#228d8d 151.0px,#1e9b8a 157.0px,#65cb5e 157.8px,#73d056 160.3px)"></i><i style="background:linear-gradient(#2f6c8e 0.0px,#33628d 3.5px,#2e6d8e 7.6px,#31668e 11.9px,#306a8e 15.8px,#2a778e 19.5px,#21918c 24.7px,#21918c 27.0px,#228c8d 32.9px,#24aa83 37.0px,#63cb5f 40.6px,#95d840 44.5px,#42be71 48.4px,#28ae80 53.4px,#25ab82 57.8px,#3dbc74 60.9px,#bddf26 66.8px,#a5db36 70.3px,#70cf57 74.5px,#aadc32 78.4px,#7fd34e 83.9px,#b8de29 87.3px,#69cd5b 92.6px,#69cd5b 96.0px,#5ec962 99.7px,#67cc5c 105.1px,#38b977 109.4px,#29af7f 112.9px,#89d548 118.7px,#4cc26c 122.5px,#52c569 125.6px,#2eb37c 129.4px,#3bbb75 132.5px,#8bd646 136.5px,#86d549 140.5px,#75d054 143.6px,#a2da37 147.5px,#26ad81 149.5px,#1fa088 151.0px,#1f958b 157.0px,#58c765 157.8px,#54c568 160.3px)"></i><i style="background:linear-gradient(#3e4989 0.0px,#32648e 3.1px,#2f6b8e 8.4px,#2a778e 12.2px,#27808e 15.2px,#306a8e 19.5px,#26818e 23.6px,#277e8e 28.0px,#24868e 31.8px,#32b67a 37.1px,#5ec962 40.6px,#7fd34e 44.5px,#90d743 48.0px,#9dd93b 52.2px,#aadc32 57.4px,#5ac864 62.2px,#84d44b 65.5px,#aadc32 70.2px,#5ac864 74.5px,#9dd93b 79.6px,#69cd5b 82.7px,#3fbc73 88.0px,#35b779 92.6px,#48c16e 95.9px,#26ad81 100.6px,#40bd72 105.5px,#27ad81 110.3px,#22a785 113.7px,#31b57b 118.1px,#1e9d89 122.5px,#1fa188 125.1px,#21a585 130.0px,#38b977 132.5px,#56c667 136.5px,#58c765 139.9px,#5ac864 143.7px,#9dd93b 147.5px,#2eb37c 149.5px,#1f9f88 151.0px,#24878e 157.0px,#3bbb75 157.8px,#3fbc73 160.3px)"></i><i style="background:linear-gradient(#2e6e8e 0.0px,#287d8e 4.4px,#27808e 7.9px,#24878e 12.6px,#26828e 16.3px,#24878e 19.5px,#20938c 24.2px,#21908d 27.1px,#1fa188 32.0px,#6ece58 37.0px,#4ac16d 39.8px,#67cc5c 44.5px,#5cc863 49.2px,#8ed645 53.1px,#e5e419 58.1px,#9bd93c 60.7px,#44bf70 66.9px,#69cd5b 70.1px,#34b679 74.5px,#44bf70 78.2px,#54c568 82.9px,#35b779 87.2px,#1fa287 91.0px,#1fa188 95.7px,#2eb37c 101.3px,#2fb47c 105.6px,#1e9c89 109.4px,#20928c 114.2px,#1f978b 118.0px,#228c8d 122.5px,#21908d 125.3px,#1f978b 128.8px,#29af7f 132.5px,#5cc863 136.5px,#67cc5c 140.0px,#81d34d 144.6px,#90d743 147.5px,#31b57b 149.5px,#20a386 151.0px,#20938c 157.0px,#54c568 157.8px,#67cc5c 160.3px)"></i><i style="background:linear-gradient(#1f948c 0.0px,#25858e 3.2px,#1f948c 8.1px,#24aa83 11.9px,#218f8d 15.1px,#21918c 19.5px,#2fb47c 24.6px,#2cb17e 28.7px,#27ad81 32.7px,#4ac16d 37.0px,#4ec36b 39.8px,#8ed645 44.5px,#69cd5b 49.6px,#a0da39 53.0px,#aadc32 56.7px,#e2e418 60.9px,#e5e419 65.6px,#b8de29 69.8px,#c5e021 74.5px,#a8db34 78.5px,#8bd646 84.0px,#8bd646 87.1px,#60ca60 91.5px,#40bd72 96.5px,#35b779 101.6px,#3fbc73 105.5px,#8bd646 109.4px,#3aba76 113.3px,#3fbc73 118.8px,#1e9b8a 122.5px,#1f998a 125.8px,#1f9e89 128.2px,#21a685 132.5px,#81d34d 136.5px,#90d743 139.3px,#89d548 143.2px,#cae11f 147.5px,#3bbb75 149.5px,#24aa83 151.0px,#1e9b8a 157.0px,#67cc5c 157.8px,#84d44b 160.3px)"></i><i style="background:linear-gradient(#2b758e 0.0px,#31678e 3.9px,#34618d 7.5px,#2e6e8e 11.0px,#31688e 15.7px,#297a8e 19.5px,#277e8e 23.7px,#1f988b 27.5px,#37b878 31.6px,#28ae80 35.8px,#2cb17e 40.7px,#3dbc74 44.5px,#3bbb75 48.1px,#6ccd5a 52.7px,#48c16e 57.5px,#77d153 61.8px,#d8e219 66.5px,#cde11d 70.1px,#cae11f 74.5px,#90d743 78.7px,#86d549 82.7px,#90d743 87.2px,#67cc5c 91.4px,#4ec36b 97.0px,#35b779 100.2px,#37b878 105.7px,#2db27d 109.8px,#22a884 114.4px,#20938c 118.6px,#24aa83 122.5px,#26ad81 124.8px,#31b57b 128.8px,#3aba76 132.5px,#54c568 136.5px,#70cf57 140.9px,#6ece58 142.9px,#86d549 147.5px,#2db27d 149.5px,#1fa088 151.0px,#1f958b 157.0px,#5ac864 157.8px,#6ece58 160.3px)"></i><i style="background:linear-gradient(#228d8d 0.0px,#218f8d 3.0px,#277f8e 7.7px,#2a778e 12.3px,#2f6b8e 15.0px,#26828e 19.5px,#1f968b 23.9px,#2ab07f 27.7px,#3dbc74 32.0px,#5ec962 36.5px,#65cb5e 39.7px,#48c16e 44.5px,#38b977 49.6px,#60ca60 53.0px,#5ac864 56.6px,#dfe318 61.3px,#d2e21b 66.6px,#cae11f 69.8px,#addc30 74.5px,#73d056 78.0px,#46c06f 82.5px,#56c667 87.7px,#42be71 92.6px,#23a983 96.9px,#1f9f88 101.6px,#1fa188 105.5px,#21a585 109.1px,#1f988b 114.3px,#1f9f88 117.5px,#37b878 122.5px,#3aba76 125.4px,#4ac16d 128.7px,#44bf70 132.5px,#98d83e 136.5px,#a2da37 140.4px,#b0dd2f 143.7px,#e2e418 147.5px,#52c569 149.5px,#29af7f 151.0px,#1fa187 157.0px,#75d054 157.8px,#86d549 160.3px)"></i><i style="background:linear-gradient(#23888e 0.0px,#228d8d 3.5px,#218f8d 8.8px,#23898e 11.0px,#30698e 15.7px,#277f8e 19.5px,#23898e 24.4px,#228c8d 27.2px,#20a486 32.8px,#54c568 36.9px,#63cb5f 40.7px,#54c568 44.5px,#54c568 48.4px,#38b977 53.4px,#63cb5f 56.4px,#95d840 61.3px,#95d840 65.8px,#84d44b 70.8px,#60ca60 74.5px,#a0da39 78.4px,#26ad81 84.1px,#3dbc74 87.5px,#5cc863 91.0px,#22a785 95.7px,#24aa83 101.4px,#44bf70 104.3px,#4ec36b 108.5px,#5ac864 113.4px,#1f9e89 118.3px,#22a785 122.5px,#28ae80 125.0px,#32b67a 129.6px,#25ab82 132.5px,#75d054 136.5px,#90d743 140.0px,#95d840 143.3px,#b0dd2f 147.5px,#3fbc73 149.5px,#34b679 151.0px,#21a585 157.0px,#7fd34e 157.8px,#89d548 160.3px)"></i><i style="background:linear-gradient(#1f9a8a 0.0px,#25ab82 3.3px,#1f998a 7.9px,#1e9d89 11.5px,#1e9c89 16.2px,#21a685 19.5px,#25ab82 24.4px,#1fa088 27.0px,#32b67a 32.9px,#60ca60 36.9px,#70cf57 41.1px,#75d054 44.5px,#86d549 49.5px,#addc30 53.4px,#fde725 58.1px,#f8e621 62.0px,#b8de29 66.2px,#75d054 69.5px,#5ec962 74.5px,#86d549 79.3px,#67cc5c 83.4px,#60ca60 86.8px,#52c569 91.1px,#42be71 97.3px,#4ec36b 99.8px,#48c16e 105.6px,#60ca60 109.6px,#5cc863 113.2px,#21a685 117.5px,#1f958b 122.5px,#1e9d89 126.7px,#1f998a 129.5px,#26ad81 132.5px,#7ad151 136.5px,#b0dd2f 140.9px,#bade28 144.3px,#cde11d 147.5px,#32b67a 149.5px,#2ab07f 151.0px,#1f9f88 157.0px,#6ece58 157.8px,#7cd250 160.3px)"></i><i style="background:linear-gradient(#297a8e 0.0px,#2e6e8e 3.8px,#306a8e 7.1px,#2a788e 12.7px,#297a8e 15.2px,#20928c 19.5px,#2c718e 24.1px,#2c718e 27.4px,#24aa83 32.5px,#3dbc74 35.2px,#6ece58 40.6px,#81d34d 44.5px,#89d548 48.4px,#86d549 53.8px,#bade28 57.1px,#b2dd2d 62.6px,#52c569 66.8px,#35b779 69.4px,#44bf70 74.5px,#44bf70 78.0px,#50c46a 83.1px,#37b878 88.0px,#32b67a 91.0px,#2eb37c 97.1px,#1f998a 101.5px,#1f978b 104.0px,#38b977 108.7px,#2fb47c 113.0px,#2e6f8e 118.5px,#365c8d 122.5px,#32648e 125.2px,#2a768e 129.7px,#238a8d 132.5px,#69cd5b 136.5px,#6ece58 139.3px,#6ece58 143.6px,#95d840 147.5px,#2db27d 149.5px,#1e9d89 151.0px,#1e9b8a 157.0px,#65cb5e 157.8px,#7ad151 160.3px)"></i><i style="background:linear-gradient(#2c718e 0.0px,#2c728e 3.8px,#30698e 8.5px,#2e6e8e 10.8px,#30698e 15.5px,#238a8d 19.5px,#1e9d89 23.5px,#20a486 27.4px,#3aba76 31.7px,#3aba76 35.9px,#7cd250 39.8px,#8bd646 44.5px,#b0dd2f 49.3px,#90d743 53.1px,#b0dd2f 58.1px,#bddf26 62.5px,#86d549 65.0px,#40bd72 69.2px,#6ece58 74.5px,#67cc5c 79.2px,#9bd93c 83.4px,#90d743 87.0px,#67cc5c 91.0px,#60ca60 97.1px,#44bf70 100.7px,#5ec962 104.5px,#8ed645 109.1px,#52c569 113.0px,#28ae80 117.9px,#1e9b8a 122.5px,#26ad81 125.7px,#1fa088 128.3px,#1fa287 132.5px,#60ca60 136.5px,#69cd5b 140.9px,#70cf57 143.1px,#a0da39 147.5px,#3aba76 149.5px,#1fa088 151.0px,#21a585 157.0px,#7fd34e 157.8px,#6ece58 160.3px)"></i><i style="background:linear-gradient(#20928c 0.0px,#25848e 3.9px,#31678e 7.1px,#2e6d8e 12.1px,#25848e 15.2px,#23888e 19.5px,#1f958b 23.0px,#21a585 28.6px,#1fa188 32.7px,#2ab07f 37.0px,#44bf70 40.2px,#dde318 44.5px,#addc30 48.2px,#90d743 53.8px,#8ed645 56.7px,#95d840 62.4px,#63cb5f 66.4px,#98d83e 70.3px,#86d549 74.5px,#bade28 78.2px,#aadc32 83.9px,#b5de2b 88.4px,#5ac864 92.3px,#6ece58 95.4px,#3bbb75 100.1px,#2fb47c 105.2px,#73d056 110.4px,#42be71 113.1px,#4ac16d 117.2px,#44bf70 122.5px,#38b977 125.5px,#25ac82 129.0px,#35b779 132.5px,#9bd93c 136.5px,#a8db34 139.9px,#cde11d 143.8px,#a5db36 147.5px,#2db27d 149.5px,#1fa188 151.0px,#28ae80 157.0px,#98d83e 157.8px,#95d840 160.3px)"></i><i style="background:linear-gradient(#2c738e 0.0px,#26828e 3.5px,#25848e 7.3px,#1fa287 10.9px,#25858e 16.5px,#287d8e 19.5px,#20a386 24.0px,#1e9d89 28.2px,#20928c 31.3px,#24aa83 35.8px,#73d056 40.6px,#b0dd2f 44.5px,#e7e419 48.4px,#d5e21a 53.1px,#a5db36 58.1px,#5ac864 61.9px,#90d743 65.5px,#bddf26 70.3px,#8ed645 74.5px,#a2da37 79.7px,#addc30 82.5px,#95d840 86.8px,#28ae80 92.3px,#2fb47c 96.6px,#4cc26c 100.6px,#34b679 105.4px,#3bbb75 108.7px,#40bd72 113.3px,#37b878 118.6px,#25ac82 122.5px,#44bf70 126.6px,#69cd5b 129.4px,#4ac16d 132.5px,#9bd93c 136.5px,#dde318 140.4px,#e5e419 144.6px,#d5e21a 147.5px,#3fbc73 149.5px,#24aa83 151.0px,#22a785 157.0px,#84d44b 157.8px,#69cd5b 160.3px)"></i><i style="background:linear-gradient(#32648e 0.0px,#2d718e 3.0px,#29798e 7.2px,#2f6c8e 12.2px,#375b8d 16.0px,#2e6d8e 19.5px,#228c8d 22.7px,#20938c 28.1px,#228c8d 31.4px,#1f988b 35.9px,#32b67a 40.0px,#2cb17e 44.5px,#6ccd5a 49.1px,#addc30 54.0px,#84d44b 57.2px,#90d743 61.6px,#58c765 66.8px,#8ed645 70.4px,#73d056 74.5px,#70cf57 78.3px,#77d153 83.9px,#40bd72 87.1px,#4ec36b 91.0px,#48c16e 96.0px,#3fbc73 100.4px,#4ac16d 105.6px,#4ac16d 109.0px,#52c569 114.0px,#69cd5b 117.8px,#84d44b 122.5px,#9dd93b 125.8px,#a2da37 128.5px,#8bd646 132.5px,#a0da39 136.5px,#aadc32 139.6px,#cde11d 143.7px,#b2dd2d 147.5px,#3dbc74 149.5px,#23a983 151.0px,#1f948c 157.0px,#56c667 157.8px,#58c765 160.3px)"></i><i style="background:linear-gradient(#375a8c 0.0px,#365d8d 4.6px,#32648e 7.3px,#32658e 10.9px,#355e8d 14.8px,#2f6b8e 19.5px,#24878e 24.3px,#2a768e 27.5px,#2e6d8e 31.8px,#2e6f8e 35.4px,#25848e 40.3px,#24aa83 44.5px,#5cc863 48.5px,#38b977 52.3px,#58c765 57.6px,#7cd250 61.5px,#6ece58 65.6px,#5ec962 69.5px,#a2da37 74.5px,#7cd250 78.8px,#5ac864 82.4px,#40bd72 87.2px,#4ac16d 91.6px,#35b779 95.4px,#5ac864 100.8px,#3aba76 105.6px,#42be71 108.5px,#4ac16d 114.3px,#35b779 117.7px,#1e9d89 122.5px,#20a486 126.8px,#1f978b 129.6px,#20a386 132.5px,#63cb5f 136.5px,#70cf57 139.2px,#95d840 144.0px,#a0da39 147.5px,#2db27d 149.5px,#1f9a8a 151.0px,#1f968b 157.0px,#5cc863 157.8px,#5cc863 160.3px)"></i><i style="background:linear-gradient(#2c718e 0.0px,#29798e 3.1px,#38588c 7.8px,#365c8d 10.8px,#33638d 16.1px,#34608d 19.5px,#2c738e 24.1px,#2a768e 27.7px,#20928c 31.3px,#228b8d 35.3px,#1f948c 40.3px,#1fa088 44.5px,#35b779 48.9px,#27ad81 52.2px,#42be71 57.4px,#40bd72 60.9px,#5ec962 66.3px,#4cc26c 69.7px,#86d549 74.5px,#40bd72 79.8px,#44bf70 83.9px,#63cb5f 87.7px,#4ac16d 92.5px,#50c46a 95.4px,#42be71 100.5px,#3aba76 104.4px,#93d741 109.0px,#70cf57 113.6px,#89d548 117.6px,#35b779 122.5px,#1fa287 126.1px,#1f998a 130.0px,#2ab07f 132.5px,#3fbc73 136.5px,#3dbc74 139.4px,#70cf57 144.0px,#60ca60 147.5px,#26ad81 149.5px,#1fa088 151.0px,#1f9f88 157.0px,#70cf57 157.8px,#81d34d 160.3px)"></i><i style="background:linear-gradient(#2f6b8e 0.0px,#31668e 3.2px,#2b748e 8.6px,#26828e 11.0px,#31678e 16.3px,#2e6e8e 19.5px,#25838e 23.6px,#23898e 27.8px,#20938c 31.4px,#21908d 35.5px,#37b878 40.1px,#4cc26c 44.5px,#5ec962 48.9px,#32b67a 52.7px,#3bbb75 58.3px,#38b977 62.1px,#69cd5b 65.5px,#5cc863 69.9px,#89d548 74.5px,#5ec962 78.8px,#50c46a 84.1px,#4cc26c 87.6px,#2db27d 91.5px,#2cb17e 96.6px,#1f9f88 100.1px,#3aba76 105.5px,#5ac864 110.4px,#69cd5b 112.9px,#6ccd5a 117.4px,#4cc26c 122.5px,#31b57b 126.6px,#35b779 128.4px,#32b67a 132.5px,#54c568 136.5px,#7ad151 141.0px,#65cb5e 144.5px,#56c667 147.5px,#20a486 149.5px,#21a585 151.0px,#1f958b 157.0px,#58c765 157.8px,#73d056 160.3px)"></i><i style="background:linear-gradient(#218e8d 0.0px,#2b758e 4.3px,#228b8d 8.5px,#287d8e 12.3px,#26818e 14.9px,#218e8d 19.5px,#40bd72 24.1px,#3fbc73 28.3px,#42be71 31.7px,#50c46a 37.0px,#67cc5c 40.2px,#8ed645 44.5px,#65cb5e 48.3px,#2fb47c 52.1px,#5cc863 57.2px,#73d056 61.0px,#90d743 65.6px,#8ed645 69.7px,#cae11f 74.5px,#95d840 78.3px,#56c667 83.5px,#69cd5b 88.4px,#44bf70 91.3px,#5ac864 97.0px,#2db27d 101.4px,#38b977 105.0px,#2cb17e 108.8px,#34b679 114.0px,#25ac82 118.6px,#29af7f 122.5px,#31b57b 126.5px,#3dbc74 128.3px,#35b779 132.5px,#77d153 136.5px,#a2da37 141.1px,#bddf26 144.3px,#c5e021 147.5px,#46c06f 149.5px,#26ad81 151.0px,#1f9f88 157.0px,#70cf57 157.8px,#86d549 160.3px)"></i><i style="background:linear-gradient(#33628d 0.0px,#31678e 3.7px,#297b8e 7.3px,#2a768e 11.2px,#25858e 15.0px,#25848e 19.5px,#228b8d 23.4px,#1fa187 26.9px,#21918c 31.8px,#238a8d 35.6px,#228c8d 40.6px,#1e9c89 44.5px,#1f978b 48.8px,#20a386 52.2px,#1fa188 58.2px,#24aa83 60.8px,#3aba76 66.0px,#2db27d 70.0px,#34b679 74.5px,#42be71 79.6px,#32b67a 83.0px,#23a983 87.2px,#2fb47c 92.6px,#54c568 95.6px,#3bbb75 100.0px,#27ad81 104.6px,#3bbb75 110.3px,#31b57b 113.3px,#1e9d89 119.0px,#32b67a 122.5px,#32b67a 126.0px,#35b779 128.6px,#34b679 132.5px,#58c765 136.5px,#56c667 140.0px,#8bd646 144.2px,#93d741 147.5px,#4cc26c 149.5px,#26ad81 151.0px,#1fa287 157.0px,#77d153 157.8px,#73d056 160.3px)"></i><i style="background:linear-gradient(#25838e 0.0px,#25848e 3.2px,#25838e 7.7px,#228d8d 11.0px,#20928c 15.6px,#228d8d 19.5px,#1f9f88 23.8px,#21918c 27.2px,#20a386 31.8px,#44bf70 35.7px,#5cc863 40.7px,#a0da39 44.5px,#6ece58 49.1px,#8bd646 52.4px,#bade28 57.4px,#cde11d 61.4px,#c8e020 65.5px,#65cb5e 70.1px,#5ac864 74.5px,#60ca60 77.9px,#84d44b 83.1px,#73d056 87.2px,#93d741 92.1px,#b5de2b 96.7px,#9dd93b 101.6px,#b8de29 104.9px,#8bd646 109.2px,#67cc5c 114.4px,#31b57b 117.4px,#42be71 122.5px,#44bf70 125.1px,#28ae80 129.4px,#25ac82 132.5px,#9dd93b 136.5px,#dae319 139.5px,#e7e419 144.4px,#f4e61e 147.5px,#4cc26c 149.5px,#22a884 151.0px,#1e9d89 157.0px,#69cd5b 157.8px,#69cd5b 160.3px)"></i><i style="background:linear-gradient(#25858e 0.0px,#277f8e 4.4px,#21908d 7.5px,#1f948c 11.9px,#25858e 15.6px,#1f9f88 19.5px,#20928c 24.6px,#26828e 27.0px,#1f9f88 32.4px,#7ad151 36.4px,#aadc32 40.7px,#d8e219 44.5px,#cde11d 48.4px,#d2e21b 52.6px,#d0e11c 58.3px,#fde725 62.0px,#fde725 65.6px,#d0e11c 71.0px,#a8db34 74.5px,#b5de2b 78.7px,#93d741 82.9px,#4ec36b 86.6px,#6ccd5a 92.8px,#a2da37 96.5px,#7fd34e 99.8px,#73d056 105.6px,#58c765 110.2px,#4ec36b 114.5px,#48c16e 119.1px,#42be71 122.5px,#4cc26c 125.1px,#37b878 128.6px,#1fa088 132.5px,#a2da37 136.5px,#efe51c 140.7px,#d2e21b 144.0px,#dfe318 147.5px,#3dbc74 149.5px,#20a486 151.0px,#228d8d 157.0px,#46c06f 157.8px,#56c667 160.3px)"></i><i style="background:linear-gradient(#218e8d 0.0px,#228b8d 4.8px,#20928c 8.2px,#287c8e 11.4px,#2c728e 15.9px,#297b8e 19.5px,#25848e 23.4px,#228d8d 27.8px,#2ab07f 31.8px,#69cd5b 35.7px,#84d44b 39.7px,#c2df23 44.5px,#b2dd2d 49.3px,#84d44b 53.0px,#81d34d 57.6px,#95d840 61.7px,#6ccd5a 65.8px,#addc30 69.5px,#fde725 74.5px,#fde725 77.9px,#d0e11c 83.2px,#8bd646 87.0px,#7fd34e 92.8px,#98d83e 95.7px,#4ec36b 100.9px,#52c569 104.2px,#38b977 108.9px,#3fbc73 112.8px,#86d549 118.8px,#50c46a 122.5px,#26ad81 125.1px,#2fb47c 130.0px,#58c765 132.5px,#cde11d 136.5px,#d2e21b 140.9px,#b2dd2d 144.0px,#a5db36 147.5px,#2db27d 149.5px,#1f998a 151.0px,#1f948c 157.0px,#56c667 157.8px,#77d153 160.3px)"></i><i style="background:linear-gradient(#31688e 0.0px,#2d708e 3.7px,#238a8d 7.7px,#26828e 10.8px,#29798e 14.8px,#2e6e8e 19.5px,#2e6f8e 22.7px,#21918c 28.8px,#1fa287 31.1px,#2ab07f 36.9px,#63cb5f 39.5px,#8ed645 44.5px,#75d054 48.6px,#31b57b 53.9px,#28ae80 57.6px,#56c667 62.3px,#70cf57 65.5px,#a0da39 69.3px,#cde11d 74.5px,#b0dd2f 78.9px,#bddf26 83.3px,#c5e021 87.7px,#84d44b 91.6px,#3fbc73 96.9px,#3fbc73 100.6px,#69cd5b 104.5px,#21a685 109.3px,#1fa287 113.7px,#44bf70 117.4px,#3aba76 122.5px,#32b67a 124.9px,#4ec36b 128.2px,#69cd5b 132.5px,#cae11f 136.5px,#d2e21b 140.5px,#d8e219 143.0px,#bddf26 147.5px,#46c06f 149.5px,#22a884 151.0px,#1f948c 157.0px,#56c667 157.8px,#54c568 160.3px)"></i><i style="background:linear-gradient(#2a768e 0.0px,#287c8e 4.4px,#287c8e 8.1px,#1f988b 12.2px,#1f998a 15.7px,#1f9a8a 19.5px,#1f978b 23.9px,#20928c 27.4px,#6ece58 32.3px,#8ed645 35.2px,#aadc32 40.8px,#8bd646 44.5px,#65cb5e 48.1px,#70cf57 52.6px,#44bf70 57.6px,#29af7f 62.4px,#4ec36b 65.1px,#5ec962 70.6px,#98d83e 74.5px,#81d34d 78.8px,#bddf26 84.0px,#bade28 87.0px,#a0da39 91.4px,#67cc5c 95.4px,#63cb5f 99.9px,#42be71 105.5px,#58c765 110.0px,#31b57b 113.8px,#28ae80 117.9px,#28ae80 122.5px,#2cb17e 125.4px,#26ad81 129.3px,#3bbb75 132.5px,#d2e21b 136.5px,#d2e21b 141.1px,#c2df23 144.3px,#bddf26 147.5px,#37b878 149.5px,#1fa187 151.0px,#1f9e89 157.0px,#6ccd5a 157.8px,#52c569 160.3px)"></i><i style="background:linear-gradient(#25858e 0.0px,#21918c 4.1px,#228b8d 7.1px,#29af7f 12.2px,#32b67a 16.5px,#25ac82 19.5px,#46c06f 24.3px,#22a785 28.4px,#5cc863 31.9px,#46c06f 36.0px,#a0da39 41.0px,#73d056 44.5px,#a2da37 48.9px,#86d549 52.9px,#3fbc73 57.5px,#28ae80 61.0px,#65cb5e 65.3px,#a2da37 69.4px,#d0e11c 74.5px,#c5e021 78.4px,#aadc32 83.2px,#b2dd2d 87.7px,#a8db34 91.9px,#6ccd5a 95.7px,#69cd5b 99.9px,#56c667 105.0px,#56c667 109.3px,#69cd5b 114.3px,#67cc5c 118.8px,#2fb47c 122.5px,#3bbb75 125.1px,#48c16e 129.1px,#3aba76 132.5px,#84d44b 136.5px,#b5de2b 141.0px,#95d840 143.4px,#7cd250 147.5px,#1fa187 149.5px,#20928c 151.0px,#21908d 157.0px,#4ec36b 157.8px,#70cf57 160.3px)"></i><i style="background:linear-gradient(#32648e 0.0px,#32658e 4.5px,#31678e 7.7px,#1f948c 12.0px,#25858e 16.2px,#287d8e 19.5px,#26828e 24.4px,#218e8d 28.6px,#1f988b 32.5px,#1f988b 36.4px,#35b779 41.3px,#2fb47c 44.5px,#52c569 48.2px,#77d153 52.4px,#31b57b 57.7px,#1fa088 61.1px,#1f968b 65.4px,#65cb5e 71.2px,#7cd250 74.5px,#5cc863 78.5px,#37b878 83.5px,#31b57b 88.5px,#2cb17e 92.5px,#20a386 97.0px,#2fb47c 100.4px,#22a785 105.4px,#20928c 110.0px,#228b8d 113.0px,#1f988b 119.0px,#20938c 122.5px,#1f978b 125.3px,#1fa287 129.6px,#28ae80 132.5px,#7cd250 136.5px,#8bd646 139.9px,#8ed645 143.6px,#73d056 147.5px,#22a884 149.5px,#1f9a8a 151.0px,#1fa287 157.0px,#7ad151 157.8px,#6ece58 160.3px)"></i><i style="background:linear-gradient(#2a788e 0.0px,#33628d 3.1px,#2e6e8e 7.7px,#2a768e 12.3px,#2a788e 16.3px,#287d8e 19.5px,#20928c 24.0px,#20938c 28.4px,#21a585 31.2px,#27ad81 36.6px,#4ac16d 40.7px,#50c46a 44.5px,#9bd93c 49.7px,#b5de2b 52.7px,#7cd250 57.6px,#63cb5f 61.8px,#35b779 66.8px,#60ca60 70.7px,#89d548 74.5px,#75d054 77.9px,#46c06f 82.5px,#77d153 88.5px,#a5db36 91.3px,#90d743 96.1px,#65cb5e 100.8px,#27ad81 105.8px,#42be71 109.9px,#2ab07f 113.3px,#28ae80 118.0px,#3fbc73 122.5px,#28ae80 126.8px,#35b779 128.5px,#50c46a 132.5px,#7ad151 136.5px,#a2da37 139.5px,#7cd250 143.6px,#69cd5b 147.5px,#20a486 149.5px,#1f9a8a 151.0px,#1f998a 157.0px,#63cb5f 157.8px,#67cc5c 160.3px)"></i><i style="background:linear-gradient(#33638d 0.0px,#3f4788 4.9px,#39558c 7.1px,#3b518b 12.2px,#38598c 15.0px,#365d8d 19.5px,#277f8e 23.3px,#238a8d 28.6px,#1fa187 32.5px,#27ad81 36.7px,#40bd72 40.3px,#6ece58 44.5px,#70cf57 49.1px,#b5de2b 53.2px,#dae319 57.6px,#98d83e 62.5px,#67cc5c 65.5px,#34b679 70.7px,#48c16e 74.5px,#37b878 78.4px,#35b779 83.5px,#65cb5e 87.4px,#44bf70 91.4px,#38b977 95.7px,#2db27d 100.4px,#23a983 105.4px,#31b57b 109.7px,#29af7f 113.6px,#21a685 118.5px,#22a785 122.5px,#1fa188 125.4px,#4ec36b 129.5px,#52c569 132.5px,#69cd5b 136.5px,#70cf57 139.4px,#4cc26c 143.0px,#75d054 147.5px,#2eb37c 149.5px,#21a685 151.0px,#20a386 157.0px,#7ad151 157.8px,#70cf57 160.3px)"></i><i style="background:linear-gradient(#39568c 0.0px,#3d4e8a 2.9px,#3b528b 8.1px,#3d4d8a 12.4px,#2f6b8e 16.3px,#2e6f8e 19.5px,#25858e 23.8px,#20928c 28.6px,#1f9e89 31.8px,#21a685 35.8px,#20a486 39.9px,#29af7f 44.5px,#27ad81 48.6px,#3aba76 53.3px,#5ec962 57.6px,#81d34d 61.2px,#70cf57 66.7px,#6ece58 70.7px,#32b67a 74.5px,#31b57b 78.0px,#1f958b 83.3px,#23a983 88.5px,#21a685 91.1px,#24aa83 97.0px,#21a585 99.9px,#20a386 105.0px,#1e9d89 109.1px,#1fa287 113.2px,#1f9f88 118.6px,#1f998a 122.5px,#2db27d 126.5px,#4ac16d 128.4px,#60ca60 132.5px,#7ad151 136.5px,#50c46a 141.1px,#56c667 143.1px,#54c568 147.5px,#22a785 149.5px,#1f9a8a 151.0px,#26ad81 157.0px,#95d840 157.8px,#73d056 160.3px)"></i><i style="background:linear-gradient(#2c738e 0.0px,#32658e 4.0px,#29798e 7.2px,#297a8e 12.3px,#2b748e 14.8px,#297a8e 19.5px,#1e9c89 24.2px,#1f9f88 28.1px,#32b67a 31.4px,#42be71 36.2px,#40bd72 41.3px,#35b779 44.5px,#a2da37 49.6px,#7fd34e 52.6px,#7ad151 57.8px,#6ccd5a 62.5px,#6ece58 66.5px,#73d056 70.1px,#7fd34e 74.5px,#3bbb75 79.0px,#27ad81 83.5px,#40bd72 86.7px,#35b779 92.0px,#4ec36b 96.6px,#3aba76 100.3px,#65cb5e 106.0px,#65cb5e 109.2px,#48c16e 113.9px,#56c667 117.4px,#3dbc74 122.5px,#40bd72 124.8px,#3bbb75 128.5px,#50c46a 132.5px,#67cc5c 136.5px,#69cd5b 139.8px,#5ec962 143.3px,#6ece58 147.5px,#1fa188 149.5px,#1e9c89 151.0px,#20a486 157.0px,#7cd250 157.8px,#7ad151 160.3px)"></i><i style="background:linear-gradient(#2a768e 0.0px,#375a8c 4.7px,#2d718e 8.0px,#33638d 11.5px,#2e6f8e 16.0px,#228d8d 19.5px,#1f948c 23.2px,#1e9d89 28.0px,#31b57b 32.4px,#21a685 37.1px,#27ad81 41.0px,#4cc26c 44.5px,#5ac864 48.9px,#4ec36b 52.3px,#2eb37c 56.9px,#70cf57 62.2px,#4cc26c 66.6px,#44bf70 69.3px,#4cc26c 74.5px,#23a983 78.0px,#44bf70 82.9px,#95d840 88.5px,#7ad151 92.7px,#9bd93c 95.4px,#7ad151 100.7px,#a0da39 105.7px,#81d34d 109.5px,#35b779 114.4px,#2db27d 119.1px,#37b878 122.5px,#28ae80 125.3px,#27ad81 130.1px,#46c06f 132.5px,#5cc863 136.5px,#4cc26c 140.1px,#65cb5e 143.3px,#89d548 147.5px,#32b67a 149.5px,#20a486 151.0px,#20a386 157.0px,#7cd250 157.8px,#95d840 160.3px)"></i><i style="background:linear-gradient(#27808e 0.0px,#2b748e 3.5px,#287c8e 8.6px,#277e8e 12.7px,#2f6c8e 16.6px,#2e6d8e 19.5px,#287c8e 22.9px,#218e8d 28.3px,#228c8d 32.6px,#20928c 35.4px,#48c16e 40.9px,#bade28 44.5px,#a2da37 49.7px,#84d44b 52.2px,#37b878 56.5px,#3dbc74 61.0px,#42be71 65.8px,#54c568 70.6px,#6ece58 74.5px,#5cc863 79.4px,#67cc5c 82.3px,#50c46a 86.9px,#48c16e 92.6px,#40bd72 96.2px,#3aba76 100.8px,#25ab82 104.2px,#2cb17e 109.9px,#29af7f 114.1px,#2fb47c 117.6px,#3dbc74 122.5px,#44bf70 125.0px,#3aba76 129.2px,#52c569 132.5px,#95d840 136.5px,#95d840 140.9px,#81d34d 143.2px,#95d840 147.5px,#31b57b 149.5px,#1e9c89 151.0px,#1e9b8a 157.0px,#65cb5e 157.8px,#86d549 160.3px)"></i><i style="background:linear-gradient(#375a8c 0.0px,#30698e 4.6px,#31688e 7.8px,#3a538b 11.4px,#31678e 16.0px,#2c728e 19.5px,#297a8e 23.9px,#238a8d 27.7px,#20938c 31.0px,#24aa83 35.7px,#22a884 40.4px,#81d34d 44.5px,#81d34d 48.8px,#35b779 53.4px,#23a983 56.8px,#54c568 61.3px,#4cc26c 66.0px,#2eb37c 70.9px,#50c46a 74.5px,#4ec36b 78.0px,#28ae80 83.9px,#1f988b 87.2px,#20928c 91.2px,#1e9c89 96.2px,#23a983 100.0px,#24878e 105.3px,#34b679 110.2px,#40bd72 112.8px,#40bd72 118.2px,#1fa287 122.5px,#32b67a 125.0px,#1fa287 129.0px,#2cb17e 132.5px,#4ec36b 136.5px,#58c765 139.6px,#67cc5c 143.7px,#7ad151 147.5px,#2ab07f 149.5px,#1e9c89 151.0px,#1f968b 157.0px,#5ac864 157.8px,#4cc26c 160.3px)"></i><i style="background:linear-gradient(#2e6e8e 0.0px,#277e8e 4.8px,#23898e 8.2px,#306a8e 11.9px,#25858e 15.8px,#31678e 19.5px,#238a8d 24.6px,#1f9e89 26.9px,#2cb17e 32.6px,#67cc5c 37.1px,#6ccd5a 40.4px,#c5e021 44.5px,#c2df23 49.3px,#5cc863 54.0px,#75d054 57.7px,#c2df23 62.2px,#dfe318 66.3px,#93d741 69.3px,#5ac864 74.5px,#40bd72 78.6px,#42be71 83.2px,#23a983 87.4px,#27ad81 92.1px,#21918c 95.9px,#20938c 100.8px,#20928c 104.1px,#21a585 109.0px,#1f988b 113.5px,#1f9e89 118.7px,#1f978b 122.5px,#25ab82 126.7px,#29af7f 129.5px,#1fa187 132.5px,#4ac16d 136.5px,#50c46a 139.5px,#70cf57 143.5px,#86d549 147.5px,#28ae80 149.5px,#1f9f88 151.0px,#1f988b 157.0px,#5ec962 157.8px,#50c46a 160.3px)"></i><i style="background:linear-gradient(#238a8d 0.0px,#25858e 4.4px,#228b8d 7.1px,#2e6e8e 12.4px,#2e6f8e 16.6px,#2c718e 19.5px,#277e8e 23.6px,#20928c 28.1px,#1f958b 31.4px,#1e9b8a 35.6px,#42be71 39.6px,#5ec962 44.5px,#3aba76 48.8px,#2ab07f 52.4px,#46c06f 56.5px,#3aba76 60.9px,#2eb37c 66.0px,#31b57b 69.9px,#44bf70 74.5px,#4ec36b 79.2px,#3aba76 83.0px,#42be71 87.5px,#38b977 92.3px,#21a585 96.6px,#1e9c89 101.6px,#1fa287 105.2px,#23a983 108.6px,#1f9e89 113.1px,#1f9a8a 118.8px,#218e8d 122.5px,#1fa088 125.7px,#1e9c89 128.4px,#20a486 132.5px,#67cc5c 136.5px,#a2da37 140.1px,#a5db36 144.1px,#cae11f 147.5px,#38b977 149.5px,#1f9e89 151.0px,#21a685 157.0px,#81d34d 157.8px,#90d743 160.3px)"></i><i style="background:linear-gradient(#2b758e 0.0px,#228c8d 3.2px,#277f8e 8.1px,#29798e 10.9px,#355e8d 15.6px,#287d8e 19.5px,#1f988b 23.1px,#1f988b 28.3px,#20938c 31.6px,#20a486 35.5px,#2ab07f 40.9px,#27ad81 44.5px,#48c16e 49.5px,#37b878 53.6px,#48c16e 57.7px,#3aba76 61.4px,#38b977 65.0px,#37b878 69.8px,#50c46a 74.5px,#32b67a 78.7px,#29af7f 82.4px,#34b679 87.0px,#54c568 91.8px,#37b878 95.8px,#35b779 100.2px,#20a386 105.1px,#1f978b 109.7px,#228c8d 113.5px,#1e9d89 117.7px,#20a486 122.5px,#29af7f 126.4px,#44bf70 129.4px,#44bf70 132.5px,#7cd250 136.5px,#b8de29 139.7px,#b5de2b 144.6px,#a5db36 147.5px,#38b977 149.5px,#1fa187 151.0px,#218f8d 157.0px,#4ac16d 157.8px,#5ec962 160.3px)"></i><i style="background:linear-gradient(#2e6d8e 0.0px,#33628d 4.7px,#3a548c 7.4px,#375a8c 11.9px,#3a538b 14.8px,#287d8e 19.5px,#2b748e 24.1px,#27808e 26.9px,#26828e 31.1px,#1f988b 36.4px,#1fa188 39.4px,#58c765 44.5px,#2cb17e 49.7px,#2db27d 52.1px,#32b67a 57.9px,#22a884 61.3px,#25ab82 65.5px,#40bd72 71.1px,#3fbc73 74.5px,#22a884 79.1px,#1f998a 83.3px,#1f9f88 86.9px,#20928c 91.7px,#25848e 97.0px,#1f998a 101.2px,#26818e 105.7px,#1f948c 110.4px,#1e9d89 113.2px,#228b8d 118.8px,#218f8d 122.5px,#1fa187 124.9px,#23a983 128.5px,#22a884 132.5px,#95d840 136.5px,#cde11d 140.6px,#f4e61e 144.6px,#d0e11c 147.5px,#35b779 149.5px,#1f9a8a 151.0px,#228d8d 157.0px,#48c16e 157.8px,#5ac864 160.3px)"></i><i style="background:linear-gradient(#39558c 0.0px,#32658e 3.7px,#2e6f8e 8.5px,#2e6f8e 11.0px,#33638d 16.2px,#32658e 19.5px,#25858e 24.3px,#1e9d89 28.2px,#22a785 31.9px,#1f9f88 35.8px,#46c06f 39.4px,#8bd646 44.5px,#7fd34e 47.8px,#44bf70 52.8px,#23a983 57.3px,#2eb37c 61.6px,#22a785 65.1px,#27ad81 70.8px,#25ac82 74.5px,#38b977 79.0px,#46c06f 82.3px,#1fa088 86.6px,#1f9e89 91.4px,#21918c 96.1px,#3dbc74 101.0px,#38b977 105.5px,#25ac82 110.0px,#1f948c 114.3px,#1f948c 118.4px,#22a785 122.5px,#6ccd5a 126.5px,#86d549 129.0px,#5ec962 132.5px,#8ed645 136.5px,#98d83e 140.2px,#cde11d 144.8px,#a2da37 147.5px,#28ae80 149.5px,#1e9c89 151.0px,#1f958b 157.0px,#5ac864 157.8px,#42be71 160.3px)"></i><i style="background:linear-gradient(#25838e 0.0px,#287d8e 3.3px,#277f8e 8.1px,#277f8e 12.3px,#297b8e 14.8px,#2a768e 19.5px,#21908d 24.5px,#20928c 27.1px,#21918c 31.7px,#29af7f 35.2px,#2fb47c 40.3px,#56c667 44.5px,#3dbc74 48.0px,#48c16e 53.5px,#48c16e 56.6px,#56c667 60.8px,#69cd5b 65.7px,#44bf70 70.9px,#40bd72 74.5px,#25ac82 77.9px,#37b878 83.1px,#38b977 88.1px,#46c06f 92.3px,#60ca60 95.6px,#65cb5e 100.3px,#56c667 105.8px,#2fb47c 110.3px,#2eb37c 113.7px,#24aa83 118.6px,#42be71 122.5px,#37b878 125.7px,#4ec36b 128.4px,#3dbc74 132.5px,#7fd34e 136.5px,#75d054 139.4px,#95d840 144.6px,#a5db36 147.5px,#3fbc73 149.5px,#1fa287 151.0px,#1f9a8a 157.0px,#63cb5f 157.8px,#7ad151 160.3px)"></i><i style="background:linear-gradient(#1f978b 0.0px,#21a585 4.8px,#28ae80 7.7px,#2eb37c 12.0px,#24aa83 15.7px,#29af7f 19.5px,#2ab07f 23.6px,#35b779 28.5px,#1fa287 31.5px,#1e9d89 35.3px,#2ab07f 41.2px,#4ac16d 44.5px,#7fd34e 48.6px,#2cb17e 54.0px,#46c06f 57.9px,#29af7f 61.2px,#56c667 65.3px,#28ae80 70.6px,#38b977 74.5px,#2cb17e 78.9px,#21a685 83.8px,#3fbc73 87.9px,#38b977 91.2px,#54c568 96.7px,#54c568 101.6px,#3aba76 105.8px,#40bd72 110.1px,#42be71 113.9px,#5ac864 118.4px,#65cb5e 122.5px,#5ac864 125.9px,#3dbc74 129.0px,#3bbb75 132.5px,#84d44b 136.5px,#70cf57 139.3px,#7cd250 144.2px,#7cd250 147.5px,#22a884 149.5px,#228b8d 151.0px,#1f9f88 157.0px,#6ece58 157.8px,#8ed645 160.3px)"></i><i style="background:linear-gradient(#1f958b 0.0px,#1e9b8a 3.6px,#1e9b8a 7.6px,#22a884 11.0px,#1f9f88 15.2px,#1f9e89 19.5px,#21a585 23.2px,#2fb47c 27.0px,#1fa188 32.5px,#1e9c89 37.1px,#24aa83 41.1px,#3bbb75 44.5px,#52c569 49.4px,#46c06f 53.6px,#26ad81 57.3px,#28ae80 61.4px,#24aa83 65.5px,#34b679 70.5px,#2fb47c 74.5px,#3bbb75 78.0px,#50c46a 83.8px,#2eb37c 88.0px,#29af7f 91.9px,#25ab82 96.5px,#3dbc74 100.7px,#56c667 105.7px,#89d548 109.1px,#40bd72 114.6px,#46c06f 117.4px,#60ca60 122.5px,#21a685 126.2px,#1e9d89 129.3px,#24aa83 132.5px,#7fd34e 136.5px,#73d056 141.1px,#9bd93c 143.4px,#8ed645 147.5px,#31b57b 149.5px,#1e9c89 151.0px,#22a785 157.0px,#84d44b 157.8px,#95d840 160.3px)"></i><i style="background:linear-gradient(#24868e 0.0px,#23898e 4.5px,#1fa187 8.6px,#1e9d89 12.6px,#1fa287 16.5px,#1e9c89 19.5px,#1fa287 23.0px,#28ae80 27.9px,#2eb37c 32.5px,#44bf70 35.5px,#22a785 39.7px,#1e9c89 44.5px,#2ab07f 49.0px,#2eb37c 52.7px,#42be71 58.3px,#1fa287 61.6px,#3aba76 66.3px,#48c16e 69.8px,#29af7f 74.5px,#3dbc74 79.4px,#2eb37c 84.2px,#3dbc74 88.3px,#42be71 92.6px,#24aa83 95.7px,#4cc26c 101.3px,#5cc863 104.3px,#46c06f 108.5px,#4cc26c 114.0px,#21a585 117.9px,#40bd72 122.5px,#50c46a 125.8px,#35b779 129.3px,#46c06f 132.5px,#5ac864 136.5px,#52c569 140.1px,#75d054 143.1px,#73d056 147.5px,#21a685 149.5px,#1f9a8a 151.0px,#1f998a 157.0px,#63cb5f 157.8px,#5ac864 160.3px)"></i><i style="background:linear-gradient(#218f8d 0.0px,#228d8d 3.3px,#238a8d 7.0px,#25838e 11.6px,#26828e 15.3px,#238a8d 19.5px,#1e9c89 23.9px,#2eb37c 28.1px,#3bbb75 32.5px,#38b977 36.0px,#3bbb75 41.2px,#25ab82 44.5px,#35b779 47.8px,#2ab07f 53.8px,#46c06f 56.6px,#27ad81 61.3px,#50c46a 65.6px,#69cd5b 69.3px,#27ad81 74.5px,#1fa188 79.1px,#1f998a 82.6px,#21a685 87.5px,#25ab82 91.7px,#37b878 95.9px,#35b779 100.3px,#2eb37c 104.9px,#25ab82 109.5px,#1f9e89 113.4px,#20928c 118.0px,#228d8d 122.5px,#1f9e89 126.0px,#1fa088 128.7px,#1e9c89 132.5px,#5ec962 136.5px,#6ece58 139.4px,#81d34d 144.4px,#8bd646 147.5px,#28ae80 149.5px,#1f998a 151.0px,#1f968b 157.0px,#5ac864 157.8px,#67cc5c 160.3px)"></i><i style="background:linear-gradient(#2cb17e 0.0px,#27ad81 3.3px,#1fa287 7.8px,#3bbb75 11.0px,#38b977 15.3px,#4ec36b 19.5px,#5ac864 23.5px,#77d153 27.9px,#58c765 31.6px,#50c46a 35.2px,#75d054 40.4px,#7ad151 44.5px,#40bd72 49.3px,#3dbc74 53.4px,#63cb5f 56.7px,#81d34d 62.2px,#7fd34e 66.2px,#7cd250 69.8px,#40bd72 74.5px,#38b977 78.1px,#56c667 83.2px,#31b57b 87.9px,#4ec36b 91.1px,#52c569 95.3px,#75d054 101.4px,#4ec36b 105.4px,#56c667 109.2px,#27ad81 114.0px,#54c568 117.6px,#27ad81 122.5px,#40bd72 126.6px,#34b679 128.3px,#26ad81 132.5px,#6ccd5a 136.5px,#8ed645 139.3px,#bade28 144.3px,#e7e419 147.5px,#4ec36b 149.5px,#21a685 151.0px,#2db27d 157.0px,#a2da37 157.8px,#8ed645 160.3px)"></i><i style="background:linear-gradient(#1f958b 0.0px,#23898e 4.4px,#1f9a8a 7.8px,#20928c 11.4px,#238a8d 14.8px,#20928c 19.5px,#1f948c 23.7px,#27ad81 27.9px,#21a585 31.3px,#1fa187 35.9px,#21a685 39.8px,#29af7f 44.5px,#29af7f 48.7px,#2eb37c 53.8px,#75d054 57.1px,#67cc5c 62.1px,#54c568 65.3px,#56c667 70.1px,#24aa83 74.5px,#26ad81 79.3px,#31b57b 82.9px,#25ac82 86.6px,#4cc26c 92.4px,#93d741 96.8px,#95d840 99.9px,#65cb5e 105.6px,#52c569 109.3px,#31b57b 113.5px,#48c16e 117.2px,#48c16e 122.5px,#38b977 125.4px,#34b679 129.6px,#40bd72 132.5px,#8ed645 136.5px,#a5db36 140.1px,#9bd93c 144.8px,#93d741 147.5px,#22a785 149.5px,#20a386 151.0px,#1f948c 157.0px,#56c667 157.8px,#58c765 160.3px)"></i><i style="background:linear-gradient(#26818e 0.0px,#2a778e 3.2px,#2b758e 7.9px,#31688e 12.1px,#2d718e 15.1px,#277e8e 19.5px,#277f8e 24.5px,#20928c 28.0px,#20a486 31.2px,#29af7f 35.8px,#27ad81 40.4px,#1fa187 44.5px,#21a685 48.2px,#2ab07f 52.6px,#20a486 58.0px,#20a386 62.2px,#25ac82 65.5px,#32b67a 70.4px,#50c46a 74.5px,#4ec36b 78.0px,#4ec36b 82.9px,#3fbc73 88.3px,#48c16e 91.6px,#6ccd5a 96.1px,#3dbc74 100.3px,#3fbc73 104.9px,#3bbb75 108.7px,#65cb5e 113.4px,#60ca60 117.4px,#5ac864 122.5px,#5ac864 126.5px,#54c568 130.0px,#67cc5c 132.5px,#7fd34e 136.5px,#6ece58 139.6px,#5cc863 143.9px,#84d44b 147.5px,#2cb17e 149.5px,#1f9f88 151.0px,#1f9a8a 157.0px,#65cb5e 157.8px,#63cb5f 160.3px)"></i><i style="background:linear-gradient(#31688e 0.0px,#2e6e8e 3.8px,#2c738e 7.8px,#228c8d 12.7px,#21a585 15.9px,#23a983 19.5px,#1f978b 24.4px,#1fa088 28.1px,#23a983 31.3px,#44bf70 37.0px,#37b878 40.3px,#4cc26c 44.5px,#2db27d 49.7px,#42be71 53.1px,#23a983 58.0px,#2ab07f 61.8px,#2cb17e 65.1px,#44bf70 69.8px,#4cc26c 74.5px,#6ccd5a 78.3px,#4ac16d 82.8px,#2eb37c 88.2px,#32b67a 92.7px,#2cb17e 96.0px,#28ae80 100.8px,#25ab82 104.4px,#32b67a 110.0px,#25ac82 113.0px,#31b57b 118.9px,#23a983 122.5px,#1fa187 125.5px,#26ad81 128.9px,#26ad81 132.5px,#73d056 136.5px,#89d548 139.6px,#7cd250 143.9px,#cae11f 147.5px,#44bf70 149.5px,#25ac82 151.0px,#1f9a8a 157.0px,#63cb5f 157.8px,#3aba76 160.3px)"></i><i style="background:linear-gradient(#26828e 0.0px,#297b8e 3.6px,#26828e 7.4px,#228b8d 10.9px,#297a8e 15.4px,#277f8e 19.5px,#21918c 23.9px,#1f978b 28.6px,#26ad81 32.1px,#1e9b8a 35.5px,#29af7f 39.5px,#5cc863 44.5px,#63cb5f 48.6px,#70cf57 52.1px,#6ece58 57.3px,#5cc863 61.5px,#67cc5c 65.2px,#5ec962 70.0px,#6ccd5a 74.5px,#7ad151 79.1px,#42be71 82.9px,#1f978b 88.5px,#29af7f 91.8px,#35b779 96.4px,#24aa83 100.0px,#26ad81 105.2px,#3fbc73 110.1px,#31b57b 114.0px,#26ad81 118.0px,#27ad81 122.5px,#2cb17e 126.8px,#25ac82 128.9px,#4ac16d 132.5px,#60ca60 136.5px,#70cf57 139.2px,#90d743 144.4px,#cae11f 147.5px,#54c568 149.5px,#28ae80 151.0px,#1fa287 157.0px,#77d153 157.8px,#6ccd5a 160.3px)"></i><i style="background:linear-gradient(#297b8e 0.0px,#2e6f8e 3.7px,#32658e 7.0px,#2c738e 12.5px,#2c718e 16.0px,#2d718e 19.5px,#277e8e 24.3px,#1e9b8a 27.1px,#3bbb75 32.3px,#37b878 36.7px,#32b67a 40.7px,#2cb17e 44.5px,#2cb17e 48.6px,#3bbb75 53.8px,#3dbc74 56.5px,#46c06f 61.6px,#35b779 66.3px,#34b679 70.0px,#28ae80 74.5px,#31b57b 79.8px,#37b878 82.8px,#27ad81 87.0px,#20a386 91.4px,#3aba76 97.2px,#42be71 100.9px,#37b878 104.8px,#38b977 109.5px,#28ae80 114.2px,#1f9f88 118.6px,#21918c 122.5px,#21908d 125.7px,#2fb47c 129.0px,#37b878 132.5px,#37b878 136.5px,#52c569 140.6px,#48c16e 143.8px,#86d549 147.5px,#34b679 149.5px,#20a386 151.0px,#24aa83 157.0px,#8bd646 157.8px,#70cf57 160.3px)"></i><i style="background:linear-gradient(#297b8e 0.0px,#23898e 3.4px,#2f6c8e 8.0px,#2a778e 12.6px,#2b758e 15.9px,#2b758e 19.5px,#2e6d8e 24.4px,#23888e 28.7px,#1f9e89 32.0px,#26ad81 36.0px,#42be71 41.1px,#27ad81 44.5px,#3bbb75 48.2px,#3aba76 52.3px,#3fbc73 56.8px,#7cd250 62.5px,#6ccd5a 65.4px,#40bd72 69.7px,#3bbb75 74.5px,#3fbc73 79.4px,#3dbc74 84.2px,#37b878 86.9px,#3bbb75 91.2px,#21a585 96.3px,#1f9e89 99.8px,#1f968b 105.7px,#1fa188 110.4px,#1f978b 113.8px,#20938c 118.4px,#26818e 122.5px,#238a8d 124.9px,#25858e 130.1px,#1fa187 132.5px,#54c568 136.5px,#60ca60 140.7px,#42be71 144.0px,#70cf57 147.5px,#25ac82 149.5px,#1fa187 151.0px,#1fa088 157.0px,#70cf57 157.8px,#6ccd5a 160.3px)"></i><i style="background:linear-gradient(#287d8e 0.0px,#2a768e 3.5px,#31688e 8.8px,#2f6c8e 11.1px,#2f6c8e 15.5px,#23898e 19.5px,#27808e 23.9px,#25858e 27.3px,#1fa287 33.0px,#1f9e89 36.5px,#31b57b 39.9px,#28ae80 44.5px,#22a884 47.9px,#22a785 53.9px,#2eb37c 56.4px,#44bf70 60.7px,#81d34d 66.1px,#8ed645 69.4px,#46c06f 74.5px,#32b67a 79.1px,#40bd72 83.3px,#52c569 87.6px,#44bf70 92.0px,#21a685 95.9px,#1fa187 101.6px,#1f958b 105.2px,#22a884 109.4px,#24aa83 114.0px,#297a8e 118.6px,#26828e 122.5px,#228d8d 126.0px,#20928c 129.4px,#1e9b8a 132.5px,#69cd5b 136.5px,#6ccd5a 139.6px,#67cc5c 142.9px,#73d056 147.5px,#32b67a 149.5px,#2eb37c 151.0px,#25ab82 157.0px,#8ed645 157.8px,#7ad151 160.3px)"></i><i style="background:linear-gradient(#2c738e 0.0px,#31688e 4.9px,#2e6e8e 7.3px,#306a8e 11.0px,#2c738e 16.1px,#277f8e 19.5px,#1f968b 24.6px,#27ad81 28.8px,#2ab07f 31.7px,#3aba76 36.2px,#2fb47c 40.2px,#2db27d 44.5px,#21a685 48.5px,#31b57b 53.2px,#32b67a 57.6px,#48c16e 62.5px,#2ab07f 65.7px,#32b67a 69.4px,#40bd72 74.5px,#35b779 78.1px,#2fb47c 82.9px,#40bd72 87.8px,#42be71 91.4px,#3bbb75 95.9px,#7cd250 101.5px,#69cd5b 104.1px,#42be71 110.1px,#38b977 112.9px,#1f988b 119.1px,#1f9a8a 122.5px,#25838e 126.0px,#21908d 129.3px,#23a983 132.5px,#54c568 136.5px,#81d34d 139.9px,#75d054 143.6px,#9dd93b 147.5px,#37b878 149.5px,#21a585 151.0px,#1fa187 157.0px,#75d054 157.8px,#5cc863 160.3px)"></i><i style="background:linear-gradient(#3d4e8a 0.0px,#375a8c 4.5px,#277e8e 8.4px,#2e6f8e 12.6px,#2c718e 14.8px,#2f6b8e 19.5px,#25848e 23.7px,#21908d 28.5px,#1e9c89 32.7px,#1f978b 36.6px,#1f988b 40.8px,#25ab82 44.5px,#38b977 47.8px,#5ac864 52.2px,#26ad81 57.5px,#34b679 61.2px,#1fa187 65.0px,#2cb17e 70.0px,#44bf70 74.5px,#22a785 78.3px,#21a685 82.5px,#2db27d 87.8px,#26ad81 92.2px,#1f998a 96.0px,#2cb17e 101.5px,#22a884 104.3px,#44bf70 110.2px,#34b679 114.8px,#24aa83 118.2px,#27ad81 122.5px,#3aba76 125.1px,#2eb37c 130.1px,#3aba76 132.5px,#81d34d 136.5px,#90d743 140.7px,#8bd646 144.8px,#a2da37 147.5px,#29af7f 149.5px,#1f9f88 151.0px,#1f988b 157.0px,#5ec962 157.8px,#3bbb75 160.3px)"></i><i style="background:linear-gradient(#2e6e8e 0.0px,#2d718e 3.5px,#23a983 8.6px,#1fa188 12.7px,#1fa188 15.4px,#1fa187 19.5px,#21a585 23.2px,#22a884 28.7px,#2ab07f 31.3px,#1fa287 36.2px,#1f958b 40.9px,#44bf70 44.5px,#48c16e 48.8px,#7cd250 52.9px,#2fb47c 56.8px,#34b679 62.5px,#22a785 66.8px,#20a386 70.1px,#38b977 74.5px,#4cc26c 79.3px,#3fbc73 83.6px,#3dbc74 87.9px,#46c06f 92.7px,#48c16e 97.1px,#34b679 100.7px,#31b57b 104.9px,#7fd34e 109.3px,#2cb17e 114.4px,#21a685 117.3px,#37b878 122.5px,#56c667 126.2px,#4ac16d 128.6px,#28ae80 132.5px,#70cf57 136.5px,#73d056 139.5px,#6ece58 143.2px,#9bd93c 147.5px,#23a983 149.5px,#1f998a 151.0px,#228d8d 157.0px,#46c06f 157.8px,#4cc26c 160.3px)"></i><i style="background:linear-gradient(#218f8d 0.0px,#1f978b 4.7px,#26828e 8.6px,#218f8d 12.4px,#1fa188 15.6px,#218f8d 19.5px,#1e9c89 24.1px,#1fa188 27.6px,#20a386 32.9px,#218e8d 35.4px,#218e8d 40.1px,#20a486 44.5px,#50c46a 48.5px,#67cc5c 53.1px,#32b67a 58.0px,#3bbb75 62.3px,#2eb37c 65.9px,#25ab82 70.1px,#46c06f 74.5px,#52c569 78.7px,#50c46a 82.4px,#3aba76 88.0px,#3dbc74 92.0px,#5ac864 97.1px,#5cc863 101.4px,#63cb5f 105.7px,#58c765 110.0px,#3aba76 114.6px,#2ab07f 118.7px,#58c765 122.5px,#67cc5c 126.0px,#37b878 128.3px,#3aba76 132.5px,#50c46a 136.5px,#6ece58 140.9px,#95d840 144.4px,#b0dd2f 147.5px,#3bbb75 149.5px,#23a983 151.0px,#21a685 157.0px,#81d34d 157.8px,#9bd93c 160.3px)"></i><i style="background:linear-gradient(#21918c 0.0px,#25838e 3.8px,#228c8d 8.2px,#218f8d 10.8px,#23898e 15.1px,#20a386 19.5px,#1e9c89 24.3px,#23a983 28.4px,#228b8d 32.3px,#26828e 36.2px,#23898e 39.4px,#25ac82 44.5px,#77d153 48.1px,#2fb47c 53.9px,#27ad81 56.6px,#46c06f 61.8px,#31b57b 66.7px,#46c06f 70.9px,#73d056 74.5px,#77d153 79.4px,#5cc863 82.3px,#3bbb75 88.1px,#31b57b 92.9px,#70cf57 95.7px,#77d153 100.1px,#23a983 105.8px,#58c765 108.8px,#37b878 113.5px,#2eb37c 117.3px,#3bbb75 122.5px,#38b977 125.0px,#2eb37c 129.7px,#2ab07f 132.5px,#60ca60 136.5px,#42be71 140.6px,#58c765 143.3px,#5cc863 147.5px,#1fa088 149.5px,#20928c 151.0px,#1f978b 157.0px,#5cc863 157.8px,#90d743 160.3px)"></i><i style="background:linear-gradient(#2c728e 0.0px,#228c8d 3.8px,#1f988b 7.6px,#25ac82 11.6px,#24aa83 15.2px,#38b977 19.5px,#29af7f 24.3px,#22a785 27.2px,#1fa188 31.6px,#1fa188 36.6px,#1f998a 41.1px,#28ae80 44.5px,#5cc863 48.8px,#5ac864 52.8px,#54c568 57.8px,#3fbc73 62.4px,#54c568 65.9px,#63cb5f 70.5px,#6ece58 74.5px,#56c667 78.7px,#69cd5b 83.5px,#52c569 88.3px,#46c06f 91.4px,#4cc26c 96.4px,#34b679 99.8px,#24aa83 105.5px,#28ae80 109.7px,#24aa83 114.1px,#1e9b8a 117.5px,#26828e 122.5px,#1f958b 126.6px,#1fa287 129.4px,#22a884 132.5px,#5ec962 136.5px,#56c667 140.4px,#69cd5b 143.7px,#84d44b 147.5px,#24aa83 149.5px,#20928c 151.0px,#24878e 157.0px,#3bbb75 157.8px,#42be71 160.3px)"></i><i style="background:linear-gradient(#26818e 0.0px,#21908d 4.8px,#26828e 7.7px,#1fa287 11.6px,#35b779 16.2px,#38b977 19.5px,#25ab82 23.1px,#2db27d 27.0px,#2db27d 31.5px,#5cc863 37.0px,#50c46a 40.0px,#86d549 44.5px,#b8de29 49.1px,#a8db34 53.1px,#e2e418 57.1px,#d2e21b 61.5px,#81d34d 66.3px,#65cb5e 69.4px,#4ec36b 74.5px,#25ab82 79.3px,#48c16e 83.2px,#86d549 88.5px,#65cb5e 91.5px,#73d056 96.0px,#75d054 100.4px,#84d44b 104.2px,#38b977 109.8px,#6ccd5a 113.0px,#34b679 118.8px,#48c16e 122.5px,#89d548 126.0px,#90d743 128.7px,#75d054 132.5px,#b2dd2d 136.5px,#addc30 139.8px,#d8e219 144.4px,#c2df23 147.5px,#37b878 149.5px,#21a685 151.0px,#20938c 157.0px,#54c568 157.8px,#4ec36b 160.3px)"></i><i style="background:linear-gradient(#31678e 0.0px,#297b8e 4.4px,#277f8e 6.8px,#1f958b 11.1px,#21918c 16.4px,#287c8e 19.5px,#26828e 23.1px,#218f8d 27.2px,#1f948c 32.1px,#46c06f 37.1px,#54c568 40.5px,#7ad151 44.5px,#63cb5f 48.8px,#93d741 52.9px,#9dd93b 57.6px,#60ca60 61.0px,#3aba76 65.8px,#21a585 71.1px,#1fa088 74.5px,#2db27d 78.4px,#27ad81 84.1px,#34b679 87.5px,#23a983 92.6px,#3fbc73 96.7px,#22a884 100.1px,#44bf70 105.8px,#22a785 110.0px,#5ac864 113.3px,#27ad81 118.0px,#3dbc74 122.5px,#4ac16d 126.4px,#a0da39 129.2px,#73d056 132.5px,#c5e021 136.5px,#81d34d 139.8px,#73d056 143.6px,#90d743 147.5px,#28ae80 149.5px,#1f998a 151.0px,#24868e 157.0px,#3aba76 157.8px,#3aba76 160.3px)"></i><i style="background:linear-gradient(#423f85 0.0px,#365d8d 3.8px,#2a778e 8.2px,#277e8e 11.0px,#23898e 15.8px,#2f6b8e 19.5px,#26828e 24.1px,#238a8d 28.8px,#20928c 32.1px,#24aa83 37.1px,#1f9e89 40.8px,#29af7f 44.5px,#4ac16d 48.6px,#60ca60 53.0px,#44bf70 57.3px,#1f988b 62.2px,#1e9c89 66.3px,#1f9a8a 69.8px,#20938c 74.5px,#24aa83 78.2px,#37b878 82.8px,#1fa188 88.2px,#1f988b 92.0px,#25848e 96.7px,#2a768e 100.5px,#29af7f 104.2px,#1fa188 109.0px,#20a486 113.6px,#1f998a 117.7px,#228c8d 122.5px,#25ab82 126.6px,#3dbc74 130.1px,#40bd72 132.5px,#7fd34e 136.5px,#5cc863 140.7px,#5cc863 144.0px,#54c568 147.5px,#1f988b 149.5px,#25838e 151.0px,#297a8e 157.0px,#28ae80 157.8px,#31b57b 160.3px)"></i><i style="background:linear-gradient(#3a538b 0.0px,#34618d 4.0px,#355e8d 8.2px,#31688e 12.2px,#218e8d 15.4px,#1f958b 19.5px,#1f9f88 23.1px,#20a486 28.6px,#21918c 31.0px,#23898e 35.7px,#21918c 39.5px,#28ae80 44.5px,#28ae80 49.5px,#38b977 52.7px,#29af7f 56.6px,#228d8d 62.2px,#23898e 65.6px,#1fa188 69.4px,#3dbc74 74.5px,#44bf70 78.0px,#56c667 83.5px,#54c568 87.3px,#1fa188 91.4px,#2cb17e 96.0px,#22a785 100.4px,#5ac864 105.4px,#3dbc74 108.6px,#21a685 113.1px,#34b679 117.4px,#31b57b 122.5px,#89d548 126.0px,#7cd250 130.0px,#52c569 132.5px,#77d153 136.5px,#9bd93c 140.8px,#90d743 144.4px,#8bd646 147.5px,#26ad81 149.5px,#20938c 151.0px,#26828e 157.0px,#34b679 157.8px,#42be71 160.3px)"></i><i style="background:linear-gradient(#277e8e 0.0px,#228b8d 4.8px,#25838e 8.5px,#1f978b 11.9px,#21a685 15.9px,#2ab07f 19.5px,#2fb47c 23.3px,#3aba76 28.4px,#27ad81 32.6px,#38b977 35.2px,#2fb47c 41.1px,#40bd72 44.5px,#46c06f 49.5px,#3dbc74 53.5px,#4cc26c 58.0px,#5cc863 61.0px,#48c16e 65.8px,#44bf70 69.7px,#5cc863 74.5px,#77d153 79.3px,#89d548 82.9px,#9bd93c 87.0px,#7fd34e 92.7px,#7fd34e 96.1px,#63cb5f 101.3px,#5ac864 105.1px,#60ca60 110.2px,#3fbc73 114.4px,#4cc26c 119.0px,#35b779 122.5px,#42be71 126.6px,#60ca60 128.8px,#3aba76 132.5px,#a2da37 136.5px,#8bd646 140.0px,#cde11d 144.4px,#dde318 147.5px,#3fbc73 149.5px,#21a585 151.0px,#23898e 157.0px,#40bd72 157.8px,#54c568 160.3px)"></i><i style="background:linear-gradient(#228b8d 0.0px,#20928c 3.0px,#24878e 7.5px,#1f9a8a 10.7px,#1e9c89 15.5px,#1f998a 19.5px,#20938c 22.7px,#1e9b8a 27.3px,#4ac16d 31.4px,#29af7f 37.0px,#22a884 40.3px,#2fb47c 44.5px,#37b878 48.1px,#65cb5e 53.8px,#60ca60 57.7px,#23a983 61.0px,#44bf70 66.7px,#8bd646 70.2px,#69cd5b 74.5px,#5cc863 78.5px,#65cb5e 82.5px,#56c667 87.0px,#77d153 92.0px,#67cc5c 96.5px,#48c16e 100.4px,#84d44b 104.5px,#40bd72 108.7px,#3dbc74 114.0px,#3dbc74 117.7px,#1f9e89 122.5px,#1f988b 125.2px,#20a386 129.9px,#1fa287 132.5px,#84d44b 136.5px,#98d83e 140.7px,#b0dd2f 144.0px,#e2e418 147.5px,#50c46a 149.5px,#2eb37c 151.0px,#1fa088 157.0px,#70cf57 157.8px,#67cc5c 160.3px)"></i><i style="background:linear-gradient(#1fa088 0.0px,#28ae80 3.8px,#1f968b 7.4px,#228c8d 11.5px,#218e8d 14.7px,#25858e 19.5px,#29798e 23.9px,#1f9f88 28.7px,#2fb47c 31.6px,#27ad81 35.7px,#25ac82 39.8px,#4ac16d 44.5px,#22a785 48.0px,#22a884 53.3px,#22a884 57.6px,#1e9c89 60.7px,#2db27d 66.6px,#4cc26c 70.9px,#3fbc73 74.5px,#37b878 78.4px,#38b977 83.9px,#56c667 88.4px,#69cd5b 92.7px,#69cd5b 96.1px,#46c06f 100.4px,#21a685 104.5px,#25848e 109.9px,#218f8d 114.4px,#1e9c89 117.4px,#1e9d89 122.5px,#2db27d 125.5px,#2ab07f 128.5px,#20a386 132.5px,#98d83e 136.5px,#9dd93b 140.8px,#75d054 144.7px,#98d83e 147.5px,#3bbb75 149.5px,#27ad81 151.0px,#24aa83 157.0px,#8ed645 157.8px,#98d83e 160.3px)"></i><i style="background:linear-gradient(#228b8d 0.0px,#27808e 4.1px,#23888e 7.7px,#218f8d 11.4px,#1f948c 15.5px,#1f948c 19.5px,#2db27d 23.7px,#26ad81 27.3px,#2fb47c 31.2px,#40bd72 37.0px,#50c46a 39.9px,#3bbb75 44.5px,#35b779 48.0px,#52c569 53.8px,#58c765 57.9px,#28ae80 61.5px,#31b57b 66.4px,#29af7f 70.3px,#32b67a 74.5px,#27ad81 78.4px,#1f9e89 83.9px,#26ad81 86.8px,#77d153 92.2px,#6ece58 95.5px,#22a884 101.3px,#1e9b8a 104.3px,#218e8d 109.0px,#26828e 114.5px,#1f948c 117.7px,#218f8d 122.5px,#1f9e89 124.9px,#25ab82 128.8px,#21a585 132.5px,#9bd93c 136.5px,#a0da39 140.5px,#95d840 143.4px,#aadc32 147.5px,#46c06f 149.5px,#32b67a 151.0px,#2eb37c 157.0px,#a8db34 157.8px,#7ad151 160.3px)"></i><i style="background:linear-gradient(#2e6e8e 0.0px,#2a788e 3.1px,#26828e 6.8px,#277e8e 12.1px,#20928c 15.7px,#238a8d 19.5px,#228c8d 23.7px,#1f988b 27.9px,#1f948c 31.9px,#1fa187 36.5px,#26ad81 40.1px,#22a884 44.5px,#40bd72 48.7px,#32b67a 52.9px,#38b977 56.7px,#20a386 61.1px,#31b57b 65.5px,#20a386 70.7px,#1e9d89 74.5px,#21918c 79.8px,#228c8d 83.1px,#21a685 86.6px,#31b57b 92.5px,#44bf70 95.3px,#29af7f 100.8px,#26ad81 104.7px,#20a486 109.9px,#1e9b8a 113.2px,#2fb47c 117.4px,#2fb47c 122.5px,#34b679 125.2px,#42be71 128.7px,#26ad81 132.5px,#77d153 136.5px,#9dd93b 139.5px,#9bd93c 144.7px,#addc30 147.5px,#3fbc73 149.5px,#1fa287 151.0px,#1f958b 157.0px,#5ac864 157.8px,#60ca60 160.3px)"></i><i style="background:linear-gradient(#23898e 0.0px,#24868e 3.6px,#277f8e 8.3px,#23888e 11.6px,#25858e 15.0px,#2c718e 19.5px,#29798e 24.1px,#1f968b 28.5px,#1f998a 31.9px,#2db27d 36.1px,#58c765 40.0px,#29af7f 44.5px,#54c568 48.9px,#3fbc73 53.6px,#3fbc73 56.8px,#2cb17e 62.0px,#65cb5e 65.3px,#20a486 70.0px,#2fb47c 74.5px,#1fa287 78.1px,#26ad81 84.1px,#25ac82 88.4px,#2ab07f 92.2px,#34b679 95.5px,#22a884 101.0px,#1f9a8a 105.6px,#1fa188 109.6px,#21a585 113.5px,#21a685 119.0px,#2cb17e 122.5px,#20a486 125.4px,#3fbc73 128.3px,#1e9c89 132.5px,#7cd250 136.5px,#73d056 139.8px,#81d34d 143.1px,#addc30 147.5px,#22a884 149.5px,#1f948c 151.0px,#1f978b 157.0px,#5cc863 157.8px,#7ad151 160.3px)"></i><i style="background:linear-gradient(#1f9a8a 0.0px,#1fa188 3.1px,#1e9b8a 6.9px,#1f958b 10.8px,#1f9a8a 16.5px,#1f9f88 19.5px,#1e9d89 23.1px,#25ab82 27.1px,#63cb5f 31.3px,#54c568 37.1px,#2ab07f 41.0px,#46c06f 44.5px,#73d056 49.0px,#90d743 53.4px,#8bd646 57.3px,#d5e21a 61.2px,#7cd250 66.4px,#63cb5f 69.7px,#5ec962 74.5px,#40bd72 79.3px,#35b779 83.7px,#4ac16d 87.2px,#44bf70 92.2px,#52c569 96.5px,#46c06f 100.9px,#38b977 105.6px,#5ac864 110.2px,#70cf57 113.6px,#77d153 118.2px,#56c667 122.5px,#3dbc74 125.4px,#22a785 128.7px,#20a486 132.5px,#75d054 136.5px,#addc30 140.9px,#b8de29 143.4px,#d2e21b 147.5px,#3aba76 149.5px,#1fa088 151.0px,#1f9e89 157.0px,#6ccd5a 157.8px,#77d153 160.3px)"></i><i style="background:linear-gradient(#2b758e 0.0px,#29798e 3.3px,#1f948c 7.9px,#1f958b 12.5px,#23888e 14.8px,#1f9e89 19.5px,#1e9d89 24.3px,#2cb17e 28.0px,#21a585 32.7px,#32b67a 37.1px,#46c06f 40.9px,#4ac16d 44.5px,#69cd5b 48.0px,#75d054 53.1px,#56c667 57.2px,#77d153 62.4px,#44bf70 65.7px,#35b779 69.9px,#4cc26c 74.5px,#48c16e 79.3px,#6ece58 82.7px,#2db27d 87.2px,#2db27d 91.4px,#58c765 97.2px,#2ab07f 100.5px,#1fa287 104.7px,#28ae80 108.5px,#4cc26c 114.2px,#54c568 117.5px,#3dbc74 122.5px,#27ad81 125.6px,#4ec36b 128.8px,#21a585 132.5px,#63cb5f 136.5px,#69cd5b 141.0px,#7ad151 144.4px,#84d44b 147.5px,#2ab07f 149.5px,#20a386 151.0px,#1e9d89 157.0px,#69cd5b 157.8px,#52c569 160.3px)"></i><i style="background:linear-gradient(#3d4d8a 0.0px,#375b8d 4.0px,#23888e 7.9px,#31668e 12.5px,#2d708e 15.1px,#20928c 19.5px,#1f978b 24.6px,#1fa088 28.4px,#27ad81 32.1px,#20a486 36.3px,#24aa83 41.3px,#48c16e 44.5px,#5ec962 48.5px,#46c06f 52.9px,#67cc5c 57.4px,#93d741 62.4px,#65cb5e 66.2px,#3aba76 69.7px,#42be71 74.5px,#2fb47c 78.3px,#54c568 84.2px,#56c667 87.1px,#27ad81 92.9px,#25ab82 97.1px,#25ab82 101.4px,#22a884 105.3px,#4cc26c 109.2px,#5cc863 113.0px,#7cd250 118.4px,#8ed645 122.5px,#69cd5b 125.2px,#48c16e 128.4px,#3aba76 132.5px,#67cc5c 136.5px,#60ca60 139.9px,#60ca60 143.7px,#7ad151 147.5px,#24aa83 149.5px,#23888e 151.0px,#277f8e 157.0px,#2eb37c 157.8px,#2db27d 160.3px)"></i><i style="background:linear-gradient(#2c728e 0.0px,#26828e 4.8px,#218e8d 8.3px,#2c738e 11.9px,#33638d 15.8px,#297b8e 19.5px,#277f8e 23.6px,#26828e 27.7px,#27ad81 32.8px,#29af7f 35.4px,#2cb17e 41.1px,#77d153 44.5px,#5cc863 48.6px,#86d549 52.1px,#86d549 57.7px,#81d34d 60.9px,#81d34d 65.7px,#46c06f 70.4px,#4cc26c 74.5px,#52c569 78.7px,#38b977 82.6px,#44bf70 87.6px,#31b57b 91.9px,#1f9e89 97.3px,#21a685 100.2px,#3fbc73 104.5px,#3aba76 109.9px,#3bbb75 114.5px,#42be71 117.6px,#46c06f 122.5px,#31b57b 125.2px,#25ac82 128.9px,#22a785 132.5px,#70cf57 136.5px,#77d153 140.2px,#52c569 143.2px,#89d548 147.5px,#24aa83 149.5px,#21908d 151.0px,#218f8d 157.0px,#4ac16d 157.8px,#54c568 160.3px)"></i><i style="background:linear-gradient(#2a788e 0.0px,#1fa088 4.3px,#25ab82 8.5px,#238a8d 12.1px,#2d708e 16.6px,#25838e 19.5px,#228d8d 23.6px,#26828e 27.2px,#2ab07f 33.0px,#20a486 35.5px,#29af7f 39.9px,#1e9c89 44.5px,#3bbb75 48.6px,#60ca60 52.8px,#58c765 56.8px,#4ac16d 61.0px,#34b679 66.8px,#2db27d 69.7px,#2db27d 74.5px,#28ae80 79.2px,#3fbc73 82.4px,#60ca60 87.3px,#26ad81 92.7px,#32b67a 96.8px,#44bf70 99.9px,#22a884 105.4px,#1e9d89 109.0px,#21918c 114.0px,#21a685 117.3px,#21a685 122.5px,#1fa088 125.7px,#2eb37c 129.6px,#28ae80 132.5px,#67cc5c 136.5px,#6ece58 139.5px,#7fd34e 143.5px,#98d83e 147.5px,#2cb17e 149.5px,#1fa088 151.0px,#1fa088 157.0px,#70cf57 157.8px,#5cc863 160.3px)"></i><i style="background:linear-gradient(#34618d 0.0px,#33638d 4.3px,#365d8d 8.0px,#2c718e 11.5px,#2e6d8e 16.1px,#2e6d8e 19.5px,#2c728e 23.2px,#297a8e 28.1px,#1f9a8a 31.7px,#25ac82 36.1px,#27ad81 40.1px,#42be71 44.5px,#42be71 48.2px,#40bd72 52.5px,#2db27d 58.2px,#26ad81 60.7px,#20a386 65.4px,#20a386 69.3px,#34b679 74.5px,#1fa187 78.4px,#28ae80 84.1px,#42be71 88.3px,#2db27d 92.6px,#2eb37c 96.7px,#29af7f 100.6px,#1f988b 105.7px,#1fa287 109.5px,#21a685 113.7px,#3aba76 117.3px,#2ab07f 122.5px,#2fb47c 125.8px,#28ae80 128.9px,#2eb37c 132.5px,#38b977 136.5px,#44bf70 139.8px,#7cd250 144.1px,#93d741 147.5px,#35b779 149.5px,#23a983 151.0px,#1e9d89 157.0px,#6ccd5a 157.8px,#58c765 160.3px)"></i><i style="background:linear-gradient(#24868e 0.0px,#2c728e 4.7px,#32658e 8.0px,#2c728e 11.4px,#2e6e8e 15.7px,#20938c 19.5px,#1e9c89 22.8px,#2cb17e 27.1px,#56c667 32.1px,#89d548 35.8px,#69cd5b 39.6px,#3dbc74 44.5px,#4ec36b 48.2px,#4cc26c 54.0px,#42be71 56.4px,#54c568 60.8px,#1fa287 66.6px,#2eb37c 70.7px,#54c568 74.5px,#2fb47c 78.7px,#50c46a 82.3px,#54c568 87.3px,#3dbc74 92.1px,#34b679 95.5px,#5ec962 99.7px,#37b878 104.0px,#3aba76 109.6px,#31b57b 113.3px,#2cb17e 117.2px,#26ad81 122.5px,#20a486 125.6px,#1f968b 129.4px,#34b679 132.5px,#6ccd5a 136.5px,#65cb5e 140.1px,#a5db36 144.0px,#98d83e 147.5px,#23a983 149.5px,#20928c 151.0px,#1f9f88 157.0px,#6ece58 157.8px,#6ece58 160.3px)"></i><i style="background:linear-gradient(#20928c 0.0px,#26818e 3.0px,#2a768e 7.9px,#31668e 10.9px,#3d4e8a 16.2px,#32658e 19.5px,#24868e 24.5px,#1f988b 27.1px,#25ab82 32.9px,#48c16e 35.9px,#2ab07f 41.1px,#34b679 44.5px,#35b779 49.5px,#1f998a 53.5px,#22a785 57.2px,#3bbb75 62.1px,#4ac16d 65.2px,#56c667 69.6px,#28ae80 74.5px,#20938c 79.6px,#1f998a 83.4px,#1fa188 88.2px,#1fa188 91.0px,#24aa83 96.9px,#21a585 101.5px,#27ad81 106.0px,#5cc863 109.7px,#44bf70 113.6px,#1e9c89 117.3px,#1fa088 122.5px,#21a685 125.2px,#1f958b 128.4px,#25ab82 132.5px,#7ad151 136.5px,#70cf57 139.8px,#7ad151 144.7px,#89d548 147.5px,#22a884 149.5px,#218f8d 151.0px,#20a386 157.0px,#7cd250 157.8px,#9dd93b 160.3px)"></i><i style="background:linear-gradient(#2b758e 0.0px,#26828e 4.6px,#21908d 7.8px,#277f8e 11.3px,#2e6d8e 16.2px,#2d708e 19.5px,#297b8e 22.8px,#25858e 28.4px,#1f958b 31.4px,#2a778e 35.4px,#228d8d 40.0px,#20a486 44.5px,#1e9b8a 48.5px,#20938c 53.8px,#24aa83 56.8px,#aadc32 62.5px,#56c667 66.7px,#21a685 71.0px,#20928c 74.5px,#1f998a 78.1px,#21918c 83.5px,#1f968b 87.9px,#2fb47c 92.0px,#3bbb75 95.8px,#3dbc74 99.7px,#3bbb75 105.4px,#44bf70 109.9px,#2eb37c 113.8px,#29af7f 118.2px,#21a585 122.5px,#26ad81 126.6px,#1fa187 129.2px,#2db27d 132.5px,#65cb5e 136.5px,#8ed645 140.0px,#7cd250 143.6px,#81d34d 147.5px,#23a983 149.5px,#20928c 151.0px,#1f988b 157.0px,#5ec962 157.8px,#6ece58 160.3px)"></i><i style="background:linear-gradient(#306a8e 0.0px,#297a8e 4.7px,#25858e 8.4px,#287c8e 11.7px,#2a778e 15.9px,#20938c 19.5px,#1e9d89 23.7px,#27ad81 28.7px,#2db27d 31.8px,#20938c 35.7px,#2e6f8e 41.2px,#2c738e 44.5px,#277e8e 48.9px,#1fa088 53.2px,#21a585 56.6px,#67cc5c 62.4px,#50c46a 65.0px,#2fb47c 69.9px,#1f968b 74.5px,#31b57b 79.0px,#27ad81 82.6px,#34b679 87.3px,#54c568 92.8px,#75d054 97.2px,#6ece58 99.9px,#a5db36 105.3px,#5cc863 109.7px,#4ac16d 113.5px,#3dbc74 119.0px,#25ac82 122.5px,#28ae80 126.0px,#2ab07f 129.6px,#46c06f 132.5px,#58c765 136.5px,#5ac864 140.5px,#69cd5b 144.5px,#63cb5f 147.5px,#20a386 149.5px,#20938c 151.0px,#1f978b 157.0px,#5cc863 157.8px,#5cc863 160.3px)"></i><i style="background:linear-gradient(#365d8d 0.0px,#2e6d8e 3.8px,#2b758e 6.8px,#218f8d 10.7px,#218f8d 14.8px,#1fa188 19.5px,#38b977 24.2px,#3fbc73 26.9px,#37b878 32.3px,#25ac82 35.3px,#1fa188 41.3px,#1fa187 44.5px,#20a486 47.9px,#21a685 52.7px,#4ec36b 57.0px,#9bd93c 62.3px,#9bd93c 65.4px,#63cb5f 70.6px,#42be71 74.5px,#46c06f 79.1px,#4ec36b 84.2px,#6ccd5a 87.4px,#54c568 91.8px,#56c667 96.9px,#7ad151 99.9px,#5ac864 105.6px,#22a884 109.5px,#22a884 114.5px,#20938c 118.2px,#218e8d 122.5px,#21a685 125.4px,#23a983 129.1px,#27ad81 132.5px,#6ccd5a 136.5px,#73d056 140.7px,#63cb5f 144.2px,#81d34d 147.5px,#23a983 149.5px,#1f958b 151.0px,#228b8d 157.0px,#44bf70 157.8px,#32b67a 160.3px)"></i><i style="background:linear-gradient(#355f8d 0.0px,#2f6b8e 3.7px,#2d708e 7.2px,#2a768e 11.8px,#24868e 14.8px,#27808e 19.5px,#1f9f88 23.9px,#26ad81 27.8px,#2fb47c 32.0px,#23a983 35.4px,#34b679 40.6px,#81d34d 44.5px,#5ec962 48.7px,#54c568 53.2px,#46c06f 58.1px,#4ec36b 61.3px,#90d743 65.5px,#9bd93c 69.7px,#69cd5b 74.5px,#60ca60 78.2px,#20a486 84.2px,#2eb37c 87.6px,#54c568 92.2px,#3aba76 96.2px,#5cc863 100.3px,#3fbc73 104.3px,#20a386 109.9px,#1fa088 114.8px,#21a685 118.4px,#24aa83 122.5px,#2db27d 126.7px,#27ad81 128.6px,#22a884 132.5px,#84d44b 136.5px,#98d83e 139.4px,#8bd646 144.8px,#90d743 147.5px,#29af7f 149.5px,#1f9f88 151.0px,#238a8d 157.0px,#42be71 157.8px,#44bf70 160.3px)"></i><i style="background:linear-gradient(#33638d 0.0px,#2d708e 4.2px,#228b8d 7.0px,#287d8e 10.9px,#26828e 15.3px,#228b8d 19.5px,#1f958b 22.7px,#21a685 28.0px,#4ec36b 32.1px,#32b67a 36.2px,#4ac16d 39.8px,#3aba76 44.5px,#5ac864 48.4px,#73d056 53.3px,#40bd72 58.0px,#20a486 60.9px,#21a685 65.5px,#34b679 70.4px,#20a486 74.5px,#20a486 78.0px,#2ab07f 82.4px,#2fb47c 88.2px,#2eb37c 92.9px,#38b977 95.8px,#42be71 101.1px,#23a983 104.1px,#27ad81 108.8px,#2db27d 114.4px,#2fb47c 117.4px,#4ec36b 122.5px,#42be71 126.4px,#4cc26c 129.5px,#40bd72 132.5px,#9bd93c 136.5px,#9dd93b 140.2px,#8bd646 144.0px,#7ad151 147.5px,#1fa187 149.5px,#21908d 151.0px,#21908d 157.0px,#4cc26c 157.8px,#48c16e 160.3px)"></i><i style="background:linear-gradient(#25838e 0.0px,#228c8d 3.7px,#1f9a8a 8.0px,#1f9e89 10.9px,#1fa187 15.6px,#1e9b8a 19.5px,#2ab07f 23.3px,#58c765 27.4px,#40bd72 31.1px,#48c16e 35.9px,#35b779 40.8px,#2fb47c 44.5px,#46c06f 49.6px,#4cc26c 53.7px,#63cb5f 57.5px,#52c569 62.3px,#31b57b 66.7px,#48c16e 70.5px,#3aba76 74.5px,#4ec36b 78.4px,#4ec36b 82.8px,#27ad81 88.3px,#27ad81 91.2px,#29af7f 97.1px,#4ac16d 100.7px,#25ac82 105.2px,#35b779 110.2px,#27ad81 114.3px,#25ac82 117.9px,#25ab82 122.5px,#20a486 126.4px,#38b977 129.6px,#40bd72 132.5px,#95d840 136.5px,#8ed645 141.1px,#69cd5b 144.1px,#6ece58 147.5px,#21908d 149.5px,#297b8e 151.0px,#228c8d 157.0px,#44bf70 157.8px,#56c667 160.3px)"></i><i style="background:linear-gradient(#27808e 0.0px,#297b8e 4.0px,#24878e 7.2px,#1f9e89 12.7px,#1fa287 16.1px,#28ae80 19.5px,#58c765 23.2px,#4ec36b 28.2px,#26ad81 31.8px,#1f9e89 36.0px,#2cb17e 39.9px,#65cb5e 44.5px,#9bd93c 48.1px,#77d153 53.3px,#73d056 58.3px,#5ec962 60.7px,#48c16e 65.6px,#27ad81 70.6px,#3fbc73 74.5px,#65cb5e 78.4px,#56c667 83.2px,#2cb17e 88.3px,#2cb17e 91.4px,#44bf70 95.9px,#29af7f 100.8px,#35b779 104.6px,#60ca60 109.2px,#5ac864 113.6px,#4ec36b 117.4px,#2eb37c 122.5px,#2eb37c 126.3px,#23a983 128.2px,#2cb17e 132.5px,#86d549 136.5px,#75d054 140.9px,#89d548 142.9px,#8ed645 147.5px,#1f9e89 149.5px,#25848e 151.0px,#218e8d 157.0px,#4ac16d 157.8px,#44bf70 160.3px)"></i><i style="background:linear-gradient(#25838e 0.0px,#24878e 4.1px,#24878e 7.6px,#26828e 12.7px,#228d8d 15.2px,#2cb17e 19.5px,#65cb5e 24.4px,#5ec962 26.9px,#27ad81 32.5px,#2cb17e 35.4px,#4cc26c 39.8px,#50c46a 44.5px,#56c667 48.9px,#50c46a 52.3px,#63cb5f 57.5px,#46c06f 62.0px,#3fbc73 66.1px,#4cc26c 70.9px,#4ac16d 74.5px,#67cc5c 79.3px,#48c16e 82.3px,#2fb47c 88.6px,#2ab07f 92.6px,#2eb37c 97.1px,#21a685 99.9px,#20a386 104.2px,#32b67a 109.3px,#6ece58 113.6px,#32b67a 119.0px,#1f9a8a 122.5px,#1f9f88 125.2px,#23898e 130.1px,#1e9b8a 132.5px,#75d054 136.5px,#70cf57 141.0px,#86d549 143.1px,#addc30 147.5px,#2db27d 149.5px,#1f988b 151.0px,#1f948c 157.0px,#56c667 157.8px,#50c46a 160.3px)"></i><i style="background:linear-gradient(#26828e 0.0px,#218f8d 3.5px,#20938c 8.8px,#238a8d 11.8px,#1f988b 14.7px,#26ad81 19.5px,#2fb47c 23.1px,#24aa83 27.6px,#1fa088 32.3px,#1f978b 35.3px,#65cb5e 41.2px,#65cb5e 44.5px,#7fd34e 49.8px,#6ccd5a 52.5px,#69cd5b 57.6px,#a2da37 61.6px,#54c568 66.5px,#69cd5b 71.1px,#4cc26c 74.5px,#25ac82 79.4px,#1f958b 83.5px,#1f9e89 86.8px,#32b67a 91.5px,#1f9f88 95.3px,#23a983 101.0px,#1e9d89 104.4px,#1f9a8a 109.8px,#25ac82 114.1px,#3fbc73 118.3px,#25ac82 122.5px,#22a785 125.4px,#23a983 129.3px,#2cb17e 132.5px,#86d549 136.5px,#c2df23 140.1px,#b5de2b 142.9px,#98d83e 147.5px,#26ad81 149.5px,#1f998a 151.0px,#23888e 157.0px,#3fbc73 157.8px,#54c568 160.3px)"></i><i style="background:linear-gradient(#287c8e 0.0px,#24868e 4.4px,#24878e 8.7px,#26828e 12.0px,#1f9f88 16.1px,#1fa287 19.5px,#44bf70 23.4px,#46c06f 27.8px,#24aa83 31.6px,#20a386 36.3px,#25ac82 39.7px,#3aba76 44.5px,#7cd250 48.6px,#56c667 53.0px,#58c765 58.3px,#5cc863 61.7px,#2eb37c 65.1px,#23a983 70.2px,#218f8d 74.5px,#1fa187 79.5px,#21a685 84.2px,#31b57b 87.1px,#4cc26c 92.4px,#21a585 95.6px,#1f998a 101.2px,#1f998a 104.8px,#24aa83 109.6px,#4ec36b 114.3px,#3fbc73 118.7px,#20a486 122.5px,#27ad81 125.7px,#3fbc73 128.2px,#42be71 132.5px,#65cb5e 136.5px,#b5de2b 140.6px,#addc30 143.6px,#a0da39 147.5px,#2eb37c 149.5px,#1e9c89 151.0px,#238a8d 157.0px,#40bd72 157.8px,#58c765 160.3px)"></i><i style="background:linear-gradient(#25838e 0.0px,#2b748e 4.7px,#2c728e 6.9px,#24868e 12.2px,#20938c 15.2px,#26ad81 19.5px,#1f968b 23.5px,#31b57b 27.4px,#1fa188 31.0px,#1fa188 37.0px,#77d153 40.6px,#70cf57 44.5px,#90d743 48.7px,#58c765 53.0px,#38b977 58.2px,#2ab07f 62.4px,#25ab82 65.6px,#1f9f88 69.3px,#21918c 74.5px,#1e9c89 79.4px,#3fbc73 83.7px,#84d44b 88.0px,#69cd5b 92.6px,#2eb37c 96.5px,#25ac82 100.8px,#42be71 105.9px,#63cb5f 108.6px,#42be71 114.1px,#35b779 118.7px,#28ae80 122.5px,#3dbc74 126.6px,#4ec36b 128.8px,#6ccd5a 132.5px,#67cc5c 136.5px,#7ad151 139.2px,#89d548 144.4px,#86d549 147.5px,#22a785 149.5px,#1f948c 151.0px,#25838e 157.0px,#35b779 157.8px,#60ca60 160.3px)"></i><i style="background:linear-gradient(#38598c 0.0px,#3d4e8a 4.0px,#34618d 7.2px,#34618d 11.9px,#2c728e 15.6px,#2a788e 19.5px,#23888e 22.7px,#218f8d 28.2px,#1f988b 31.5px,#20938c 37.0px,#29af7f 41.2px,#40bd72 44.5px,#1fa188 48.9px,#1f9f88 52.4px,#20928c 58.3px,#21918c 62.0px,#2cb17e 66.7px,#26ad81 69.5px,#228c8d 74.5px,#1f978b 79.4px,#2eb37c 83.0px,#38b977 87.4px,#3dbc74 91.2px,#46c06f 96.7px,#1fa287 101.6px,#1f9f88 104.3px,#24aa83 108.7px,#2db27d 114.1px,#48c16e 118.2px,#25ab82 122.5px,#21a685 125.3px,#1fa188 129.2px,#34b679 132.5px,#67cc5c 136.5px,#60ca60 140.0px,#6ece58 143.0px,#77d153 147.5px,#28ae80 149.5px,#1e9d89 151.0px,#25848e 157.0px,#38b977 157.8px,#3dbc74 160.3px)"></i><i style="background:linear-gradient(#277e8e 0.0px,#2d718e 3.8px,#277e8e 8.4px,#25848e 10.8px,#25838e 14.9px,#26ad81 19.5px,#20a386 22.7px,#31b57b 27.1px,#44bf70 31.4px,#24aa83 35.2px,#28ae80 40.4px,#21a585 44.5px,#38b977 48.9px,#22a785 53.4px,#22a884 56.7px,#1f968b 61.1px,#3dbc74 65.8px,#2eb37c 70.6px,#1f9e89 74.5px,#1fa188 78.6px,#1e9c89 82.6px,#77d153 87.5px,#54c568 91.3px,#6ccd5a 96.0px,#28ae80 99.8px,#58c765 105.3px,#60ca60 110.0px,#9bd93c 113.2px,#73d056 117.5px,#40bd72 122.5px,#5cc863 125.9px,#54c568 129.6px,#63cb5f 132.5px,#a2da37 136.5px,#c5e021 140.4px,#c0df25 144.2px,#cde11d 147.5px,#40bd72 149.5px,#21a685 151.0px,#1f988b 157.0px,#60ca60 157.8px,#5ac864 160.3px)"></i><i style="background:linear-gradient(#2d708e 0.0px,#2e6f8e 3.1px,#2a768e 7.0px,#2e6d8e 11.1px,#277e8e 16.2px,#1f948c 19.5px,#1f988b 23.4px,#26ad81 28.6px,#2db27d 31.2px,#4ac16d 35.7px,#1fa187 41.0px,#25ac82 44.5px,#2eb37c 48.3px,#27ad81 52.8px,#23a983 56.8px,#1f9e89 61.6px,#1f9f88 66.5px,#1f998a 70.1px,#1e9b8a 74.5px,#21908d 78.7px,#21a585 83.4px,#3dbc74 88.5px,#27ad81 92.0px,#42be71 96.6px,#8bd646 101.5px,#81d34d 104.6px,#7fd34e 108.7px,#5ac864 114.5px,#5cc863 117.6px,#3dbc74 122.5px,#73d056 126.1px,#7cd250 129.0px,#4cc26c 132.5px,#a2da37 136.5px,#93d741 139.3px,#8bd646 143.1px,#90d743 147.5px,#26ad81 149.5px,#1f9e89 151.0px,#1f9a8a 157.0px,#63cb5f 157.8px,#4ac16d 160.3px)"></i><i style="background:linear-gradient(#28ae80 0.0px,#1f9e89 3.2px,#1f9f88 7.2px,#20938c 12.2px,#22a785 15.8px,#2fb47c 19.5px,#21a585 24.2px,#6ccd5a 28.5px,#8ed645 32.2px,#60ca60 36.0px,#75d054 41.2px,#65cb5e 44.5px,#93d741 48.7px,#7fd34e 52.3px,#75d054 56.6px,#35b779 62.0px,#27ad81 66.9px,#2eb37c 69.9px,#23a983 74.5px,#1e9c89 79.6px,#1e9d89 83.5px,#20a486 87.3px,#46c06f 92.7px,#44bf70 95.5px,#a0da39 100.3px,#9bd93c 104.7px,#bddf26 109.8px,#6ccd5a 113.5px,#60ca60 117.7px,#46c06f 122.5px,#56c667 126.6px,#48c16e 128.9px,#3fbc73 132.5px,#b5de2b 136.5px,#b0dd2f 140.5px,#9bd93c 143.4px,#9dd93b 147.5px,#2cb17e 149.5px,#28ae80 151.0px,#26ad81 157.0px,#95d840 157.8px,#8ed645 160.3px)"></i><i style="background:linear-gradient(#21918c 0.0px,#25858e 4.2px,#228c8d 7.5px,#297a8e 11.3px,#1f988b 16.6px,#25ab82 19.5px,#2cb17e 23.4px,#3fbc73 28.4px,#48c16e 32.1px,#60ca60 35.2px,#40bd72 40.6px,#34b679 44.5px,#6ccd5a 48.5px,#4ac16d 53.0px,#5ac864 57.2px,#29af7f 60.8px,#26ad81 66.7px,#40bd72 69.4px,#73d056 74.5px,#42be71 79.9px,#2db27d 83.2px,#1e9d89 86.7px,#2ab07f 92.4px,#1fa088 96.9px,#20a486 100.9px,#32b67a 105.5px,#50c46a 110.2px,#42be71 114.6px,#26ad81 117.4px,#1e9d89 122.5px,#25ac82 125.0px,#2eb37c 128.3px,#35b779 132.5px,#89d548 136.5px,#81d34d 139.8px,#65cb5e 144.3px,#70cf57 147.5px,#22a884 149.5px,#1f9f88 151.0px,#1f978b 157.0px,#5cc863 157.8px,#70cf57 160.3px)"></i><i style="background:linear-gradient(#1e9c89 0.0px,#1f988b 4.5px,#1f9a8a 8.8px,#2eb37c 12.5px,#3aba76 15.1px,#37b878 19.5px,#21a685 24.2px,#37b878 27.5px,#46c06f 32.9px,#46c06f 36.3px,#75d054 40.9px,#60ca60 44.5px,#42be71 49.0px,#4ac16d 53.3px,#3bbb75 56.9px,#29af7f 61.4px,#2cb17e 66.2px,#38b977 69.9px,#4ec36b 74.5px,#77d153 79.6px,#4cc26c 84.1px,#37b878 87.2px,#3aba76 91.8px,#2cb17e 96.6px,#42be71 100.5px,#46c06f 105.0px,#52c569 109.1px,#1fa088 113.3px,#2db27d 118.9px,#32b67a 122.5px,#46c06f 126.2px,#3bbb75 129.5px,#40bd72 132.5px,#60ca60 136.5px,#65cb5e 139.8px,#84d44b 144.4px,#b0dd2f 147.5px,#38b977 149.5px,#22a884 151.0px,#1fa188 157.0px,#73d056 157.8px,#89d548 160.3px)"></i></div>
<svg width="685" height="457" viewBox="0 0 685 457">
<defs><linearGradient id="cb" x1="0" y1="0" x2="0" y2="1"><stop offset="0.00" stop-color="#fde725"/><stop offset="0.10" stop-color="#bddf26"/><stop offset="0.20" stop-color="#7ad151"/><stop offset="0.30" stop-color="#44bf70"/><stop offset="0.40" stop-color="#22a884"/><stop offset="0.50" stop-color="#21918c"/><stop offset="0.60" stop-color="#2a788e"/><stop offset="0.70" stop-color="#355f8d"/><stop offset="0.80" stop-color="#414487"/><stop offset="0.90" stop-color="#482475"/><stop offset="1.00" stop-color="#440154"/></linearGradient></defs>
<rect x="0" y="0" width="685" height="457" fill="none"/><path d="M56.5 64.0V226.5" stroke="#d0d0d0" stroke-width="1"/><path d="M261 64.0V223.5" stroke="#d6d6d6" stroke-width="1"/><path d="M56.5 64.0H261" stroke="#7a7a7a" stroke-width="1.3"/><path d="M56.5 223.5H261" stroke="#888" stroke-width="1"/><path d="M401.8 63.8V226.0" stroke="#d0d0d0" stroke-width="1"/><path d="M603 63.8V223.0" stroke="#d6d6d6" stroke-width="1"/><path d="M401.8 63.8H603" stroke="#7a7a7a" stroke-width="1.3"/><path d="M401.8 223.0H603" stroke="#888" stroke-width="1"/><path d="M56.80,141.6L57.30,141.3L57.80,141.3L58.30,141.5L58.80,141.5L59.30,141.5L59.80,141.5L60.30,141.6L60.80,141.4L61.30,141.1L61.80,141.2L62.30,141.6L62.80,141.4L63.30,141.6L63.80,141.5L64.30,141.5L64.80,141.4L65.30,141.6L65.80,141.6L66.30,141.4L66.80,141.4L67.30,141.2L67.80,141.5L68.30,141.4L68.80,141.1L69.30,141.4L69.80,141.5L70.30,141.3L70.80,141.2L71.30,141.6L71.80,141.4L72.30,141.6L72.80,141.4L73.30,141.5L73.80,141.4L74.30,141.5L74.80,141.5L75.30,141.3L75.80,141.6L76.30,141.4L76.80,141.5L77.30,141.6L77.80,141.3L78.30,141.3L78.80,141.4L79.30,141.4L79.80,141.2L80.30,141.6L80.80,141.5L81.30,139.4L81.80,138.8L82.30,139.3L82.80,139.5L83.30,139.7L83.80,139.2L84.30,138.9L84.80,139.5L85.30,139.5L85.80,138.5L86.30,139.7L86.80,139.8L87.30,139.3L87.80,139.7L88.30,140.0L88.80,139.7L89.30,139.3L89.80,139.5L90.30,140.0L90.80,139.6L91.30,139.6L91.80,139.1L92.30,140.3L92.80,140.5L93.30,140.2L93.80,139.8L94.30,139.5L94.80,139.6L95.30,138.0L95.80,138.5L96.30,139.0L96.80,137.9L97.30,137.6L97.80,137.6L98.30,138.5L98.80,137.6L99.30,137.3L99.80,138.9L100.30,137.7L100.80,139.0L101.30,137.5L101.80,136.9L102.30,137.2L102.80,138.6L103.30,138.5L103.80,137.4L104.30,138.8L104.80,138.4L105.30,138.9L105.80,139.3L106.30,139.0L106.80,138.4L107.30,138.8L107.80,138.9L108.30,139.1L108.80,138.9L109.30,137.6L109.80,138.6L110.30,137.7L110.80,138.9L111.30,137.3L111.80,137.4L112.30,138.4L112.80,136.4L113.30,139.0L113.80,138.4L114.30,137.1L114.80,137.3L115.30,135.6L115.80,137.9L116.30,138.1L116.80,138.1L117.30,137.8L117.80,138.5L118.30,138.4L118.80,138.6L119.30,137.4L119.80,138.8L120.30,137.6L120.80,138.3L121.30,138.4L121.80,135.9L122.30,136.8L122.80,137.8L123.30,138.0L123.80,138.1L124.30,138.1L124.80,137.0L125.30,137.8L125.80,137.5L126.30,138.7L126.80,138.0L127.30,137.9L127.80,138.3L128.30,137.4L128.80,138.2L129.30,138.9L129.80,138.7L130.30,138.6L130.80,136.5L131.30,139.0L131.80,138.8L132.30,137.7L132.80,138.4L133.30,138.3L133.80,138.2L134.30,136.6L134.80,138.2L135.30,136.9L135.80,136.6L136.30,138.2L136.80,138.8L137.30,138.7L137.80,138.6L138.30,138.6L138.80,139.0L139.30,139.1L139.80,137.5L140.30,139.1L140.80,138.4L141.30,139.1L141.80,138.7L142.30,138.6L142.80,138.3L143.30,138.9L143.80,138.9L144.30,139.2L144.80,138.7L145.30,139.1L145.80,138.6L146.30,138.8L146.80,139.2L147.30,138.5L147.80,137.5L148.30,138.1L148.80,138.2L149.30,138.2L149.80,138.9L150.30,138.4L150.80,138.7L151.30,138.3L151.80,137.6L152.30,137.9L152.80,137.3L153.30,138.9L153.80,137.4L154.30,138.9L154.80,136.8L155.30,136.5L155.80,136.8L156.30,138.2L156.80,138.1L157.30,136.9L157.80,138.5L158.30,137.5L158.80,138.2L159.30,138.5L159.80,137.5L160.30,138.6L160.80,138.4L161.30,138.7L161.80,138.0L162.30,137.6L162.80,137.8L163.30,138.2L163.80,137.4L164.30,138.4L164.80,136.6L165.30,137.6L165.80,138.2L166.30,138.0L166.80,138.4L167.30,138.8L167.80,138.9L168.30,135.7L168.80,138.5L169.30,137.3L169.80,137.6L170.30,136.4L170.80,136.2L171.30,137.0L171.80,137.1L172.30,135.6L172.80,138.2L173.30,136.3L173.80,137.6L174.30,134.7L174.80,137.6L175.30,137.0L175.80,137.0L176.30,137.1L176.80,136.5L177.30,135.9L177.80,134.6L178.30,136.9L178.80,136.9L179.30,136.5L179.80,135.1L180.30,134.1L180.80,136.7L181.30,136.2L181.80,135.8L182.30,136.3L182.80,135.7L183.30,137.0L183.80,136.4L184.30,134.1L184.80,136.3L185.30,136.7L185.80,136.8L186.30,135.7L186.80,137.3L187.30,137.0L187.80,135.4L188.30,135.9L188.80,137.2L189.30,138.1L189.80,136.2L190.30,136.2L190.80,137.7L191.30,136.4L191.80,137.3L192.30,137.7L192.80,135.4L193.30,137.4L193.80,138.1L194.30,137.5L194.80,138.3L195.30,138.5L195.80,137.9L196.30,138.3L196.80,136.9L197.30,138.4L197.80,138.2L198.30,137.8L198.80,137.1L199.30,137.6L199.80,136.4L200.30,138.1L200.80,138.2L201.30,138.1L201.80,137.9L202.30,138.2L202.80,137.6L203.30,138.2L203.80,136.3L204.30,136.7L204.80,137.9L205.30,136.3L205.80,138.3L206.30,138.1L206.80,138.4L207.30,136.9L207.80,138.0L208.30,133.3L208.80,136.7L209.30,138.1L209.80,138.2L210.30,138.3L210.80,136.0L211.30,136.9L211.80,137.9L212.30,138.6L212.80,136.2L213.30,137.6L213.80,138.4L214.30,134.3L214.80,137.5L215.30,137.3L215.80,138.6L216.30,138.6L216.80,137.4L217.30,138.4L217.80,137.5L218.30,138.3L218.80,134.7L219.30,136.8L219.80,134.5L220.30,138.4L220.80,137.3L221.30,137.7L221.80,138.4L222.30,135.8L222.80,137.3L223.30,137.3L223.80,138.4L224.30,138.6L224.80,138.1L225.30,136.7L225.80,137.8L226.30,138.1L226.80,136.8L227.30,138.3L227.80,138.5L228.30,137.5L228.80,137.8L229.30,137.7L229.80,134.5L230.30,137.1L230.80,137.8L231.30,138.3L231.80,137.1L232.30,138.8L232.80,138.9L233.30,136.3L233.80,139.0L234.30,138.7L234.80,137.4L235.30,137.1L235.80,137.6L236.30,137.9L236.80,136.7L237.30,138.6L237.80,139.3L238.30,138.1L238.80,139.1L239.30,139.0L239.80,137.5L240.30,138.8L240.80,138.8L241.30,138.9L241.80,138.7L242.30,139.2L242.80,138.9L243.30,139.3L243.80,138.4L244.30,138.7L244.80,138.6L245.30,138.6L245.80,137.2L246.30,139.2L246.80,138.1L247.30,138.8L247.80,138.6L248.30,138.4L248.80,139.2L249.30,139.0L249.80,138.6L250.30,137.8L250.80,138.6L251.30,139.2L251.80,137.4L252.30,136.5L252.80,138.8L253.30,138.7L253.80,138.8L254.30,138.7L254.80,138.9L255.30,137.4L255.80,138.9L256.30,138.8L256.80,138.9L257.30,138.4L257.80,138.6L258.30,139.0L258.80,138.3L259.30,139.3L259.80,139.0L260.30,138.4L260.30,146.1L259.80,146.4L259.30,145.6L258.80,146.1L258.30,146.0L257.80,145.7L257.30,146.1L256.80,146.9L256.30,146.9L255.80,145.6L255.30,147.8L254.80,146.1L254.30,145.5L253.80,146.4L253.30,147.5L252.80,147.9L252.30,147.0L251.80,145.8L251.30,147.0L250.80,146.7L250.30,145.3L249.80,146.3L249.30,145.7L248.80,146.7L248.30,146.5L247.80,147.1L247.30,146.7L246.80,146.7L246.30,146.8L245.80,146.8L245.30,146.3L244.80,148.3L244.30,147.7L243.80,146.1L243.30,145.7L242.80,147.0L242.30,146.6L241.80,146.7L241.30,147.5L240.80,146.5L240.30,146.2L239.80,146.1L239.30,145.3L238.80,145.9L238.30,146.2L237.80,146.7L237.30,146.9L236.80,146.4L236.30,146.7L235.80,145.5L235.30,147.2L234.80,146.0L234.30,145.4L233.80,145.6L233.30,146.9L232.80,146.0L232.30,146.2L231.80,148.3L231.30,148.7L230.80,146.3L230.30,146.4L229.80,146.5L229.30,146.3L228.80,146.2L228.30,147.4L227.80,146.7L227.30,147.4L226.80,147.0L226.30,146.5L225.80,147.1L225.30,147.0L224.80,146.9L224.30,146.5L223.80,147.4L223.30,147.2L222.80,148.1L222.30,146.7L221.80,146.2L221.30,146.2L220.80,146.1L220.30,148.6L219.80,147.4L219.30,148.7L218.80,146.4L218.30,146.8L217.80,146.2L217.30,148.1L216.80,147.5L216.30,148.0L215.80,147.7L215.30,146.1L214.80,147.4L214.30,147.0L213.80,146.6L213.30,148.1L212.80,146.2L212.30,147.9L211.80,148.2L211.30,146.8L210.80,149.0L210.30,146.8L209.80,147.0L209.30,147.7L208.80,146.8L208.30,146.8L207.80,147.1L207.30,146.2L206.80,146.5L206.30,146.7L205.80,147.3L205.30,147.0L204.80,147.6L204.30,146.0L203.80,149.0L203.30,146.2L202.80,146.6L202.30,149.5L201.80,146.1L201.30,146.5L200.80,147.3L200.30,147.2L199.80,146.1L199.30,146.5L198.80,146.2L198.30,146.6L197.80,148.3L197.30,146.4L196.80,147.0L196.30,146.0L195.80,147.3L195.30,146.3L194.80,148.6L194.30,148.2L193.80,147.9L193.30,146.7L192.80,148.9L192.30,148.2L191.80,147.4L191.30,147.0L190.80,146.8L190.30,149.5L189.80,146.8L189.30,148.0L188.80,147.2L188.30,146.7L187.80,148.0L187.30,148.7L186.80,148.2L186.30,148.6L185.80,148.2L185.30,148.8L184.80,148.2L184.30,149.5L183.80,149.0L183.30,149.8L182.80,149.0L182.30,149.4L181.80,147.4L181.30,149.0L180.80,151.6L180.30,151.9L179.80,147.9L179.30,149.8L178.80,148.1L178.30,152.0L177.80,147.4L177.30,149.3L176.80,150.3L176.30,150.8L175.80,149.5L175.30,147.3L174.80,147.6L174.30,150.5L173.80,147.2L173.30,146.5L172.80,147.5L172.30,146.5L171.80,147.0L171.30,146.7L170.80,146.5L170.30,146.7L169.80,146.6L169.30,146.6L168.80,146.1L168.30,145.8L167.80,147.5L167.30,147.2L166.80,145.9L166.30,145.8L165.80,147.0L165.30,147.9L164.80,147.4L164.30,145.9L163.80,147.2L163.30,145.9L162.80,147.0L162.30,147.3L161.80,147.9L161.30,147.7L160.80,147.0L160.30,147.5L159.80,147.8L159.30,146.2L158.80,146.1L158.30,147.8L157.80,146.0L157.30,145.8L156.80,148.1L156.30,147.0L155.80,148.3L155.30,147.9L154.80,147.6L154.30,146.1L153.80,146.4L153.30,147.3L152.80,147.8L152.30,146.4L151.80,146.0L151.30,145.7L150.80,146.6L150.30,146.3L149.80,148.4L149.30,146.0L148.80,148.8L148.30,147.7L147.80,146.0L147.30,147.5L146.80,145.7L146.30,147.6L145.80,146.6L145.30,146.3L144.80,147.2L144.30,146.3L143.80,147.8L143.30,146.0L142.80,146.9L142.30,146.7L141.80,146.2L141.30,146.5L140.80,145.6L140.30,146.6L139.80,145.7L139.30,146.8L138.80,145.5L138.30,147.4L137.80,145.6L137.30,146.6L136.80,145.6L136.30,146.5L135.80,146.9L135.30,147.1L134.80,146.6L134.30,145.6L133.80,146.5L133.30,147.5L132.80,146.2L132.30,145.7L131.80,146.2L131.30,146.3L130.80,145.6L130.30,146.4L129.80,146.1L129.30,147.4L128.80,146.1L128.30,146.2L127.80,147.1L127.30,146.0L126.80,145.8L126.30,147.2L125.80,147.2L125.30,147.1L124.80,146.5L124.30,147.6L123.80,145.9L123.30,146.5L122.80,147.6L122.30,147.2L121.80,146.5L121.30,146.2L120.80,146.4L120.30,146.9L119.80,147.0L119.30,147.0L118.80,146.4L118.30,145.7L117.80,145.9L117.30,147.2L116.80,146.9L116.30,146.3L115.80,146.7L115.30,147.7L114.80,146.7L114.30,147.0L113.80,147.2L113.30,146.3L112.80,147.3L112.30,145.7L111.80,146.5L111.30,147.3L110.80,147.0L110.30,146.4L109.80,145.4L109.30,146.0L108.80,145.5L108.30,145.7L107.80,146.6L107.30,145.6L106.80,146.3L106.30,146.2L105.80,146.2L105.30,145.7L104.80,145.7L104.30,146.3L103.80,146.5L103.30,146.5L102.80,145.6L102.30,145.7L101.80,146.2L101.30,146.7L100.80,146.8L100.30,145.8L99.80,145.6L99.30,146.8L98.80,145.8L98.30,146.1L97.80,145.8L97.30,146.3L96.80,146.7L96.30,146.9L95.80,145.9L95.30,146.7L94.80,144.0L94.30,145.3L93.80,144.2L93.30,144.6L92.80,144.8L92.30,144.6L91.80,144.6L91.30,145.9L90.80,145.3L90.30,144.6L89.80,144.8L89.30,145.8L88.80,145.4L88.30,145.9L87.80,145.2L87.30,145.2L86.80,145.2L86.30,146.0L85.80,145.2L85.30,146.8L84.80,144.7L84.30,144.7L83.80,145.2L83.30,146.7L82.80,145.5L82.30,144.6L81.80,146.2L81.30,145.1L80.80,143.0L80.30,143.0L79.80,143.4L79.30,143.3L78.80,143.1L78.30,143.1L77.80,143.1L77.30,143.2L76.80,143.1L76.30,143.3L75.80,143.3L75.30,143.0L74.80,143.1L74.30,143.4L73.80,143.2L73.30,143.1L72.80,143.4L72.30,143.0L71.80,143.2L71.30,143.1L70.80,143.3L70.30,143.4L69.80,143.0L69.30,143.1L68.80,143.2L68.30,143.5L67.80,143.4L67.30,143.6L66.80,143.2L66.30,143.4L65.80,143.0L65.30,143.0L64.80,143.3L64.30,143.3L63.80,143.0L63.30,143.4L62.80,143.0L62.30,143.4L61.80,143.0L61.30,143.2L60.80,143.1L60.30,143.1L59.80,143.0L59.30,143.1L58.80,143.3L58.30,143.2L57.80,143.4L57.30,143.1L56.80,143.0Z" fill="#000"/><path d="M81.80 138.7V145.4M82.30 138.9V146.6M85.30 137.6V147.3M86.30 137.6V145.4M86.80 138.4V146.9M87.30 136.0V145.9M87.80 138.6V145.3M88.80 138.5V146.3M89.80 138.2V146.3M90.80 139.2V145.7M91.30 138.2V148.0M91.80 138.9V145.8M95.30 132.1V146.9M95.80 137.8V146.7M97.80 137.5V146.9M98.30 134.1V149.2M98.80 138.0V147.6M99.30 137.4V147.0M100.30 137.6V146.9M101.30 133.5V146.5M101.80 137.7V146.3M103.30 138.0V148.2M105.30 137.3V146.4M106.30 137.1V147.1M107.30 137.2V147.3M109.30 136.7V148.2M111.80 135.1V148.7M112.30 137.9V150.9M113.80 137.5V147.7M115.30 133.4V147.0M116.80 130.3V148.3M120.80 135.5V149.4M124.80 134.9V150.5M125.80 137.6V149.7M126.30 134.3V148.5M126.80 137.7V147.9M127.30 136.5V146.9M128.30 136.6V146.9M128.80 134.3V147.8M129.80 133.7V150.3M130.80 137.4V153.0M131.80 136.9V146.8M133.80 137.0V148.0M134.80 136.1V146.8M136.30 136.8V146.8M136.80 138.0V146.6M139.80 137.7V147.5M140.30 136.2V150.9M142.30 137.9V146.7M143.80 137.7V147.3M145.80 135.0V146.7M147.80 138.0V150.2M149.30 135.0V147.0M151.80 136.9V147.5M152.80 137.0V147.8M153.30 134.7V147.6M154.30 137.3V149.4M154.80 136.1V147.2M155.30 137.3V148.6M155.80 136.9V148.2M156.30 137.3V146.9M157.30 134.3V148.9M157.80 136.7V147.0M158.30 137.2V147.0M159.80 137.3V149.1M162.30 135.7V151.1M162.80 137.4V149.4M163.80 131.7V147.5M164.30 136.3V147.6M164.80 137.1V148.4M165.30 137.3V147.4M166.80 137.8V147.8M167.30 137.0V149.2M169.80 136.0V150.0M171.80 134.3V148.9M172.30 136.2V148.8M173.80 134.4V148.9M175.30 135.6V152.0M175.80 133.4V151.2M176.30 133.4V149.0M177.30 134.3V149.1M178.30 135.1V150.4M178.80 134.6V150.2M179.80 134.2V149.9M180.30 133.6V149.8M180.80 133.2V148.7M181.30 132.8V149.8M181.80 133.6V152.6M184.80 135.5V152.1M186.30 135.8V149.7M187.30 132.3V148.3M188.30 136.1V148.5M188.80 136.5V148.2M193.80 134.4V150.2M194.80 136.3V147.4M195.30 137.1V154.1M196.30 131.1V147.8M200.30 136.4V147.6M200.80 136.1V151.5M201.30 137.1V148.6M201.80 134.1V147.9M203.30 137.4V147.5M203.80 136.2V149.9M204.30 134.0V151.0M207.80 136.8V148.7M210.30 135.6V148.0M211.30 135.1V147.7M211.80 136.7V147.4M214.30 133.1V150.6M214.80 135.7V147.3M215.30 133.8V147.6M221.30 135.5V148.4M221.80 136.5V148.5M222.80 136.0V151.8M223.30 134.3V150.9M223.80 136.9V147.9M224.80 136.4V147.8M225.80 136.8V147.9M229.80 136.5V147.3M230.30 136.1V147.7M231.80 132.8V150.5M233.30 138.3V146.4M234.30 135.5V148.2M234.80 138.1V146.3M235.30 137.5V146.3M235.80 138.2V148.5M237.30 138.0V146.7M237.80 138.2V147.0M238.30 136.9V148.0M239.80 134.3V146.5M240.80 137.7V147.6M241.30 136.2V150.5M242.80 138.1V146.3M243.80 136.6V146.6M244.30 137.5V146.5M245.30 138.2V148.5M246.80 136.7V147.0M247.80 137.6V148.9M248.80 137.6V146.7M250.80 136.3V146.7M251.80 137.9V147.0M254.30 137.3V147.0M257.80 135.8V146.5M260.30 137.4V147.1" stroke="#000" stroke-width="0.4" stroke-opacity="0.7"/><path d="M66.7 118.4V170.5" stroke="#777" stroke-width="0.6"/><path d="M66.7 135.1V150.8" stroke="#444" stroke-width="0.6"/><path d="M90.0 114.6V178.2" stroke="#777" stroke-width="0.6"/><path d="M90.0 134.0V153.1" stroke="#444" stroke-width="0.6"/><path d="M112.7 132.7V150" stroke="#777" stroke-width="0.6"/><path d="M112.7 139.4V144.6" stroke="#444" stroke-width="0.6"/><path d="M141.4 130.5V156.2" stroke="#777" stroke-width="0.6"/><path d="M141.4 138.8V146.5" stroke="#444" stroke-width="0.6"/><path d="M218.5 113.8V175.8" stroke="#777" stroke-width="0.6"/><path d="M218.5 133.8V152.4" stroke="#444" stroke-width="0.6"/><path d="M225.4 127.6V158" stroke="#777" stroke-width="0.6"/><path d="M225.4 137.9V147.0" stroke="#444" stroke-width="0.6"/><path d="M247.5 126.6V151.2" stroke="#777" stroke-width="0.6"/><path d="M247.5 137.6V145.0" stroke="#444" stroke-width="0.6"/><path d="M182.00 70.8L182.60 70.8L182.75 105L183.10 120L183.80 128L184.90 133L186.30 137L178.50 137L179.90 133L181.00 128L181.60 120L181.85 105Z" fill="#000"/><path d="M178.80 147L185.80 147L183.50 158L182.75 187L181.85 187L181.10 158Z" fill="#000"/><path d="M402.20,135.4L402.70,135.3L403.20,135.4L403.70,135.7L404.20,135.7L404.70,135.9L405.20,135.8L405.70,136.2L406.20,136.3L406.70,136.4L407.20,135.8L407.70,136.2L408.20,136.3L408.70,136.1L409.20,136.2L409.70,136.2L410.20,136.1L410.70,136.4L411.20,136.3L411.70,136.4L412.20,136.3L412.70,136.6L413.20,136.7L413.70,136.4L414.20,136.4L414.70,135.6L415.20,135.5L415.70,135.9L416.20,135.6L416.70,135.1L417.20,135.4L417.70,135.8L418.20,136.2L418.70,136.1L419.20,136.0L419.70,135.8L420.20,136.3L420.70,136.3L421.20,135.9L421.70,136.2L422.20,135.9L422.70,136.1L423.20,136.3L423.70,136.4L424.20,136.7L424.70,136.4L425.20,136.3L425.70,136.1L426.20,136.1L426.70,136.1L427.20,135.8L427.70,135.8L428.20,135.2L428.70,133.2L429.20,131.5L429.70,130.2L430.20,128.9L430.70,127.5L431.20,125.3L431.70,125.7L432.20,125.0L432.70,123.7L433.20,122.5L433.70,123.1L434.20,123.6L434.70,124.9L435.20,122.6L435.70,123.9L436.20,124.7L436.70,124.5L437.20,126.0L437.70,125.8L438.20,124.3L438.70,125.5L439.20,124.5L439.70,124.2L440.20,123.1L440.70,121.2L441.20,119.7L441.70,119.2L442.20,118.3L442.70,115.4L443.20,116.8L443.70,118.7L444.20,118.2L444.70,119.6L445.20,118.8L445.70,118.3L446.20,119.7L446.70,118.6L447.20,118.3L447.70,119.3L448.20,120.3L448.70,121.0L449.20,122.5L449.70,123.0L450.20,123.0L450.70,123.2L451.20,123.1L451.70,124.6L452.20,125.0L452.70,124.9L453.20,124.4L453.70,124.1L454.20,125.3L454.70,122.9L455.20,120.5L455.70,120.7L456.20,122.1L456.70,121.6L457.20,121.5L457.70,119.8L458.20,122.0L458.70,120.8L459.20,121.2L459.70,120.2L460.20,119.3L460.70,119.4L461.20,119.1L461.70,116.6L462.20,117.9L462.70,117.6L463.20,116.1L463.70,118.2L464.20,118.2L464.70,117.8L465.20,121.1L465.70,121.6L466.20,121.1L466.70,121.0L467.20,120.0L467.70,119.4L468.20,119.4L468.70,118.1L469.20,118.3L469.70,119.0L470.20,118.3L470.70,121.2L471.20,121.6L471.70,118.5L472.20,121.2L472.70,119.2L473.20,120.9L473.70,121.6L474.20,117.7L474.70,116.4L475.20,121.2L475.70,120.7L476.20,123.6L476.70,121.3L477.20,122.1L477.70,123.7L478.20,124.9L478.70,123.8L479.20,122.1L479.70,120.6L480.20,122.9L480.70,121.2L481.20,123.9L481.70,123.0L482.20,124.0L482.70,124.7L483.20,125.2L483.70,124.2L484.20,125.5L484.70,123.4L485.20,125.5L485.70,124.3L486.20,124.6L486.70,123.0L487.20,122.9L487.70,123.5L488.20,122.9L488.70,121.0L489.20,122.8L489.70,122.5L490.20,122.6L490.70,123.6L491.20,123.9L491.70,124.3L492.20,126.3L492.70,127.6L493.20,128.7L493.70,129.5L494.20,128.6L494.70,127.8L495.20,127.8L495.70,128.0L496.20,125.9L496.70,123.8L497.20,125.0L497.70,124.9L498.20,125.9L498.70,126.3L499.20,125.3L499.70,127.2L500.20,127.1L500.70,127.4L501.20,128.2L501.70,128.4L502.20,128.4L502.70,128.4L503.20,127.6L503.70,127.7L504.20,127.1L504.70,127.4L505.20,129.1L505.70,129.7L506.20,130.2L506.70,130.8L507.20,132.0L507.70,132.0L508.20,131.4L508.70,128.8L509.20,128.0L509.70,128.5L510.20,127.8L510.70,128.1L511.20,128.0L511.70,128.5L512.20,130.0L512.70,130.7L513.20,130.5L513.70,130.9L514.20,129.4L514.70,127.9L515.20,127.6L515.70,126.4L516.20,126.2L516.70,126.3L517.20,123.9L517.70,125.3L518.20,127.4L518.70,128.1L519.20,128.4L519.70,128.5L520.20,127.9L520.70,130.0L521.20,129.9L521.70,129.3L522.20,129.8L522.70,130.6L523.20,129.8L523.70,129.9L524.20,128.4L524.70,129.7L525.20,130.4L525.70,130.4L526.20,130.7L526.70,131.2L527.20,130.7L527.70,131.9L528.20,131.3L528.70,131.5L529.20,130.9L529.70,130.8L530.20,129.6L530.70,129.9L531.20,129.1L531.70,128.7L532.20,126.5L532.70,124.5L533.20,123.6L533.70,125.2L534.20,124.5L534.70,125.0L535.20,125.0L535.70,125.7L536.20,127.7L536.70,127.6L537.20,128.7L537.70,129.8L538.20,128.6L538.70,128.7L539.20,130.3L539.70,130.2L540.20,128.9L540.70,127.9L541.20,127.7L541.70,128.0L542.20,127.1L542.70,126.0L543.20,126.9L543.70,127.9L544.20,128.1L544.70,127.1L545.20,128.1L545.70,127.7L546.20,128.1L546.70,128.0L547.20,127.3L547.70,127.4L548.20,127.7L548.70,126.9L549.20,126.8L549.70,125.5L550.20,123.0L550.70,123.6L551.20,124.6L551.70,126.3L552.20,126.0L552.70,127.5L553.20,128.0L553.70,128.6L554.20,129.9L554.70,129.6L555.20,129.2L555.70,129.9L556.20,129.5L556.70,129.3L557.20,128.6L557.70,128.3L558.20,128.0L558.70,126.0L559.20,124.5L559.70,124.2L560.20,126.6L560.70,128.3L561.20,127.5L561.70,127.5L562.20,127.2L562.70,127.8L563.20,127.8L563.70,126.9L564.20,126.9L564.70,127.5L565.20,127.5L565.70,129.0L566.20,128.8L566.70,128.9L567.20,127.4L567.70,127.7L568.20,127.0L568.70,126.4L569.20,124.9L569.70,125.4L570.20,125.3L570.70,126.8L571.20,125.4L571.70,125.2L572.20,125.9L572.70,127.4L573.20,127.3L573.70,127.1L574.20,127.4L574.70,127.0L575.20,127.6L575.70,125.6L576.20,124.0L576.70,124.4L577.20,125.4L577.70,122.1L578.20,122.4L578.70,121.5L579.20,123.7L579.70,125.1L580.20,124.1L580.70,122.9L581.20,125.8L581.70,125.3L582.20,125.5L582.70,125.9L583.20,125.0L583.70,125.8L584.20,125.7L584.70,125.4L585.20,126.1L585.70,127.6L586.20,126.6L586.70,128.4L587.20,128.2L587.70,130.2L588.20,129.9L588.70,129.7L589.20,128.4L589.70,127.8L590.20,127.5L590.70,126.5L591.20,123.0L591.70,124.0L592.20,125.3L592.70,126.2L593.20,127.1L593.70,126.1L594.20,129.0L594.70,129.6L595.20,129.0L595.70,129.2L596.20,128.2L596.70,128.4L597.20,127.8L597.70,125.5L598.20,126.2L598.70,125.1L599.20,123.5L599.70,124.8L600.20,125.8L600.70,127.1L601.20,127.5L601.70,127.2L602.20,128.1L602.20,153.2L601.70,154.0L601.20,153.7L600.70,154.1L600.20,155.3L599.70,156.3L599.20,157.5L598.70,156.0L598.20,154.9L597.70,155.6L597.20,153.5L596.70,152.9L596.20,153.1L595.70,152.1L595.20,152.3L594.70,151.7L594.20,152.3L593.70,155.0L593.20,154.1L592.70,155.0L592.20,155.8L591.70,157.0L591.20,158.0L590.70,154.6L590.20,153.7L589.70,153.4L589.20,152.9L588.70,151.6L588.20,151.4L587.70,151.1L587.20,153.1L586.70,152.9L586.20,154.5L585.70,153.6L585.20,155.0L584.70,155.6L584.20,155.4L583.70,155.3L583.20,156.1L582.70,155.2L582.20,155.6L581.70,155.8L581.20,155.3L580.70,158.0L580.20,157.0L579.70,156.0L579.20,157.3L578.70,159.4L578.20,158.5L577.70,158.8L577.20,155.7L576.70,156.7L576.20,157.0L575.70,155.5L575.20,153.7L574.70,154.2L574.20,153.8L573.70,154.1L573.20,153.9L572.70,153.8L572.20,155.2L571.70,155.9L571.20,155.7L570.70,154.4L570.20,155.7L569.70,155.7L569.20,156.2L568.70,154.8L568.20,154.2L567.70,153.7L567.20,153.9L566.70,152.6L566.20,152.6L565.70,152.4L565.20,153.9L564.70,153.9L564.20,154.5L563.70,154.6L563.20,153.7L562.70,153.7L562.20,154.3L561.70,154.0L561.20,154.0L560.70,153.3L560.20,154.9L559.70,157.4L559.20,157.0L558.70,155.6L558.20,153.7L557.70,153.4L557.20,153.2L556.70,152.4L556.20,152.3L555.70,151.9L555.20,152.6L554.70,152.3L554.20,152.0L553.70,153.3L553.20,153.9L552.70,154.4L552.20,155.9L551.70,155.7L551.20,157.4L550.70,158.4L550.20,159.0L549.70,156.5L549.20,155.2L548.70,155.1L548.20,154.3L547.70,154.6L547.20,154.7L546.70,154.0L546.20,153.9L545.70,154.3L545.20,153.9L544.70,154.9L544.20,153.9L543.70,154.1L543.20,155.1L542.70,156.0L542.20,154.9L541.70,154.0L541.20,154.3L540.70,154.1L540.20,153.1L539.70,151.8L539.20,151.7L538.70,153.3L538.20,153.4L537.70,152.2L537.20,153.3L536.70,154.4L536.20,154.3L535.70,156.3L535.20,157.0L534.70,157.0L534.20,157.5L533.70,156.8L533.20,158.4L532.70,157.5L532.20,155.5L531.70,153.3L531.20,152.9L530.70,152.1L530.20,152.4L529.70,151.2L529.20,151.1L528.70,150.5L528.20,150.7L527.70,150.1L527.20,151.3L526.70,150.8L526.20,151.3L525.70,151.6L525.20,151.6L524.70,152.3L524.20,153.6L523.70,152.1L523.20,152.2L522.70,151.4L522.20,152.2L521.70,152.7L521.20,152.1L520.70,152.0L520.20,154.1L519.70,153.5L519.20,153.6L518.70,153.9L518.20,154.6L517.70,156.7L517.20,158.1L516.70,155.7L516.20,155.8L515.70,155.6L515.20,154.4L514.70,154.1L514.20,152.6L513.70,151.1L513.20,151.5L512.70,151.3L512.20,152.0L511.70,153.5L511.20,154.0L510.70,153.9L510.20,154.2L509.70,153.5L509.20,153.9L508.70,153.1L508.20,150.5L507.70,149.9L507.20,149.8L506.70,150.9L506.20,151.5L505.70,152.0L505.20,152.5L504.70,154.1L504.20,154.4L503.70,153.7L503.20,153.8L502.70,153.0L502.20,153.0L501.70,152.9L501.20,153.1L500.70,153.8L500.20,154.0L499.70,153.9L499.20,155.7L498.70,154.7L498.20,155.0L497.70,155.9L497.20,155.9L496.70,156.9L496.20,154.9L495.70,153.0L495.20,153.1L494.70,153.1L494.20,152.4L493.70,151.6L493.20,152.3L492.70,153.3L492.20,154.4L491.70,156.1L491.20,156.5L490.70,156.8L490.20,157.7L489.70,157.7L489.20,157.5L488.70,159.1L488.20,157.4L487.70,156.8L487.20,157.4L486.70,157.3L486.20,155.8L485.70,156.2L485.20,155.1L484.70,156.9L484.20,155.1L483.70,156.2L483.20,155.3L482.70,155.8L482.20,156.4L481.70,157.3L481.20,156.6L480.70,159.0L480.20,157.4L479.70,159.6L479.20,158.2L478.70,156.7L478.20,155.7L477.70,156.7L477.20,158.1L476.70,158.9L476.20,156.8L475.70,159.5L475.20,159.0L474.70,163.4L474.20,162.2L473.70,158.6L473.20,159.3L472.70,160.9L472.20,159.1L471.70,161.5L471.20,158.7L470.70,159.1L470.20,161.7L469.70,161.1L469.20,161.7L468.70,161.9L468.20,160.7L467.70,160.7L467.20,160.1L466.70,159.2L466.20,159.2L465.70,158.7L465.20,159.2L464.70,162.2L464.20,161.8L463.70,161.8L463.20,163.7L462.70,162.3L462.20,162.1L461.70,163.3L461.20,161.0L460.70,160.7L460.20,160.8L459.70,160.0L459.20,159.0L458.70,159.4L458.20,158.3L457.70,160.3L457.20,158.8L456.70,158.7L456.20,158.2L455.70,159.5L455.20,159.7L454.70,157.5L454.20,155.3L453.70,156.3L453.20,156.2L452.70,155.7L452.20,155.6L451.70,155.9L451.20,157.3L450.70,157.2L450.20,157.3L449.70,157.4L449.20,157.8L448.70,159.2L448.20,159.8L447.70,160.7L447.20,161.6L446.70,161.3L446.20,160.4L445.70,161.6L445.20,161.2L444.70,160.5L444.20,161.7L443.70,161.4L443.20,163.1L442.70,164.4L442.20,161.8L441.70,161.0L441.20,160.6L440.70,159.2L440.20,157.5L439.70,156.5L439.20,156.3L438.70,155.4L438.20,156.5L437.70,155.2L437.20,155.0L436.70,156.4L436.20,156.3L435.70,157.0L435.20,158.3L434.70,156.2L434.20,157.4L433.70,157.9L433.20,158.5L432.70,157.4L432.20,156.2L431.70,155.6L431.20,156.1L430.70,154.1L430.20,152.9L429.70,151.7L429.20,150.5L428.70,148.9L428.20,147.1L427.70,146.4L427.20,146.4L426.70,146.2L426.20,146.1L425.70,146.1L425.20,146.0L424.70,145.8L424.20,145.5L423.70,145.8L423.20,145.9L422.70,146.1L422.20,146.4L421.70,146.0L421.20,146.4L420.70,145.9L420.20,145.9L419.70,146.5L419.20,146.3L418.70,146.1L418.20,146.0L417.70,146.4L417.20,146.9L416.70,147.2L416.20,146.7L415.70,146.4L415.20,146.8L414.70,146.7L414.20,145.8L413.70,145.8L413.20,145.5L412.70,145.6L412.20,145.9L411.70,145.8L411.20,145.9L410.70,145.8L410.20,146.1L409.70,146.0L409.20,146.1L408.70,146.1L408.20,145.9L407.70,146.1L407.20,146.5L406.70,145.8L406.20,146.0L405.70,146.0L405.20,146.4L404.70,146.3L404.20,146.5L403.70,146.6L403.20,146.9L402.70,147.0L402.20,146.9Z" fill="#000"/><path d="M402.20 133.8V154.1M402.70 135.3V151.8M403.20 130.7V147.4M403.70 134.8V148.7M404.20 135.0V150.0M404.70 134.9V147.0M405.20 136.8V146.2M405.70 136.1V146.4M406.20 136.9V148.0M406.70 138.6V146.3M407.20 137.8V145.1M407.70 134.5V148.0M408.20 136.6V144.2M408.70 136.0V145.4M409.20 137.7V149.1M409.70 136.7V146.9M410.20 134.4V147.1M410.70 135.9V146.5M411.20 136.7V148.4M411.70 133.2V146.2M412.20 136.1V144.0M412.70 136.8V146.5M413.20 134.5V142.9M413.70 138.1V143.8M414.20 135.2V149.6M414.70 136.8V149.6M415.20 136.4V146.5M415.70 136.6V146.7M416.20 135.0V147.4M416.70 134.5V150.2M417.20 134.5V146.1M417.70 135.1V145.5M418.20 133.2V145.5M418.70 132.3V146.8M419.20 134.4V147.3M419.70 134.0V146.3M420.20 136.5V147.8M420.70 137.4V144.9M421.20 134.4V146.8M421.70 135.8V145.5M422.20 133.9V145.3M422.70 138.0V149.2M423.20 129.8V145.8M423.70 137.7V144.8M424.20 136.4V146.0M424.70 134.4V144.9M425.20 137.7V147.6M425.70 136.6V148.3M426.20 138.2V148.7M426.70 137.6V145.1M427.20 137.9V146.7M427.70 135.3V151.5M428.20 134.2V147.2M428.70 133.4V153.8M429.20 126.1V157.7M429.70 123.4V148.7M430.20 128.1V159.9M430.70 127.5V159.1M431.20 125.5V162.7M431.70 126.7V167.9M432.20 115.6V160.1M432.70 121.1V159.4M433.20 123.1V164.1M433.70 123.1V157.6M434.20 119.0V161.9M434.70 125.7V150.0M435.20 119.4V173.1M435.70 122.9V155.9M436.20 114.7V160.7M436.70 115.9V159.6M437.20 130.5V156.9M437.70 125.4V157.1M438.20 118.9V158.3M438.70 126.5V150.5M439.20 118.4V155.2M439.70 121.1V165.5M440.20 118.0V154.2M440.70 120.2V155.4M441.20 115.9V178.0M441.70 113.6V172.8M442.20 125.4V177.8M442.70 120.2V166.5M443.20 121.9V167.3M443.70 104.0V169.2M444.20 114.3V168.0M444.70 115.3V161.8M445.20 115.9V155.1M445.70 120.2V159.0M446.20 122.7V154.4M446.70 110.0V177.0M447.20 119.3V160.9M447.70 104.0V161.4M448.20 117.5V163.4M448.70 118.9V161.0M449.20 122.5V162.5M449.70 122.1V155.7M450.20 121.5V152.2M450.70 110.8V171.1M451.20 104.0V155.3M451.70 128.6V155.0M452.20 122.5V153.4M452.70 119.5V154.5M453.20 127.4V157.6M453.70 126.1V162.0M454.20 126.3V152.3M454.70 131.6V160.5M455.20 114.2V157.5M455.70 119.5V170.0M456.20 121.3V153.8M456.70 119.7V160.7M457.20 118.4V164.9M457.70 104.0V154.8M458.20 119.4V160.4M458.70 113.1V161.9M459.20 122.8V156.3M459.70 116.1V160.2M460.20 119.8V169.9M460.70 118.8V164.0M461.20 123.1V160.0M461.70 120.5V163.6M462.20 112.5V167.1M462.70 109.5V174.9M463.20 110.2V172.3M463.70 121.0V169.1M464.20 114.1V177.1M464.70 129.4V155.3M465.20 112.6V153.7M465.70 120.3V150.6M466.20 117.8V166.2M466.70 110.5V150.8M467.20 121.1V161.3M467.70 110.0V167.6M468.20 120.6V154.9M468.70 111.9V159.4M469.20 119.3V161.6M469.70 115.0V167.9M470.20 104.0V155.1M470.70 123.4V162.4M471.20 123.6V164.4M471.70 119.0V164.0M472.20 117.6V161.4M472.70 104.0V172.1M473.20 122.8V162.0M473.70 129.7V159.8M474.20 120.4V161.5M474.70 124.5V170.2M475.20 122.9V158.7M475.70 119.0V165.2M476.20 126.9V158.5M476.70 123.7V168.0M477.20 129.4V155.5M477.70 121.3V158.2M478.20 127.1V158.5M478.70 115.2V160.0M479.20 113.0V166.9M479.70 124.0V163.4M480.20 123.5V164.1M480.70 119.2V175.9M481.20 117.7V162.5M481.70 129.2V153.7M482.20 123.0V151.8M482.70 110.0V160.5M483.20 124.4V154.7M483.70 121.6V158.8M484.20 124.2V155.3M484.70 127.7V166.3M485.20 118.6V162.7M485.70 121.4V152.6M486.20 122.4V158.3M486.70 116.7V157.0M487.20 116.1V152.9M487.70 130.3V161.6M488.20 118.3V157.8M488.70 122.8V163.2M489.20 120.2V178.0M489.70 124.8V167.7M490.20 125.6V166.0M490.70 115.8V156.0M491.20 122.5V152.7M491.70 124.4V164.6M492.20 126.3V154.1M492.70 126.0V154.3M493.20 127.6V151.8M493.70 134.8V152.7M494.20 130.6V166.1M494.70 127.6V152.8M495.20 123.0V152.9M495.70 119.7V154.6M496.20 128.6V157.2M496.70 107.4V152.9M497.20 123.0V150.3M497.70 120.7V154.4M498.20 127.0V155.1M498.70 127.6V152.6M499.20 114.5V152.6M499.70 126.8V151.4M500.20 126.3V153.3M500.70 119.9V154.2M501.20 117.5V148.9M501.70 132.2V151.8M502.20 127.9V155.2M502.70 127.3V153.3M503.20 115.5V150.1M503.70 110.4V153.2M504.20 125.9V155.2M504.70 124.3V158.6M505.20 124.0V148.5M505.70 123.4V155.3M506.20 130.2V150.7M506.70 126.5V152.2M507.20 133.0V152.4M507.70 136.6V148.2M508.20 134.0V148.9M508.70 126.7V153.4M509.20 122.9V158.0M509.70 134.0V152.3M510.20 132.5V150.2M510.70 126.9V152.1M511.20 135.8V156.4M511.70 124.6V159.8M512.20 124.4V151.0M512.70 136.4V150.9M513.20 126.3V151.6M513.70 130.5V151.2M514.20 121.3V150.2M514.70 125.2V153.1M515.20 127.1V156.1M515.70 124.2V156.9M516.20 119.1V156.8M516.70 123.6V152.5M517.20 121.7V156.3M517.70 129.7V154.4M518.20 123.5V160.7M518.70 126.4V162.1M519.20 116.5V155.8M519.70 127.1V162.3M520.20 126.7V153.7M520.70 130.9V151.6M521.20 125.6V149.0M521.70 128.7V154.3M522.20 130.9V151.3M522.70 122.1V152.4M523.20 119.5V154.8M523.70 130.1V152.0M524.20 130.7V150.5M524.70 123.3V152.8M525.20 131.8V152.0M525.70 113.4V152.3M526.20 130.0V154.3M526.70 126.3V150.8M527.20 133.2V151.1M527.70 130.9V157.2M528.20 125.8V155.2M528.70 128.9V150.8M529.20 131.3V149.1M529.70 117.0V150.5M530.20 125.1V154.5M530.70 129.4V156.2M531.20 129.9V166.8M531.70 128.2V153.2M532.20 116.6V157.1M532.70 126.3V156.8M533.20 121.3V160.0M533.70 127.1V156.1M534.20 113.9V153.8M534.70 124.0V164.1M535.20 117.7V158.8M535.70 120.6V165.0M536.20 128.5V153.2M536.70 122.4V156.5M537.20 122.6V157.0M537.70 132.1V147.9M538.20 123.8V150.0M538.70 104.0V157.4M539.20 130.0V152.8M539.70 126.3V147.7M540.20 131.9V151.4M540.70 124.1V151.3M541.20 128.5V153.4M541.70 122.7V163.0M542.20 125.7V153.6M542.70 129.2V170.3M543.20 118.9V155.1M543.70 127.2V152.3M544.20 130.4V163.0M544.70 125.1V160.8M545.20 130.2V161.8M545.70 124.2V166.5M546.20 126.8V160.0M546.70 128.0V161.1M547.20 122.1V149.9M547.70 130.7V152.5M548.20 121.0V157.3M548.70 132.3V157.2M549.20 115.1V160.0M549.70 122.6V155.5M550.20 122.4V168.0M550.70 125.4V175.2M551.20 119.2V162.1M551.70 125.2V161.4M552.20 125.0V159.8M552.70 120.3V160.1M553.20 128.2V155.9M553.70 128.0V152.5M554.20 126.8V153.6M554.70 123.2V153.7M555.20 128.4V149.0M555.70 127.9V153.7M556.20 127.8V153.4M556.70 124.6V154.2M557.20 119.1V152.2M557.70 130.2V156.6M558.20 127.0V157.6M558.70 124.4V153.9M559.20 118.9V160.2M559.70 111.2V163.4M560.20 124.9V159.9M560.70 125.8V151.2M561.20 119.7V151.4M561.70 130.6V155.2M562.20 128.8V151.5M562.70 128.1V169.9M563.20 126.2V151.8M563.70 124.0V152.6M564.20 127.5V158.7M564.70 115.2V153.1M565.20 128.8V147.9M565.70 128.3V152.8M566.20 122.0V150.3M566.70 123.8V151.6M567.20 125.9V149.5M567.70 124.2V151.3M568.20 120.9V154.4M568.70 124.7V155.4M569.20 119.0V152.6M569.70 127.8V153.6M570.20 123.1V153.2M570.70 131.3V155.8M571.20 127.7V155.9M571.70 128.5V151.9M572.20 116.3V159.2M572.70 127.8V152.0M573.20 124.2V156.3M573.70 129.3V151.5M574.20 126.7V155.8M574.70 126.7V154.4M575.20 129.4V154.6M575.70 118.7V158.7M576.20 129.6V160.2M576.70 118.5V158.3M577.20 104.0V157.3M577.70 124.6V153.8M578.20 120.1V159.1M578.70 127.5V151.1M579.20 121.9V149.8M579.70 130.6V155.4M580.20 118.2V156.7M580.70 123.7V168.9M581.20 131.4V159.4M581.70 129.3V162.6M582.20 130.4V155.0M582.70 125.7V158.1M583.20 118.1V163.4M583.70 126.2V158.7M584.20 129.2V157.9M584.70 127.7V157.0M585.20 124.1V152.3M585.70 134.0V151.3M586.20 122.1V150.4M586.70 125.4V155.2M587.20 134.4V152.8M587.70 124.1V149.8M588.20 133.7V153.3M588.70 129.5V150.5M589.20 121.3V158.1M589.70 132.3V164.1M590.20 132.7V156.4M590.70 129.8V152.8M591.20 126.9V152.6M591.70 123.3V171.8M592.20 126.5V158.9M592.70 127.2V151.5M593.20 128.0V160.1M593.70 125.8V150.1M594.20 131.0V151.6M594.70 127.3V151.6M595.20 128.0V151.8M595.70 131.6V149.5M596.20 116.7V167.1M596.70 131.7V152.2M597.20 123.0V155.9M597.70 127.6V156.7M598.20 123.1V150.2M598.70 120.7V154.6M599.20 116.2V159.7M599.70 113.7V162.5M600.20 128.2V154.8M600.70 104.7V156.6M601.20 124.3V153.3M601.70 129.3V157.4M602.20 131.7V147.2" stroke="#000" stroke-width="0.6"/><path d="M402.20 129.2V153.4M402.70 132.6V150.8M403.20 133.9V148.3M406.20 133.8V151.5M408.70 134.8V147.1M409.20 132.9V148.8M410.70 133.6V147.9M416.20 129.6V148.1M416.70 132.9V150.7M417.20 133.8V148.1M417.70 131.7V148.0M419.20 134.0V152.1M419.70 134.2V149.8M421.20 134.6V147.7M424.70 135.1V150.6M428.20 133.5V149.6M429.20 125.3V154.7M431.70 108.7V159.3M432.70 110.6V173.1M435.20 110.2V177.4M436.20 119.4V173.1M437.20 122.5V159.6M438.70 108.6V160.0M441.20 107.6V181.0M445.70 112.5V167.6M447.20 111.0V167.4M448.20 113.9V164.4M449.70 117.6V169.3M451.20 105.0V168.4M452.70 118.1V160.0M458.20 116.6V162.6M459.20 107.2V166.4M461.70 103.7V169.3M462.20 100.0V181.0M463.20 101.1V170.7M463.70 113.8V166.0M464.20 107.4V170.6M466.20 111.7V164.9M466.70 100.0V164.0M468.20 100.5V166.3M470.70 115.4V163.0M471.70 113.0V181.0M474.70 107.1V175.1M476.20 118.0V165.4M477.20 114.0V169.1M478.20 118.7V165.0M478.70 111.8V174.0M481.20 114.7V159.9M482.70 109.2V162.4M483.20 116.4V162.3M483.70 119.6V169.7M484.20 110.5V160.8M487.20 102.8V169.9M487.70 116.2V162.5M488.20 103.9V166.5M488.70 117.1V178.2M489.20 105.6V163.4M492.20 118.7V161.2M493.70 119.0V157.4M495.20 116.8V155.5M496.70 117.8V164.7M501.20 124.5V158.7M506.20 127.3V161.4M507.70 124.7V153.0M508.20 128.0V158.4M510.20 115.6V157.2M510.70 125.2V160.3M512.20 127.2V161.3M512.70 127.1V154.4M515.70 122.0V160.4M526.70 124.5V156.6M531.70 126.0V162.6M532.20 110.5V164.8M533.70 117.2V168.2M534.20 120.0V166.4M536.70 119.8V160.0M537.70 123.3V161.9M538.20 115.2V155.9M539.70 119.1V159.3M540.20 120.0V162.8M542.70 114.1V172.3M544.70 114.5V170.2M546.70 125.1V158.9M548.70 116.0V170.8M549.70 119.4V159.9M551.70 119.7V168.4M552.70 121.5V164.7M553.70 123.3V166.9M555.20 126.0V156.7M555.70 125.3V155.1M557.20 121.7V163.0M558.20 122.1V167.8M561.20 120.4V157.8M562.70 121.3V156.5M563.70 111.2V169.6M565.70 125.6V157.0M566.20 124.8V159.0M566.70 115.4V158.2M567.20 121.9V157.7M569.20 119.8V170.6M571.20 108.1V166.3M571.70 114.0V166.9M572.20 119.1V165.6M573.20 124.0V162.2M574.70 118.3V162.6M576.70 120.0V163.9M578.70 114.8V167.0M579.70 117.4V171.4M587.20 115.3V155.9M589.20 120.5V157.1M589.70 120.7V158.9M590.70 119.4V167.5M593.20 113.3V168.6M594.70 125.3V158.6M595.20 116.4V155.9M598.20 114.3V164.0M599.20 104.1V161.6M599.70 106.8V169.4M600.70 122.8V161.8M601.20 115.3V157.2M601.70 120.7V164.0" stroke="#000" stroke-width="0.4" stroke-opacity="0.55"/><path d="M402.4 125V162" stroke="#888" stroke-width="0.6"/><path d="M551.6 70.4V216" stroke="#888" stroke-width="0.6"/><path d="M577.6 89.7V192" stroke="#888" stroke-width="0.6"/><text x="53.4" y="87.4" font-size="8.6" text-anchor="end" fill="#111" >200,000</text><path d="M54.2 84.3H56" stroke="#bbb" stroke-width="0.8"/><text x="53.4" y="116.6" font-size="8.6" text-anchor="end" fill="#111" >100,000</text><path d="M54.2 113.5H56" stroke="#bbb" stroke-width="0.8"/><text x="53.4" y="145.9" font-size="8.6" text-anchor="end" fill="#111" >0</text><path d="M54.2 142.8H56" stroke="#bbb" stroke-width="0.8"/><text x="53.4" y="175.1" font-size="8.6" text-anchor="end" fill="#111" >-100,000</text><path d="M54.2 172.0H56" stroke="#bbb" stroke-width="0.8"/><text x="53.4" y="204.4" font-size="8.6" text-anchor="end" fill="#111" >-200,000</text><path d="M54.2 201.3H56" stroke="#bbb" stroke-width="0.8"/><text x="81.8" y="238.3" font-size="8.4" text-anchor="middle" fill="#111" >1000</text><path d="M84.3 223.5V227" stroke="#bbb" stroke-width="0.8"/><text x="111.6" y="238.3" font-size="8.4" text-anchor="middle" fill="#111" >2000</text><path d="M112.8 223.5V227" stroke="#bbb" stroke-width="0.8"/><text x="139.6" y="238.3" font-size="8.4" text-anchor="middle" fill="#111" >3000</text><path d="M141.3 223.5V227" stroke="#bbb" stroke-width="0.8"/><text x="169.3" y="238.3" font-size="8.4" text-anchor="middle" fill="#111" >4000</text><path d="M169.8 223.5V227" stroke="#bbb" stroke-width="0.8"/><text x="195.6" y="238.3" font-size="8.4" text-anchor="middle" fill="#111" >5000</text><path d="M198.3 223.5V227" stroke="#bbb" stroke-width="0.8"/><text x="223.2" y="238.3" font-size="8.4" text-anchor="middle" fill="#111" >6000</text><path d="M226.8 223.5V227" stroke="#bbb" stroke-width="0.8"/><text x="253.0" y="238.3" font-size="8.4" text-anchor="middle" fill="#111" >7000</text><path d="M255.3 223.5V227" stroke="#bbb" stroke-width="0.8"/><path d="M56.4 230.5V235.5" stroke="#c8c8c8" stroke-width="1"/><text x="399.0" y="78.0" font-size="8.6" text-anchor="end" fill="#111" >40,000</text><path d="M399.6 74.9H401.5" stroke="#bbb" stroke-width="0.8"/><text x="399.0" y="111.2" font-size="8.6" text-anchor="end" fill="#111" >20,000</text><path d="M399.6 108.1H401.5" stroke="#bbb" stroke-width="0.8"/><text x="399.0" y="144.4" font-size="8.6" text-anchor="end" fill="#111" >0</text><path d="M399.6 141.3H401.5" stroke="#bbb" stroke-width="0.8"/><text x="399.0" y="177.7" font-size="8.6" text-anchor="end" fill="#111" >-20,000</text><path d="M399.6 174.6H401.5" stroke="#bbb" stroke-width="0.8"/><text x="399.0" y="210.9" font-size="8.6" text-anchor="end" fill="#111" >-40,000</text><path d="M399.6 207.8H401.5" stroke="#bbb" stroke-width="0.8"/><text x="427.3" y="238.3" font-size="8.4" text-anchor="middle" fill="#111" >1000</text><path d="M428.5 223V226.5" stroke="#bbb" stroke-width="0.8"/><text x="456.4" y="238.3" font-size="8.4" text-anchor="middle" fill="#111" >2000</text><path d="M456.7 223V226.5" stroke="#bbb" stroke-width="0.8"/><text x="484.4" y="238.3" font-size="8.4" text-anchor="middle" fill="#111" >3000</text><path d="M484.9 223V226.5" stroke="#bbb" stroke-width="0.8"/><text x="514.4" y="238.3" font-size="8.4" text-anchor="middle" fill="#111" >4000</text><path d="M513.0 223V226.5" stroke="#bbb" stroke-width="0.8"/><text x="540.1" y="238.3" font-size="8.4" text-anchor="middle" fill="#111" >5000</text><path d="M541.2 223V226.5" stroke="#bbb" stroke-width="0.8"/><text x="568.3" y="238.3" font-size="8.4" text-anchor="middle" fill="#111" >6000</text><path d="M569.4 223V226.5" stroke="#bbb" stroke-width="0.8"/><text x="596.5" y="238.3" font-size="8.4" text-anchor="middle" fill="#111" >7000</text><path d="M597.6 223V226.5" stroke="#bbb" stroke-width="0.8"/><path d="M401.8 230.5V235.5" stroke="#c8c8c8" stroke-width="1"/><text x="0" y="0" font-size="9.1" text-anchor="middle" dy="0.35em" fill="#111" transform="translate(13.8,152.0) rotate(-90)">Amplitude [counts]</text><text x="0" y="0" font-size="9.1" text-anchor="middle" dy="0.35em" fill="#111" transform="translate(362.8,151.0) rotate(-90)">Amplitude [counts]</text><text x="77.0" y="75.3" font-size="9.7" text-anchor="start" fill="#111" >06:24</text><text x="77.0" y="88.0" font-size="9.7" text-anchor="start" fill="#111" >Precursor</text><text x="77.0" y="101.0" font-size="9.7" text-anchor="start" fill="#111" >onset</text><text x="187.2" y="75.1" font-size="9.7" text-anchor="start" fill="#111" >07:22</text><text x="187.2" y="88.0" font-size="9.7" text-anchor="start" fill="#111" >Crater</text><text x="187.2" y="100.8" font-size="9.7" text-anchor="start" fill="#111" >collapse and</text><text x="187.2" y="113.6" font-size="9.7" text-anchor="start" fill="#111" >overflow</text><text x="409.6" y="78.4" font-size="9.7" text-anchor="start" fill="#111" >05:38</text><text x="409.6" y="91.2" font-size="9.7" text-anchor="start" fill="#111" >Precursor</text><text x="409.6" y="104.2" font-size="9.7" text-anchor="start" fill="#111" >onset</text><text x="472.1" y="78.1" font-size="9.7" text-anchor="start" fill="#111" >06:18</text><text x="472.1" y="91.2" font-size="9.7" text-anchor="start" fill="#111" >Overflow onset</text><text x="105.6" y="204.9" font-size="9.6" text-anchor="start" fill="#111" >Explosions</text><text x="121.6" y="37.7" font-size="12.9" text-anchor="start" fill="#111" >2022-10-09</text><text x="459.7" y="38.4" font-size="12.9" text-anchor="start" fill="#111" letter-spacing="0.24">2022-11-16</text><text x="294.2" y="20.0" font-size="16" text-anchor="start" fill="#111" >a</text><text x="646.3" y="20.0" font-size="16" text-anchor="start" fill="#111" >b</text><rect x="56" y="297.80" width="3.3" height="2.0" fill="#46307e" opacity="0.4"/><rect x="61.2" y="297.80" width="4.8" height="2.0" fill="#46337f" opacity="0.4"/><rect x="66.9" y="297.80" width="4.4" height="2.0" fill="#46327e" opacity="0.4"/><rect x="72.3" y="297.80" width="1.5" height="2.0" fill="#453581" opacity="0.4"/><rect x="75.4" y="297.80" width="2.7" height="2.0" fill="#482173" opacity="0.4"/><rect x="79.7" y="297.80" width="3.1" height="2.0" fill="#482576" opacity="0.4"/><rect x="83.3" y="297.80" width="2.2" height="2.0" fill="#472a7a" opacity="0.4"/><rect x="86.3" y="297.80" width="2.5" height="2.0" fill="#433e85" opacity="0.4"/><rect x="89.9" y="297.80" width="4.9" height="2.0" fill="#482878" opacity="0.4"/><rect x="96.3" y="297.80" width="2.5" height="2.0" fill="#472f7d" opacity="0.4"/><rect x="99.3" y="297.80" width="1.9" height="2.0" fill="#482374" opacity="0.4"/><rect x="102.6" y="297.80" width="3.7" height="2.0" fill="#453781" opacity="0.4"/><rect x="108.1" y="297.80" width="3.4" height="2.0" fill="#472e7c" opacity="0.4"/><rect x="112.5" y="297.80" width="3.8" height="2.0" fill="#481d6f" opacity="0.4"/><rect x="118.0" y="297.80" width="2.4" height="2.0" fill="#482979" opacity="0.4"/><rect x="122.2" y="297.80" width="3.3" height="2.0" fill="#482071" opacity="0.4"/><rect x="127.0" y="297.80" width="4.4" height="2.0" fill="#46307e" opacity="0.4"/><rect x="132.9" y="297.80" width="2.1" height="2.0" fill="#482173" opacity="0.4"/><rect x="136.7" y="297.80" width="1.8" height="2.0" fill="#443b84" opacity="0.4"/><rect x="140.2" y="297.80" width="4.6" height="2.0" fill="#482475" opacity="0.4"/><rect x="145.9" y="297.80" width="1.5" height="2.0" fill="#481769" opacity="0.4"/><rect x="148.8" y="297.80" width="4.5" height="2.0" fill="#482173" opacity="0.4"/><rect x="154.0" y="297.80" width="3.8" height="2.0" fill="#46085c" opacity="0.4"/><rect x="159.5" y="297.80" width="2.0" height="2.0" fill="#482576" opacity="0.4"/><rect x="162.6" y="297.80" width="3.0" height="2.0" fill="#472f7d" opacity="0.4"/><rect x="166.9" y="297.80" width="3.8" height="2.0" fill="#460b5e" opacity="0.4"/><rect x="172.6" y="297.80" width="4.6" height="2.0" fill="#443983" opacity="0.4"/><rect x="178.6" y="297.80" width="1.9" height="2.0" fill="#471365" opacity="0.4"/><rect x="56" y="317.30" width="2.4" height="3.4" fill="#3c508b" opacity="0.55"/><rect x="59.2" y="317.30" width="1.8" height="3.4" fill="#30698e" opacity="0.55"/><rect x="62.4" y="317.30" width="2.1" height="3.4" fill="#365c8d" opacity="0.55"/><rect x="64.9" y="317.30" width="3.8" height="3.4" fill="#3b528b" opacity="0.55"/><rect x="70.0" y="317.30" width="3.0" height="3.4" fill="#355f8d" opacity="0.55"/><rect x="74.4" y="317.30" width="3.7" height="3.4" fill="#3d4d8a" opacity="0.55"/><rect x="80.1" y="317.30" width="2.9" height="3.4" fill="#32658e" opacity="0.55"/><rect x="83.6" y="317.30" width="3.3" height="3.4" fill="#355e8d" opacity="0.55"/><rect x="88.7" y="317.30" width="2.6" height="3.4" fill="#2a768e" opacity="0.55"/><rect x="93.2" y="317.30" width="3.9" height="3.4" fill="#433e85" opacity="0.55"/><rect x="97.6" y="317.30" width="2.2" height="3.4" fill="#31688e" opacity="0.55"/><rect x="101.6" y="317.30" width="4.5" height="3.4" fill="#365c8d" opacity="0.55"/><rect x="107.5" y="317.30" width="3.3" height="3.4" fill="#414487" opacity="0.55"/><rect x="112.1" y="317.30" width="3.0" height="3.4" fill="#2c728e" opacity="0.55"/><rect x="116.9" y="317.30" width="4.4" height="3.4" fill="#3d4e8a" opacity="0.55"/><rect x="122.5" y="317.30" width="2.7" height="3.4" fill="#2f6c8e" opacity="0.55"/><rect x="126.3" y="317.30" width="1.9" height="3.4" fill="#31688e" opacity="0.55"/><rect x="128.6" y="317.30" width="3.1" height="3.4" fill="#306a8e" opacity="0.55"/><rect x="133.5" y="317.30" width="2.8" height="3.4" fill="#297b8e" opacity="0.55"/><rect x="138.3" y="317.30" width="4.2" height="3.4" fill="#3e4a89" opacity="0.55"/><rect x="143.5" y="317.30" width="2.1" height="3.4" fill="#3a548c" opacity="0.55"/><rect x="146.2" y="317.30" width="1.5" height="3.4" fill="#404588" opacity="0.55"/><rect x="149.5" y="317.30" width="3.0" height="3.4" fill="#306a8e" opacity="0.55"/><rect x="153.7" y="317.30" width="3.2" height="3.4" fill="#39568c" opacity="0.55"/><rect x="158.8" y="317.30" width="3.5" height="3.4" fill="#39558c" opacity="0.55"/><rect x="163.7" y="317.30" width="4.9" height="3.4" fill="#2c728e" opacity="0.55"/><rect x="169.2" y="317.30" width="3.5" height="3.4" fill="#3b528b" opacity="0.55"/><rect x="173.1" y="317.30" width="4.7" height="3.4" fill="#39558c" opacity="0.55"/><rect x="179.4" y="317.30" width="1.1" height="3.4" fill="#3f4889" opacity="0.55"/><rect x="56" y="333.30" width="1.8" height="2.6" fill="#29798e" opacity="0.6"/><rect x="58.5" y="333.30" width="3.5" height="2.6" fill="#2d708e" opacity="0.6"/><rect x="62.5" y="333.30" width="3.2" height="2.6" fill="#31668e" opacity="0.6"/><rect x="66.2" y="333.30" width="1.9" height="2.6" fill="#2e6e8e" opacity="0.6"/><rect x="69.1" y="333.30" width="3.0" height="2.6" fill="#32648e" opacity="0.6"/><rect x="73.4" y="333.30" width="4.9" height="2.6" fill="#2d708e" opacity="0.6"/><rect x="79.0" y="333.30" width="4.0" height="2.6" fill="#2c738e" opacity="0.6"/><rect x="83.8" y="333.30" width="4.9" height="2.6" fill="#2f6c8e" opacity="0.6"/><rect x="89.5" y="333.30" width="4.6" height="2.6" fill="#21908d" opacity="0.6"/><rect x="95.4" y="333.30" width="4.2" height="2.6" fill="#26828e" opacity="0.6"/><rect x="100.0" y="333.30" width="2.8" height="2.6" fill="#2e6f8e" opacity="0.6"/><rect x="103.2" y="333.30" width="4.8" height="2.6" fill="#2b748e" opacity="0.6"/><rect x="108.6" y="333.30" width="2.6" height="2.6" fill="#26828e" opacity="0.6"/><rect x="115" y="333.30" width="26.0" height="2.6" fill="#25848e" opacity="0.9"/><rect x="141" y="333.50" width="4.8" height="2.2" fill="#27808e" opacity="0.5"/><rect x="147.0" y="333.50" width="1.8" height="2.2" fill="#31678e" opacity="0.5"/><rect x="150.1" y="333.50" width="4.3" height="2.2" fill="#3d4d8a" opacity="0.5"/><rect x="155.0" y="333.50" width="3.4" height="2.2" fill="#277e8e" opacity="0.5"/><rect x="160.2" y="333.50" width="3.0" height="2.2" fill="#3c4f8a" opacity="0.5"/><rect x="164.9" y="333.50" width="2.8" height="2.2" fill="#2a778e" opacity="0.5"/><rect x="169.6" y="333.50" width="2.1" height="2.2" fill="#365d8d" opacity="0.5"/><rect x="173.1" y="333.50" width="4.8" height="2.2" fill="#32658e" opacity="0.5"/><rect x="179.3" y="333.50" width="1.2" height="2.2" fill="#31678e" opacity="0.5"/><rect x="71.9" y="256" width="1.0" height="116" fill="#3b528b" opacity="0.6"/><rect x="57.7" y="256" width="1.0" height="116" fill="#463480" opacity="0.4"/><rect x="87.2" y="256" width="1.0" height="94" fill="#472a7a" opacity="0.4"/><rect x="401" y="334.60" width="69.0" height="2.4" fill="#31678e" opacity="0.8"/><rect x="470" y="334.70" width="11.0" height="2.2" fill="#31678e" opacity="0.4"/><rect x="401" y="317.80" width="3.4" height="2.0" fill="#471164" opacity="0.45"/><rect x="405.3" y="317.80" width="2.8" height="2.0" fill="#424186" opacity="0.45"/><rect x="410.1" y="317.80" width="3.8" height="2.0" fill="#3c4f8a" opacity="0.45"/><rect x="414.8" y="317.80" width="1.9" height="2.0" fill="#3d4d8a" opacity="0.45"/><rect x="417.1" y="317.80" width="1.5" height="2.0" fill="#463480" opacity="0.45"/><rect x="420.6" y="317.80" width="4.2" height="2.0" fill="#38598c" opacity="0.45"/><rect x="425.2" y="317.80" width="4.5" height="2.0" fill="#414287" opacity="0.45"/><rect x="430.7" y="317.80" width="2.0" height="2.0" fill="#463480" opacity="0.45"/><rect x="433.3" y="317.80" width="4.1" height="2.0" fill="#482576" opacity="0.45"/><rect x="438.7" y="317.80" width="4.5" height="2.0" fill="#46337f" opacity="0.45"/><rect x="443.7" y="317.80" width="3.6" height="2.0" fill="#3f4889" opacity="0.45"/><rect x="448.1" y="317.80" width="4.6" height="2.0" fill="#424086" opacity="0.45"/><rect x="453.8" y="317.80" width="0.2" height="2.0" fill="#423f85" opacity="0.45"/><rect x="472.1" y="256" width="1.0" height="44" fill="#2f6c8e" opacity="0.5"/><rect x="482.9" y="256" width="1.0" height="124" fill="#2f6c8e" opacity="0.45"/><rect x="465" y="281.30" width="13.8" height="2.0" fill="#d2e21b" opacity="0.95"/><rect x="478.6" y="280.70" width="11.7" height="2.0" fill="#d2e21b" opacity="0.95"/><rect x="472.6" y="305.00" width="6.5" height="2.0" fill="#9bd93c" opacity="0.95"/><rect x="401" y="268.50" width="2.5" height="2.0" fill="#2f6c8e" opacity="0.8"/><rect x="590" y="280.90" width="13.5" height="1.2" fill="#22a884" opacity="0.6"/><rect x="590" y="304.90" width="13.5" height="1.2" fill="#22a884" opacity="0.5"/><path d="M56 256.2H261" stroke="#2d5a72" stroke-width="1.4" opacity="0.85"/><path d="M401 256.2H603.5" stroke="#3a6f80" stroke-width="1.4" opacity="0.85"/><path d="M56 415.1H261" stroke="#8c8a2a" stroke-width="0.9" opacity="0.8"/><path d="M401 415.1H603.5" stroke="#7a9a30" stroke-width="0.9" opacity="0.8"/><text x="52.4" y="258.7" font-size="8.4" text-anchor="end" fill="#111" >25</text><path d="M52.5 256.0H55.5" stroke="#bbb" stroke-width="0.7"/><text x="52.4" y="290.6" font-size="8.4" text-anchor="end" fill="#111" >20</text><path d="M52.5 287.9H55.5" stroke="#bbb" stroke-width="0.7"/><text x="52.4" y="322.4" font-size="8.4" text-anchor="end" fill="#111" >15</text><path d="M52.5 319.7H55.5" stroke="#bbb" stroke-width="0.7"/><text x="52.4" y="354.2" font-size="8.4" text-anchor="end" fill="#111" >10</text><path d="M52.5 351.6H55.5" stroke="#bbb" stroke-width="0.7"/><text x="52.4" y="386.1" font-size="8.4" text-anchor="end" fill="#111" >5</text><path d="M52.5 383.4H55.5" stroke="#bbb" stroke-width="0.7"/><text x="52.4" y="417.9" font-size="8.4" text-anchor="end" fill="#111" >0</text><path d="M52.5 415.2H55.5" stroke="#bbb" stroke-width="0.7"/><text x="397.9" y="259.4" font-size="8.4" text-anchor="end" fill="#111" >25</text><path d="M397.6 256.4H400.5" stroke="#bbb" stroke-width="0.7"/><text x="397.9" y="291.4" font-size="8.4" text-anchor="end" fill="#111" >20</text><path d="M397.6 288.4H400.5" stroke="#bbb" stroke-width="0.7"/><text x="397.9" y="323.5" font-size="8.4" text-anchor="end" fill="#111" >15</text><path d="M397.6 320.5H400.5" stroke="#bbb" stroke-width="0.7"/><text x="397.9" y="355.5" font-size="8.4" text-anchor="end" fill="#111" >10</text><path d="M397.6 352.5H400.5" stroke="#bbb" stroke-width="0.7"/><text x="397.9" y="387.6" font-size="8.4" text-anchor="end" fill="#111" >5</text><path d="M397.6 384.6H400.5" stroke="#bbb" stroke-width="0.7"/><text x="397.9" y="419.6" font-size="8.4" text-anchor="end" fill="#111" >0</text><path d="M397.6 416.6H400.5" stroke="#bbb" stroke-width="0.7"/><text x="80.1" y="428.9" font-size="8.4" text-anchor="middle" fill="#111" >1000</text><path d="M84.1 415.5V418" stroke="#bbb" stroke-width="0.7"/><text x="109.9" y="428.9" font-size="8.4" text-anchor="middle" fill="#111" >2000</text><path d="M112.6 415.5V418" stroke="#bbb" stroke-width="0.7"/><text x="137.7" y="428.9" font-size="8.4" text-anchor="middle" fill="#111" >3000</text><path d="M141.2 415.5V418" stroke="#bbb" stroke-width="0.7"/><text x="167.5" y="428.9" font-size="8.4" text-anchor="middle" fill="#111" >4000</text><path d="M169.8 415.5V418" stroke="#bbb" stroke-width="0.7"/><text x="193.6" y="428.9" font-size="8.4" text-anchor="middle" fill="#111" >5000</text><path d="M198.3 415.5V418" stroke="#bbb" stroke-width="0.7"/><text x="221.4" y="428.9" font-size="8.4" text-anchor="middle" fill="#111" >6000</text><path d="M226.8 415.5V418" stroke="#bbb" stroke-width="0.7"/><text x="251.4" y="428.9" font-size="8.4" text-anchor="middle" fill="#111" >7000</text><path d="M255.4 415.5V418" stroke="#bbb" stroke-width="0.7"/><text x="426.7" y="428.9" font-size="8.4" text-anchor="middle" fill="#111" >1000</text><path d="M429.1 415.8V418" stroke="#bbb" stroke-width="0.7"/><text x="456.4" y="428.9" font-size="8.4" text-anchor="middle" fill="#111" >2000</text><path d="M457.2 415.8V418" stroke="#bbb" stroke-width="0.7"/><text x="484.4" y="428.9" font-size="8.4" text-anchor="middle" fill="#111" >3000</text><path d="M485.3 415.8V418" stroke="#bbb" stroke-width="0.7"/><text x="514.3" y="428.9" font-size="8.4" text-anchor="middle" fill="#111" >4000</text><path d="M513.3 415.8V418" stroke="#bbb" stroke-width="0.7"/><text x="540.2" y="428.9" font-size="8.4" text-anchor="middle" fill="#111" >5000</text><path d="M541.4 415.8V418" stroke="#bbb" stroke-width="0.7"/><text x="567.9" y="428.9" font-size="8.4" text-anchor="middle" fill="#111" >6000</text><path d="M569.5 415.8V418" stroke="#bbb" stroke-width="0.7"/><text x="597.8" y="428.9" font-size="8.4" text-anchor="middle" fill="#111" >7000</text><path d="M597.6 415.8V418" stroke="#bbb" stroke-width="0.7"/><text x="154.9" y="445.3" font-size="8.9" text-anchor="middle" fill="#111" >Time [s]</text><text x="493.0" y="445.3" font-size="8.9" text-anchor="middle" fill="#111" >Time [s]</text><text x="0" y="0" font-size="9.0" text-anchor="middle" dy="0.35em" fill="#111" transform="translate(15.3,327.0) rotate(-90)">Frequency [Hz]</text><text x="0" y="0" font-size="9.0" text-anchor="middle" dy="0.35em" fill="#111" transform="translate(366.8,329.5) rotate(-90)">Frequency [Hz]</text><rect x="290" y="301" width="10.2" height="111" fill="url(#cb)"/><path d="M300.2 307.9h1.5" stroke="#ccc" stroke-width="0.6"/><path d="M300.2 321.8h1.5" stroke="#ccc" stroke-width="0.6"/><path d="M300.2 335.7h1.5" stroke="#ccc" stroke-width="0.6"/><path d="M300.2 349.6h1.5" stroke="#ccc" stroke-width="0.6"/><path d="M300.2 363.4h1.5" stroke="#ccc" stroke-width="0.6"/><path d="M300.2 377.3h1.5" stroke="#ccc" stroke-width="0.6"/><path d="M300.2 391.2h1.5" stroke="#ccc" stroke-width="0.6"/><path d="M300.2 405.1h1.5" stroke="#ccc" stroke-width="0.6"/><text x="305.5" y="305.9" font-size="8.6" text-anchor="start" fill="#111" >High</text><text x="305.5" y="411.9" font-size="8.6" text-anchor="start" fill="#111" >Low</text><text x="0" y="0" font-size="9.1" text-anchor="middle" dy="0.35em" fill="#111" transform="translate(275.6,353.0) rotate(-90)">PSD [V**2/Hz]</text><rect x="635.2" y="301" width="10.2" height="111" fill="url(#cb)"/><path d="M645.4 307.9h1.5" stroke="#ccc" stroke-width="0.6"/><path d="M645.4 321.8h1.5" stroke="#ccc" stroke-width="0.6"/><path d="M645.4 335.7h1.5" stroke="#ccc" stroke-width="0.6"/><path d="M645.4 349.6h1.5" stroke="#ccc" stroke-width="0.6"/><path d="M645.4 363.4h1.5" stroke="#ccc" stroke-width="0.6"/><path d="M645.4 377.3h1.5" stroke="#ccc" stroke-width="0.6"/><path d="M645.4 391.2h1.5" stroke="#ccc" stroke-width="0.6"/><path d="M645.4 405.1h1.5" stroke="#ccc" stroke-width="0.6"/><text x="656.9" y="305.9" font-size="8.6" text-anchor="start" fill="#111" >High</text><text x="656.9" y="411.9" font-size="8.6" text-anchor="start" fill="#111" >Low</text><text x="0" y="0" font-size="9.1" text-anchor="middle" dy="0.35em" fill="#111" transform="translate(621.3,353.0) rotate(-90)">PSD [V**2/Hz]</text><path d="M79.9 154.4V246.0" stroke="#f00" stroke-width="2.5"/><path d="M76.0 245.2L83.8 245.2L79.9 253.0Z" fill="#f00"/><path d="M180.8 154.2V246.0" stroke="#f00" stroke-width="2.5"/><path d="M176.9 245.2L184.7 245.2L180.8 253.0Z" fill="#f00"/><path d="M427.4 149V241.2" stroke="#f00" stroke-width="2.5"/><path d="M423.5 240.4L431.3 240.4L427.4 248.2Z" fill="#f00"/><path d="M490.0 148.8V241.2" stroke="#f00" stroke-width="2.5"/><path d="M486.1 240.4L493.9 240.4L490.0 248.2Z" fill="#f00"/><path d="M131.9 190.7L73.16 159.13" stroke="#4f7fcc" stroke-width="0.75"/><path d="M67.70 156.20L74.49 156.67L71.84 161.60Z" fill="#4472c4"/><path d="M131.9 190.7L97.13 161.21" stroke="#4f7fcc" stroke-width="0.75"/><path d="M92.40 157.20L98.94 159.07L95.32 163.35Z" fill="#4472c4"/><path d="M131.9 190.7L118.23 158.70" stroke="#4f7fcc" stroke-width="0.75"/><path d="M115.80 153.00L120.81 157.60L115.66 159.80Z" fill="#4472c4"/><path d="M131.9 190.7L137.94 163.85" stroke="#4f7fcc" stroke-width="0.75"/><path d="M139.30 157.80L140.67 164.46L135.21 163.23Z" fill="#4472c4"/><path d="M131.9 190.7L211.18 161.54" stroke="#4f7fcc" stroke-width="0.75"/><path d="M217.00 159.40L212.15 164.17L210.21 158.91Z" fill="#4472c4"/><path d="M3.5 453V2.5H683.5V453" fill="none" stroke="#3c3c3c" stroke-width="1.1"/><path d="M3 453.7H684" stroke="#777" stroke-width="1.6"/><path d="M347.5 2.5V453.5" stroke="#3c3c3c" stroke-width="1.1"/>
</svg></body></html>
